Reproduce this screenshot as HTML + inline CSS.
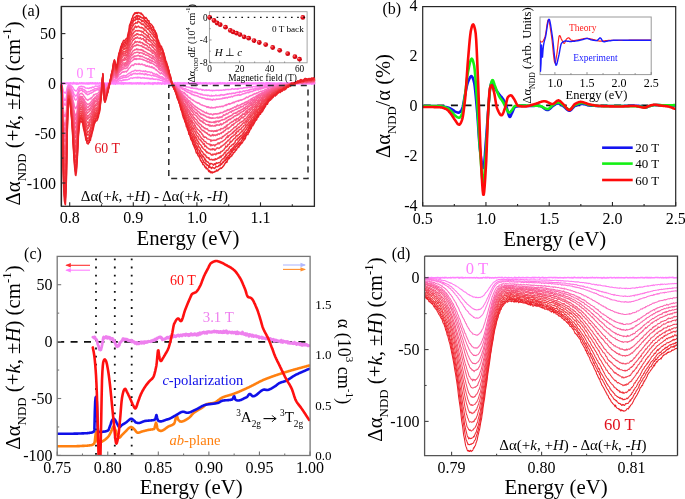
<!DOCTYPE html>
<html><head><meta charset="utf-8"><style>html,body{margin:0;padding:0;background:#fff;}svg{display:block;will-change:transform;}</style></head>
<body><svg width="685" height="499" viewBox="0 0 685 499"><defs><radialGradient id="sph" cx="0.35" cy="0.35" r="0.7"><stop offset="0" stop-color="#ff9a9a"/><stop offset="0.35" stop-color="#e8101a"/><stop offset="1" stop-color="#c00010"/></radialGradient></defs><g><rect width="685" height="499" fill="#fff"/>
<rect x="61.4" y="6.5" width="252.99999999999997" height="199.8" fill="none" stroke="#262626" stroke-width="1.3"/>
<clipPath id="ca"><rect x="59.9" y="6.5" width="255.99999999999997" height="199.8"/></clipPath>
<g clip-path="url(#ca)">
<polyline points="61.4,83.5 61.9,83.6 62.4,83.5 62.9,83.1 63.4,83.6 63.9,83.5 64.4,83.3 64.9,83.5 65.4,83.5 65.9,83.5 66.4,83.4 66.9,83.5 67.4,83.2 67.9,83.4 68.4,83.3 68.9,83.5 69.4,83.4 69.9,83.3 70.4,83.2 70.9,83.3 71.4,83.4 71.9,83.3 72.4,83.7 72.9,83.6 73.4,82.8 73.9,83.0 74.4,83.4 74.9,83.3 75.4,83.4 75.9,83.4 76.4,83.8 76.9,83.2 77.4,83.3 77.9,83.8 78.4,83.5 78.9,83.5 79.4,83.3 79.9,83.1 80.4,83.4 80.9,83.4 81.4,83.1 81.9,83.3 82.4,83.4 82.9,83.2 83.4,83.4 83.9,83.4 84.4,83.4 84.9,83.3 85.4,83.5 85.9,83.6 86.4,83.5 86.9,83.2 87.4,83.6 87.9,83.3 88.4,83.6 88.9,83.2 89.4,83.6 89.9,83.4 90.4,83.1 90.9,83.3 91.4,83.4 91.9,83.5 92.4,83.2 92.9,83.2 93.4,83.4 93.9,83.3 94.4,83.4 94.9,83.6 95.4,83.1 95.9,83.5 96.4,83.7 96.9,83.3 97.4,83.2 97.9,83.6 98.4,83.5 98.9,83.6 99.4,83.3 99.9,83.1 100.4,83.4 100.9,83.3 101.4,83.6 101.9,83.4 102.4,83.1 102.9,83.1 103.4,83.6 103.9,83.5 104.4,83.3 104.9,83.4 105.4,83.5 105.9,83.5 106.4,83.6 106.9,83.5 107.4,83.4 107.9,83.3 108.4,83.6 108.9,82.9 109.4,83.4 109.9,83.4 110.4,83.1 110.9,83.5 111.4,83.3 111.9,83.6 112.4,83.4 112.9,83.5 113.4,83.7 113.9,83.5 114.4,83.2 114.9,83.1 115.4,83.8 115.9,83.4 116.4,83.3 116.9,83.4 117.4,83.4 117.9,83.6 118.4,83.4 118.9,83.4 119.4,83.2 119.9,83.5 120.4,83.2 120.9,83.5 121.4,83.7 121.9,83.1 122.4,82.9 122.9,83.5 123.4,83.9 123.9,83.2 124.4,83.1 124.9,83.5 125.4,83.2 125.9,83.3 126.4,83.3 126.9,83.5 127.4,83.3 127.9,83.5 128.4,83.4 128.9,83.2 129.4,83.3 129.9,83.2 130.4,83.4 130.9,83.2 131.4,83.2 131.9,83.7 132.4,83.4 132.9,83.4 133.4,83.5 133.9,83.3 134.4,83.4 134.9,83.5 135.4,83.5 135.9,83.2 136.4,83.6 136.9,83.3 137.4,83.2 137.9,83.2 138.4,83.3 138.9,83.7 139.4,83.2 139.9,83.4 140.4,83.0 140.9,83.4 141.4,83.6 141.9,83.4 142.4,83.3 142.9,83.4 143.4,83.5 143.9,83.5 144.4,83.8 144.9,83.4 145.4,83.3 145.9,83.4 146.4,83.4 146.9,83.4 147.4,83.4 147.9,83.4 148.4,83.0 148.9,83.6 149.4,83.3 149.9,83.2 150.4,83.5 150.9,83.7 151.4,83.5 151.9,83.4 152.4,83.2 152.9,84.0 153.4,83.6 153.9,83.2 154.4,83.2 154.9,83.4 155.4,83.1 155.9,83.4 156.4,83.3 156.9,83.7 157.4,83.6 157.9,82.8 158.4,83.4 158.9,83.1 159.4,83.6 159.9,83.4 160.4,83.5 160.9,83.2 161.4,83.8 161.9,83.8 162.4,83.2 162.9,83.5 163.4,83.3 163.9,83.4 164.4,83.1 164.9,83.8 165.4,83.2 165.9,83.3 166.4,83.5 166.9,83.3 167.4,83.3 167.9,83.3 168.4,83.4 168.9,83.2 169.4,83.3 169.9,83.4 170.4,83.3 170.9,83.4 171.4,83.3 171.9,83.6 172.4,83.3 172.9,83.4 173.4,83.3 173.9,83.3 174.4,83.1 174.9,83.5 175.4,83.2 175.9,83.2 176.4,83.5 176.9,83.5 177.4,83.3 177.9,83.0 178.4,83.5 178.9,83.5 179.4,83.1 179.9,83.6 180.4,83.3 180.9,83.2 181.4,83.4 181.9,83.4 182.4,83.4 182.9,83.1 183.4,83.8 183.9,83.3 184.4,83.1 184.9,83.5 185.4,83.3 185.9,83.5 186.4,83.3 186.9,83.4 187.4,83.5 187.9,83.2 188.4,83.5 188.9,83.3 189.4,83.2 189.9,83.4 190.4,83.5 190.9,83.4 191.4,83.2 191.9,83.5 192.4,83.0 192.9,83.2 193.4,83.4 193.9,83.1 194.4,83.4 194.9,83.4 195.4,83.6 195.9,83.2 196.4,83.3 196.9,83.5 197.4,82.9 197.9,84.1 198.4,83.3 198.9,83.2 199.4,83.6 199.9,83.4 200.4,83.0 200.9,83.5 201.4,83.6 201.9,83.3 202.4,83.3 202.9,83.5 203.4,83.2 203.9,83.5 204.4,83.4 204.9,83.3 205.4,83.1 205.9,83.4 206.4,83.2 206.9,83.6 207.4,83.4 207.9,83.6 208.4,83.4 208.9,83.5 209.4,83.2 209.9,83.5 210.4,83.8 210.9,83.3 211.4,83.3 211.9,83.4 212.4,83.3 212.9,83.3 213.4,83.4 213.9,83.3 214.4,83.7 214.9,83.4 215.4,83.5 215.9,83.6 216.4,83.3 216.9,83.7 217.4,83.3 217.9,83.2 218.4,83.3 218.9,83.4 219.4,83.1 219.9,83.4 220.4,83.0 220.9,83.7 221.4,83.4 221.9,83.3 222.4,83.2 222.9,83.3 223.4,83.4 223.9,83.2 224.4,83.2 224.9,83.4 225.4,83.3 225.9,83.6 226.4,83.6 226.9,83.4 227.4,83.5 227.9,83.1 228.4,83.5 228.9,83.4 229.4,83.5 229.9,83.7 230.4,82.9 230.9,83.5 231.4,83.2 231.9,83.5 232.4,83.1 232.9,83.3 233.4,83.4 233.9,83.5 234.4,83.4 234.9,83.2 235.4,83.3 235.9,83.6 236.4,83.4 236.9,83.0 237.4,83.6 237.9,83.5 238.4,83.6 238.9,83.3 239.4,83.6 239.9,83.2 240.4,83.5 240.9,83.3 241.4,83.5 241.9,83.6 242.4,83.2 242.9,83.4 243.4,83.4 243.9,83.6 244.4,83.5 244.9,83.1 245.4,83.5 245.9,83.6 246.4,83.8 246.9,83.0 247.4,83.3 247.9,83.7 248.4,83.1 248.9,83.1 249.4,83.5 249.9,83.6 250.4,83.3 250.9,83.5 251.4,83.4 251.9,83.7 252.4,83.4 252.9,83.6 253.4,83.2 253.9,83.4 254.4,83.4 254.9,83.6 255.4,83.5 255.9,83.2 256.4,83.5 256.9,83.6 257.4,83.4 257.9,83.3 258.4,83.4 258.9,83.0 259.4,83.4 259.9,83.4 260.4,83.2 260.9,83.6 261.4,83.1 261.9,83.3 262.4,83.3 262.9,83.8 263.4,83.1 263.9,83.5 264.4,83.6 264.9,83.5 265.4,83.6 265.9,83.2 266.4,82.9 266.9,83.6 267.4,83.1 267.9,83.3 268.4,83.2 268.9,83.6 269.4,83.6 269.9,83.2 270.4,83.6 270.9,83.4 271.4,83.4 271.9,83.4 272.4,83.4 272.9,83.5 273.4,83.5 273.9,83.3 274.4,83.6 274.9,83.3 275.4,83.5 275.9,83.5 276.4,83.7 276.9,83.3 277.4,83.8 277.9,83.4 278.4,83.4 278.9,83.3 279.4,83.5 279.9,83.4 280.4,83.2 280.9,83.2 281.4,83.3 281.9,83.3 282.4,83.6 282.9,83.7 283.4,83.6 283.9,83.5 284.4,83.3 284.9,83.4 285.4,83.6 285.9,83.8 286.4,83.6 286.9,83.3 287.4,83.4 287.9,83.3 288.4,83.2 288.9,83.4 289.4,83.4 289.9,83.8 290.4,83.4 290.9,83.7 291.4,83.8 291.9,83.4 292.4,83.7 292.9,83.6 293.4,83.3 293.9,83.5 294.4,83.4 294.9,83.4 295.4,83.4 295.9,83.4 296.4,83.5 296.9,83.2 297.4,83.4 297.9,83.1 298.4,83.5 298.9,83.5 299.4,83.4 299.9,83.5 300.4,83.5 300.9,83.3 301.4,83.3 301.9,83.5 302.4,83.6 302.9,83.5 303.4,83.9 303.9,83.4 304.4,83.6 304.9,83.7 305.4,83.4 305.9,83.2 306.4,83.2 306.9,83.4 307.4,83.6 307.9,83.5 308.4,83.4 308.9,83.3 309.4,83.5 309.9,83.0 310.4,83.4 310.9,83.4 311.4,83.1 311.9,83.9 312.4,83.1 312.9,83.2 313.4,83.1 313.9,83.6 314.4,83.2" fill="none" stroke="#ff80ff" stroke-width="2.2" stroke-linejoin="round" stroke-linecap="round"/>
<polyline points="61.4,83.8 61.9,84.9 62.4,87.0 62.9,89.0 63.4,91.0 63.9,92.6 64.4,92.5 64.9,92.9 65.4,93.1 65.9,92.7 66.4,91.3 66.9,88.9 67.4,86.7 67.9,85.7 68.4,84.9 68.9,84.3 69.4,85.2 69.9,85.6 70.4,85.0 70.9,85.6 71.4,86.4 71.9,86.3 72.4,86.8 72.9,87.7 73.4,88.6 73.9,89.3 74.4,90.1 74.9,90.5 75.4,90.4 75.9,90.9 76.4,90.9 76.9,90.3 77.4,89.6 77.9,88.5 78.4,87.9 78.9,86.9 79.4,86.9 79.9,86.4 80.4,86.6 80.9,86.5 81.4,86.2 81.9,86.5 82.4,86.8 82.9,86.4 83.4,86.8 83.9,86.9 84.4,86.9 84.9,87.7 85.4,88.0 85.9,88.1 86.4,88.1 86.9,88.1 87.4,88.3 87.9,88.1 88.4,88.4 88.9,88.4 89.4,88.3 89.9,87.8 90.4,87.9 90.9,87.7 91.4,88.0 91.9,87.5 92.4,86.9 92.9,87.2 93.4,87.4 93.9,87.0 94.4,86.9 94.9,86.6 95.4,86.0 95.9,86.0 96.4,86.1 96.9,86.3 97.4,86.3 97.9,86.3 98.4,86.0 98.9,86.2 99.4,85.7 99.9,85.4 100.4,85.3 100.9,84.5 101.4,83.7 101.9,83.6 102.4,83.1 102.9,81.9 103.4,83.4 103.9,84.1 104.4,84.5 104.9,84.6 105.4,84.7 105.9,84.6 106.4,84.8 106.9,84.5 107.4,83.8 107.9,83.8 108.4,84.0 108.9,84.1 109.4,83.6 109.9,83.4 110.4,83.5 110.9,82.9 111.4,82.6 111.9,82.1 112.4,82.2 112.9,82.6 113.4,81.5 113.9,81.7 114.4,81.2 114.9,81.6 115.4,82.0 115.9,82.0 116.4,82.3 116.9,82.1 117.4,81.9 117.9,81.9 118.4,81.4 118.9,81.0 119.4,80.7 119.9,80.5 120.4,80.7 120.9,80.4 121.4,81.0 121.9,80.7 122.4,80.1 122.9,80.0 123.4,80.4 123.9,79.5 124.4,79.9 124.9,80.2 125.4,79.7 125.9,79.8 126.4,79.8 126.9,79.9 127.4,79.7 127.9,79.6 128.4,79.4 128.9,79.1 129.4,79.2 129.9,78.5 130.4,78.2 130.9,78.0 131.4,78.0 131.9,78.1 132.4,78.4 132.9,78.1 133.4,77.8 133.9,77.6 134.4,77.7 134.9,77.7 135.4,77.7 135.9,77.4 136.4,77.6 136.9,78.0 137.4,77.2 137.9,77.7 138.4,77.2 138.9,77.8 139.4,77.6 139.9,77.3 140.4,77.8 140.9,78.3 141.4,77.9 141.9,78.2 142.4,77.9 142.9,77.4 143.4,78.1 143.9,77.9 144.4,77.7 144.9,78.3 145.4,78.2 145.9,78.1 146.4,78.4 146.9,78.1 147.4,78.5 147.9,78.2 148.4,78.6 148.9,78.2 149.4,78.9 149.9,78.6 150.4,79.0 150.9,78.5 151.4,78.6 151.9,79.0 152.4,78.2 152.9,78.6 153.4,79.2 153.9,79.1 154.4,79.3 154.9,79.1 155.4,79.4 155.9,79.1 156.4,79.1 156.9,79.1 157.4,79.6 157.9,79.7 158.4,79.8 158.9,79.3 159.4,79.8 159.9,80.2 160.4,80.4 160.9,80.3 161.4,80.2 161.9,80.0 162.4,81.1 162.9,80.4 163.4,81.2 163.9,81.4 164.4,81.2 164.9,81.1 165.4,81.5 165.9,81.3 166.4,81.8 166.9,81.9 167.4,82.1 167.9,82.4 168.4,82.7 168.9,82.3 169.4,82.8 169.9,82.5 170.4,82.6 170.9,82.9 171.4,83.0 171.9,83.6 172.4,83.7 172.9,83.9 173.4,83.7 173.9,83.9 174.4,83.7 174.9,83.7 175.4,84.2 175.9,84.3 176.4,84.1 176.9,84.6 177.4,84.2 177.9,84.7 178.4,84.7 178.9,84.8 179.4,84.8 179.9,85.4 180.4,85.5 180.9,85.7 181.4,85.6 181.9,85.4 182.4,85.8 182.9,85.7 183.4,86.2 183.9,86.5 184.4,86.4 184.9,86.3 185.4,86.5 185.9,86.8 186.4,86.5 186.9,87.0 187.4,87.1 187.9,87.0 188.4,87.2 188.9,87.4 189.4,87.3 189.9,87.4 190.4,87.9 190.9,87.9 191.4,88.3 191.9,87.8 192.4,87.7 192.9,88.4 193.4,88.5 193.9,88.2 194.4,88.2 194.9,88.6 195.4,88.3 195.9,88.7 196.4,88.3 196.9,88.9 197.4,88.5 197.9,89.1 198.4,89.6 198.9,89.2 199.4,89.5 199.9,89.3 200.4,89.3 200.9,89.2 201.4,89.9 201.9,89.7 202.4,90.2 202.9,89.5 203.4,89.8 203.9,90.0 204.4,90.3 204.9,90.5 205.4,89.9 205.9,89.9 206.4,89.8 206.9,90.5 207.4,90.2 207.9,90.1 208.4,90.3 208.9,89.8 209.4,90.0 209.9,90.6 210.4,90.5 210.9,90.5 211.4,90.2 211.9,90.6 212.4,90.9 212.9,90.2 213.4,90.5 213.9,90.4 214.4,90.5 214.9,90.4 215.4,90.4 215.9,90.2 216.4,90.4 216.9,90.2 217.4,90.3 217.9,90.3 218.4,90.5 218.9,90.1 219.4,90.2 219.9,90.5 220.4,90.2 220.9,90.1 221.4,90.4 221.9,90.2 222.4,90.1 222.9,90.1 223.4,89.7 223.9,90.0 224.4,90.2 224.9,90.0 225.4,89.4 225.9,89.8 226.4,89.5 226.9,89.6 227.4,89.6 227.9,89.2 228.4,89.8 228.9,89.4 229.4,89.6 229.9,89.5 230.4,89.6 230.9,89.5 231.4,88.8 231.9,89.1 232.4,88.6 232.9,88.9 233.4,89.2 233.9,89.1 234.4,89.2 234.9,88.7 235.4,88.9 235.9,88.8 236.4,89.0 236.9,89.0 237.4,88.5 237.9,89.4 238.4,88.5 238.9,88.4 239.4,88.5 239.9,88.5 240.4,88.4 240.9,88.1 241.4,88.5 241.9,88.2 242.4,88.5 242.9,88.4 243.4,87.7 243.9,87.7 244.4,87.6 244.9,87.9 245.4,87.8 245.9,87.8 246.4,87.4 246.9,87.7 247.4,87.8 247.9,87.1 248.4,87.3 248.9,87.3 249.4,87.2 249.9,87.1 250.4,87.5 250.9,87.3 251.4,87.1 251.9,86.7 252.4,87.3 252.9,86.8 253.4,86.5 253.9,86.5 254.4,86.4 254.9,87.0 255.4,86.4 255.9,86.4 256.4,85.8 256.9,86.4 257.4,85.9 257.9,85.8 258.4,86.2 258.9,85.8 259.4,86.1 259.9,86.1 260.4,85.4 260.9,85.7 261.4,85.3 261.9,85.6 262.4,85.8 262.9,85.2 263.4,85.9 263.9,85.3 264.4,85.1 264.9,85.3 265.4,85.4 265.9,84.8 266.4,85.1 266.9,84.7 267.4,85.3 267.9,85.0 268.4,84.8 268.9,85.1 269.4,84.5 269.9,84.6 270.4,85.1 270.9,84.6 271.4,84.9 271.9,84.6 272.4,84.4 272.9,84.4 273.4,84.5 273.9,84.3 274.4,84.2 274.9,84.2 275.4,84.0 275.9,84.3 276.4,84.4 276.9,84.4 277.4,83.8 277.9,84.4 278.4,84.1 278.9,83.8 279.4,84.1 279.9,84.3 280.4,84.2 280.9,84.2 281.4,84.2 281.9,84.2 282.4,83.9 282.9,83.4 283.4,83.7 283.9,84.0 284.4,83.7 284.9,84.0 285.4,84.0 285.9,83.8 286.4,84.2 286.9,83.5 287.4,83.9 287.9,83.6 288.4,83.5 288.9,83.8 289.4,83.5 289.9,83.8 290.4,83.3 290.9,83.5 291.4,83.3 291.9,83.4 292.4,83.4 292.9,83.2 293.4,83.6 293.9,83.1 294.4,83.1 294.9,83.6 295.4,83.6 295.9,83.5 296.4,83.4 296.9,83.8 297.4,83.0 297.9,83.1 298.4,83.0 298.9,83.4 299.4,83.3 299.9,83.5 300.4,83.4 300.9,83.1 301.4,83.0 301.9,82.9 302.4,83.7 302.9,83.4 303.4,83.3 303.9,83.0 304.4,83.1 304.9,83.0 305.4,83.0 305.9,82.5 306.4,83.1 306.9,83.0 307.4,83.1 307.9,83.1 308.4,83.3 308.9,83.1 309.4,83.2 309.9,82.4 310.4,82.8 310.9,83.4 311.4,82.7 311.9,83.0 312.4,83.2 312.9,82.8 313.4,83.2 313.9,82.7 314.4,82.5" fill="none" stroke="#ff7cef" stroke-width="1.45" stroke-linejoin="round" stroke-linecap="round"/>
<polyline points="61.4,83.4 61.9,85.3 62.4,89.6 62.9,93.5 63.4,96.9 63.9,98.5 64.4,100.4 64.9,100.2 65.4,100.2 65.9,99.3 66.4,97.0 66.9,92.5 67.4,89.6 67.9,87.2 68.4,85.9 68.9,85.9 69.4,85.7 69.9,86.0 70.4,87.1 70.9,87.1 71.4,88.2 71.9,89.2 72.4,90.4 72.9,91.0 73.4,92.6 73.9,93.8 74.4,94.7 74.9,95.0 75.4,96.1 75.9,95.5 76.4,95.8 76.9,95.0 77.4,93.9 77.9,91.9 78.4,91.0 78.9,89.6 79.4,88.8 79.9,88.4 80.4,88.3 80.9,88.6 81.4,88.9 81.9,88.2 82.4,88.7 82.9,89.4 83.4,89.5 83.9,89.9 84.4,89.8 84.9,90.8 85.4,90.5 85.9,91.3 86.4,91.8 86.9,92.2 87.4,91.9 87.9,92.0 88.4,91.6 88.9,91.5 89.4,91.8 89.9,91.3 90.4,91.1 90.9,90.6 91.4,90.8 91.9,90.6 92.4,90.0 92.9,89.8 93.4,90.0 93.9,89.4 94.4,89.0 94.9,88.6 95.4,88.6 95.9,88.6 96.4,89.0 96.9,88.3 97.4,88.8 97.9,88.0 98.4,88.0 98.9,88.1 99.4,87.5 99.9,86.9 100.4,86.4 100.9,85.9 101.4,84.6 101.9,84.1 102.4,82.8 102.9,82.0 103.4,83.7 103.9,84.7 104.4,85.8 104.9,86.1 105.4,86.1 105.9,85.6 106.4,85.7 106.9,84.9 107.4,85.2 107.9,84.3 108.4,84.2 108.9,84.0 109.4,84.1 109.9,83.4 110.4,82.7 110.9,82.8 111.4,82.1 111.9,81.6 112.4,81.6 112.9,81.1 113.4,80.9 113.9,80.2 114.4,80.3 114.9,80.4 115.4,80.7 115.9,81.0 116.4,80.9 116.9,81.1 117.4,80.6 117.9,80.2 118.4,79.5 118.9,79.3 119.4,78.8 119.9,78.8 120.4,78.7 120.9,78.3 121.4,78.3 121.9,78.0 122.4,78.1 122.9,77.6 123.4,77.1 123.9,77.6 124.4,77.4 124.9,77.2 125.4,77.5 125.9,77.4 126.4,77.4 126.9,77.0 127.4,77.0 127.9,76.7 128.4,76.7 128.9,75.8 129.4,75.6 129.9,75.4 130.4,74.5 130.9,74.4 131.4,75.2 131.9,74.0 132.4,74.4 132.9,73.9 133.4,73.8 133.9,73.3 134.4,73.5 134.9,73.9 135.4,73.3 135.9,73.8 136.4,73.7 136.9,74.1 137.4,73.5 137.9,73.9 138.4,73.8 138.9,73.5 139.4,73.2 139.9,74.1 140.4,73.3 140.9,73.6 141.4,74.0 141.9,74.1 142.4,73.6 142.9,73.9 143.4,73.9 143.9,74.4 144.4,74.8 144.9,73.7 145.4,74.5 145.9,73.6 146.4,74.4 146.9,74.2 147.4,75.1 147.9,74.7 148.4,74.6 148.9,74.7 149.4,74.8 149.9,75.1 150.4,75.1 150.9,75.4 151.4,75.7 151.9,75.6 152.4,75.2 152.9,75.2 153.4,75.5 153.9,76.1 154.4,75.8 154.9,75.9 155.4,76.2 155.9,75.9 156.4,76.2 156.9,76.8 157.4,76.9 157.9,77.1 158.4,77.6 158.9,77.6 159.4,77.7 159.9,77.9 160.4,78.3 160.9,78.2 161.4,78.0 161.9,78.3 162.4,78.7 162.9,79.2 163.4,78.7 163.9,79.3 164.4,79.4 164.9,79.9 165.4,80.1 165.9,80.6 166.4,80.6 166.9,80.6 167.4,80.8 167.9,81.3 168.4,81.5 168.9,82.3 169.4,82.4 169.9,81.9 170.4,82.5 170.9,82.4 171.4,82.6 171.9,83.5 172.4,83.7 172.9,83.5 173.4,84.3 173.9,83.8 174.4,83.9 174.9,84.6 175.4,84.7 175.9,84.8 176.4,85.0 176.9,85.3 177.4,85.4 177.9,85.6 178.4,85.4 178.9,85.8 179.4,86.5 179.9,86.4 180.4,86.9 180.9,87.3 181.4,87.1 181.9,87.5 182.4,88.2 182.9,88.1 183.4,88.6 183.9,88.7 184.4,88.7 184.9,88.7 185.4,88.7 185.9,88.9 186.4,89.5 186.9,89.7 187.4,89.7 187.9,90.2 188.4,90.0 188.9,90.6 189.4,90.6 189.9,90.7 190.4,90.9 190.9,91.1 191.4,91.9 191.9,91.0 192.4,91.7 192.9,92.1 193.4,92.1 193.9,92.0 194.4,92.7 194.9,92.2 195.4,92.3 195.9,92.9 196.4,92.5 196.9,92.4 197.4,93.4 197.9,93.5 198.4,93.7 198.9,93.5 199.4,93.8 199.9,93.6 200.4,94.5 200.9,94.3 201.4,94.4 201.9,93.9 202.4,94.7 202.9,95.0 203.4,95.0 203.9,95.0 204.4,94.9 204.9,94.9 205.4,95.2 205.9,95.2 206.4,95.2 206.9,95.2 207.4,95.8 207.9,95.1 208.4,95.5 208.9,95.4 209.4,95.8 209.9,96.0 210.4,96.0 210.9,95.9 211.4,95.3 211.9,96.3 212.4,95.9 212.9,95.7 213.4,95.7 213.9,95.6 214.4,95.8 214.9,95.7 215.4,95.5 215.9,94.9 216.4,95.6 216.9,95.7 217.4,95.6 217.9,95.4 218.4,95.5 218.9,95.6 219.4,95.2 219.9,95.7 220.4,94.8 220.9,94.9 221.4,94.9 221.9,94.5 222.4,94.8 222.9,95.3 223.4,95.2 223.9,94.8 224.4,95.1 224.9,94.7 225.4,94.4 225.9,94.5 226.4,94.3 226.9,94.4 227.4,93.8 227.9,94.3 228.4,93.9 228.9,94.1 229.4,93.4 229.9,93.6 230.4,93.7 230.9,93.8 231.4,93.2 231.9,93.8 232.4,93.4 232.9,93.1 233.4,93.4 233.9,93.1 234.4,93.2 234.9,93.5 235.4,93.0 235.9,92.5 236.4,92.5 236.9,92.7 237.4,92.5 237.9,92.1 238.4,92.1 238.9,92.3 239.4,92.7 239.9,91.3 240.4,92.1 240.9,91.8 241.4,92.0 241.9,91.9 242.4,91.6 242.9,91.2 243.4,91.0 243.9,90.8 244.4,91.5 244.9,91.0 245.4,90.8 245.9,90.8 246.4,90.4 246.9,90.7 247.4,90.8 247.9,90.7 248.4,89.9 248.9,90.5 249.4,89.8 249.9,89.4 250.4,89.5 250.9,89.4 251.4,89.5 251.9,89.2 252.4,88.9 252.9,89.1 253.4,89.6 253.9,88.8 254.4,89.0 254.9,88.7 255.4,89.3 255.9,88.0 256.4,88.7 256.9,88.0 257.4,88.0 257.9,88.1 258.4,88.8 258.9,87.7 259.4,87.3 259.9,88.0 260.4,87.4 260.9,87.4 261.4,87.4 261.9,87.3 262.4,87.2 262.9,87.2 263.4,87.1 263.9,87.1 264.4,86.7 264.9,86.5 265.4,86.3 265.9,86.6 266.4,86.4 266.9,86.4 267.4,86.3 267.9,86.5 268.4,86.0 268.9,86.1 269.4,85.5 269.9,85.4 270.4,85.6 270.9,85.3 271.4,85.7 271.9,85.1 272.4,85.4 272.9,84.7 273.4,85.0 273.9,85.1 274.4,85.1 274.9,84.6 275.4,85.1 275.9,85.2 276.4,85.1 276.9,84.7 277.4,84.7 277.9,84.5 278.4,84.9 278.9,85.0 279.4,84.5 279.9,84.1 280.4,84.6 280.9,84.7 281.4,83.7 281.9,84.4 282.4,84.9 282.9,84.5 283.4,84.4 283.9,84.3 284.4,84.5 284.9,83.9 285.4,83.9 285.9,84.2 286.4,83.8 286.9,84.0 287.4,83.4 287.9,84.1 288.4,84.1 288.9,83.8 289.4,83.8 289.9,84.1 290.4,83.4 290.9,83.4 291.4,83.3 291.9,83.4 292.4,83.3 292.9,83.5 293.4,83.3 293.9,83.0 294.4,83.0 294.9,83.6 295.4,83.3 295.9,83.2 296.4,83.2 296.9,83.2 297.4,83.4 297.9,83.3 298.4,83.0 298.9,82.9 299.4,82.8 299.9,82.7 300.4,83.4 300.9,82.8 301.4,82.5 301.9,82.8 302.4,82.8 302.9,83.0 303.4,82.7 303.9,83.1 304.4,83.0 304.9,83.2 305.4,83.4 305.9,83.6 306.4,83.2 306.9,82.6 307.4,82.7 307.9,82.9 308.4,83.4 308.9,83.0 309.4,83.1 309.9,82.7 310.4,82.9 310.9,83.0 311.4,82.6 311.9,82.9 312.4,83.0 312.9,82.7 313.4,83.0 313.9,83.1 314.4,82.7" fill="none" stroke="#ff79e3" stroke-width="1.45" stroke-linejoin="round" stroke-linecap="round"/>
<polyline points="61.4,83.9 61.9,86.3 62.4,91.4 62.9,96.8 63.4,100.9 63.9,103.4 64.4,104.6 64.9,105.0 65.4,105.2 65.9,104.2 66.4,101.0 66.9,95.3 67.4,91.9 67.9,88.3 68.4,86.3 68.9,86.5 69.4,86.5 69.9,87.5 70.4,87.4 70.9,88.4 71.4,89.9 71.9,90.5 72.4,92.5 72.9,93.6 73.4,95.7 73.9,97.0 74.4,98.2 74.9,99.4 75.4,100.1 75.9,99.9 76.4,99.8 76.9,98.7 77.4,97.4 77.9,95.3 78.4,92.7 78.9,92.2 79.4,91.2 79.9,90.2 80.4,90.4 80.9,90.6 81.4,90.1 81.9,90.0 82.4,90.5 82.9,91.7 83.4,91.4 83.9,91.5 84.4,92.2 84.9,92.5 85.4,93.1 85.9,93.7 86.4,93.2 86.9,94.3 87.4,94.8 87.9,94.4 88.4,94.2 88.9,94.5 89.4,93.6 89.9,93.4 90.4,93.1 90.9,93.2 91.4,93.1 91.9,92.6 92.4,92.5 92.9,92.2 93.4,91.7 93.9,90.9 94.4,90.8 94.9,91.0 95.4,90.2 95.9,90.3 96.4,90.1 96.9,90.0 97.4,89.6 97.9,89.3 98.4,90.2 98.9,89.5 99.4,88.7 99.9,88.2 100.4,87.5 100.9,86.4 101.4,85.7 101.9,84.2 102.4,82.5 102.9,81.7 103.4,83.4 103.9,84.6 104.4,86.7 104.9,87.0 105.4,86.8 105.9,86.0 106.4,86.0 106.9,85.7 107.4,84.8 107.9,84.3 108.4,84.6 108.9,83.8 109.4,83.9 109.9,83.7 110.4,82.5 110.9,82.0 111.4,81.7 111.9,81.5 112.4,80.5 112.9,80.7 113.4,80.1 113.9,79.6 114.4,79.1 114.9,79.5 115.4,80.0 115.9,79.9 116.4,81.0 116.9,80.1 117.4,79.7 117.9,78.9 118.4,78.6 118.9,78.4 119.4,77.5 119.9,76.9 120.4,76.9 120.9,76.4 121.4,76.2 121.9,76.1 122.4,75.9 122.9,76.2 123.4,75.4 123.9,75.7 124.4,75.5 124.9,75.9 125.4,76.2 125.9,75.5 126.4,75.8 126.9,75.0 127.4,74.5 127.9,74.2 128.4,73.7 128.9,73.4 129.4,73.1 129.9,73.1 130.4,72.6 130.9,72.3 131.4,71.8 131.9,71.5 132.4,71.4 132.9,71.3 133.4,71.1 133.9,71.0 134.4,70.7 134.9,70.2 135.4,70.3 135.9,70.4 136.4,71.0 136.9,70.4 137.4,70.7 137.9,70.9 138.4,70.6 138.9,70.5 139.4,70.5 139.9,70.4 140.4,70.8 140.9,71.1 141.4,71.0 141.9,71.1 142.4,71.1 142.9,71.5 143.4,70.9 143.9,71.2 144.4,71.5 144.9,71.7 145.4,70.8 145.9,71.4 146.4,71.6 146.9,71.5 147.4,72.1 147.9,72.0 148.4,72.0 148.9,71.7 149.4,71.9 149.9,72.1 150.4,72.7 150.9,72.3 151.4,72.2 151.9,72.5 152.4,72.9 152.9,73.6 153.4,74.0 153.9,73.3 154.4,73.8 154.9,74.1 155.4,74.3 155.9,74.1 156.4,74.0 156.9,74.5 157.4,74.4 157.9,75.4 158.4,75.9 158.9,75.4 159.4,76.2 159.9,76.4 160.4,76.8 160.9,77.0 161.4,76.9 161.9,76.6 162.4,76.9 162.9,77.6 163.4,77.4 163.9,77.9 164.4,78.7 164.9,78.6 165.4,78.6 165.9,79.2 166.4,79.7 166.9,79.8 167.4,80.5 167.9,80.9 168.4,80.7 168.9,81.0 169.4,81.5 169.9,81.5 170.4,82.3 170.9,82.5 171.4,83.2 171.9,83.2 172.4,83.4 172.9,84.4 173.4,83.8 173.9,84.1 174.4,84.3 174.9,84.7 175.4,84.7 175.9,85.2 176.4,85.3 176.9,85.7 177.4,86.2 177.9,86.6 178.4,86.8 178.9,86.7 179.4,87.3 179.9,87.5 180.4,87.8 180.9,87.6 181.4,88.6 181.9,88.6 182.4,89.4 182.9,89.4 183.4,89.2 183.9,89.4 184.4,90.4 184.9,90.1 185.4,90.8 185.9,90.8 186.4,91.8 186.9,91.5 187.4,92.1 187.9,92.4 188.4,92.1 188.9,92.4 189.4,93.2 189.9,93.0 190.4,93.0 190.9,93.8 191.4,94.4 191.9,93.9 192.4,94.5 192.9,94.3 193.4,95.0 193.9,94.8 194.4,95.4 194.9,95.4 195.4,95.4 195.9,95.7 196.4,95.7 196.9,95.8 197.4,96.0 197.9,96.4 198.4,96.3 198.9,96.9 199.4,97.1 199.9,97.3 200.4,97.2 200.9,97.5 201.4,97.6 201.9,98.1 202.4,97.7 202.9,98.0 203.4,98.1 203.9,98.3 204.4,98.2 204.9,98.4 205.4,98.9 205.9,98.6 206.4,99.1 206.9,99.5 207.4,99.4 207.9,98.6 208.4,99.4 208.9,99.4 209.4,99.5 209.9,99.0 210.4,99.7 210.9,99.2 211.4,99.9 211.9,99.8 212.4,100.2 212.9,99.4 213.4,99.1 213.9,99.8 214.4,99.7 214.9,99.4 215.4,99.8 215.9,99.6 216.4,99.0 216.9,99.2 217.4,99.1 217.9,99.2 218.4,99.2 218.9,98.9 219.4,99.0 219.9,99.2 220.4,98.9 220.9,98.8 221.4,98.7 221.9,98.7 222.4,98.1 222.9,98.6 223.4,98.1 223.9,98.3 224.4,97.8 224.9,98.3 225.4,98.0 225.9,97.5 226.4,97.8 226.9,97.4 227.4,98.0 227.9,97.5 228.4,97.1 228.9,97.2 229.4,97.0 229.9,97.3 230.4,96.9 230.9,96.9 231.4,96.3 231.9,96.7 232.4,96.9 232.9,96.4 233.4,96.1 233.9,96.1 234.4,95.6 234.9,95.8 235.4,95.4 235.9,95.6 236.4,95.3 236.9,95.1 237.4,95.4 237.9,94.7 238.4,95.0 238.9,94.5 239.4,95.3 239.9,95.2 240.4,94.8 240.9,95.0 241.4,94.5 241.9,94.4 242.4,94.0 242.9,93.8 243.4,93.9 243.9,93.6 244.4,93.5 244.9,93.7 245.4,93.3 245.9,92.8 246.4,93.0 246.9,92.7 247.4,92.6 247.9,92.3 248.4,92.7 248.9,92.8 249.4,91.8 249.9,92.1 250.4,91.9 250.9,91.3 251.4,91.5 251.9,91.7 252.4,91.4 252.9,91.4 253.4,90.5 253.9,90.5 254.4,90.6 254.9,90.5 255.4,90.3 255.9,90.0 256.4,89.9 256.9,89.7 257.4,89.8 257.9,88.8 258.4,89.9 258.9,89.2 259.4,88.8 259.9,89.2 260.4,88.5 260.9,88.9 261.4,88.6 261.9,88.7 262.4,88.6 262.9,88.6 263.4,88.0 263.9,87.9 264.4,87.9 264.9,87.3 265.4,87.8 265.9,87.5 266.4,86.9 266.9,87.5 267.4,87.4 267.9,86.6 268.4,86.9 268.9,87.0 269.4,86.8 269.9,86.2 270.4,86.0 270.9,86.2 271.4,86.0 271.9,86.1 272.4,86.0 272.9,86.1 273.4,85.7 273.9,85.7 274.4,86.5 274.9,85.6 275.4,85.7 275.9,85.5 276.4,85.5 276.9,85.1 277.4,85.4 277.9,85.2 278.4,85.4 278.9,85.6 279.4,85.1 279.9,85.2 280.4,84.6 280.9,84.9 281.4,85.2 281.9,84.7 282.4,84.5 282.9,84.7 283.4,84.5 283.9,84.4 284.4,84.3 284.9,84.9 285.4,84.1 285.9,84.2 286.4,84.1 286.9,84.5 287.4,84.0 287.9,84.4 288.4,84.0 288.9,83.9 289.4,83.5 289.9,84.1 290.4,83.9 290.9,83.8 291.4,83.6 291.9,83.5 292.4,83.2 292.9,83.8 293.4,83.5 293.9,83.3 294.4,83.2 294.9,83.3 295.4,83.2 295.9,83.7 296.4,83.4 296.9,83.0 297.4,82.8 297.9,83.0 298.4,82.8 298.9,83.1 299.4,83.1 299.9,83.2 300.4,83.1 300.9,82.9 301.4,83.1 301.9,82.6 302.4,82.8 302.9,83.1 303.4,82.9 303.9,82.4 304.4,82.5 304.9,82.3 305.4,83.2 305.9,82.3 306.4,82.7 306.9,83.2 307.4,83.0 307.9,83.0 308.4,82.5 308.9,82.8 309.4,83.5 309.9,82.6 310.4,82.7 310.9,82.5 311.4,82.6 311.9,82.7 312.4,82.9 312.9,82.3 313.4,82.1 313.9,82.5 314.4,82.5" fill="none" stroke="#ff77db" stroke-width="1.45" stroke-linejoin="round" stroke-linecap="round"/>
<polyline points="61.4,84.6 61.9,88.2 62.4,95.5 62.9,103.7 63.4,110.2 63.9,113.7 64.4,115.5 64.9,116.8 65.4,116.5 65.9,114.0 66.4,110.7 66.9,101.2 67.4,95.4 67.9,90.3 68.4,87.9 68.9,87.7 69.4,87.9 69.9,89.1 70.4,89.6 70.9,90.9 71.4,92.9 71.9,94.8 72.4,96.9 72.9,99.7 73.4,101.9 73.9,103.6 74.4,105.9 74.9,107.4 75.4,108.6 75.9,108.5 76.4,107.4 76.9,106.3 77.4,104.2 77.9,100.4 78.4,98.1 78.9,96.1 79.4,94.6 79.9,94.0 80.4,93.6 80.9,93.4 81.4,93.8 81.9,93.3 82.4,94.0 82.9,94.6 83.4,94.9 83.9,96.1 84.4,96.8 84.9,97.3 85.4,98.2 85.9,99.0 86.4,99.6 86.9,99.5 87.4,100.1 87.9,100.3 88.4,99.8 88.9,99.4 89.4,99.1 89.9,98.9 90.4,98.3 90.9,98.9 91.4,97.6 91.9,97.5 92.4,96.9 92.9,96.4 93.4,95.5 93.9,94.6 94.4,95.1 94.9,94.3 95.4,94.1 95.9,93.9 96.4,94.1 96.9,93.7 97.4,93.6 97.9,93.2 98.4,92.6 98.9,92.2 99.4,91.4 99.9,90.1 100.4,89.2 100.9,87.7 101.4,87.4 101.9,85.3 102.4,82.5 102.9,80.7 103.4,84.2 103.9,85.7 104.4,88.0 104.9,88.4 105.4,88.1 105.9,87.8 106.4,87.3 106.9,87.3 107.4,86.5 107.9,86.0 108.4,85.1 108.9,84.3 109.4,83.5 109.9,82.6 110.4,82.0 110.9,81.5 111.4,81.1 111.9,79.7 112.4,79.1 112.9,78.9 113.4,77.7 113.9,77.6 114.4,77.0 114.9,77.0 115.4,77.5 115.9,78.6 116.4,78.7 116.9,78.3 117.4,77.6 117.9,76.9 118.4,76.0 118.9,74.8 119.4,74.8 119.9,74.4 120.4,74.1 120.9,73.6 121.4,73.0 121.9,72.2 122.4,72.0 122.9,72.3 123.4,71.6 123.9,72.0 124.4,72.0 124.9,71.3 125.4,71.6 125.9,71.4 126.4,71.9 126.9,71.3 127.4,70.4 127.9,70.2 128.4,69.1 128.9,68.6 129.4,68.1 129.9,67.4 130.4,66.9 130.9,66.2 131.4,65.5 131.9,65.6 132.4,65.1 132.9,64.9 133.4,65.4 133.9,64.9 134.4,64.3 134.9,63.8 135.4,63.8 135.9,64.2 136.4,64.4 136.9,64.0 137.4,64.1 137.9,64.1 138.4,64.4 138.9,63.5 139.4,64.2 139.9,64.3 140.4,64.6 140.9,64.5 141.4,64.1 141.9,64.3 142.4,64.1 142.9,64.8 143.4,64.9 143.9,65.1 144.4,64.8 144.9,64.9 145.4,65.9 145.9,65.6 146.4,66.3 146.9,66.0 147.4,65.6 147.9,66.4 148.4,66.7 148.9,66.4 149.4,66.1 149.9,67.1 150.4,67.0 150.9,67.3 151.4,66.6 151.9,67.7 152.4,66.9 152.9,67.7 153.4,68.5 153.9,67.8 154.4,68.0 154.9,68.7 155.4,69.6 155.9,69.9 156.4,69.5 156.9,70.5 157.4,70.9 157.9,71.3 158.4,71.8 158.9,72.0 159.4,72.8 159.9,73.1 160.4,73.8 160.9,73.4 161.4,72.5 161.9,73.1 162.4,73.9 162.9,74.2 163.4,74.1 163.9,75.1 164.4,75.5 164.9,76.1 165.4,76.6 165.9,77.4 166.4,78.1 166.9,78.3 167.4,78.2 167.9,78.8 168.4,79.3 168.9,80.0 169.4,80.4 169.9,80.9 170.4,81.3 170.9,82.4 171.4,83.0 171.9,83.6 172.4,83.7 172.9,84.2 173.4,84.1 173.9,84.4 174.4,84.9 174.9,85.6 175.4,85.7 175.9,85.8 176.4,86.6 176.9,87.1 177.4,87.5 177.9,87.7 178.4,88.3 178.9,88.6 179.4,89.1 179.9,89.6 180.4,90.3 180.9,91.0 181.4,91.4 181.9,91.6 182.4,91.7 182.9,92.1 183.4,92.6 183.9,93.4 184.4,92.6 184.9,94.0 185.4,93.7 185.9,94.7 186.4,95.5 186.9,95.3 187.4,95.2 187.9,96.7 188.4,97.2 188.9,97.3 189.4,97.9 189.9,97.6 190.4,98.6 190.9,99.1 191.4,99.1 191.9,99.3 192.4,100.0 192.9,100.3 193.4,100.0 193.9,101.0 194.4,101.1 194.9,101.3 195.4,101.9 195.9,102.1 196.4,102.4 196.9,102.3 197.4,103.0 197.9,102.7 198.4,103.2 198.9,103.0 199.4,103.3 199.9,104.2 200.4,104.3 200.9,104.6 201.4,105.0 201.9,105.1 202.4,105.0 202.9,105.5 203.4,105.6 203.9,105.7 204.4,106.0 204.9,106.1 205.4,106.2 205.9,106.4 206.4,106.7 206.9,107.4 207.4,106.7 207.9,107.2 208.4,106.7 208.9,107.8 209.4,107.3 209.9,107.5 210.4,108.0 210.9,107.9 211.4,107.2 211.9,107.9 212.4,107.6 212.9,107.9 213.4,107.7 213.9,107.9 214.4,107.7 214.9,107.5 215.4,107.9 215.9,107.0 216.4,107.2 216.9,107.0 217.4,107.2 217.9,107.0 218.4,107.1 218.9,106.9 219.4,106.8 219.9,106.4 220.4,106.8 220.9,106.8 221.4,106.4 221.9,106.2 222.4,106.1 222.9,106.7 223.4,106.1 223.9,105.9 224.4,105.6 224.9,105.3 225.4,105.0 225.9,105.6 226.4,104.4 226.9,104.9 227.4,104.6 227.9,104.3 228.4,103.8 228.9,103.7 229.4,104.2 229.9,103.5 230.4,103.9 230.9,103.6 231.4,103.4 231.9,103.3 232.4,102.5 232.9,102.6 233.4,102.8 233.9,102.0 234.4,102.7 234.9,101.9 235.4,101.8 235.9,101.4 236.4,101.6 236.9,101.1 237.4,101.1 237.9,100.7 238.4,101.2 238.9,100.2 239.4,100.7 239.9,100.4 240.4,100.3 240.9,99.7 241.4,100.2 241.9,100.0 242.4,99.6 242.9,99.4 243.4,99.1 243.9,99.1 244.4,98.5 244.9,98.7 245.4,98.4 245.9,97.7 246.4,97.1 246.9,97.6 247.4,97.3 247.9,97.5 248.4,96.9 248.9,96.5 249.4,96.0 249.9,96.2 250.4,95.8 250.9,95.4 251.4,95.5 251.9,95.6 252.4,95.1 252.9,94.5 253.4,94.7 253.9,94.0 254.4,93.6 254.9,94.1 255.4,93.5 255.9,93.8 256.4,93.4 256.9,92.8 257.4,92.9 257.9,93.1 258.4,92.4 258.9,91.9 259.4,91.9 259.9,91.6 260.4,91.3 260.9,91.1 261.4,91.4 261.9,91.5 262.4,90.8 262.9,91.0 263.4,90.8 263.9,90.8 264.4,90.1 264.9,89.8 265.4,89.8 265.9,89.5 266.4,89.4 266.9,89.5 267.4,88.7 267.9,88.7 268.4,88.2 268.9,88.3 269.4,87.9 269.9,87.7 270.4,87.8 270.9,87.6 271.4,87.7 271.9,87.7 272.4,86.8 272.9,87.5 273.4,86.4 273.9,87.0 274.4,87.0 274.9,86.5 275.4,86.5 275.9,86.3 276.4,86.7 276.9,85.3 277.4,85.9 277.9,85.5 278.4,86.1 278.9,86.3 279.4,86.2 279.9,85.9 280.4,85.7 280.9,85.3 281.4,85.8 281.9,85.6 282.4,85.0 282.9,84.8 283.4,84.9 283.9,85.4 284.4,85.4 284.9,85.4 285.4,84.6 285.9,84.6 286.4,85.0 286.9,84.6 287.4,84.7 287.9,83.9 288.4,84.2 288.9,84.2 289.4,84.0 289.9,83.9 290.4,83.4 290.9,84.4 291.4,83.8 291.9,83.3 292.4,84.0 292.9,83.6 293.4,83.7 293.9,83.3 294.4,83.1 294.9,83.0 295.4,83.3 295.9,83.4 296.4,83.2 296.9,83.2 297.4,83.4 297.9,83.0 298.4,83.2 298.9,83.2 299.4,82.9 299.9,82.7 300.4,82.6 300.9,82.3 301.4,82.2 301.9,83.0 302.4,82.6 302.9,82.4 303.4,83.0 303.9,82.8 304.4,82.5 304.9,82.7 305.4,82.3 305.9,82.5 306.4,82.9 306.9,82.7 307.4,82.2 307.9,82.5 308.4,82.6 308.9,82.2 309.4,82.1 309.9,82.8 310.4,82.1 310.9,81.8 311.4,82.2 311.9,82.8 312.4,82.3 312.9,82.4 313.4,81.4 313.9,81.9 314.4,82.4" fill="none" stroke="#fd6fc3" stroke-width="1.45" stroke-linejoin="round" stroke-linecap="round"/>
<polyline points="61.4,84.2 61.9,89.7 62.4,99.2 62.9,109.1 63.4,117.6 63.9,121.7 64.4,124.2 64.9,125.6 65.4,125.7 65.9,122.5 66.4,118.0 66.9,106.7 67.4,98.8 67.9,92.5 68.4,89.2 68.9,89.4 69.4,89.7 69.9,90.7 70.4,91.1 70.9,92.9 71.4,95.3 71.9,97.1 72.4,99.9 72.9,103.4 73.4,107.2 73.9,109.9 74.4,112.2 74.9,114.1 75.4,115.7 75.9,116.1 76.4,114.3 76.9,112.4 77.4,109.7 77.9,104.8 78.4,101.9 78.9,99.8 79.4,98.0 79.9,96.5 80.4,96.7 80.9,96.2 81.4,96.6 81.9,97.4 82.4,96.7 82.9,97.8 83.4,98.6 83.9,99.5 84.4,100.2 84.9,101.5 85.4,101.9 85.9,102.6 86.4,103.8 86.9,103.7 87.4,104.6 87.9,104.5 88.4,104.1 88.9,103.9 89.4,103.6 89.9,103.3 90.4,102.6 90.9,102.2 91.4,101.3 91.9,101.1 92.4,99.9 92.9,99.7 93.4,98.8 93.9,98.9 94.4,98.1 94.9,97.2 95.4,97.3 95.9,96.8 96.4,96.1 96.9,95.4 97.4,96.2 97.9,95.6 98.4,94.4 98.9,94.7 99.4,94.2 99.9,92.5 100.4,91.2 100.9,88.7 101.4,87.4 101.9,85.3 102.4,82.1 102.9,80.4 103.4,83.8 103.9,87.2 104.4,89.5 104.9,90.6 105.4,89.6 105.9,89.2 106.4,88.3 106.9,87.6 107.4,87.2 107.9,86.4 108.4,85.9 108.9,85.0 109.4,83.6 109.9,83.1 110.4,82.1 110.9,80.9 111.4,79.9 111.9,79.5 112.4,78.4 112.9,77.1 113.4,76.6 113.9,75.9 114.4,75.4 114.9,75.2 115.4,76.3 115.9,77.8 116.4,77.4 116.9,77.1 117.4,77.0 117.9,75.2 118.4,73.8 118.9,72.5 119.4,72.6 119.9,71.4 120.4,71.2 120.9,70.3 121.4,69.5 121.9,70.1 122.4,69.2 122.9,69.2 123.4,69.0 123.9,68.3 124.4,68.5 124.9,68.3 125.4,68.6 125.9,68.3 126.4,67.9 126.9,68.2 127.4,67.3 127.9,66.6 128.4,65.3 128.9,64.8 129.4,63.3 129.9,63.2 130.4,62.0 130.9,61.9 131.4,61.3 131.9,61.0 132.4,60.6 132.9,60.1 133.4,59.8 133.9,59.0 134.4,58.6 134.9,59.5 135.4,59.2 135.9,58.4 136.4,59.5 136.9,58.6 137.4,59.0 137.9,58.9 138.4,58.9 138.9,59.1 139.4,58.5 139.9,59.0 140.4,59.0 140.9,59.2 141.4,59.2 141.9,59.2 142.4,59.3 142.9,59.9 143.4,59.5 143.9,60.1 144.4,60.3 144.9,60.3 145.4,60.7 145.9,61.0 146.4,60.8 146.9,61.3 147.4,62.0 147.9,61.2 148.4,61.7 148.9,61.7 149.4,62.8 149.9,61.9 150.4,62.6 150.9,63.2 151.4,62.8 151.9,63.3 152.4,63.3 152.9,63.4 153.4,64.0 153.9,64.5 154.4,64.5 154.9,65.0 155.4,65.5 155.9,66.0 156.4,65.6 156.9,66.8 157.4,67.0 157.9,67.3 158.4,68.3 158.9,69.4 159.4,69.7 159.9,69.6 160.4,70.7 160.9,70.5 161.4,70.5 161.9,70.7 162.4,71.4 162.9,71.6 163.4,72.6 163.9,73.0 164.4,73.7 164.9,74.1 165.4,74.4 165.9,75.7 166.4,75.8 166.9,76.6 167.4,77.3 167.9,77.6 168.4,78.8 168.9,78.6 169.4,80.2 169.9,80.2 170.4,81.4 170.9,82.2 171.4,82.3 171.9,83.0 172.4,84.1 172.9,84.3 173.4,84.7 173.9,84.5 174.4,85.0 174.9,86.1 175.4,86.9 175.9,86.7 176.4,87.2 176.9,88.1 177.4,88.7 177.9,89.3 178.4,89.5 178.9,89.5 179.4,91.2 179.9,91.1 180.4,92.2 180.9,91.7 181.4,93.1 181.9,93.3 182.4,93.7 182.9,94.9 183.4,95.6 183.9,95.5 184.4,96.4 184.9,96.4 185.4,97.1 185.9,97.7 186.4,98.2 186.9,99.0 187.4,98.9 187.9,100.1 188.4,100.6 188.9,100.7 189.4,100.9 189.9,101.0 190.4,102.2 190.9,102.4 191.4,103.1 191.9,103.2 192.4,104.0 192.9,104.4 193.4,104.8 193.9,105.3 194.4,105.7 194.9,106.4 195.4,106.2 195.9,107.1 196.4,107.3 196.9,107.4 197.4,107.6 197.9,108.8 198.4,108.7 198.9,108.8 199.4,109.4 199.9,109.6 200.4,109.8 200.9,109.8 201.4,110.6 201.9,110.8 202.4,111.0 202.9,111.7 203.4,111.2 203.9,111.6 204.4,112.2 204.9,112.6 205.4,112.8 205.9,113.0 206.4,112.2 206.9,113.3 207.4,113.4 207.9,113.7 208.4,113.4 208.9,113.9 209.4,114.2 209.9,114.5 210.4,114.2 210.9,113.7 211.4,114.2 211.9,114.5 212.4,114.4 212.9,114.9 213.4,114.1 213.9,113.8 214.4,113.9 214.9,114.3 215.4,113.7 215.9,113.6 216.4,113.6 216.9,114.2 217.4,113.8 217.9,113.5 218.4,113.8 218.9,113.6 219.4,113.0 219.9,113.5 220.4,113.2 220.9,112.3 221.4,112.5 221.9,112.8 222.4,112.7 222.9,112.2 223.4,111.8 223.9,112.0 224.4,111.1 224.9,111.6 225.4,111.2 225.9,111.0 226.4,110.5 226.9,110.8 227.4,109.6 227.9,109.8 228.4,110.1 228.9,109.5 229.4,110.0 229.9,109.4 230.4,108.8 230.9,109.2 231.4,108.6 231.9,108.6 232.4,108.0 232.9,107.8 233.4,108.0 233.9,107.5 234.4,107.0 234.9,106.8 235.4,107.1 235.9,107.2 236.4,106.1 236.9,106.4 237.4,105.0 237.9,105.3 238.4,105.8 238.9,105.9 239.4,105.2 239.9,105.1 240.4,104.8 240.9,104.9 241.4,104.0 241.9,104.3 242.4,103.7 242.9,103.5 243.4,103.4 243.9,103.1 244.4,102.7 244.9,102.6 245.4,102.1 245.9,102.6 246.4,102.0 246.9,101.4 247.4,101.7 247.9,101.3 248.4,100.7 248.9,100.1 249.4,100.1 249.9,99.9 250.4,99.9 250.9,99.0 251.4,98.6 251.9,99.3 252.4,98.7 252.9,98.0 253.4,97.3 253.9,97.5 254.4,97.4 254.9,97.0 255.4,96.8 255.9,96.2 256.4,96.3 256.9,95.5 257.4,95.3 257.9,95.0 258.4,94.7 258.9,95.3 259.4,93.9 259.9,94.3 260.4,93.6 260.9,93.3 261.4,93.5 261.9,92.7 262.4,92.9 262.9,93.5 263.4,92.4 263.9,92.4 264.4,91.7 264.9,91.8 265.4,90.9 265.9,91.2 266.4,90.8 266.9,91.3 267.4,90.3 267.9,90.0 268.4,89.7 268.9,89.2 269.4,89.7 269.9,89.7 270.4,88.9 270.9,89.1 271.4,88.6 271.9,88.6 272.4,88.5 272.9,87.7 273.4,87.8 273.9,88.2 274.4,87.1 274.9,87.6 275.4,87.4 275.9,87.0 276.4,87.2 276.9,87.2 277.4,87.1 277.9,85.9 278.4,87.3 278.9,86.4 279.4,86.8 279.9,86.3 280.4,86.1 280.9,86.1 281.4,87.1 281.9,86.4 282.4,85.7 282.9,85.8 283.4,86.0 283.9,85.7 284.4,85.4 284.9,85.2 285.4,84.8 285.9,85.3 286.4,85.3 286.9,85.6 287.4,84.5 287.9,84.8 288.4,84.5 288.9,84.8 289.4,84.3 289.9,84.0 290.4,83.5 290.9,84.2 291.4,83.9 291.9,84.2 292.4,83.5 292.9,84.5 293.4,83.3 293.9,83.6 294.4,83.5 294.9,83.6 295.4,83.1 295.9,82.8 296.4,82.7 296.9,83.2 297.4,82.9 297.9,82.9 298.4,82.5 298.9,82.7 299.4,82.7 299.9,82.8 300.4,82.0 300.9,82.2 301.4,83.0 301.9,82.3 302.4,82.3 302.9,82.2 303.4,81.8 303.9,81.9 304.4,82.3 304.9,81.9 305.4,82.8 305.9,81.6 306.4,81.4 306.9,81.9 307.4,81.6 307.9,82.4 308.4,81.8 308.9,82.1 309.4,81.4 309.9,82.1 310.4,82.0 310.9,82.2 311.4,81.9 311.9,81.9 312.4,81.8 312.9,82.0 313.4,81.5 313.9,81.8 314.4,81.4" fill="none" stroke="#fc68b0" stroke-width="1.45" stroke-linejoin="round" stroke-linecap="round"/>
<polyline points="61.4,84.7 61.9,89.8 62.4,100.7 62.9,111.8 63.4,121.7 63.9,126.0 64.4,128.8 64.9,130.9 65.4,130.4 65.9,127.7 66.4,121.6 66.9,110.2 67.4,100.5 67.9,93.1 68.4,89.9 68.9,89.7 69.4,90.6 69.9,90.8 70.4,92.4 70.9,94.8 71.4,95.9 71.9,99.3 72.4,102.4 72.9,105.9 73.4,109.6 73.9,112.0 74.4,115.8 74.9,117.6 75.4,119.2 75.9,119.9 76.4,117.2 76.9,115.7 77.4,112.8 77.9,108.4 78.4,104.3 78.9,102.3 79.4,99.6 79.9,98.6 80.4,98.2 80.9,97.4 81.4,97.9 81.9,99.2 82.4,98.7 82.9,99.5 83.4,100.0 83.9,101.3 84.4,101.9 84.9,103.3 85.4,104.7 85.9,105.1 86.4,105.8 86.9,107.1 87.4,107.2 87.9,107.3 88.4,107.2 88.9,106.3 89.4,105.9 89.9,104.9 90.4,105.4 90.9,104.5 91.4,104.0 91.9,102.9 92.4,102.8 92.9,101.9 93.4,100.9 93.9,99.5 94.4,99.1 94.9,98.9 95.4,98.3 95.9,98.5 96.4,98.4 96.9,97.5 97.4,97.3 97.9,96.7 98.4,96.8 98.9,96.2 99.4,96.1 99.9,93.8 100.4,91.5 100.9,90.1 101.4,87.9 101.9,85.6 102.4,82.1 102.9,79.7 103.4,84.0 103.9,86.7 104.4,90.8 104.9,90.9 105.4,90.4 105.9,89.5 106.4,89.3 106.9,88.0 107.4,87.9 107.9,86.4 108.4,85.7 108.9,84.9 109.4,84.6 109.9,83.0 110.4,81.9 110.9,80.8 111.4,79.7 111.9,78.7 112.4,78.5 112.9,77.3 113.4,75.5 113.9,75.0 114.4,74.0 114.9,74.9 115.4,75.8 115.9,76.7 116.4,76.7 116.9,76.7 117.4,75.6 117.9,74.0 118.4,73.1 118.9,71.5 119.4,71.0 119.9,70.1 120.4,69.7 120.9,69.6 121.4,68.4 121.9,68.3 122.4,67.4 122.9,67.0 123.4,67.2 123.9,66.9 124.4,67.1 124.9,66.9 125.4,66.1 125.9,65.4 126.4,66.1 126.9,65.3 127.4,64.7 127.9,63.8 128.4,63.2 128.9,62.3 129.4,61.4 129.9,61.2 130.4,59.3 130.9,59.2 131.4,58.2 131.9,57.8 132.4,57.7 132.9,57.4 133.4,56.4 133.9,56.9 134.4,55.9 134.9,56.4 135.4,56.0 135.9,56.2 136.4,56.0 136.9,55.7 137.4,55.9 137.9,55.3 138.4,55.3 138.9,55.7 139.4,56.4 139.9,55.7 140.4,55.9 140.9,56.8 141.4,56.3 141.9,56.4 142.4,56.2 142.9,56.7 143.4,57.1 143.9,57.1 144.4,57.6 144.9,57.7 145.4,58.1 145.9,58.3 146.4,58.1 146.9,58.7 147.4,59.3 147.9,59.0 148.4,58.7 148.9,59.4 149.4,59.5 149.9,60.7 150.4,60.3 150.9,59.9 151.4,60.5 151.9,61.4 152.4,60.7 152.9,61.2 153.4,61.7 153.9,61.9 154.4,62.1 154.9,62.7 155.4,62.5 155.9,63.2 156.4,63.7 156.9,64.4 157.4,65.1 157.9,66.0 158.4,66.6 158.9,67.2 159.4,68.0 159.9,68.6 160.4,68.8 160.9,68.3 161.4,69.1 161.9,69.5 162.4,69.6 162.9,70.4 163.4,70.8 163.9,71.7 164.4,71.8 164.9,73.2 165.4,73.6 165.9,74.2 166.4,75.1 166.9,76.2 167.4,76.8 167.9,77.3 168.4,78.2 168.9,78.4 169.4,78.8 169.9,79.3 170.4,80.7 170.9,81.5 171.4,82.5 171.9,83.3 172.4,84.3 172.9,84.1 173.4,84.6 173.9,86.0 174.4,86.0 174.9,86.2 175.4,86.1 175.9,87.1 176.4,87.8 176.9,88.5 177.4,89.2 177.9,89.7 178.4,90.8 178.9,90.6 179.4,91.5 179.9,92.0 180.4,93.1 180.9,93.6 181.4,94.4 181.9,94.8 182.4,96.7 182.9,96.2 183.4,96.3 183.9,97.2 184.4,97.6 184.9,98.6 185.4,99.3 185.9,99.7 186.4,100.1 186.9,100.5 187.4,101.8 187.9,102.2 188.4,101.4 188.9,103.0 189.4,103.2 189.9,103.9 190.4,105.1 190.9,104.6 191.4,105.2 191.9,106.9 192.4,106.3 192.9,106.9 193.4,107.8 193.9,107.7 194.4,108.4 194.9,108.9 195.4,109.8 195.9,109.2 196.4,109.9 196.9,110.5 197.4,111.3 197.9,111.2 198.4,111.9 198.9,112.0 199.4,112.4 199.9,113.3 200.4,113.2 200.9,114.6 201.4,114.0 201.9,114.6 202.4,114.8 202.9,114.3 203.4,114.6 203.9,115.6 204.4,115.3 204.9,115.8 205.4,116.0 205.9,116.0 206.4,117.0 206.9,117.0 207.4,117.0 207.9,117.3 208.4,117.0 208.9,117.8 209.4,117.3 209.9,118.3 210.4,117.7 210.9,117.8 211.4,118.4 211.9,118.3 212.4,117.7 212.9,118.3 213.4,118.0 213.9,118.0 214.4,118.1 214.9,118.1 215.4,118.1 215.9,117.9 216.4,117.7 216.9,117.5 217.4,117.9 217.9,117.1 218.4,117.9 218.9,117.9 219.4,117.8 219.9,116.8 220.4,117.5 220.9,117.0 221.4,116.8 221.9,117.4 222.4,116.2 222.9,116.1 223.4,115.2 223.9,114.6 224.4,115.3 224.9,115.1 225.4,114.9 225.9,114.5 226.4,113.4 226.9,114.0 227.4,114.0 227.9,113.9 228.4,112.8 228.9,112.6 229.4,112.5 229.9,112.2 230.4,111.6 230.9,111.7 231.4,112.3 231.9,111.1 232.4,110.6 232.9,110.9 233.4,110.6 233.9,110.7 234.4,110.0 234.9,109.9 235.4,109.4 235.9,109.2 236.4,109.4 236.9,109.0 237.4,108.8 237.9,108.7 238.4,108.0 238.9,108.1 239.4,107.9 239.9,108.0 240.4,106.7 240.9,107.0 241.4,107.0 241.9,106.4 242.4,106.4 242.9,106.4 243.4,106.0 243.9,105.0 244.4,104.9 244.9,104.0 245.4,104.9 245.9,104.4 246.4,104.5 246.9,103.7 247.4,103.0 247.9,103.4 248.4,102.2 248.9,102.3 249.4,101.9 249.9,102.0 250.4,101.7 250.9,100.9 251.4,100.4 251.9,100.3 252.4,99.8 252.9,100.0 253.4,99.5 253.9,99.5 254.4,99.6 254.9,98.1 255.4,97.9 255.9,97.9 256.4,97.6 256.9,97.1 257.4,96.3 257.9,97.5 258.4,96.4 258.9,95.6 259.4,94.9 259.9,96.0 260.4,95.3 260.9,95.0 261.4,94.3 261.9,94.4 262.4,94.0 262.9,93.0 263.4,94.5 263.9,93.4 264.4,92.9 264.9,92.3 265.4,92.2 265.9,92.9 266.4,91.9 266.9,91.0 267.4,91.5 267.9,91.1 268.4,90.8 268.9,90.3 269.4,90.1 269.9,90.0 270.4,89.6 270.9,89.0 271.4,89.0 271.9,89.1 272.4,88.4 272.9,88.7 273.4,88.5 273.9,88.7 274.4,88.3 274.9,88.0 275.4,87.9 275.9,88.0 276.4,88.0 276.9,87.1 277.4,86.8 277.9,87.0 278.4,86.3 278.9,86.7 279.4,87.1 279.9,87.1 280.4,87.1 280.9,86.5 281.4,86.4 281.9,86.0 282.4,85.9 282.9,86.1 283.4,86.2 283.9,85.9 284.4,84.9 284.9,85.7 285.4,85.4 285.9,85.1 286.4,85.2 286.9,85.3 287.4,84.9 287.9,84.5 288.4,85.8 288.9,84.3 289.4,84.5 289.9,84.7 290.4,83.9 290.9,84.2 291.4,83.6 291.9,83.7 292.4,83.4 292.9,84.2 293.4,83.0 293.9,83.6 294.4,83.3 294.9,82.5 295.4,83.7 295.9,82.8 296.4,82.8 296.9,82.9 297.4,82.5 297.9,82.5 298.4,82.6 298.9,82.3 299.4,82.6 299.9,82.9 300.4,82.1 300.9,81.8 301.4,82.3 301.9,82.4 302.4,82.4 302.9,81.8 303.4,81.3 303.9,82.4 304.4,82.3 304.9,82.5 305.4,81.6 305.9,82.1 306.4,82.2 306.9,81.2 307.4,82.2 307.9,82.3 308.4,82.0 308.9,81.9 309.4,82.0 309.9,81.6 310.4,81.1 310.9,81.3 311.4,81.5 311.9,81.2 312.4,81.9 312.9,81.3 313.4,81.4 313.9,80.8 314.4,81.5" fill="none" stroke="#fb64a4" stroke-width="1.45" stroke-linejoin="round" stroke-linecap="round"/>
<polyline points="61.4,84.3 61.9,91.2 62.4,102.4 62.9,115.7 63.4,125.7 63.9,131.7 64.4,135.6 64.9,136.9 65.4,136.2 65.9,133.8 66.4,126.3 66.9,112.9 67.4,102.2 67.9,94.5 68.4,90.7 68.9,90.3 69.4,90.7 69.9,91.6 70.4,93.4 70.9,95.7 71.4,98.1 71.9,100.9 72.4,103.8 72.9,108.5 73.4,112.6 73.9,116.2 74.4,119.3 74.9,122.0 75.4,123.8 75.9,123.8 76.4,122.0 76.9,119.7 77.4,116.1 77.9,110.5 78.4,106.5 78.9,103.2 79.4,100.7 79.9,99.7 80.4,99.4 80.9,100.0 81.4,99.9 81.9,100.5 82.4,101.2 82.9,101.5 83.4,102.7 83.9,103.4 84.4,105.0 84.9,105.9 85.4,107.1 85.9,107.7 86.4,108.5 86.9,109.3 87.4,110.0 87.9,110.4 88.4,109.2 88.9,109.2 89.4,108.7 89.9,109.2 90.4,107.7 90.9,107.0 91.4,106.8 91.9,105.4 92.4,105.1 92.9,103.4 93.4,103.7 93.9,102.0 94.4,101.2 94.9,100.4 95.4,100.4 95.9,100.2 96.4,99.6 96.9,99.9 97.4,99.0 97.9,98.7 98.4,98.2 98.9,97.9 99.4,96.4 99.9,95.1 100.4,93.0 100.9,91.0 101.4,87.9 101.9,86.2 102.4,81.4 102.9,79.1 103.4,83.7 103.9,87.2 104.4,91.0 104.9,91.9 105.4,91.8 105.9,90.4 106.4,89.7 106.9,88.7 107.4,88.2 107.9,86.8 108.4,86.2 108.9,84.9 109.4,83.6 109.9,82.4 110.4,81.4 110.9,80.9 111.4,80.6 111.9,78.3 112.4,77.0 112.9,76.2 113.4,75.0 113.9,73.7 114.4,74.0 114.9,73.8 115.4,75.0 115.9,75.8 116.4,76.2 116.9,75.9 117.4,73.8 117.9,72.6 118.4,71.5 118.9,70.0 119.4,70.3 119.9,68.6 120.4,67.9 120.9,67.4 121.4,67.1 121.9,65.9 122.4,65.2 122.9,64.8 123.4,65.0 123.9,64.5 124.4,65.4 124.9,64.9 125.4,63.2 125.9,63.8 126.4,64.1 126.9,64.4 127.4,62.2 127.9,61.8 128.4,61.4 128.9,59.6 129.4,58.7 129.9,57.5 130.4,57.1 130.9,55.8 131.4,55.6 131.9,54.5 132.4,54.9 132.9,54.3 133.4,53.6 133.9,53.2 134.4,52.9 134.9,52.6 135.4,52.7 135.9,52.7 136.4,52.4 136.9,52.2 137.4,52.2 137.9,52.2 138.4,52.6 138.9,52.5 139.4,53.3 139.9,52.6 140.4,52.8 140.9,52.6 141.4,53.0 141.9,53.0 142.4,53.0 142.9,53.5 143.4,54.2 143.9,53.6 144.4,53.9 144.9,54.3 145.4,54.7 145.9,55.3 146.4,54.9 146.9,55.3 147.4,55.3 147.9,55.5 148.4,55.9 148.9,56.0 149.4,56.8 149.9,57.3 150.4,57.0 150.9,57.2 151.4,58.3 151.9,58.0 152.4,58.9 152.9,57.6 153.4,59.0 153.9,59.0 154.4,59.5 154.9,60.4 155.4,60.9 155.9,60.9 156.4,61.8 156.9,61.8 157.4,63.1 157.9,63.8 158.4,64.1 158.9,65.8 159.4,65.8 159.9,66.6 160.4,66.4 160.9,67.0 161.4,67.4 161.9,67.5 162.4,67.9 162.9,68.8 163.4,69.4 163.9,70.0 164.4,70.9 164.9,71.7 165.4,72.5 165.9,73.7 166.4,74.8 166.9,74.7 167.4,75.6 167.9,76.1 168.4,76.7 168.9,78.4 169.4,78.5 169.9,79.7 170.4,79.9 170.9,81.1 171.4,82.5 171.9,83.4 172.4,84.0 172.9,84.7 173.4,85.1 173.9,85.9 174.4,86.7 174.9,86.8 175.4,87.2 175.9,87.5 176.4,88.3 176.9,89.1 177.4,90.4 177.9,90.0 178.4,90.9 178.9,91.5 179.4,92.9 179.9,93.1 180.4,93.4 180.9,94.0 181.4,95.6 181.9,95.6 182.4,97.2 182.9,97.9 183.4,97.8 183.9,98.8 184.4,99.6 184.9,99.7 185.4,100.4 185.9,101.3 186.4,102.2 186.9,102.9 187.4,102.8 187.9,104.2 188.4,104.7 188.9,105.3 189.4,105.8 189.9,106.9 190.4,107.7 190.9,107.5 191.4,108.2 191.9,108.2 192.4,109.2 192.9,110.1 193.4,110.3 193.9,111.0 194.4,111.4 194.9,112.0 195.4,112.7 195.9,113.2 196.4,112.7 196.9,113.8 197.4,113.3 197.9,114.8 198.4,115.1 198.9,115.5 199.4,116.7 199.9,116.6 200.4,117.3 200.9,117.5 201.4,118.3 201.9,117.9 202.4,118.3 202.9,118.7 203.4,120.0 203.9,119.2 204.4,119.7 204.9,120.4 205.4,120.5 205.9,120.2 206.4,121.3 206.9,121.0 207.4,121.6 207.9,121.5 208.4,121.8 208.9,121.4 209.4,122.4 209.9,121.7 210.4,122.1 210.9,122.6 211.4,122.2 211.9,122.3 212.4,122.3 212.9,122.4 213.4,122.5 213.9,121.7 214.4,122.0 214.9,122.8 215.4,121.3 215.9,121.7 216.4,122.1 216.9,121.0 217.4,121.3 217.9,121.2 218.4,121.9 218.9,120.9 219.4,121.4 219.9,120.8 220.4,120.9 220.9,120.3 221.4,120.0 221.9,120.2 222.4,119.6 222.9,119.8 223.4,119.6 223.9,119.5 224.4,119.6 224.9,119.3 225.4,118.1 225.9,117.9 226.4,118.5 226.9,117.6 227.4,117.2 227.9,117.5 228.4,116.6 228.9,116.9 229.4,116.2 229.9,116.5 230.4,115.7 230.9,115.8 231.4,115.6 231.9,115.5 232.4,114.3 232.9,114.2 233.4,113.6 233.9,113.2 234.4,113.3 234.9,113.3 235.4,113.4 235.9,112.5 236.4,113.1 236.9,112.2 237.4,112.2 237.9,111.5 238.4,110.9 238.9,111.7 239.4,110.7 239.9,111.0 240.4,110.2 240.9,110.3 241.4,109.7 241.9,109.4 242.4,109.2 242.9,109.2 243.4,108.2 243.9,108.0 244.4,108.3 244.9,107.4 245.4,107.4 245.9,106.5 246.4,106.5 246.9,106.6 247.4,105.9 247.9,105.5 248.4,104.9 248.9,104.7 249.4,103.6 249.9,103.3 250.4,103.7 250.9,102.5 251.4,103.3 251.9,102.7 252.4,101.6 252.9,100.9 253.4,100.4 253.9,101.1 254.4,100.5 254.9,100.7 255.4,100.0 255.9,100.1 256.4,99.5 256.9,98.5 257.4,98.5 257.9,97.9 258.4,97.8 258.9,97.4 259.4,97.2 259.9,97.5 260.4,96.5 260.9,95.9 261.4,95.8 261.9,95.6 262.4,95.2 262.9,95.1 263.4,94.7 263.9,94.9 264.4,94.5 264.9,93.5 265.4,93.8 265.9,93.7 266.4,92.8 266.9,92.2 267.4,92.3 267.9,91.8 268.4,91.7 268.9,90.9 269.4,91.7 269.9,90.7 270.4,90.7 270.9,90.1 271.4,90.1 271.9,89.0 272.4,89.2 272.9,88.5 273.4,89.6 273.9,88.6 274.4,88.3 274.9,89.1 275.4,88.4 275.9,88.3 276.4,88.6 276.9,88.2 277.4,88.0 277.9,87.9 278.4,86.8 278.9,87.9 279.4,87.7 279.9,87.8 280.4,86.2 280.9,86.5 281.4,86.5 281.9,87.2 282.4,86.7 282.9,87.0 283.4,86.4 283.9,85.8 284.4,85.4 284.9,85.6 285.4,86.2 285.9,85.2 286.4,84.7 286.9,85.3 287.4,85.6 287.9,85.8 288.4,85.3 288.9,85.0 289.4,83.9 289.9,84.3 290.4,84.1 290.9,84.2 291.4,83.7 291.9,84.2 292.4,84.2 292.9,83.7 293.4,83.4 293.9,83.5 294.4,83.4 294.9,83.5 295.4,82.8 295.9,83.5 296.4,82.9 296.9,82.7 297.4,83.0 297.9,82.4 298.4,82.9 298.9,83.3 299.4,82.6 299.9,82.4 300.4,82.1 300.9,82.8 301.4,82.6 301.9,81.6 302.4,82.4 302.9,81.8 303.4,81.5 303.9,81.9 304.4,81.6 304.9,82.3 305.4,81.3 305.9,81.3 306.4,81.4 306.9,81.6 307.4,81.8 307.9,81.2 308.4,81.3 308.9,81.0 309.4,81.4 309.9,81.1 310.4,82.2 310.9,82.1 311.4,81.0 311.9,81.4 312.4,81.4 312.9,81.1 313.4,81.1 313.9,81.4 314.4,81.1" fill="none" stroke="#f96097" stroke-width="1.45" stroke-linejoin="round" stroke-linecap="round"/>
<polyline points="61.4,84.5 61.9,91.4 62.4,105.4 62.9,118.6 63.4,130.1 63.9,136.6 64.4,140.3 64.9,141.7 65.4,141.6 65.9,137.9 66.4,130.8 66.9,115.5 67.4,104.6 67.9,95.8 68.4,92.4 68.9,91.4 69.4,91.3 69.9,93.7 70.4,94.4 70.9,96.2 71.4,100.1 71.9,102.8 72.4,106.8 72.9,110.8 73.4,116.1 73.9,119.6 74.4,123.1 74.9,126.0 75.4,127.2 75.9,128.0 76.4,126.3 76.9,123.3 77.4,118.8 77.9,114.0 78.4,108.8 78.9,106.3 79.4,102.8 79.9,102.0 80.4,101.3 80.9,102.3 81.4,101.3 81.9,102.3 82.4,102.2 82.9,102.9 83.4,104.9 83.9,105.9 84.4,107.2 84.9,107.5 85.4,109.0 85.9,110.7 86.4,111.0 86.9,112.6 87.4,113.2 87.9,112.5 88.4,112.3 88.9,111.9 89.4,111.2 89.9,110.8 90.4,110.1 90.9,109.7 91.4,108.6 91.9,107.8 92.4,106.9 92.9,105.8 93.4,104.9 93.9,104.1 94.4,103.9 94.9,101.9 95.4,101.6 95.9,101.8 96.4,101.5 96.9,101.1 97.4,101.4 97.9,99.4 98.4,99.5 98.9,98.3 99.4,97.8 99.9,96.5 100.4,93.3 100.9,91.9 101.4,88.7 101.9,85.6 102.4,80.6 102.9,78.7 103.4,83.5 103.9,88.6 104.4,91.5 104.9,92.7 105.4,92.4 105.9,91.0 106.4,90.4 106.9,89.0 107.4,88.5 107.9,87.2 108.4,87.1 108.9,85.0 109.4,83.9 109.9,82.9 110.4,81.3 110.9,80.2 111.4,79.1 111.9,78.2 112.4,76.4 112.9,75.3 113.4,73.9 113.9,73.2 114.4,72.6 114.9,72.7 115.4,73.9 115.9,75.7 116.4,75.1 116.9,75.4 117.4,73.7 117.9,71.3 118.4,70.4 118.9,68.7 119.4,68.3 119.9,66.6 120.4,66.8 120.9,65.4 121.4,65.5 121.9,64.0 122.4,63.7 122.9,62.8 123.4,63.0 123.9,62.9 124.4,62.9 124.9,63.5 125.4,63.1 125.9,62.6 126.4,61.9 126.9,61.5 127.4,60.8 127.9,59.6 128.4,59.0 128.9,57.5 129.4,56.5 129.9,55.1 130.4,54.4 130.9,54.2 131.4,53.1 131.9,52.7 132.4,51.4 132.9,51.1 133.4,50.5 133.9,50.5 134.4,50.1 134.9,49.5 135.4,49.8 135.9,49.6 136.4,48.8 136.9,49.4 137.4,49.8 137.9,49.0 138.4,49.8 138.9,49.7 139.4,49.6 139.9,49.8 140.4,49.5 140.9,50.2 141.4,49.5 141.9,49.8 142.4,50.6 142.9,50.1 143.4,51.5 143.9,51.1 144.4,51.6 144.9,51.9 145.4,51.7 145.9,52.1 146.4,52.5 146.9,52.6 147.4,53.5 147.9,53.6 148.4,53.5 148.9,54.2 149.4,54.1 149.9,54.6 150.4,54.7 150.9,54.9 151.4,55.0 151.9,55.4 152.4,56.0 152.9,56.5 153.4,55.9 153.9,56.9 154.4,57.7 154.9,57.8 155.4,57.9 155.9,58.4 156.4,60.0 156.9,59.6 157.4,60.9 157.9,62.3 158.4,62.1 158.9,64.0 159.4,63.7 159.9,65.1 160.4,66.1 160.9,64.9 161.4,65.6 161.9,66.2 162.4,66.3 162.9,67.4 163.4,67.7 163.9,68.6 164.4,69.4 164.9,70.6 165.4,71.8 165.9,72.8 166.4,73.3 166.9,73.7 167.4,74.8 167.9,75.6 168.4,76.5 168.9,77.7 169.4,78.3 169.9,79.3 170.4,80.2 170.9,81.1 171.4,82.1 171.9,83.5 172.4,84.0 172.9,84.6 173.4,84.8 173.9,85.5 174.4,86.1 174.9,87.2 175.4,87.0 175.9,88.6 176.4,89.1 176.9,89.5 177.4,90.2 177.9,91.5 178.4,92.1 178.9,92.0 179.4,93.3 179.9,94.0 180.4,95.1 180.9,95.6 181.4,96.8 181.9,97.2 182.4,98.1 182.9,99.4 183.4,99.6 183.9,100.2 184.4,101.2 184.9,101.4 185.4,102.0 185.9,103.3 186.4,103.8 186.9,104.2 187.4,105.8 187.9,106.4 188.4,106.9 188.9,107.3 189.4,108.1 189.9,108.6 190.4,109.8 190.9,109.5 191.4,110.8 191.9,111.3 192.4,111.4 192.9,112.7 193.4,112.9 193.9,114.3 194.4,114.6 194.9,114.7 195.4,115.2 195.9,115.6 196.4,116.1 196.9,117.0 197.4,116.9 197.9,118.3 198.4,118.6 198.9,118.8 199.4,119.6 199.9,120.6 200.4,120.3 200.9,121.3 201.4,120.9 201.9,121.2 202.4,122.2 202.9,121.5 203.4,122.9 203.9,122.9 204.4,123.0 204.9,123.5 205.4,123.8 205.9,124.5 206.4,124.6 206.9,124.6 207.4,124.7 207.9,124.6 208.4,125.3 208.9,124.5 209.4,126.0 209.9,125.8 210.4,125.3 210.9,126.2 211.4,125.7 211.9,125.9 212.4,125.4 212.9,125.8 213.4,126.1 213.9,126.0 214.4,126.1 214.9,125.6 215.4,126.0 215.9,125.1 216.4,125.4 216.9,124.5 217.4,125.2 217.9,125.0 218.4,125.0 218.9,125.2 219.4,125.3 219.9,124.2 220.4,124.4 220.9,123.6 221.4,124.9 221.9,124.4 222.4,123.9 222.9,123.9 223.4,123.5 223.9,122.6 224.4,122.8 224.9,122.7 225.4,122.2 225.9,121.6 226.4,121.1 226.9,121.9 227.4,120.8 227.9,120.6 228.4,119.6 228.9,120.1 229.4,119.6 229.9,118.9 230.4,119.4 230.9,118.6 231.4,118.6 231.9,118.2 232.4,117.4 232.9,117.5 233.4,117.6 233.9,116.4 234.4,116.1 234.9,115.8 235.4,116.1 235.9,115.4 236.4,115.4 236.9,115.4 237.4,114.2 237.9,114.9 238.4,114.1 238.9,113.7 239.4,114.1 239.9,113.4 240.4,112.4 240.9,112.6 241.4,112.1 241.9,112.1 242.4,111.6 242.9,111.3 243.4,111.4 243.9,110.1 244.4,110.5 244.9,109.9 245.4,109.8 245.9,108.4 246.4,108.5 246.9,108.3 247.4,108.6 247.9,107.1 248.4,106.8 248.9,106.7 249.4,106.5 249.9,105.7 250.4,105.6 250.9,104.5 251.4,105.4 251.9,104.2 252.4,103.9 252.9,104.5 253.4,102.9 253.9,102.2 254.4,101.9 254.9,102.5 255.4,101.4 255.9,100.8 256.4,100.7 256.9,100.4 257.4,100.4 257.9,100.0 258.4,99.5 258.9,99.2 259.4,98.3 259.9,97.8 260.4,98.1 260.9,97.8 261.4,97.4 261.9,97.1 262.4,96.9 262.9,95.9 263.4,95.8 263.9,95.3 264.4,94.5 264.9,95.1 265.4,94.4 265.9,94.3 266.4,94.0 266.9,93.0 267.4,93.6 267.9,92.8 268.4,92.7 268.9,92.7 269.4,91.5 269.9,91.2 270.4,91.3 270.9,91.4 271.4,91.1 271.9,89.7 272.4,90.8 272.9,89.9 273.4,90.0 273.9,89.1 274.4,89.1 274.9,89.4 275.4,88.4 275.9,89.2 276.4,88.5 276.9,88.6 277.4,88.4 277.9,87.9 278.4,88.5 278.9,88.7 279.4,87.9 279.9,86.8 280.4,87.4 280.9,87.1 281.4,87.4 281.9,86.9 282.4,87.6 282.9,86.9 283.4,86.7 283.9,86.2 284.4,85.8 284.9,86.0 285.4,85.9 285.9,85.9 286.4,85.6 286.9,85.3 287.4,85.2 287.9,84.9 288.4,84.5 288.9,84.4 289.4,84.8 289.9,84.8 290.4,84.3 290.9,84.1 291.4,84.3 291.9,83.9 292.4,85.0 292.9,83.7 293.4,83.3 293.9,82.7 294.4,83.4 294.9,83.5 295.4,83.0 295.9,83.4 296.4,82.6 296.9,82.7 297.4,82.6 297.9,82.3 298.4,81.9 298.9,82.1 299.4,81.6 299.9,82.5 300.4,82.1 300.9,82.1 301.4,81.8 301.9,82.4 302.4,81.6 302.9,82.5 303.4,82.2 303.9,81.5 304.4,81.6 304.9,81.9 305.4,82.1 305.9,81.3 306.4,81.4 306.9,82.4 307.4,81.8 307.9,81.8 308.4,82.1 308.9,81.5 309.4,81.1 309.9,80.6 310.4,81.6 310.9,80.8 311.4,81.4 311.9,80.4 312.4,80.9 312.9,81.0 313.4,80.5 313.9,80.8 314.4,80.6" fill="none" stroke="#f85c8c" stroke-width="1.45" stroke-linejoin="round" stroke-linecap="round"/>
<polyline points="61.4,84.9 61.9,91.9 62.4,107.5 62.9,123.6 63.4,136.1 63.9,143.7 64.4,147.0 64.9,148.6 65.4,148.9 65.9,145.1 66.4,136.6 66.9,119.9 67.4,107.0 67.9,97.1 68.4,91.9 68.9,91.9 69.4,93.6 69.9,94.4 70.4,96.0 70.9,98.4 71.4,101.9 71.9,104.8 72.4,109.4 72.9,114.6 73.4,120.1 73.9,124.6 74.4,127.3 74.9,130.2 75.4,132.7 75.9,133.7 76.4,130.8 76.9,127.6 77.4,123.3 77.9,117.0 78.4,112.3 78.9,108.2 79.4,105.4 79.9,104.3 80.4,103.8 80.9,103.9 81.4,103.5 81.9,103.5 82.4,104.8 82.9,106.4 83.4,106.8 83.9,108.2 84.4,108.3 84.9,111.8 85.4,112.5 85.9,113.1 86.4,114.7 86.9,115.3 87.4,116.3 87.9,117.0 88.4,115.5 88.9,115.4 89.4,114.6 89.9,113.8 90.4,113.6 90.9,113.3 91.4,112.0 91.9,110.7 92.4,110.1 92.9,108.8 93.4,107.8 93.9,106.1 94.4,105.5 94.9,105.5 95.4,104.4 95.9,104.4 96.4,103.6 96.9,103.3 97.4,102.4 97.9,103.3 98.4,102.0 98.9,101.1 99.4,100.1 99.9,97.4 100.4,94.7 100.9,92.4 101.4,89.1 101.9,85.9 102.4,81.3 102.9,77.6 103.4,83.5 103.9,88.9 104.4,93.1 104.9,93.7 105.4,92.9 105.9,92.4 106.4,90.0 106.9,90.2 107.4,88.4 107.9,87.5 108.4,86.6 108.9,86.0 109.4,83.7 109.9,82.1 110.4,81.6 110.9,79.8 111.4,78.5 111.9,77.4 112.4,76.2 112.9,74.4 113.4,72.0 113.9,71.6 114.4,71.0 114.9,70.8 115.4,72.2 115.9,74.3 116.4,74.6 116.9,73.4 117.4,72.5 117.9,70.5 118.4,68.3 118.9,67.4 119.4,66.0 119.9,65.1 120.4,64.6 120.9,63.1 121.4,62.2 121.9,62.1 122.4,60.9 122.9,60.8 123.4,60.5 123.9,60.3 124.4,60.4 124.9,59.9 125.4,59.6 125.9,59.6 126.4,60.0 126.9,59.4 127.4,58.2 127.9,57.6 128.4,56.1 128.9,54.0 129.4,53.6 129.9,52.9 130.4,50.9 130.9,49.3 131.4,49.8 131.9,48.8 132.4,47.8 132.9,46.5 133.4,46.7 133.9,46.2 134.4,45.8 134.9,45.5 135.4,45.9 135.9,45.3 136.4,45.5 136.9,44.5 137.4,44.8 137.9,45.2 138.4,44.9 138.9,45.4 139.4,45.4 139.9,45.6 140.4,45.6 140.9,46.1 141.4,45.5 141.9,46.0 142.4,46.9 142.9,46.4 143.4,47.4 143.9,47.2 144.4,47.3 144.9,47.7 145.4,48.6 145.9,48.2 146.4,48.1 146.9,49.1 147.4,49.5 147.9,49.8 148.4,49.2 148.9,50.3 149.4,50.5 149.9,50.7 150.4,51.0 150.9,51.7 151.4,51.9 151.9,52.2 152.4,53.4 152.9,53.0 153.4,52.9 153.9,53.5 154.4,54.0 154.9,54.1 155.4,55.7 155.9,56.5 156.4,56.2 156.9,57.7 157.4,58.0 157.9,59.1 158.4,59.7 158.9,61.3 159.4,62.5 159.9,63.0 160.4,63.1 160.9,63.0 161.4,64.0 161.9,64.6 162.4,64.2 162.9,65.3 163.4,66.1 163.9,66.8 164.4,67.6 164.9,68.8 165.4,70.2 165.9,71.2 166.4,72.1 166.9,73.5 167.4,73.6 167.9,74.3 168.4,75.3 168.9,76.9 169.4,77.5 169.9,78.1 170.4,80.1 170.9,81.4 171.4,82.2 171.9,83.5 172.4,83.5 172.9,84.2 173.4,85.5 173.9,86.1 174.4,86.6 174.9,87.2 175.4,87.9 175.9,89.5 176.4,89.4 176.9,90.5 177.4,91.8 177.9,91.8 178.4,93.1 178.9,93.8 179.4,95.0 179.9,94.6 180.4,96.4 180.9,97.0 181.4,98.7 181.9,99.1 182.4,99.7 182.9,101.2 183.4,101.9 183.9,102.9 184.4,103.7 184.9,104.4 185.4,104.7 185.9,105.8 186.4,106.6 186.9,107.5 187.4,108.2 187.9,108.9 188.4,109.5 188.9,110.4 189.4,110.8 189.9,111.5 190.4,112.9 190.9,113.2 191.4,114.0 191.9,114.4 192.4,114.6 192.9,115.8 193.4,117.3 193.9,117.2 194.4,117.6 194.9,118.8 195.4,118.9 195.9,119.5 196.4,119.7 196.9,120.2 197.4,121.7 197.9,122.1 198.4,122.6 198.9,123.4 199.4,123.4 199.9,124.1 200.4,124.3 200.9,124.7 201.4,125.2 201.9,126.4 202.4,126.7 202.9,126.5 203.4,127.1 203.9,127.7 204.4,127.7 204.9,128.6 205.4,128.3 205.9,128.8 206.4,129.1 206.9,128.7 207.4,129.0 207.9,129.7 208.4,130.7 208.9,130.7 209.4,130.9 209.9,130.6 210.4,130.8 210.9,131.2 211.4,131.3 211.9,130.6 212.4,131.0 212.9,130.9 213.4,131.7 213.9,130.9 214.4,130.8 214.9,131.3 215.4,130.7 215.9,131.2 216.4,130.3 216.9,131.3 217.4,130.4 217.9,130.3 218.4,130.0 218.9,129.9 219.4,129.8 219.9,129.5 220.4,130.0 220.9,128.4 221.4,128.6 221.9,128.7 222.4,128.5 222.9,128.8 223.4,128.2 223.9,127.6 224.4,126.9 224.9,127.7 225.4,126.9 225.9,127.2 226.4,125.3 226.9,126.2 227.4,125.1 227.9,124.5 228.4,124.6 228.9,124.2 229.4,123.7 229.9,122.9 230.4,123.0 230.9,122.3 231.4,122.5 231.9,121.6 232.4,121.9 232.9,121.3 233.4,121.5 233.9,120.5 234.4,119.9 234.9,119.5 235.4,119.9 235.9,121.0 236.4,118.5 236.9,118.5 237.4,119.0 237.9,118.4 238.4,118.3 238.9,117.6 239.4,117.3 239.9,116.8 240.4,116.0 240.9,116.2 241.4,115.4 241.9,115.7 242.4,114.0 242.9,113.9 243.4,114.3 243.9,114.1 244.4,114.4 244.9,112.9 245.4,113.0 245.9,111.6 246.4,112.8 246.9,110.4 247.4,111.6 247.9,110.3 248.4,109.3 248.9,109.3 249.4,109.4 249.9,108.5 250.4,107.8 250.9,107.8 251.4,107.2 251.9,107.1 252.4,106.6 252.9,105.7 253.4,105.1 253.9,105.0 254.4,104.4 254.9,104.1 255.4,103.2 255.9,103.2 256.4,102.4 256.9,102.6 257.4,102.1 257.9,101.5 258.4,100.6 258.9,101.3 259.4,100.1 259.9,99.9 260.4,99.6 260.9,99.5 261.4,98.7 261.9,98.3 262.4,97.6 262.9,98.2 263.4,97.2 263.9,96.8 264.4,95.8 264.9,95.9 265.4,96.1 265.9,95.8 266.4,94.5 266.9,94.5 267.4,94.4 267.9,93.2 268.4,93.2 268.9,93.3 269.4,93.1 269.9,91.8 270.4,91.6 270.9,92.3 271.4,91.4 271.9,91.4 272.4,90.6 272.9,91.2 273.4,90.7 273.9,90.9 274.4,89.7 274.9,89.7 275.4,89.2 275.9,89.0 276.4,88.7 276.9,89.1 277.4,88.5 277.9,88.6 278.4,88.2 278.9,88.4 279.4,88.4 279.9,88.2 280.4,88.1 280.9,87.5 281.4,87.7 281.9,87.1 282.4,86.7 282.9,86.4 283.4,86.7 283.9,86.7 284.4,87.1 284.9,86.1 285.4,86.7 285.9,85.3 286.4,85.7 286.9,86.5 287.4,85.3 287.9,84.9 288.4,84.6 288.9,85.8 289.4,85.2 289.9,84.3 290.4,84.2 290.9,83.2 291.4,84.0 291.9,84.6 292.4,83.0 292.9,84.1 293.4,83.7 293.9,84.0 294.4,83.0 294.9,83.2 295.4,83.5 295.9,83.0 296.4,83.0 296.9,82.5 297.4,82.5 297.9,82.2 298.4,82.4 298.9,82.3 299.4,82.1 299.9,81.2 300.4,81.4 300.9,81.9 301.4,82.3 301.9,81.4 302.4,81.5 302.9,81.6 303.4,82.0 303.9,82.2 304.4,81.6 304.9,81.4 305.4,81.1 305.9,81.5 306.4,81.2 306.9,81.3 307.4,80.8 307.9,81.6 308.4,80.9 308.9,80.4 309.4,81.0 309.9,80.5 310.4,81.2 310.9,81.4 311.4,81.1 311.9,80.8 312.4,80.4 312.9,80.5 313.4,81.5 313.9,81.1 314.4,80.2" fill="none" stroke="#f7567f" stroke-width="1.45" stroke-linejoin="round" stroke-linecap="round"/>
<polyline points="61.4,84.5 61.9,93.3 62.4,109.6 62.9,126.4 63.4,140.2 63.9,147.6 64.4,151.9 64.9,154.7 65.4,154.5 65.9,149.9 66.4,140.9 66.9,122.6 67.4,109.4 67.9,98.0 68.4,92.8 68.9,93.1 69.4,93.4 69.9,96.1 70.4,96.2 70.9,99.2 71.4,103.5 71.9,107.6 72.4,111.4 72.9,115.9 73.4,122.7 73.9,126.6 74.4,131.0 74.9,135.1 75.4,137.5 75.9,137.5 76.4,135.4 76.9,132.2 77.4,127.0 77.9,120.3 78.4,115.0 78.9,110.9 79.4,108.0 79.9,105.8 80.4,105.3 80.9,105.6 81.4,105.9 81.9,106.7 82.4,106.7 82.9,107.4 83.4,108.8 83.9,110.0 84.4,111.9 84.9,113.2 85.4,114.5 85.9,116.6 86.4,118.0 86.9,117.6 87.4,119.2 87.9,119.0 88.4,118.1 88.9,117.7 89.4,117.3 89.9,117.6 90.4,116.1 90.9,115.8 91.4,114.0 91.9,113.7 92.4,112.5 92.9,110.6 93.4,109.3 93.9,108.5 94.4,106.7 94.9,106.7 95.4,105.6 95.9,105.8 96.4,105.5 96.9,105.2 97.4,104.5 97.9,103.7 98.4,102.8 98.9,101.8 99.4,100.7 99.9,98.9 100.4,95.8 100.9,93.3 101.4,90.0 101.9,85.9 102.4,81.1 102.9,77.7 103.4,83.2 103.9,89.0 104.4,93.8 104.9,94.5 105.4,94.1 105.9,93.6 106.4,91.0 106.9,91.2 107.4,89.5 107.9,88.0 108.4,85.9 108.9,85.4 109.4,84.4 109.9,82.1 110.4,80.4 110.9,79.0 111.4,78.1 111.9,76.6 112.4,75.8 112.9,73.3 113.4,72.3 113.9,70.2 114.4,69.8 114.9,70.6 115.4,71.5 115.9,73.5 116.4,73.2 116.9,72.5 117.4,71.1 117.9,68.9 118.4,67.3 118.9,66.8 119.4,65.0 119.9,64.0 120.4,63.5 120.9,61.9 121.4,60.9 121.9,59.9 122.4,59.9 122.9,59.4 123.4,59.5 123.9,59.3 124.4,57.6 124.9,58.4 125.4,58.8 125.9,57.9 126.4,57.5 126.9,56.5 127.4,56.5 127.9,54.4 128.4,53.5 128.9,51.8 129.4,50.7 129.9,48.9 130.4,47.8 130.9,47.5 131.4,46.3 131.9,46.0 132.4,44.6 132.9,44.8 133.4,43.8 133.9,43.6 134.4,43.1 134.9,41.8 135.4,41.3 135.9,42.6 136.4,41.9 136.9,41.8 137.4,41.6 137.9,41.8 138.4,42.2 138.9,42.5 139.4,42.1 139.9,41.4 140.4,42.7 140.9,42.8 141.4,42.6 141.9,42.5 142.4,42.6 142.9,43.9 143.4,43.4 143.9,44.5 144.4,44.2 144.9,45.0 145.4,44.6 145.9,44.8 146.4,45.5 146.9,45.2 147.4,45.7 147.9,46.8 148.4,47.6 148.9,47.4 149.4,47.0 149.9,47.6 150.4,48.5 150.9,48.7 151.4,50.2 151.9,50.4 152.4,49.9 152.9,51.3 153.4,50.5 153.9,50.9 154.4,52.4 154.9,51.9 155.4,52.6 155.9,54.1 156.4,54.0 156.9,55.7 157.4,56.5 157.9,57.2 158.4,58.7 158.9,59.9 159.4,60.5 159.9,60.4 160.4,61.5 160.9,60.5 161.4,61.7 161.9,62.3 162.4,63.3 162.9,64.3 163.4,64.1 163.9,65.4 164.4,66.7 164.9,67.7 165.4,69.2 165.9,70.3 166.4,71.4 166.9,71.9 167.4,74.4 167.9,73.6 168.4,75.0 168.9,76.8 169.4,77.6 169.9,78.6 170.4,80.0 170.9,80.6 171.4,82.1 171.9,83.7 172.4,84.8 172.9,84.4 173.4,85.4 173.9,86.3 174.4,87.3 174.9,87.2 175.4,88.9 175.9,89.1 176.4,90.6 176.9,91.3 177.4,92.7 177.9,92.5 178.4,94.1 178.9,94.7 179.4,95.4 179.9,97.1 180.4,97.2 180.9,98.9 181.4,99.1 181.9,100.0 182.4,101.7 182.9,103.2 183.4,103.4 183.9,103.7 184.4,105.1 184.9,105.7 185.4,106.5 185.9,107.7 186.4,108.7 186.9,109.7 187.4,109.8 187.9,111.7 188.4,111.8 188.9,112.1 189.4,113.2 189.9,114.4 190.4,114.7 190.9,115.9 191.4,116.2 191.9,117.7 192.4,118.1 192.9,118.6 193.4,119.8 193.9,119.7 194.4,120.8 194.9,121.7 195.4,122.3 195.9,122.9 196.4,123.8 196.9,123.9 197.4,124.7 197.9,125.0 198.4,125.9 198.9,126.0 199.4,126.6 199.9,127.6 200.4,127.7 200.9,128.9 201.4,129.5 201.9,129.9 202.4,130.4 202.9,130.8 203.4,130.4 203.9,130.9 204.4,131.9 204.9,131.7 205.4,132.2 205.9,132.8 206.4,133.2 206.9,132.7 207.4,133.7 207.9,134.3 208.4,134.4 208.9,135.1 209.4,134.5 209.9,135.4 210.4,136.0 210.9,135.5 211.4,135.7 211.9,135.7 212.4,134.4 212.9,135.0 213.4,135.7 213.9,134.7 214.4,135.3 214.9,135.3 215.4,135.5 215.9,134.8 216.4,135.0 216.9,134.5 217.4,135.0 217.9,134.0 218.4,133.8 218.9,134.1 219.4,134.4 219.9,133.7 220.4,133.4 220.9,132.9 221.4,133.4 221.9,132.4 222.4,132.3 222.9,131.9 223.4,132.2 223.9,131.0 224.4,130.6 224.9,130.7 225.4,130.2 225.9,129.2 226.4,129.1 226.9,128.8 227.4,128.7 227.9,128.0 228.4,128.8 228.9,127.8 229.4,127.8 229.9,127.1 230.4,126.7 230.9,126.5 231.4,125.7 231.9,124.7 232.4,125.3 232.9,124.4 233.4,124.9 233.9,123.6 234.4,123.7 234.9,123.2 235.4,122.6 235.9,122.3 236.4,122.1 236.9,121.8 237.4,121.5 237.9,121.1 238.4,120.7 238.9,119.4 239.4,120.6 239.9,119.9 240.4,118.8 240.9,118.6 241.4,117.7 241.9,117.0 242.4,117.6 242.9,118.1 243.4,117.1 243.9,116.7 244.4,116.2 244.9,116.0 245.4,115.3 245.9,114.5 246.4,114.1 246.9,114.1 247.4,113.2 247.9,112.0 248.4,112.5 248.9,111.9 249.4,111.9 249.9,110.8 250.4,110.3 250.9,109.8 251.4,109.0 251.9,108.9 252.4,108.1 252.9,107.4 253.4,107.3 253.9,106.9 254.4,106.5 254.9,106.1 255.4,106.3 255.9,104.8 256.4,105.0 256.9,104.0 257.4,103.7 257.9,103.5 258.4,102.4 258.9,102.3 259.4,102.2 259.9,100.9 260.4,100.7 260.9,100.5 261.4,100.3 261.9,100.2 262.4,99.0 262.9,99.6 263.4,98.9 263.9,98.5 264.4,96.9 264.9,97.5 265.4,96.5 265.9,96.7 266.4,95.9 266.9,95.3 267.4,94.7 267.9,94.6 268.4,94.5 268.9,93.2 269.4,93.2 269.9,93.1 270.4,92.8 270.9,92.4 271.4,92.4 271.9,92.0 272.4,90.9 272.9,91.9 273.4,90.6 273.9,91.4 274.4,91.0 274.9,89.7 275.4,90.3 275.9,90.6 276.4,90.4 276.9,89.6 277.4,89.0 277.9,89.6 278.4,88.3 278.9,88.1 279.4,88.9 279.9,87.9 280.4,88.4 280.9,87.6 281.4,87.6 281.9,88.1 282.4,87.4 282.9,87.6 283.4,87.0 283.9,86.7 284.4,86.5 284.9,86.2 285.4,86.5 285.9,86.4 286.4,86.7 286.9,85.9 287.4,85.5 287.9,85.6 288.4,85.8 288.9,84.5 289.4,85.6 289.9,84.4 290.4,84.2 290.9,85.4 291.4,84.7 291.9,83.8 292.4,84.2 292.9,84.3 293.4,83.8 293.9,83.9 294.4,83.4 294.9,83.3 295.4,82.5 295.9,82.4 296.4,82.8 296.9,82.0 297.4,82.8 297.9,82.4 298.4,82.8 298.9,82.6 299.4,81.9 299.9,80.9 300.4,81.3 300.9,81.8 301.4,82.6 301.9,81.7 302.4,81.9 302.9,81.5 303.4,80.4 303.9,81.7 304.4,81.3 304.9,80.7 305.4,81.5 305.9,81.2 306.4,82.4 306.9,80.2 307.4,80.7 307.9,81.0 308.4,80.8 308.9,81.2 309.4,81.2 309.9,81.0 310.4,80.8 310.9,80.4 311.4,80.8 311.9,81.0 312.4,80.6 312.9,79.7 313.4,81.2 313.9,80.2 314.4,80.8" fill="none" stroke="#f65275" stroke-width="1.45" stroke-linejoin="round" stroke-linecap="round"/>
<polyline points="61.4,84.9 61.9,94.6 62.4,112.1 62.9,131.3 63.4,146.2 63.9,154.1 64.4,157.8 64.9,161.5 65.4,161.0 65.9,157.1 66.4,146.8 66.9,126.1 67.4,111.5 67.9,99.4 68.4,94.9 68.9,94.1 69.4,94.8 69.9,96.6 70.4,98.4 70.9,101.0 71.4,104.2 71.9,110.1 72.4,114.1 72.9,120.1 73.4,126.6 73.9,131.5 74.4,135.5 74.9,140.0 75.4,142.2 75.9,143.0 76.4,140.6 76.9,137.6 77.4,131.4 77.9,124.1 78.4,117.3 78.9,113.9 79.4,110.1 79.9,108.0 80.4,108.1 80.9,107.5 81.4,107.9 81.9,107.6 82.4,108.0 82.9,109.8 83.4,111.6 83.9,112.6 84.4,114.3 84.9,116.8 85.4,118.0 85.9,119.4 86.4,120.6 86.9,121.3 87.4,122.7 87.9,123.0 88.4,122.5 88.9,122.1 89.4,119.9 89.9,120.4 90.4,119.2 90.9,118.9 91.4,117.0 91.9,116.6 92.4,115.8 92.9,113.9 93.4,112.2 93.9,110.7 94.4,110.0 94.9,108.9 95.4,108.0 95.9,108.3 96.4,108.3 96.9,107.2 97.4,107.0 97.9,106.3 98.4,105.0 98.9,104.0 99.4,102.4 99.9,100.7 100.4,97.5 100.9,93.9 101.4,90.9 101.9,87.3 102.4,80.3 102.9,77.9 103.4,84.1 103.9,89.9 104.4,95.4 104.9,96.0 105.4,95.1 105.9,93.8 106.4,92.6 106.9,91.5 107.4,90.3 107.9,89.0 108.4,87.0 108.9,86.4 109.4,84.1 109.9,82.5 110.4,81.4 110.9,79.6 111.4,76.8 111.9,76.0 112.4,74.7 112.9,72.8 113.4,70.1 113.9,69.1 114.4,68.3 114.9,69.2 115.4,70.9 115.9,72.5 116.4,72.8 116.9,71.5 117.4,70.6 117.9,67.1 118.4,66.2 118.9,64.8 119.4,63.4 119.9,62.1 120.4,60.9 120.9,60.0 121.4,58.5 121.9,58.2 122.4,57.1 122.9,56.6 123.4,55.1 123.9,55.4 124.4,55.7 124.9,55.4 125.4,55.9 125.9,54.6 126.4,55.4 126.9,54.7 127.4,53.4 127.9,51.8 128.4,50.0 128.9,48.3 129.4,46.9 129.9,45.7 130.4,44.8 130.9,43.9 131.4,43.2 131.9,42.3 132.4,40.8 132.9,40.1 133.4,40.2 133.9,38.8 134.4,39.2 134.9,38.5 135.4,37.7 135.9,38.3 136.4,38.1 136.9,37.6 137.4,36.9 137.9,38.0 138.4,38.2 138.9,38.4 139.4,38.4 139.9,38.0 140.4,37.7 140.9,38.6 141.4,39.3 141.9,39.0 142.4,38.7 142.9,38.8 143.4,38.6 143.9,40.2 144.4,40.7 144.9,39.9 145.4,40.9 145.9,42.2 146.4,41.0 146.9,42.9 147.4,43.1 147.9,43.4 148.4,43.6 148.9,44.0 149.4,44.4 149.9,45.3 150.4,44.5 150.9,44.6 151.4,45.0 151.9,46.4 152.4,47.2 152.9,46.9 153.4,47.8 153.9,48.3 154.4,49.2 154.9,49.6 155.4,50.0 155.9,50.2 156.4,51.1 156.9,52.7 157.4,53.6 157.9,55.4 158.4,55.7 158.9,57.5 159.4,57.8 159.9,58.7 160.4,58.2 160.9,59.6 161.4,59.3 161.9,60.7 162.4,61.3 162.9,61.5 163.4,63.4 163.9,64.6 164.4,65.9 164.9,66.9 165.4,67.5 165.9,69.4 166.4,69.4 166.9,70.9 167.4,72.3 167.9,72.5 168.4,74.9 168.9,75.8 169.4,76.6 169.9,76.9 170.4,78.8 170.9,80.8 171.4,82.2 171.9,82.8 172.4,83.6 172.9,85.1 173.4,85.3 173.9,85.9 174.4,88.0 174.9,88.2 175.4,89.2 175.9,89.9 176.4,91.4 176.9,92.4 177.4,92.9 177.9,93.7 178.4,94.7 178.9,96.3 179.4,97.0 179.9,97.5 180.4,99.6 180.9,100.1 181.4,101.3 181.9,102.8 182.4,103.4 182.9,104.5 183.4,105.1 183.9,106.4 184.4,107.5 184.9,108.3 185.4,109.0 185.9,110.0 186.4,110.9 186.9,112.1 187.4,112.7 187.9,114.1 188.4,114.5 188.9,116.1 189.4,116.6 189.9,117.1 190.4,118.4 190.9,118.6 191.4,121.2 191.9,120.4 192.4,121.4 192.9,122.9 193.4,122.8 193.9,123.4 194.4,124.1 194.9,125.8 195.4,125.6 195.9,127.5 196.4,127.7 196.9,128.1 197.4,129.3 197.9,129.5 198.4,130.0 198.9,130.3 199.4,130.8 199.9,132.1 200.4,131.7 200.9,132.5 201.4,133.0 201.9,134.2 202.4,134.1 202.9,135.2 203.4,136.8 203.9,136.2 204.4,137.4 204.9,137.1 205.4,136.9 205.9,137.4 206.4,137.7 206.9,138.5 207.4,138.9 207.9,139.0 208.4,139.1 208.9,139.2 209.4,139.6 209.9,139.6 210.4,139.8 210.9,141.4 211.4,140.8 211.9,140.0 212.4,140.5 212.9,140.6 213.4,140.4 213.9,140.0 214.4,140.4 214.9,140.2 215.4,140.2 215.9,140.4 216.4,139.5 216.9,139.7 217.4,139.2 217.9,138.9 218.4,138.8 218.9,139.0 219.4,138.5 219.9,138.1 220.4,138.0 220.9,138.2 221.4,138.5 221.9,138.1 222.4,136.5 222.9,136.7 223.4,136.7 223.9,135.9 224.4,135.6 224.9,134.9 225.4,134.9 225.9,134.4 226.4,133.6 226.9,133.8 227.4,133.6 227.9,133.0 228.4,131.9 228.9,132.1 229.4,132.0 229.9,131.7 230.4,131.4 230.9,130.8 231.4,129.9 231.9,129.8 232.4,129.5 232.9,128.9 233.4,128.5 233.9,127.5 234.4,127.7 234.9,127.0 235.4,126.7 235.9,127.1 236.4,126.1 236.9,125.7 237.4,124.9 237.9,124.2 238.4,123.9 238.9,123.9 239.4,123.5 239.9,122.5 240.4,122.6 240.9,122.5 241.4,121.7 241.9,121.5 242.4,121.3 242.9,121.3 243.4,120.5 243.9,120.6 244.4,118.9 244.9,119.5 245.4,118.4 245.9,118.4 246.4,118.2 246.9,117.3 247.4,116.5 247.9,116.4 248.4,115.0 248.9,115.1 249.4,114.2 249.9,113.7 250.4,112.7 250.9,112.6 251.4,112.0 251.9,111.3 252.4,110.9 252.9,109.6 253.4,110.1 253.9,109.0 254.4,108.7 254.9,107.8 255.4,107.4 255.9,106.8 256.4,107.1 256.9,105.7 257.4,105.3 257.9,105.1 258.4,104.2 258.9,103.8 259.4,103.9 259.9,103.4 260.4,103.2 260.9,102.6 261.4,101.6 261.9,101.1 262.4,101.5 262.9,99.7 263.4,100.2 263.9,100.0 264.4,99.7 264.9,99.3 265.4,98.7 265.9,98.5 266.4,96.4 266.9,96.6 267.4,96.4 267.9,94.8 268.4,95.0 268.9,95.4 269.4,94.2 269.9,94.6 270.4,94.1 270.9,94.0 271.4,93.5 271.9,93.1 272.4,92.8 272.9,91.9 273.4,92.7 273.9,91.6 274.4,91.1 274.9,91.4 275.4,90.3 275.9,91.6 276.4,91.5 276.9,90.7 277.4,89.6 277.9,89.9 278.4,89.6 278.9,89.1 279.4,89.0 279.9,89.1 280.4,88.5 280.9,88.5 281.4,88.3 281.9,87.5 282.4,87.8 282.9,87.5 283.4,88.2 283.9,87.4 284.4,87.3 284.9,87.0 285.4,86.7 285.9,86.5 286.4,86.2 286.9,85.2 287.4,85.9 287.9,85.4 288.4,85.3 288.9,84.9 289.4,84.7 289.9,84.9 290.4,84.5 290.9,84.5 291.4,84.4 291.9,84.1 292.4,84.0 292.9,83.5 293.4,83.5 293.9,83.7 294.4,83.2 294.9,83.4 295.4,83.0 295.9,83.3 296.4,82.3 296.9,82.7 297.4,82.8 297.9,82.0 298.4,82.3 298.9,82.3 299.4,82.0 299.9,82.3 300.4,82.0 300.9,81.6 301.4,82.0 301.9,81.7 302.4,82.7 302.9,80.7 303.4,81.4 303.9,81.2 304.4,81.2 304.9,80.3 305.4,81.1 305.9,80.8 306.4,81.2 306.9,80.4 307.4,81.6 307.9,80.7 308.4,80.5 308.9,80.8 309.4,80.0 309.9,80.1 310.4,80.8 310.9,80.3 311.4,80.4 311.9,79.4 312.4,79.7 312.9,79.5 313.4,80.9 313.9,80.1 314.4,80.6" fill="none" stroke="#f54d69" stroke-width="1.45" stroke-linejoin="round" stroke-linecap="round"/>
<polyline points="61.4,85.1 61.9,95.4 62.4,114.3 62.9,134.2 63.4,150.5 63.9,160.2 64.4,164.2 64.9,167.6 65.4,167.2 65.9,162.2 66.4,151.6 66.9,129.5 67.4,114.1 67.9,101.6 68.4,95.6 68.9,95.3 69.4,95.5 69.9,97.4 70.4,99.0 70.9,102.3 71.4,107.0 71.9,111.7 72.4,116.6 72.9,123.3 73.4,130.6 73.9,135.7 74.4,140.7 74.9,144.4 75.4,147.5 75.9,148.4 76.4,144.8 76.9,141.2 77.4,136.0 77.9,127.5 78.4,120.9 78.9,117.0 79.4,112.7 79.9,109.8 80.4,108.9 80.9,109.4 81.4,109.5 81.9,109.9 82.4,111.2 82.9,112.4 83.4,113.1 83.9,115.3 84.4,116.8 84.9,119.4 85.4,121.2 85.9,123.0 86.4,123.8 86.9,125.1 87.4,125.8 87.9,125.6 88.4,125.6 88.9,123.8 89.4,124.2 89.9,122.4 90.4,122.0 90.9,121.3 91.4,120.1 91.9,118.3 92.4,117.6 92.9,115.1 93.4,114.3 93.9,112.8 94.4,112.5 94.9,110.9 95.4,110.1 95.9,109.7 96.4,109.1 96.9,109.0 97.4,108.4 97.9,108.3 98.4,106.1 98.9,105.9 99.4,103.7 99.9,101.8 100.4,98.9 100.9,95.7 101.4,92.0 101.9,86.9 102.4,80.7 102.9,77.7 103.4,83.3 103.9,90.3 104.4,96.0 104.9,96.8 105.4,96.1 105.9,94.5 106.4,92.8 106.9,92.2 107.4,90.2 107.9,89.0 108.4,87.7 108.9,86.1 109.4,84.6 109.9,82.9 110.4,81.0 110.9,79.5 111.4,76.5 111.9,75.5 112.4,73.8 112.9,71.6 113.4,69.8 113.9,68.5 114.4,67.3 114.9,68.6 115.4,70.4 115.9,71.2 116.4,72.4 116.9,71.3 117.4,69.2 117.9,66.7 118.4,64.8 118.9,63.1 119.4,61.4 119.9,60.7 120.4,59.1 120.9,58.3 121.4,56.2 121.9,55.4 122.4,53.6 122.9,54.2 123.4,53.5 123.9,54.0 124.4,54.0 124.9,53.4 125.4,53.6 125.9,52.6 126.4,52.1 126.9,52.6 127.4,51.4 127.9,49.8 128.4,47.7 128.9,46.5 129.4,44.6 129.9,43.8 130.4,40.1 130.9,39.8 131.4,39.8 131.9,38.8 132.4,37.8 132.9,36.8 133.4,35.9 133.9,36.3 134.4,35.6 134.9,35.0 135.4,34.8 135.9,35.2 136.4,33.9 136.9,33.7 137.4,34.2 137.9,33.8 138.4,34.7 138.9,34.7 139.4,34.8 139.9,34.6 140.4,34.6 140.9,35.2 141.4,34.3 141.9,34.7 142.4,35.2 142.9,35.3 143.4,36.2 143.9,36.1 144.4,37.3 144.9,37.3 145.4,37.0 145.9,37.1 146.4,39.4 146.9,39.1 147.4,39.5 147.9,39.5 148.4,39.7 148.9,41.1 149.4,40.4 149.9,41.2 150.4,41.8 150.9,41.9 151.4,42.5 151.9,43.0 152.4,43.5 152.9,44.9 153.4,44.8 153.9,45.7 154.4,45.5 154.9,46.2 155.4,46.8 155.9,47.1 156.4,48.7 156.9,49.1 157.4,50.5 157.9,52.4 158.4,53.9 158.9,54.6 159.4,55.9 159.9,57.0 160.4,57.6 160.9,57.7 161.4,57.6 161.9,58.8 162.4,58.9 162.9,59.9 163.4,61.5 163.9,62.5 164.4,63.9 164.9,64.6 165.4,66.2 165.9,67.7 166.4,69.0 166.9,70.2 167.4,70.4 167.9,73.4 168.4,73.9 168.9,74.4 169.4,76.6 169.9,77.3 170.4,78.5 170.9,80.9 171.4,81.2 171.9,82.7 172.4,83.8 172.9,84.9 173.4,87.5 173.9,86.6 174.4,87.2 174.9,88.6 175.4,89.8 175.9,91.1 176.4,91.1 176.9,93.5 177.4,93.8 177.9,94.4 178.4,95.5 178.9,97.1 179.4,98.0 179.9,99.0 180.4,100.3 180.9,102.5 181.4,103.2 181.9,103.4 182.4,104.4 182.9,106.3 183.4,106.4 183.9,107.1 184.4,108.6 184.9,109.5 185.4,110.4 185.9,112.0 186.4,112.8 186.9,114.1 187.4,115.4 187.9,116.0 188.4,116.6 188.9,117.8 189.4,119.6 189.9,119.6 190.4,120.5 190.9,122.1 191.4,122.4 191.9,123.2 192.4,124.6 192.9,125.3 193.4,125.9 193.9,126.8 194.4,128.3 194.9,128.8 195.4,129.1 195.9,130.0 196.4,131.7 196.9,131.7 197.4,132.7 197.9,133.4 198.4,133.7 198.9,134.7 199.4,134.8 199.9,135.8 200.4,137.0 200.9,137.1 201.4,138.4 201.9,138.4 202.4,139.1 202.9,139.5 203.4,139.6 203.9,140.9 204.4,141.5 204.9,141.5 205.4,141.7 205.9,142.0 206.4,142.7 206.9,143.3 207.4,143.6 207.9,143.6 208.4,143.8 208.9,144.2 209.4,144.3 209.9,144.1 210.4,145.7 210.9,144.6 211.4,144.6 211.9,145.7 212.4,145.3 212.9,145.3 213.4,144.8 213.9,145.0 214.4,145.2 214.9,146.0 215.4,144.9 215.9,144.5 216.4,144.6 216.9,144.2 217.4,143.6 217.9,143.0 218.4,143.8 218.9,142.7 219.4,143.8 219.9,142.8 220.4,142.6 220.9,142.0 221.4,141.8 221.9,141.6 222.4,141.7 222.9,141.0 223.4,140.7 223.9,140.1 224.4,140.1 224.9,139.6 225.4,139.2 225.9,138.1 226.4,137.7 226.9,137.0 227.4,137.5 227.9,135.6 228.4,137.0 228.9,135.8 229.4,135.2 229.9,135.2 230.4,134.5 230.9,134.1 231.4,134.0 231.9,133.6 232.4,132.7 232.9,133.2 233.4,131.4 233.9,132.0 234.4,131.2 234.9,130.2 235.4,130.6 235.9,130.4 236.4,128.7 236.9,129.2 237.4,128.5 237.9,128.2 238.4,126.9 238.9,127.6 239.4,127.4 239.9,126.6 240.4,125.7 240.9,125.5 241.4,125.3 241.9,124.7 242.4,123.7 242.9,123.3 243.4,122.7 243.9,122.9 244.4,123.2 244.9,122.4 245.4,121.2 245.9,120.6 246.4,120.6 246.9,119.8 247.4,119.5 247.9,118.5 248.4,117.5 248.9,117.4 249.4,117.3 249.9,116.1 250.4,116.3 250.9,114.4 251.4,114.0 251.9,113.7 252.4,112.9 252.9,112.8 253.4,111.9 253.9,111.5 254.4,111.3 254.9,109.5 255.4,109.4 255.9,109.9 256.4,108.3 256.9,107.4 257.4,107.0 257.9,106.4 258.4,106.3 258.9,106.0 259.4,105.6 259.9,105.3 260.4,104.4 260.9,104.3 261.4,104.0 261.9,102.3 262.4,102.0 262.9,102.2 263.4,101.0 263.9,101.5 264.4,100.2 264.9,99.6 265.4,99.4 265.9,99.9 266.4,97.8 266.9,97.8 267.4,96.9 267.9,97.0 268.4,96.2 268.9,95.8 269.4,95.6 269.9,94.9 270.4,94.7 270.9,94.5 271.4,93.9 271.9,93.5 272.4,92.9 272.9,93.2 273.4,92.7 273.9,92.3 274.4,91.8 274.9,91.6 275.4,91.1 275.9,92.0 276.4,91.3 276.9,91.6 277.4,89.7 277.9,89.5 278.4,90.1 278.9,89.6 279.4,89.3 279.9,89.0 280.4,88.9 280.9,87.7 281.4,89.7 281.9,88.3 282.4,88.1 282.9,88.4 283.4,87.7 283.9,87.7 284.4,87.7 284.9,87.5 285.4,87.2 285.9,87.2 286.4,87.0 286.9,86.3 287.4,86.3 287.9,85.6 288.4,86.0 288.9,84.8 289.4,84.6 289.9,84.6 290.4,85.0 290.9,84.3 291.4,84.2 291.9,84.8 292.4,84.7 292.9,84.8 293.4,84.1 293.9,83.7 294.4,83.5 294.9,82.6 295.4,83.0 295.9,82.7 296.4,83.1 296.9,82.7 297.4,82.0 297.9,82.1 298.4,82.4 298.9,82.1 299.4,81.6 299.9,82.2 300.4,80.8 300.9,81.9 301.4,81.1 301.9,80.7 302.4,81.2 302.9,81.7 303.4,80.4 303.9,81.0 304.4,81.0 304.9,80.7 305.4,80.7 305.9,80.7 306.4,80.8 306.9,81.3 307.4,79.4 307.9,80.7 308.4,80.9 308.9,79.6 309.4,80.7 309.9,80.8 310.4,80.1 310.9,80.3 311.4,79.9 311.9,79.6 312.4,79.8 312.9,79.7 313.4,80.4 313.9,79.6 314.4,80.2" fill="none" stroke="#f4485e" stroke-width="1.45" stroke-linejoin="round" stroke-linecap="round"/>
<polyline points="61.4,85.8 61.9,96.4 62.4,116.9 62.9,138.4 63.4,155.2 63.9,165.3 64.4,171.9 64.9,174.3 65.4,173.4 65.9,167.9 66.4,157.6 66.9,133.2 67.4,117.0 67.9,103.1 68.4,96.0 68.9,95.8 69.4,96.2 69.9,98.5 70.4,100.8 70.9,104.5 71.4,108.5 71.9,113.7 72.4,118.7 72.9,126.7 73.4,132.9 73.9,139.5 74.4,144.4 74.9,148.5 75.4,151.7 75.9,152.2 76.4,150.0 76.9,145.6 77.4,139.4 77.9,130.8 78.4,123.2 78.9,117.8 79.4,114.0 79.9,111.6 80.4,111.5 80.9,111.4 81.4,111.9 81.9,111.6 82.4,113.6 82.9,113.9 83.4,115.6 83.9,117.9 84.4,119.8 84.9,121.6 85.4,124.4 85.9,125.2 86.4,126.5 86.9,127.2 87.4,129.2 87.9,128.5 88.4,128.0 88.9,126.7 89.4,126.3 89.9,125.6 90.4,125.1 90.9,124.3 91.4,123.2 91.9,121.1 92.4,120.1 92.9,119.1 93.4,117.0 93.9,115.5 94.4,114.5 94.9,113.4 95.4,112.5 95.9,113.1 96.4,110.7 96.9,111.0 97.4,110.5 97.9,109.4 98.4,108.4 98.9,107.1 99.4,106.4 99.9,102.5 100.4,99.0 100.9,95.4 101.4,91.9 101.9,87.2 102.4,80.3 102.9,77.1 103.4,83.6 103.9,91.1 104.4,97.9 104.9,98.1 105.4,96.2 105.9,95.7 106.4,93.9 106.9,92.6 107.4,91.3 107.9,89.9 108.4,88.0 108.9,86.6 109.4,84.5 109.9,82.8 110.4,80.7 110.9,78.1 111.4,75.9 111.9,75.7 112.4,72.5 112.9,70.3 113.4,69.3 113.9,67.7 114.4,66.2 114.9,67.2 115.4,68.2 115.9,70.3 116.4,70.5 116.9,71.0 117.4,68.1 117.9,65.9 118.4,62.4 118.9,61.7 119.4,59.2 119.9,58.3 120.4,57.6 120.9,56.6 121.4,55.5 121.9,53.8 122.4,52.3 122.9,52.5 123.4,51.7 123.9,52.0 124.4,51.6 124.9,52.0 125.4,51.3 125.9,50.7 126.4,50.6 126.9,49.6 127.4,48.3 127.9,46.7 128.4,45.1 128.9,43.0 129.4,41.5 129.9,39.0 130.4,38.0 130.9,37.4 131.4,35.8 131.9,34.7 132.4,35.1 132.9,33.2 133.4,33.5 133.9,32.0 134.4,31.8 134.9,31.7 135.4,30.8 135.9,30.5 136.4,30.8 136.9,30.6 137.4,31.0 137.9,30.4 138.4,30.4 138.9,30.9 139.4,30.6 139.9,30.7 140.4,31.4 140.9,31.3 141.4,31.1 141.9,32.3 142.4,32.0 142.9,31.4 143.4,32.4 143.9,33.6 144.4,33.6 144.9,33.7 145.4,34.5 145.9,34.5 146.4,35.1 146.9,35.9 147.4,35.6 147.9,37.4 148.4,35.7 148.9,36.7 149.4,38.3 149.9,38.5 150.4,39.7 150.9,39.6 151.4,40.4 151.9,40.7 152.4,40.8 152.9,40.5 153.4,41.8 153.9,42.7 154.4,43.2 154.9,43.3 155.4,44.9 155.9,45.0 156.4,45.7 156.9,47.4 157.4,48.7 157.9,49.6 158.4,51.1 158.9,52.9 159.4,54.7 159.9,53.3 160.4,53.9 160.9,55.1 161.4,55.7 161.9,56.8 162.4,56.5 162.9,58.4 163.4,59.7 163.9,61.2 164.4,61.9 164.9,63.3 165.4,65.0 165.9,66.2 166.4,67.5 166.9,68.8 167.4,70.6 167.9,71.5 168.4,72.8 168.9,74.5 169.4,75.4 169.9,77.1 170.4,77.7 170.9,80.0 171.4,81.7 171.9,82.9 172.4,84.1 172.9,84.9 173.4,86.8 173.9,87.0 174.4,87.6 174.9,88.6 175.4,89.5 175.9,91.1 176.4,92.2 176.9,92.9 177.4,94.1 177.9,95.7 178.4,96.2 178.9,98.6 179.4,99.2 179.9,100.1 180.4,101.6 180.9,101.9 181.4,104.2 181.9,104.8 182.4,106.8 182.9,107.9 183.4,108.3 183.9,110.5 184.4,110.8 184.9,111.9 185.4,113.7 185.9,114.7 186.4,115.1 186.9,116.6 187.4,117.3 187.9,118.2 188.4,119.4 188.9,121.0 189.4,121.0 189.9,122.9 190.4,123.4 190.9,124.6 191.4,126.3 191.9,126.8 192.4,127.4 192.9,129.3 193.4,128.6 193.9,130.3 194.4,131.6 194.9,131.4 195.4,133.1 195.9,133.6 196.4,135.3 196.9,135.7 197.4,136.4 197.9,136.2 198.4,137.5 198.9,139.1 199.4,139.4 199.9,139.4 200.4,140.3 200.9,140.2 201.4,141.8 201.9,141.9 202.4,142.3 202.9,143.1 203.4,144.4 203.9,143.9 204.4,143.8 204.9,146.6 205.4,145.8 205.9,146.2 206.4,146.2 206.9,147.7 207.4,147.8 207.9,148.2 208.4,148.4 208.9,149.0 209.4,149.0 209.9,149.0 210.4,149.8 210.9,149.6 211.4,149.3 211.9,149.8 212.4,148.7 212.9,149.7 213.4,149.2 213.9,148.8 214.4,149.6 214.9,150.2 215.4,149.7 215.9,149.2 216.4,148.4 216.9,147.9 217.4,148.2 217.9,147.9 218.4,148.1 218.9,148.6 219.4,148.0 219.9,147.6 220.4,147.3 220.9,146.2 221.4,146.9 221.9,146.3 222.4,145.5 222.9,145.4 223.4,144.9 223.9,144.8 224.4,143.9 224.9,144.1 225.4,143.1 225.9,142.4 226.4,142.8 226.9,141.6 227.4,141.2 227.9,140.2 228.4,140.8 228.9,139.8 229.4,139.6 229.9,138.8 230.4,138.6 230.9,137.4 231.4,137.3 231.9,136.4 232.4,136.4 232.9,136.4 233.4,135.4 233.9,135.1 234.4,134.8 234.9,135.0 235.4,134.1 235.9,132.5 236.4,133.4 236.9,131.5 237.4,131.2 237.9,131.5 238.4,131.7 238.9,130.2 239.4,129.5 239.9,129.5 240.4,129.3 240.9,129.4 241.4,128.3 241.9,127.6 242.4,127.1 242.9,126.9 243.4,126.5 243.9,125.3 244.4,125.1 244.9,125.0 245.4,125.1 245.9,123.7 246.4,121.8 246.9,121.9 247.4,121.7 247.9,120.7 248.4,120.8 248.9,119.5 249.4,119.2 249.9,118.6 250.4,117.5 250.9,116.8 251.4,116.3 251.9,115.3 252.4,115.2 252.9,114.2 253.4,113.9 253.9,112.8 254.4,113.4 254.9,112.3 255.4,112.1 255.9,110.5 256.4,110.1 256.9,109.9 257.4,109.3 257.9,108.8 258.4,108.5 258.9,107.8 259.4,107.6 259.9,106.3 260.4,106.5 260.9,103.8 261.4,105.1 261.9,104.3 262.4,103.7 262.9,103.4 263.4,102.8 263.9,102.5 264.4,101.2 264.9,100.9 265.4,100.7 265.9,99.7 266.4,99.2 266.9,99.1 267.4,98.4 267.9,97.5 268.4,96.9 268.9,97.0 269.4,96.7 269.9,96.2 270.4,95.7 270.9,95.0 271.4,94.3 271.9,94.3 272.4,93.9 272.9,93.4 273.4,93.5 273.9,94.4 274.4,92.5 274.9,92.2 275.4,92.4 275.9,91.5 276.4,91.3 276.9,91.1 277.4,91.0 277.9,91.1 278.4,90.7 278.9,89.5 279.4,89.8 279.9,89.3 280.4,89.6 280.9,89.0 281.4,89.5 281.9,89.7 282.4,88.4 282.9,88.4 283.4,88.5 283.9,87.6 284.4,87.0 284.9,87.6 285.4,87.3 285.9,86.1 286.4,86.7 286.9,86.2 287.4,85.9 287.9,86.0 288.4,85.1 288.9,84.9 289.4,85.8 289.9,85.3 290.4,84.8 290.9,84.7 291.4,84.5 291.9,84.2 292.4,85.1 292.9,83.5 293.4,83.9 293.9,82.9 294.4,83.5 294.9,83.8 295.4,82.8 295.9,82.3 296.4,81.8 296.9,82.9 297.4,81.9 297.9,82.2 298.4,82.3 298.9,81.4 299.4,81.8 299.9,82.2 300.4,81.1 300.9,81.3 301.4,81.3 301.9,80.5 302.4,80.9 302.9,81.4 303.4,81.9 303.9,80.4 304.4,80.8 304.9,80.9 305.4,80.5 305.9,80.3 306.4,80.4 306.9,80.2 307.4,80.0 307.9,80.2 308.4,80.2 308.9,79.2 309.4,80.2 309.9,80.0 310.4,80.1 310.9,79.1 311.4,80.8 311.9,79.9 312.4,79.1 312.9,80.2 313.4,80.0 313.9,79.4 314.4,80.2" fill="none" stroke="#f34353" stroke-width="1.45" stroke-linejoin="round" stroke-linecap="round"/>
<polyline points="61.4,85.8 61.9,96.3 62.4,119.1 62.9,142.6 63.4,162.0 63.9,172.0 64.4,178.6 64.9,180.9 65.4,180.5 65.9,175.6 66.4,162.1 66.9,136.8 67.4,118.0 67.9,103.7 68.4,97.4 68.9,95.7 69.4,97.0 69.9,100.5 70.4,102.0 70.9,105.1 71.4,110.4 71.9,116.8 72.4,121.3 72.9,130.0 73.4,137.7 73.9,144.2 74.4,149.1 74.9,154.4 75.4,156.8 75.9,157.7 76.4,155.4 76.9,150.0 77.4,143.7 77.9,134.7 78.4,125.3 78.9,119.9 79.4,117.2 79.9,114.1 80.4,113.5 80.9,113.2 81.4,113.9 81.9,114.8 82.4,115.1 82.9,116.3 83.4,118.1 83.9,119.8 84.4,121.3 84.9,124.5 85.4,126.7 85.9,129.9 86.4,129.7 86.9,130.7 87.4,133.0 87.9,131.8 88.4,131.5 88.9,131.5 89.4,130.6 89.9,129.6 90.4,128.5 90.9,126.6 91.4,125.5 91.9,124.2 92.4,123.2 92.9,121.0 93.4,119.8 93.9,117.7 94.4,116.5 94.9,114.3 95.4,114.8 95.9,113.6 96.4,114.0 96.9,112.9 97.4,112.6 97.9,111.7 98.4,110.1 98.9,108.8 99.4,108.1 99.9,105.6 100.4,100.4 100.9,96.2 101.4,93.3 101.9,87.0 102.4,79.8 102.9,75.1 103.4,84.6 103.9,91.9 104.4,97.7 104.9,98.2 105.4,96.6 105.9,96.3 106.4,95.0 106.9,93.4 107.4,91.1 107.9,90.4 108.4,88.4 108.9,85.6 109.4,83.5 109.9,81.8 110.4,80.8 110.9,77.8 111.4,77.0 111.9,74.8 112.4,71.3 112.9,69.8 113.4,69.4 113.9,66.0 114.4,65.3 114.9,65.5 115.4,67.2 115.9,69.2 116.4,70.3 116.9,69.2 117.4,67.1 117.9,64.6 118.4,61.1 118.9,59.3 119.4,58.6 119.9,56.8 120.4,54.3 120.9,53.4 121.4,53.7 121.9,51.3 122.4,50.4 122.9,50.1 123.4,49.7 123.9,48.5 124.4,48.6 124.9,49.5 125.4,48.0 125.9,48.2 126.4,48.5 126.9,47.0 127.4,45.8 127.9,43.7 128.4,41.9 128.9,40.8 129.4,38.5 129.9,36.4 130.4,34.5 130.9,34.4 131.4,33.4 131.9,31.6 132.4,30.1 132.9,29.0 133.4,29.9 133.9,29.4 134.4,27.2 134.9,27.3 135.4,26.0 135.9,26.4 136.4,27.6 136.9,27.0 137.4,26.9 137.9,26.4 138.4,26.1 138.9,26.5 139.4,27.4 139.9,27.2 140.4,27.6 140.9,27.8 141.4,27.3 141.9,28.0 142.4,27.7 142.9,28.0 143.4,29.1 143.9,28.6 144.4,30.5 144.9,30.3 145.4,30.0 145.9,30.8 146.4,31.0 146.9,32.4 147.4,32.7 147.9,32.9 148.4,34.2 148.9,33.9 149.4,34.2 149.9,34.4 150.4,34.8 150.9,36.1 151.4,36.9 151.9,37.0 152.4,37.7 152.9,38.2 153.4,39.6 153.9,39.4 154.4,40.6 154.9,40.6 155.4,41.0 155.9,41.5 156.4,42.7 156.9,44.8 157.4,45.5 157.9,48.1 158.4,48.9 158.9,49.5 159.4,51.6 159.9,52.0 160.4,53.7 160.9,53.6 161.4,53.2 161.9,54.4 162.4,54.5 162.9,55.6 163.4,57.6 163.9,59.3 164.4,60.3 164.9,62.7 165.4,62.7 165.9,65.4 166.4,66.6 166.9,67.1 167.4,69.5 167.9,70.5 168.4,72.6 168.9,72.7 169.4,75.3 169.9,76.3 170.4,78.7 170.9,80.9 171.4,81.3 171.9,83.0 172.4,84.3 172.9,85.4 173.4,86.9 173.9,87.1 174.4,87.9 174.9,89.3 175.4,90.4 175.9,92.3 176.4,92.5 176.9,93.7 177.4,95.6 177.9,96.8 178.4,97.3 178.9,98.8 179.4,99.6 179.9,102.0 180.4,102.5 180.9,103.9 181.4,105.3 181.9,106.3 182.4,108.1 182.9,109.8 183.4,110.7 183.9,112.8 184.4,113.1 184.9,113.4 185.4,115.4 185.9,116.3 186.4,118.3 186.9,118.9 187.4,120.4 187.9,120.7 188.4,122.2 188.9,123.7 189.4,124.6 189.9,125.9 190.4,127.7 190.9,127.3 191.4,128.3 191.9,130.6 192.4,131.0 192.9,131.6 193.4,133.1 193.9,134.3 194.4,134.4 194.9,136.2 195.4,136.6 195.9,138.3 196.4,137.4 196.9,140.3 197.4,140.1 197.9,141.6 198.4,141.5 198.9,142.9 199.4,143.9 199.9,144.2 200.4,144.6 200.9,145.2 201.4,145.9 201.9,147.3 202.4,147.1 202.9,148.5 203.4,148.8 203.9,149.3 204.4,149.6 204.9,150.2 205.4,149.9 205.9,151.6 206.4,151.4 206.9,152.7 207.4,152.1 207.9,152.5 208.4,153.2 208.9,153.4 209.4,153.3 209.9,153.2 210.4,154.0 210.9,154.3 211.4,155.0 211.9,155.1 212.4,154.2 212.9,155.1 213.4,154.2 213.9,154.2 214.4,154.3 214.9,153.9 215.4,154.6 215.9,154.8 216.4,153.3 216.9,153.8 217.4,153.4 217.9,153.5 218.4,152.7 218.9,153.4 219.4,152.9 219.9,152.6 220.4,153.1 220.9,151.5 221.4,151.5 221.9,151.5 222.4,151.2 222.9,150.3 223.4,150.1 223.9,150.0 224.4,148.7 224.9,148.1 225.4,147.8 225.9,146.0 226.4,147.0 226.9,146.4 227.4,146.6 227.9,144.5 228.4,144.8 228.9,144.4 229.4,144.1 229.9,142.6 230.4,141.2 230.9,142.2 231.4,141.8 231.9,141.3 232.4,140.4 232.9,139.8 233.4,139.6 233.9,138.7 234.4,138.2 234.9,138.3 235.4,137.9 235.9,136.6 236.4,135.7 236.9,135.6 237.4,136.0 237.9,135.0 238.4,135.0 238.9,134.5 239.4,134.3 239.9,133.1 240.4,132.8 240.9,132.7 241.4,131.5 241.9,130.8 242.4,131.3 242.9,130.9 243.4,129.2 243.9,129.3 244.4,128.7 244.9,128.0 245.4,127.1 245.9,126.2 246.4,125.3 246.9,125.7 247.4,124.5 247.9,124.1 248.4,122.2 248.9,122.9 249.4,122.2 249.9,121.2 250.4,121.4 250.9,119.8 251.4,119.1 251.9,117.9 252.4,117.3 252.9,117.2 253.4,116.4 253.9,116.2 254.4,114.6 254.9,114.5 255.4,113.2 255.9,112.9 256.4,112.1 256.9,110.7 257.4,111.6 257.9,110.1 258.4,109.6 258.9,109.5 259.4,108.3 259.9,107.8 260.4,106.5 260.9,107.2 261.4,106.9 261.9,105.8 262.4,106.0 262.9,105.6 263.4,104.7 263.9,103.6 264.4,103.5 264.9,102.9 265.4,102.0 265.9,101.8 266.4,100.9 266.9,99.5 267.4,99.3 267.9,98.9 268.4,97.7 268.9,97.1 269.4,97.3 269.9,97.1 270.4,95.9 270.9,96.2 271.4,95.1 271.9,94.6 272.4,95.3 272.9,94.5 273.4,93.2 273.9,93.0 274.4,93.5 274.9,92.7 275.4,92.4 275.9,91.8 276.4,92.0 276.9,93.0 277.4,90.8 277.9,92.1 278.4,90.6 278.9,90.1 279.4,90.9 279.9,90.1 280.4,89.8 280.9,90.2 281.4,90.4 281.9,89.4 282.4,88.4 282.9,88.2 283.4,88.4 283.9,88.7 284.4,88.2 284.9,87.9 285.4,88.0 285.9,86.1 286.4,87.4 286.9,86.7 287.4,86.4 287.9,86.4 288.4,85.8 288.9,85.1 289.4,84.4 289.9,85.3 290.4,84.3 290.9,84.7 291.4,83.6 291.9,84.2 292.4,84.3 292.9,83.6 293.4,83.8 293.9,83.0 294.4,82.9 294.9,83.1 295.4,82.8 295.9,82.8 296.4,82.5 296.9,82.8 297.4,83.0 297.9,82.3 298.4,82.3 298.9,81.9 299.4,81.1 299.9,81.9 300.4,81.8 300.9,80.7 301.4,81.1 301.9,80.3 302.4,81.1 302.9,81.6 303.4,80.8 303.9,80.3 304.4,81.1 304.9,80.8 305.4,80.5 305.9,80.8 306.4,80.2 306.9,80.8 307.4,79.1 307.9,80.4 308.4,79.6 308.9,80.1 309.4,79.5 309.9,79.0 310.4,80.0 310.9,79.1 311.4,78.5 311.9,79.5 312.4,80.2 312.9,80.3 313.4,80.2 313.9,78.4 314.4,79.3" fill="none" stroke="#f23d47" stroke-width="1.45" stroke-linejoin="round" stroke-linecap="round"/>
<polyline points="61.4,85.1 61.9,97.8 62.4,121.0 62.9,146.9 63.4,166.8 63.9,179.1 64.4,185.2 64.9,187.8 65.4,187.0 65.9,181.7 66.4,167.7 66.9,140.7 67.4,122.1 67.9,104.4 68.4,97.8 68.9,96.7 69.4,98.9 69.9,101.1 70.4,103.1 70.9,107.2 71.4,111.9 71.9,117.8 72.4,124.6 72.9,132.9 73.4,141.2 73.9,147.8 74.4,153.6 74.9,159.1 75.4,161.9 75.9,162.4 76.4,160.0 76.9,155.9 77.4,147.9 77.9,137.3 78.4,129.9 78.9,123.8 79.4,118.3 79.9,116.2 80.4,115.6 80.9,116.0 81.4,115.5 81.9,117.1 82.4,117.1 82.9,119.1 83.4,120.4 83.9,123.8 84.4,125.4 84.9,127.2 85.4,130.2 85.9,132.2 86.4,133.8 86.9,135.1 87.4,134.5 87.9,135.0 88.4,135.1 88.9,134.4 89.4,132.7 89.9,132.9 90.4,131.6 90.9,129.2 91.4,128.1 91.9,127.9 92.4,124.7 92.9,124.8 93.4,122.7 93.9,119.4 94.4,118.8 94.9,118.2 95.4,116.2 95.9,115.3 96.4,116.4 96.9,114.9 97.4,113.3 97.9,113.8 98.4,112.8 98.9,111.1 99.4,109.2 99.9,105.9 100.4,101.1 100.9,98.3 101.4,93.7 101.9,87.2 102.4,79.0 102.9,75.0 103.4,83.8 103.9,92.1 104.4,99.6 104.9,99.9 105.4,99.5 105.9,97.2 106.4,95.8 106.9,93.8 107.4,92.7 107.9,90.0 108.4,87.5 108.9,87.0 109.4,83.7 109.9,81.6 110.4,80.7 110.9,77.5 111.4,75.5 111.9,73.5 112.4,71.5 112.9,69.4 113.4,66.4 113.9,64.1 114.4,64.0 114.9,63.8 115.4,65.8 115.9,68.8 116.4,69.5 116.9,68.0 117.4,64.5 117.9,63.8 118.4,60.0 118.9,57.3 119.4,56.6 119.9,55.4 120.4,53.7 120.9,51.9 121.4,50.5 121.9,48.2 122.4,46.7 122.9,48.1 123.4,47.1 123.9,46.7 124.4,45.6 124.9,47.0 125.4,45.6 125.9,46.0 126.4,44.4 126.9,43.3 127.4,43.2 127.9,41.6 128.4,38.6 128.9,38.3 129.4,34.6 129.9,33.6 130.4,31.8 130.9,29.2 131.4,29.1 131.9,27.3 132.4,26.8 132.9,25.6 133.4,25.3 133.9,23.7 134.4,23.8 134.9,23.6 135.4,23.5 135.9,22.3 136.4,23.0 136.9,22.9 137.4,23.0 137.9,21.2 138.4,21.5 138.9,21.6 139.4,22.5 139.9,22.3 140.4,22.9 140.9,23.3 141.4,24.2 141.9,24.4 142.4,23.9 142.9,24.4 143.4,24.0 143.9,25.0 144.4,25.7 144.9,26.1 145.4,27.8 145.9,26.0 146.4,27.5 146.9,28.2 147.4,29.2 147.9,29.4 148.4,28.8 148.9,29.7 149.4,31.0 149.9,31.4 150.4,32.4 150.9,32.7 151.4,32.9 151.9,33.4 152.4,34.6 152.9,34.5 153.4,35.3 153.9,36.7 154.4,36.6 154.9,37.8 155.4,37.1 155.9,38.9 156.4,40.3 156.9,42.0 157.4,43.2 157.9,45.0 158.4,46.2 158.9,48.0 159.4,49.6 159.9,49.5 160.4,49.8 160.9,51.5 161.4,52.5 161.9,53.0 162.4,52.8 162.9,54.2 163.4,55.5 163.9,57.6 164.4,59.3 164.9,60.2 165.4,62.5 165.9,63.9 166.4,66.0 166.9,66.6 167.4,68.4 167.9,68.8 168.4,71.0 168.9,73.1 169.4,73.6 169.9,75.4 170.4,77.5 170.9,79.1 171.4,80.8 171.9,82.8 172.4,84.7 172.9,86.3 173.4,87.1 173.9,87.7 174.4,89.3 174.9,88.9 175.4,91.5 175.9,92.2 176.4,93.4 176.9,94.4 177.4,96.1 177.9,97.6 178.4,98.4 178.9,99.6 179.4,101.7 179.9,103.6 180.4,104.8 180.9,106.2 181.4,106.7 181.9,108.2 182.4,109.6 182.9,112.1 183.4,112.3 183.9,114.4 184.4,115.5 184.9,116.0 185.4,117.9 185.9,119.7 186.4,120.6 186.9,121.7 187.4,123.4 187.9,123.3 188.4,125.0 188.9,126.5 189.4,128.1 189.9,129.5 190.4,129.7 190.9,131.1 191.4,132.8 191.9,133.8 192.4,134.0 192.9,134.9 193.4,136.2 193.9,137.6 194.4,137.2 194.9,140.2 195.4,140.3 195.9,141.9 196.4,143.1 196.9,143.1 197.4,143.4 197.9,144.2 198.4,146.8 198.9,146.5 199.4,147.6 199.9,147.7 200.4,148.9 200.9,150.1 201.4,150.9 201.9,151.4 202.4,151.6 202.9,152.6 203.4,153.3 203.9,154.6 204.4,154.3 204.9,154.5 205.4,155.8 205.9,155.6 206.4,157.2 206.9,157.6 207.4,157.2 207.9,157.6 208.4,158.5 208.9,157.7 209.4,159.4 209.9,159.8 210.4,159.5 210.9,159.6 211.4,159.4 211.9,159.3 212.4,160.0 212.9,159.9 213.4,159.4 213.9,160.1 214.4,159.3 214.9,159.9 215.4,158.7 215.9,159.2 216.4,159.2 216.9,159.1 217.4,158.3 217.9,158.2 218.4,158.0 218.9,158.3 219.4,157.0 219.9,157.1 220.4,156.1 220.9,157.5 221.4,156.4 221.9,155.7 222.4,155.4 222.9,155.4 223.4,154.3 223.9,154.1 224.4,152.7 224.9,152.2 225.4,152.9 225.9,151.7 226.4,150.3 226.9,150.6 227.4,150.4 227.9,150.3 228.4,148.6 228.9,148.6 229.4,147.5 229.9,146.6 230.4,146.4 230.9,146.3 231.4,145.5 231.9,145.1 232.4,144.5 232.9,144.3 233.4,144.8 233.9,143.4 234.4,143.1 234.9,143.0 235.4,140.7 235.9,140.3 236.4,139.9 236.9,139.2 237.4,139.9 237.9,138.2 238.4,137.9 238.9,138.3 239.4,136.8 239.9,136.9 240.4,136.6 240.9,135.4 241.4,135.8 241.9,135.0 242.4,134.3 242.9,133.4 243.4,132.4 243.9,133.3 244.4,131.4 244.9,130.9 245.4,130.3 245.9,129.6 246.4,129.2 246.9,127.8 247.4,127.4 247.9,127.2 248.4,125.4 248.9,125.2 249.4,123.8 249.9,123.6 250.4,123.1 250.9,121.8 251.4,122.5 251.9,120.1 252.4,120.7 252.9,119.2 253.4,118.7 253.9,117.4 254.4,117.5 254.9,116.7 255.4,114.9 255.9,115.0 256.4,114.3 256.9,114.2 257.4,112.5 257.9,112.9 258.4,112.1 258.9,112.1 259.4,110.0 259.9,110.6 260.4,108.1 260.9,108.2 261.4,108.1 261.9,107.1 262.4,107.4 262.9,106.2 263.4,105.9 263.9,105.2 264.4,104.9 264.9,103.5 265.4,103.7 265.9,102.4 266.4,102.1 266.9,101.5 267.4,100.9 267.9,99.6 268.4,99.1 268.9,98.5 269.4,98.4 269.9,97.9 270.4,96.2 270.9,95.8 271.4,96.9 271.9,95.5 272.4,95.9 272.9,94.8 273.4,95.1 273.9,94.6 274.4,93.6 274.9,94.4 275.4,94.1 275.9,93.4 276.4,91.9 276.9,92.1 277.4,92.4 277.9,92.3 278.4,91.1 278.9,89.9 279.4,90.4 279.9,91.0 280.4,90.0 280.9,90.9 281.4,89.7 281.9,90.5 282.4,88.8 282.9,89.1 283.4,89.2 283.9,88.1 284.4,90.1 284.9,88.7 285.4,87.6 285.9,87.8 286.4,87.1 286.9,86.8 287.4,87.3 287.9,86.5 288.4,87.0 288.9,85.8 289.4,86.0 289.9,85.6 290.4,85.7 290.9,84.7 291.4,84.8 291.9,84.6 292.4,83.4 292.9,84.3 293.4,83.8 293.9,83.0 294.4,83.5 294.9,83.4 295.4,82.5 295.9,82.8 296.4,83.1 296.9,82.4 297.4,82.1 297.9,81.8 298.4,81.3 298.9,82.2 299.4,81.4 299.9,80.9 300.4,79.7 300.9,81.1 301.4,80.7 301.9,80.8 302.4,80.8 302.9,80.6 303.4,80.8 303.9,81.0 304.4,80.2 304.9,80.5 305.4,79.9 305.9,80.5 306.4,79.9 306.9,79.9 307.4,80.1 307.9,79.9 308.4,79.5 308.9,79.8 309.4,80.0 309.9,79.5 310.4,79.2 310.9,80.1 311.4,79.4 311.9,78.9 312.4,78.8 312.9,79.1 313.4,79.7 313.9,79.7 314.4,79.4" fill="none" stroke="#f0353e" stroke-width="1.45" stroke-linejoin="round" stroke-linecap="round"/>
<polyline points="61.4,85.1 61.9,98.4 62.4,125.0 62.9,150.8 63.4,171.7 63.9,184.5 64.4,190.5 64.9,194.1 65.4,194.2 65.9,186.8 66.4,173.6 66.9,143.9 67.4,124.2 67.9,106.1 68.4,99.6 68.9,99.2 69.4,99.4 69.9,102.3 70.4,103.7 70.9,109.4 71.4,113.4 71.9,120.0 72.4,126.8 72.9,136.7 73.4,144.1 73.9,152.3 74.4,158.6 74.9,163.6 75.4,167.0 75.9,167.8 76.4,164.0 76.9,159.3 77.4,152.0 77.9,141.2 78.4,132.3 78.9,125.7 79.4,120.8 79.9,118.1 80.4,117.5 80.9,117.2 81.4,118.3 81.9,118.9 82.4,119.4 82.9,121.0 83.4,123.0 83.9,126.2 84.4,127.3 84.9,131.1 85.4,132.5 85.9,134.0 86.4,136.7 86.9,137.8 87.4,138.4 87.9,138.6 88.4,138.1 88.9,137.7 89.4,135.7 89.9,134.7 90.4,134.8 90.9,133.2 91.4,131.3 91.9,130.7 92.4,127.9 92.9,127.3 93.4,123.7 93.9,122.3 94.4,120.8 94.9,120.5 95.4,119.2 95.9,118.5 96.4,117.9 96.9,117.4 97.4,116.6 97.9,114.8 98.4,113.7 98.9,112.7 99.4,110.0 99.9,106.9 100.4,103.3 100.9,99.0 101.4,93.9 101.9,87.9 102.4,78.9 102.9,75.2 103.4,85.0 103.9,92.5 104.4,100.1 104.9,100.8 105.4,99.8 105.9,98.4 106.4,95.3 106.9,94.3 107.4,93.0 107.9,90.9 108.4,87.9 108.9,87.6 109.4,85.7 109.9,81.8 110.4,80.2 110.9,77.6 111.4,75.1 111.9,72.2 112.4,71.0 112.9,68.2 113.4,65.1 113.9,64.1 114.4,62.1 114.9,63.4 115.4,65.2 115.9,67.4 116.4,69.4 116.9,67.8 117.4,64.9 117.9,61.1 118.4,58.5 118.9,56.9 119.4,54.5 119.9,52.7 120.4,51.6 120.9,50.0 121.4,47.7 121.9,47.6 122.4,46.1 122.9,46.4 123.4,44.8 123.9,44.4 124.4,43.9 124.9,44.3 125.4,43.6 125.9,43.5 126.4,43.5 126.9,42.9 127.4,40.9 127.9,38.7 128.4,36.6 128.9,33.8 129.4,32.8 129.9,30.3 130.4,27.5 130.9,26.2 131.4,25.3 131.9,25.3 132.4,22.6 132.9,22.3 133.4,21.5 133.9,20.1 134.4,19.9 134.9,20.4 135.4,20.0 135.9,18.4 136.4,19.2 136.9,18.9 137.4,19.4 137.9,18.2 138.4,19.0 138.9,19.4 139.4,18.6 139.9,19.4 140.4,19.6 140.9,20.1 141.4,19.9 141.9,21.8 142.4,21.1 142.9,20.5 143.4,21.1 143.9,21.4 144.4,22.5 144.9,23.0 145.4,23.9 145.9,24.2 146.4,24.2 146.9,24.8 147.4,25.9 147.9,26.5 148.4,25.9 148.9,26.9 149.4,28.2 149.9,28.0 150.4,28.9 150.9,29.0 151.4,30.7 151.9,30.6 152.4,31.1 152.9,32.3 153.4,32.6 153.9,33.6 154.4,34.8 154.9,35.0 155.4,35.9 155.9,37.5 156.4,37.8 156.9,39.2 157.4,41.5 157.9,42.2 158.4,45.2 158.9,46.0 159.4,46.9 159.9,47.8 160.4,48.3 160.9,49.6 161.4,49.4 161.9,49.4 162.4,51.1 162.9,53.1 163.4,54.0 163.9,55.4 164.4,56.9 164.9,59.8 165.4,60.7 165.9,62.9 166.4,63.1 166.9,65.6 167.4,66.9 167.9,68.8 168.4,70.6 168.9,71.9 169.4,74.0 169.9,76.1 170.4,77.2 170.9,78.5 171.4,81.7 171.9,82.7 172.4,84.5 172.9,86.3 173.4,86.9 173.9,87.8 174.4,88.8 174.9,89.4 175.4,91.1 175.9,92.0 176.4,94.3 176.9,95.2 177.4,96.9 177.9,98.8 178.4,100.1 178.9,101.3 179.4,103.0 179.9,104.4 180.4,105.5 180.9,107.3 181.4,109.2 181.9,109.8 182.4,111.5 182.9,112.0 183.4,113.8 183.9,115.7 184.4,116.8 184.9,118.5 185.4,119.6 185.9,121.0 186.4,122.4 186.9,123.5 187.4,125.5 187.9,126.1 188.4,127.8 188.9,129.7 189.4,130.4 189.9,131.2 190.4,132.5 190.9,134.2 191.4,135.4 191.9,135.8 192.4,137.0 192.9,139.5 193.4,139.1 193.9,141.4 194.4,141.8 194.9,142.4 195.4,143.7 195.9,144.7 196.4,145.7 196.9,147.0 197.4,146.9 197.9,149.3 198.4,149.9 198.9,150.1 199.4,150.6 199.9,153.1 200.4,152.2 200.9,154.0 201.4,154.9 201.9,154.8 202.4,156.8 202.9,156.1 203.4,156.6 203.9,157.5 204.4,158.4 204.9,160.1 205.4,159.2 205.9,161.4 206.4,160.9 206.9,161.8 207.4,162.0 207.9,161.8 208.4,162.5 208.9,163.2 209.4,163.6 209.9,164.7 210.4,163.4 210.9,163.4 211.4,163.6 211.9,163.6 212.4,164.2 212.9,164.5 213.4,165.2 213.9,164.2 214.4,163.7 214.9,163.9 215.4,164.8 215.9,163.2 216.4,162.8 216.9,163.3 217.4,163.2 217.9,163.0 218.4,162.7 218.9,162.6 219.4,162.8 219.9,162.6 220.4,161.9 220.9,161.2 221.4,160.2 221.9,159.9 222.4,159.0 222.9,158.9 223.4,158.8 223.9,158.6 224.4,156.9 224.9,157.7 225.4,156.3 225.9,154.8 226.4,155.3 226.9,154.1 227.4,153.5 227.9,153.4 228.4,152.3 228.9,152.4 229.4,151.9 229.9,151.8 230.4,150.2 230.9,149.4 231.4,150.9 231.9,148.6 232.4,149.1 232.9,147.7 233.4,147.0 233.9,147.8 234.4,146.5 234.9,145.2 235.4,144.8 235.9,144.7 236.4,143.7 236.9,143.5 237.4,142.5 237.9,142.0 238.4,141.7 238.9,140.9 239.4,139.7 239.9,140.0 240.4,138.8 240.9,138.6 241.4,138.0 241.9,137.1 242.4,138.1 242.9,135.7 243.4,136.5 243.9,134.5 244.4,134.3 244.9,134.3 245.4,133.1 245.9,132.5 246.4,132.6 246.9,131.2 247.4,130.7 247.9,129.4 248.4,128.5 248.9,127.7 249.4,127.7 249.9,124.4 250.4,125.5 250.9,124.8 251.4,122.9 251.9,123.1 252.4,122.1 252.9,120.9 253.4,120.8 253.9,119.3 254.4,119.9 254.9,117.7 255.4,117.0 255.9,116.7 256.4,116.2 256.9,115.9 257.4,115.1 257.9,114.3 258.4,112.2 258.9,112.7 259.4,112.2 259.9,112.1 260.4,110.5 260.9,110.6 261.4,109.5 261.9,108.7 262.4,108.4 262.9,107.7 263.4,107.2 263.9,106.4 264.4,106.3 264.9,105.5 265.4,103.8 265.9,104.5 266.4,103.7 266.9,102.7 267.4,101.7 267.9,102.0 268.4,100.1 268.9,99.9 269.4,98.7 269.9,98.8 270.4,98.8 270.9,97.5 271.4,97.7 271.9,96.3 272.4,96.7 272.9,96.9 273.4,95.4 273.9,95.1 274.4,95.4 274.9,95.0 275.4,94.1 275.9,93.9 276.4,93.4 276.9,93.5 277.4,93.0 277.9,92.5 278.4,91.7 278.9,91.0 279.4,90.4 279.9,91.4 280.4,92.5 280.9,90.9 281.4,90.8 281.9,90.0 282.4,90.0 282.9,88.9 283.4,89.3 283.9,88.3 284.4,89.0 284.9,87.7 285.4,88.6 285.9,87.8 286.4,87.8 286.9,87.4 287.4,86.1 287.9,85.9 288.4,86.9 288.9,86.2 289.4,86.2 289.9,86.6 290.4,85.6 290.9,85.8 291.4,84.6 291.9,84.1 292.4,84.3 292.9,84.0 293.4,83.9 293.9,83.9 294.4,83.7 294.9,83.7 295.4,82.6 295.9,82.2 296.4,82.6 296.9,82.6 297.4,82.2 297.9,82.0 298.4,82.7 298.9,81.8 299.4,80.9 299.9,81.0 300.4,82.0 300.9,81.5 301.4,80.2 301.9,80.3 302.4,80.9 302.9,80.4 303.4,80.7 303.9,79.8 304.4,80.2 304.9,80.3 305.4,80.4 305.9,80.0 306.4,79.9 306.9,79.8 307.4,80.0 307.9,80.0 308.4,79.2 308.9,79.1 309.4,79.5 309.9,78.8 310.4,79.2 310.9,80.5 311.4,79.4 311.9,78.9 312.4,78.8 312.9,78.6 313.4,78.3 313.9,78.7 314.4,79.1" fill="none" stroke="#ee2d36" stroke-width="1.45" stroke-linejoin="round" stroke-linecap="round"/>
<polyline points="61.4,86.4 61.9,99.7 62.4,125.0 62.9,153.5 63.4,175.1 63.9,188.7 64.4,195.4 64.9,198.7 65.4,198.3 65.9,191.8 66.4,177.1 66.9,147.1 67.4,125.6 67.9,107.2 68.4,100.3 68.9,99.6 69.4,100.3 69.9,102.0 70.4,106.3 70.9,110.5 71.4,115.9 71.9,121.0 72.4,130.0 72.9,138.7 73.4,147.1 73.9,153.9 74.4,162.1 74.9,166.7 75.4,171.0 75.9,171.8 76.4,168.5 76.9,162.3 77.4,155.1 77.9,143.9 78.4,133.9 78.9,128.2 79.4,122.6 79.9,119.5 80.4,118.7 80.9,118.1 81.4,119.2 81.9,119.5 82.4,121.4 82.9,121.9 83.4,126.1 83.9,127.5 84.4,129.7 84.9,131.7 85.4,134.7 85.9,138.0 86.4,138.7 86.9,139.3 87.4,141.6 87.9,142.1 88.4,140.4 88.9,139.8 89.4,139.5 89.9,136.3 90.4,137.2 90.9,134.8 91.4,133.8 91.9,132.7 92.4,130.7 92.9,128.4 93.4,126.6 93.9,123.6 94.4,122.5 94.9,120.9 95.4,120.7 95.9,119.5 96.4,118.6 96.9,117.9 97.4,118.1 97.9,115.6 98.4,114.6 98.9,112.9 99.4,111.4 99.9,107.8 100.4,103.2 100.9,98.8 101.4,95.4 101.9,88.5 102.4,78.7 102.9,73.6 103.4,83.7 103.9,93.9 104.4,100.3 104.9,102.1 105.4,100.8 105.9,98.7 106.4,96.5 106.9,94.9 107.4,93.0 107.9,90.7 108.4,89.0 108.9,87.3 109.4,84.8 109.9,81.2 110.4,79.9 110.9,77.3 111.4,74.3 111.9,72.8 112.4,70.3 112.9,68.3 113.4,63.6 113.9,63.0 114.4,60.9 114.9,61.9 115.4,64.6 115.9,67.7 116.4,67.8 116.9,65.8 117.4,64.1 117.9,60.8 118.4,58.2 118.9,53.9 119.4,53.5 119.9,50.1 120.4,50.1 120.9,48.3 121.4,46.3 121.9,45.7 122.4,44.5 122.9,44.2 123.4,43.9 123.9,42.8 124.4,42.3 124.9,41.8 125.4,42.6 125.9,41.6 126.4,41.0 126.9,40.6 127.4,38.5 127.9,36.7 128.4,34.6 128.9,32.7 129.4,29.2 129.9,26.9 130.4,25.3 130.9,23.9 131.4,22.6 131.9,22.2 132.4,20.4 132.9,20.5 133.4,19.1 133.9,17.8 134.4,17.1 134.9,17.1 135.4,17.8 135.9,16.5 136.4,15.6 136.9,16.0 137.4,17.8 137.9,15.4 138.4,15.9 138.9,16.2 139.4,16.0 139.9,17.3 140.4,16.4 140.9,17.0 141.4,17.6 141.9,17.9 142.4,17.8 142.9,18.4 143.4,18.7 143.9,17.3 144.4,20.1 144.9,20.4 145.4,20.7 145.9,21.9 146.4,20.9 146.9,23.1 147.4,22.6 147.9,23.0 148.4,23.5 148.9,24.8 149.4,24.9 149.9,26.2 150.4,25.6 150.9,27.7 151.4,27.6 151.9,29.4 152.4,29.3 152.9,29.5 153.4,30.3 153.9,30.1 154.4,31.8 154.9,32.1 155.4,33.3 155.9,35.8 156.4,35.2 156.9,37.6 157.4,39.4 157.9,40.8 158.4,42.7 158.9,44.0 159.4,46.6 159.9,46.8 160.4,47.7 160.9,46.6 161.4,48.1 161.9,48.3 162.4,50.6 162.9,51.1 163.4,52.4 163.9,54.6 164.4,56.4 164.9,58.1 165.4,60.8 165.9,62.2 166.4,63.4 166.9,65.3 167.4,66.4 167.9,67.5 168.4,69.9 168.9,70.3 169.4,73.8 169.9,74.9 170.4,75.9 170.9,79.0 171.4,82.6 171.9,82.7 172.4,84.5 172.9,86.1 173.4,86.3 173.9,88.9 174.4,89.0 174.9,90.6 175.4,92.2 175.9,93.0 176.4,94.9 176.9,95.1 177.4,96.7 177.9,99.0 178.4,100.0 178.9,101.6 179.4,103.4 179.9,105.3 180.4,107.2 180.9,109.1 181.4,110.4 181.9,111.7 182.4,112.2 182.9,113.7 183.4,115.0 183.9,116.9 184.4,118.7 184.9,121.1 185.4,121.0 185.9,123.2 186.4,124.0 186.9,125.6 187.4,126.1 187.9,129.8 188.4,130.0 188.9,131.2 189.4,132.5 189.9,133.0 190.4,135.5 190.9,136.5 191.4,137.9 191.9,139.5 192.4,140.2 192.9,140.7 193.4,142.0 193.9,142.5 194.4,145.7 194.9,144.7 195.4,147.3 195.9,147.2 196.4,148.9 196.9,149.8 197.4,150.2 197.9,152.3 198.4,153.1 198.9,153.7 199.4,155.0 199.9,156.4 200.4,155.6 200.9,156.8 201.4,157.2 201.9,158.3 202.4,159.3 202.9,160.1 203.4,161.0 203.9,162.5 204.4,162.8 204.9,162.6 205.4,163.7 205.9,163.6 206.4,164.9 206.9,164.6 207.4,165.2 207.9,165.0 208.4,165.9 208.9,167.7 209.4,165.6 209.9,167.3 210.4,167.2 210.9,167.5 211.4,168.6 211.9,167.5 212.4,167.1 212.9,167.8 213.4,167.8 213.9,168.1 214.4,168.4 214.9,167.9 215.4,167.8 215.9,166.7 216.4,166.4 216.9,166.8 217.4,166.7 217.9,166.6 218.4,166.2 218.9,165.3 219.4,165.0 219.9,165.8 220.4,165.3 220.9,163.5 221.4,164.4 221.9,163.9 222.4,162.7 222.9,161.9 223.4,162.5 223.9,161.7 224.4,160.1 224.9,160.2 225.4,160.3 225.9,158.8 226.4,159.3 226.9,157.0 227.4,157.9 227.9,156.5 228.4,155.5 228.9,155.3 229.4,155.3 229.9,153.6 230.4,154.3 230.9,153.5 231.4,151.2 231.9,152.0 232.4,152.0 232.9,150.3 233.4,148.6 233.9,149.9 234.4,149.4 234.9,149.1 235.4,147.1 235.9,146.5 236.4,146.1 236.9,146.6 237.4,144.8 237.9,144.8 238.4,143.2 238.9,144.4 239.4,143.0 239.9,142.5 240.4,143.8 240.9,141.9 241.4,141.0 241.9,140.1 242.4,139.4 242.9,138.0 243.4,138.7 243.9,137.4 244.4,136.7 244.9,135.2 245.4,136.1 245.9,134.7 246.4,133.9 246.9,132.7 247.4,132.5 247.9,131.8 248.4,130.8 248.9,129.0 249.4,127.8 249.9,127.9 250.4,127.5 250.9,125.0 251.4,125.1 251.9,124.5 252.4,124.0 252.9,123.8 253.4,122.1 253.9,122.0 254.4,120.6 254.9,120.5 255.4,118.8 255.9,118.4 256.4,118.2 256.9,117.0 257.4,115.0 257.9,115.4 258.4,115.2 258.9,114.3 259.4,113.0 259.9,112.6 260.4,112.6 260.9,112.1 261.4,111.2 261.9,109.8 262.4,109.0 262.9,110.1 263.4,107.6 263.9,108.2 264.4,106.8 264.9,106.4 265.4,105.5 265.9,104.4 266.4,104.2 266.9,102.6 267.4,102.2 267.9,101.8 268.4,99.6 268.9,101.2 269.4,99.8 269.9,99.2 270.4,98.2 270.9,98.2 271.4,97.0 271.9,96.8 272.4,96.5 272.9,96.5 273.4,96.0 273.9,95.3 274.4,95.0 274.9,95.2 275.4,94.1 275.9,95.0 276.4,94.1 276.9,93.0 277.4,92.3 277.9,92.8 278.4,93.0 278.9,92.1 279.4,91.8 279.9,90.6 280.4,91.6 280.9,90.2 281.4,91.4 281.9,90.3 282.4,90.9 282.9,90.1 283.4,88.3 283.9,89.1 284.4,89.2 284.9,89.3 285.4,88.1 285.9,88.2 286.4,86.7 286.9,87.4 287.4,86.9 287.9,87.0 288.4,86.3 288.9,85.9 289.4,85.7 289.9,85.9 290.4,86.0 290.9,85.5 291.4,85.3 291.9,83.9 292.4,83.4 292.9,83.3 293.4,83.0 293.9,83.7 294.4,83.1 294.9,82.7 295.4,83.9 295.9,82.3 296.4,82.8 296.9,82.1 297.4,81.3 297.9,80.8 298.4,81.2 298.9,81.7 299.4,81.6 299.9,81.8 300.4,81.3 300.9,81.9 301.4,80.3 301.9,80.2 302.4,80.9 302.9,80.3 303.4,80.9 303.9,81.1 304.4,80.3 304.9,79.8 305.4,78.5 305.9,79.7 306.4,79.9 306.9,78.9 307.4,79.8 307.9,79.6 308.4,79.5 308.9,79.9 309.4,80.1 309.9,78.6 310.4,79.0 310.9,79.2 311.4,79.9 311.9,79.0 312.4,79.2 312.9,78.8 313.4,78.8 313.9,78.8 314.4,79.2" fill="none" stroke="#ed272f" stroke-width="1.45" stroke-linejoin="round" stroke-linecap="round"/>
<polyline points="61.4,86.3 61.9,100.6 62.4,128.3 62.9,156.6 63.4,180.0 63.9,194.3 64.4,200.9 64.9,203.6 65.4,204.8 65.9,196.5 66.4,180.4 66.9,149.8 67.4,128.6 67.9,109.4 68.4,100.7 68.9,99.0 69.4,100.7 69.9,103.1 70.4,105.9 70.9,110.4 71.4,117.0 71.9,123.8 72.4,130.7 72.9,141.0 73.4,149.2 73.9,158.3 74.4,164.8 74.9,170.6 75.4,175.0 75.9,175.5 76.4,172.1 76.9,166.4 77.4,157.2 77.9,147.1 78.4,136.7 78.9,130.7 79.4,125.4 79.9,122.3 80.4,121.2 80.9,120.6 81.4,122.1 81.9,121.9 82.4,122.6 82.9,124.7 83.4,128.1 83.9,130.2 84.4,132.1 84.9,134.8 85.4,136.9 85.9,140.2 86.4,139.3 86.9,143.0 87.4,143.7 87.9,143.6 88.4,143.9 88.9,142.3 89.4,142.3 89.9,139.5 90.4,140.3 90.9,137.3 91.4,136.5 91.9,134.0 92.4,132.1 92.9,130.3 93.4,128.4 93.9,125.6 94.4,123.8 94.9,122.9 95.4,121.5 95.9,120.8 96.4,121.0 96.9,120.6 97.4,119.7 97.9,118.1 98.4,117.0 98.9,113.9 99.4,113.0 99.9,109.8 100.4,105.2 100.9,100.5 101.4,95.1 101.9,88.8 102.4,80.2 102.9,73.8 103.4,84.2 103.9,93.4 104.4,101.0 104.9,102.3 105.4,101.6 105.9,99.0 106.4,98.4 106.9,95.5 107.4,93.6 107.9,92.4 108.4,90.2 108.9,87.8 109.4,85.2 109.9,81.0 110.4,79.1 110.9,76.7 111.4,73.8 111.9,72.7 112.4,69.9 112.9,66.1 113.4,63.1 113.9,60.8 114.4,59.7 114.9,60.9 115.4,63.7 115.9,65.8 116.4,67.8 116.9,65.3 117.4,63.0 117.9,58.8 118.4,56.1 118.9,53.3 119.4,52.1 119.9,50.6 120.4,48.2 120.9,46.5 121.4,45.7 121.9,43.4 122.4,43.2 122.9,41.9 123.4,40.8 123.9,40.3 124.4,40.6 124.9,40.8 125.4,39.8 125.9,38.9 126.4,38.8 126.9,38.8 127.4,36.9 127.9,34.5 128.4,32.2 128.9,30.8 129.4,25.7 129.9,24.1 130.4,23.5 130.9,21.8 131.4,20.4 131.9,18.4 132.4,18.1 132.9,16.0 133.4,15.2 133.9,14.1 134.4,14.3 134.9,12.8 135.4,13.6 135.9,12.7 136.4,13.2 136.9,12.5 137.4,13.6 137.9,12.5 138.4,12.7 138.9,12.6 139.4,12.8 139.9,13.3 140.4,13.7 140.9,12.9 141.4,13.7 141.9,14.5 142.4,14.3 142.9,15.1 143.4,16.1 143.9,16.6 144.4,17.4 144.9,17.6 145.4,18.6 145.9,17.4 146.4,18.6 146.9,18.9 147.4,19.7 147.9,21.0 148.4,21.1 148.9,20.7 149.4,23.5 149.9,23.5 150.4,23.7 150.9,24.1 151.4,24.5 151.9,25.1 152.4,25.7 152.9,27.5 153.4,27.0 153.9,29.0 154.4,30.1 154.9,30.3 155.4,31.9 155.9,32.7 156.4,33.5 156.9,35.1 157.4,37.9 157.9,39.9 158.4,40.1 158.9,42.5 159.4,42.9 159.9,44.5 160.4,46.1 160.9,46.0 161.4,46.1 161.9,47.7 162.4,48.8 162.9,50.1 163.4,51.9 163.9,53.3 164.4,55.2 164.9,57.2 165.4,59.2 165.9,62.0 166.4,61.8 166.9,63.6 167.4,65.3 167.9,66.5 168.4,68.7 168.9,70.4 169.4,73.3 169.9,75.2 170.4,75.8 170.9,78.6 171.4,80.2 171.9,82.6 172.4,84.7 172.9,85.7 173.4,86.9 173.9,89.0 174.4,89.7 174.9,90.2 175.4,91.6 175.9,92.6 176.4,94.9 176.9,97.3 177.4,98.7 177.9,99.5 178.4,100.5 178.9,102.4 179.4,103.5 179.9,104.5 180.4,106.1 180.9,109.2 181.4,110.3 181.9,111.5 182.4,114.4 182.9,116.0 183.4,117.9 183.9,118.6 184.4,119.7 184.9,122.0 185.4,122.5 185.9,124.4 186.4,126.8 186.9,127.0 187.4,129.1 187.9,130.3 188.4,131.2 188.9,134.3 189.4,134.0 189.9,135.7 190.4,137.3 190.9,139.3 191.4,140.1 191.9,140.7 192.4,141.9 192.9,144.0 193.4,144.8 193.9,145.9 194.4,147.2 194.9,148.5 195.4,149.4 195.9,151.4 196.4,152.9 196.9,152.3 197.4,153.7 197.9,155.4 198.4,156.1 198.9,156.6 199.4,157.3 199.9,158.4 200.4,160.0 200.9,161.0 201.4,160.9 201.9,162.4 202.4,162.4 202.9,164.5 203.4,164.4 203.9,165.0 204.4,165.4 204.9,166.9 205.4,167.7 205.9,166.9 206.4,168.8 206.9,168.2 207.4,168.9 207.9,169.2 208.4,170.7 208.9,171.6 209.4,170.5 209.9,171.9 210.4,171.4 210.9,172.8 211.4,172.1 211.9,171.7 212.4,172.9 212.9,172.1 213.4,172.1 213.9,172.4 214.4,171.5 214.9,171.7 215.4,171.6 215.9,171.4 216.4,169.9 216.9,170.7 217.4,170.9 217.9,170.6 218.4,169.6 218.9,169.7 219.4,169.0 219.9,168.7 220.4,168.0 220.9,168.5 221.4,168.4 221.9,167.6 222.4,167.4 222.9,166.5 223.4,166.1 223.9,165.3 224.4,164.7 224.9,163.4 225.4,163.2 225.9,162.1 226.4,161.3 226.9,162.4 227.4,160.3 227.9,159.5 228.4,157.4 228.9,158.8 229.4,158.3 229.9,156.5 230.4,156.9 230.9,156.7 231.4,155.2 231.9,155.7 232.4,154.5 232.9,154.2 233.4,152.8 233.9,152.7 234.4,152.3 234.9,151.8 235.4,150.4 235.9,149.8 236.4,150.1 236.9,148.5 237.4,148.0 237.9,147.6 238.4,146.5 238.9,147.1 239.4,145.0 239.9,144.9 240.4,145.0 240.9,144.0 241.4,142.8 241.9,143.2 242.4,142.4 242.9,141.6 243.4,140.3 243.9,140.3 244.4,138.3 244.9,139.1 245.4,138.2 245.9,136.0 246.4,135.3 246.9,134.8 247.4,134.4 247.9,134.5 248.4,132.6 248.9,132.5 249.4,131.3 249.9,130.1 250.4,128.7 250.9,129.0 251.4,127.9 251.9,126.0 252.4,125.5 252.9,125.7 253.4,123.7 253.9,123.9 254.4,122.7 254.9,121.9 255.4,120.7 255.9,120.2 256.4,120.1 256.9,119.0 257.4,116.3 257.9,116.7 258.4,117.1 258.9,115.0 259.4,114.8 259.9,113.9 260.4,114.3 260.9,112.4 261.4,112.6 261.9,111.8 262.4,111.8 262.9,110.5 263.4,109.5 263.9,108.9 264.4,107.9 264.9,107.1 265.4,106.9 265.9,104.5 266.4,104.2 266.9,104.3 267.4,104.2 267.9,102.7 268.4,101.7 268.9,101.1 269.4,99.9 269.9,100.3 270.4,100.2 270.9,99.5 271.4,98.8 271.9,98.7 272.4,97.5 272.9,97.5 273.4,96.8 273.9,95.8 274.4,95.7 274.9,95.4 275.4,95.9 275.9,94.9 276.4,94.4 276.9,94.7 277.4,92.7 277.9,92.3 278.4,92.8 278.9,92.8 279.4,92.4 279.9,92.2 280.4,91.8 280.9,89.9 281.4,90.9 281.9,90.1 282.4,90.8 282.9,90.5 283.4,89.1 283.9,89.2 284.4,88.5 284.9,89.8 285.4,88.7 285.9,89.0 286.4,88.5 286.9,87.5 287.4,87.3 287.9,86.2 288.4,86.5 288.9,86.1 289.4,85.4 289.9,84.7 290.4,85.6 290.9,84.5 291.4,82.9 291.9,84.3 292.4,84.8 292.9,84.5 293.4,83.9 293.9,83.1 294.4,83.1 294.9,83.1 295.4,82.1 295.9,81.9 296.4,81.8 296.9,81.9 297.4,81.7 297.9,81.2 298.4,81.7 298.9,81.4 299.4,81.6 299.9,80.2 300.4,81.6 300.9,79.4 301.4,80.6 301.9,80.8 302.4,80.9 302.9,80.6 303.4,81.2 303.9,79.8 304.4,79.0 304.9,78.4 305.4,79.4 305.9,79.4 306.4,78.7 306.9,79.9 307.4,79.9 307.9,79.3 308.4,79.2 308.9,78.4 309.4,79.3 309.9,79.6 310.4,78.7 310.9,78.6 311.4,78.1 311.9,79.0 312.4,78.1 312.9,78.7 313.4,77.8 313.9,78.1 314.4,78.5" fill="none" stroke="#eb2028" stroke-width="1.45" stroke-linejoin="round" stroke-linecap="round"/>
</g>
<line x1="61.4" y1="6.5" x2="61.4" y2="206.3" stroke="#262626" stroke-width="1.3"/>
<line x1="69.7" y1="206.3" x2="69.7" y2="202.3" stroke="#262626" stroke-width="1.1"/>
<text x="69.7" y="223.3" font-family='"Liberation Serif", serif' font-size="16" text-anchor="middle" fill="#000">0.8</text>
<line x1="133.3" y1="206.3" x2="133.3" y2="202.3" stroke="#262626" stroke-width="1.1"/>
<text x="133.3" y="223.3" font-family='"Liberation Serif", serif' font-size="16" text-anchor="middle" fill="#000">0.9</text>
<line x1="196.9" y1="206.3" x2="196.9" y2="202.3" stroke="#262626" stroke-width="1.1"/>
<text x="196.9" y="223.3" font-family='"Liberation Serif", serif' font-size="16" text-anchor="middle" fill="#000">1.0</text>
<line x1="260.5" y1="206.3" x2="260.5" y2="202.3" stroke="#262626" stroke-width="1.1"/>
<text x="260.5" y="223.3" font-family='"Liberation Serif", serif' font-size="16" text-anchor="middle" fill="#000">1.1</text>
<line x1="101.5" y1="206.3" x2="101.5" y2="204.3" stroke="#262626" stroke-width="1.1"/>
<line x1="165.1" y1="206.3" x2="165.1" y2="204.3" stroke="#262626" stroke-width="1.1"/>
<line x1="228.7" y1="206.3" x2="228.7" y2="204.3" stroke="#262626" stroke-width="1.1"/>
<line x1="292.3" y1="206.3" x2="292.3" y2="204.3" stroke="#262626" stroke-width="1.1"/>
<line x1="61.4" y1="33.6" x2="65.4" y2="33.6" stroke="#262626" stroke-width="1.1"/>
<text x="56" y="39.1" font-family='"Liberation Serif", serif' font-size="16" text-anchor="end" fill="#000">50</text>
<line x1="61.4" y1="83.4" x2="65.4" y2="83.4" stroke="#262626" stroke-width="1.1"/>
<text x="56" y="88.9" font-family='"Liberation Serif", serif' font-size="16" text-anchor="end" fill="#000">0</text>
<line x1="61.4" y1="133.2" x2="65.4" y2="133.2" stroke="#262626" stroke-width="1.1"/>
<text x="56" y="138.7" font-family='"Liberation Serif", serif' font-size="16" text-anchor="end" fill="#000">-50</text>
<line x1="61.4" y1="183" x2="65.4" y2="183" stroke="#262626" stroke-width="1.1"/>
<text x="56" y="188.5" font-family='"Liberation Serif", serif' font-size="16" text-anchor="end" fill="#000">-100</text>
<line x1="61.4" y1="58.5" x2="63.4" y2="58.5" stroke="#262626" stroke-width="1.1"/>
<line x1="61.4" y1="108.3" x2="63.4" y2="108.3" stroke="#262626" stroke-width="1.1"/>
<line x1="61.4" y1="158.1" x2="63.4" y2="158.1" stroke="#262626" stroke-width="1.1"/>
<rect x="168.8" y="85.6" width="139.2" height="93" fill="none" stroke="#2a2a2a" stroke-width="1.5" stroke-dasharray="6 5"/>
<text x="31" y="15.8" font-family='"Liberation Serif", serif' font-size="16.2" text-anchor="middle" fill="#000">(a)</text>
<text x="20" y="113.4" font-family='"Liberation Serif", serif' font-size="20.8" text-anchor="middle" fill="#000" transform="rotate(-90 20 113.4)"><tspan dy="0" font-size="20.8">Δα</tspan><tspan dy="6.24" font-size="12.9">NDD</tspan><tspan dy="-6.24" font-size="20.8"> (+</tspan><tspan dy="0" font-size="20.8" font-style="italic">k</tspan><tspan dy="0" font-size="20.8">, ±</tspan><tspan dy="0" font-size="20.8" font-style="italic">H</tspan><tspan dy="0" font-size="20.8">) (cm</tspan><tspan dy="-8.74" font-size="12.9">-1</tspan><tspan dy="8.74" font-size="20.8">)</tspan></text>
<text x="188" y="244.5" font-family='"Liberation Serif", serif' font-size="20.8" text-anchor="middle" fill="#000">Energy (eV)</text>
<text x="85.8" y="78" font-family='"Liberation Serif", serif' font-size="13.8" text-anchor="middle" fill="#ff80ff">0 T</text>
<text x="107.2" y="153" font-family='"Liberation Serif", serif' font-size="13.8" text-anchor="middle" fill="#e0101c">60 T</text>
<text x="154.4" y="201.2" font-family='"Liberation Serif", serif' font-size="15" text-anchor="middle" fill="#000"><tspan dy="0" font-size="15">Δα(+</tspan><tspan dy="0" font-size="15" font-style="italic">k</tspan><tspan dy="0" font-size="15">, +</tspan><tspan dy="0" font-size="15" font-style="italic">H</tspan><tspan dy="0" font-size="15">) - Δα(+</tspan><tspan dy="0" font-size="15" font-style="italic">k</tspan><tspan dy="0" font-size="15">, -</tspan><tspan dy="0" font-size="15" font-style="italic">H</tspan><tspan dy="0" font-size="15">)</tspan></text>
<rect x="209.4" y="11.7" width="97.70000000000002" height="51.099999999999994" fill="#fff" stroke="#9a9a9a" stroke-width="0.9"/>
<line x1="209.7" y1="62.8" x2="209.7" y2="60.6" stroke="#777" stroke-width="0.8"/>
<text x="209.7" y="71.8" font-family='"Liberation Serif", serif' font-size="9.3" text-anchor="middle" fill="#000">0</text>
<line x1="239.67" y1="62.8" x2="239.67" y2="60.6" stroke="#777" stroke-width="0.8"/>
<text x="239.67" y="71.8" font-family='"Liberation Serif", serif' font-size="9.3" text-anchor="middle" fill="#000">20</text>
<line x1="269.64" y1="62.8" x2="269.64" y2="60.6" stroke="#777" stroke-width="0.8"/>
<text x="269.64" y="71.8" font-family='"Liberation Serif", serif' font-size="9.3" text-anchor="middle" fill="#000">40</text>
<line x1="299.61" y1="62.8" x2="299.61" y2="60.6" stroke="#777" stroke-width="0.8"/>
<text x="299.61" y="71.8" font-family='"Liberation Serif", serif' font-size="9.3" text-anchor="middle" fill="#000">60</text>
<line x1="224.69" y1="62.8" x2="224.69" y2="61.5" stroke="#777" stroke-width="0.8"/>
<line x1="254.65" y1="62.8" x2="254.65" y2="61.5" stroke="#777" stroke-width="0.8"/>
<line x1="284.62" y1="62.8" x2="284.62" y2="61.5" stroke="#777" stroke-width="0.8"/>
<line x1="209.4" y1="17.45" x2="211.6" y2="17.45" stroke="#777" stroke-width="0.8"/>
<text x="207.6" y="20.75" font-family='"Liberation Serif", serif' font-size="9.3" text-anchor="end" fill="#000">0</text>
<line x1="209.4" y1="39.97" x2="211.6" y2="39.97" stroke="#777" stroke-width="0.8"/>
<text x="207.6" y="43.27" font-family='"Liberation Serif", serif' font-size="9.3" text-anchor="end" fill="#000">-4</text>
<line x1="209.4" y1="62.49" x2="211.6" y2="62.49" stroke="#777" stroke-width="0.8"/>
<text x="207.6" y="65.79" font-family='"Liberation Serif", serif' font-size="9.3" text-anchor="end" fill="#000">-8</text>
<line x1="209.4" y1="28.71" x2="210.7" y2="28.71" stroke="#777" stroke-width="0.8"/>
<line x1="209.4" y1="51.23" x2="210.7" y2="51.23" stroke="#777" stroke-width="0.8"/>
<circle cx="209.7" cy="17.5" r="2.4" fill="url(#sph)"/>
<circle cx="214" cy="20.5" r="2.4" fill="url(#sph)"/>
<circle cx="217" cy="23" r="2.4" fill="url(#sph)"/>
<circle cx="220.2" cy="24.7" r="2.4" fill="url(#sph)"/>
<circle cx="225.5" cy="27.2" r="2.4" fill="url(#sph)"/>
<circle cx="230.3" cy="30.4" r="2.4" fill="url(#sph)"/>
<circle cx="233.1" cy="31.9" r="2.4" fill="url(#sph)"/>
<circle cx="236.5" cy="33.2" r="2.4" fill="url(#sph)"/>
<circle cx="239.9" cy="34.6" r="2.4" fill="url(#sph)"/>
<circle cx="244.1" cy="36.8" r="2.4" fill="url(#sph)"/>
<circle cx="248.7" cy="38.2" r="2.4" fill="url(#sph)"/>
<circle cx="254" cy="40.6" r="2.4" fill="url(#sph)"/>
<circle cx="259.3" cy="42.5" r="2.4" fill="url(#sph)"/>
<circle cx="265.7" cy="44.6" r="2.4" fill="url(#sph)"/>
<circle cx="272.7" cy="47.5" r="2.4" fill="url(#sph)"/>
<circle cx="279.7" cy="50.3" r="2.4" fill="url(#sph)"/>
<circle cx="287.7" cy="53.7" r="2.4" fill="url(#sph)"/>
<circle cx="294.9" cy="56.7" r="2.4" fill="url(#sph)"/>
<circle cx="299.5" cy="59.2" r="2.4" fill="url(#sph)"/>
<circle cx="302.8" cy="17.4" r="2.4" fill="url(#sph)"/>
<line x1="210.4" y1="17.45" x2="305" y2="17.45" stroke="#111" stroke-width="1.2" stroke-dasharray="1.6 4.6"/>
<text x="262.5" y="80.8" font-family='"Liberation Serif", serif' font-size="9.3" text-anchor="middle" fill="#000">Magnetic field (T)</text>
<text x="194.6" y="44.8" font-family='"Liberation Serif", serif' font-size="10" text-anchor="middle" fill="#000" transform="rotate(-90 194.6 44.8)"><tspan dy="0" font-size="10">∫Δα</tspan><tspan dy="3" font-size="6.2">NDD</tspan><tspan dy="-3" font-size="10">d</tspan><tspan dy="0" font-size="10" font-style="italic">E</tspan><tspan dy="0" font-size="10"> (10</tspan><tspan dy="-4.2" font-size="6.2">4</tspan><tspan dy="4.2" font-size="10"> cm</tspan><tspan dy="-4.2" font-size="6.2">-1</tspan><tspan dy="4.2" font-size="10">)</tspan></text>
<text x="214.8" y="55.8" font-family='"Liberation Serif", serif' font-size="11" text-anchor="start" fill="#000"><tspan dy="0" font-size="11" font-style="italic">H</tspan><tspan dy="0" font-size="11"> ⊥ </tspan><tspan dy="0" font-size="11" font-style="italic">c</tspan></text>
<text x="303.8" y="31.5" font-family='"Liberation Serif", serif' font-size="9.2" text-anchor="end" fill="#000">0 T back</text>
<line x1="423.7" y1="105.4" x2="673.7" y2="105.4" stroke="#111" stroke-width="1.8" stroke-dasharray="7 6.6"/>
<clipPath id="cb"><rect x="422.7" y="6.6" width="253.00000000000006" height="199.4"/></clipPath>
<g clip-path="url(#cb)">
<polyline points="422.7,106.0 423.2,106.0 423.7,106.0 424.2,106.0 424.7,106.0 425.2,106.0 425.7,106.0 426.2,106.0 426.7,106.0 427.2,106.0 427.7,106.0 428.2,106.1 428.7,106.1 429.2,106.1 429.7,106.1 430.2,106.1 430.7,106.1 431.2,106.1 431.7,106.1 432.2,106.1 432.7,106.1 433.2,106.1 433.7,106.1 434.2,106.1 434.7,106.1 435.2,106.1 435.7,106.1 436.2,106.1 436.7,106.1 437.2,106.1 437.7,106.2 438.2,106.2 438.7,106.2 439.2,106.2 439.7,106.2 440.2,106.2 440.7,106.2 441.2,106.3 441.7,106.3 442.2,106.4 442.7,106.4 443.2,106.5 443.7,106.6 444.2,106.7 444.7,106.8 445.2,106.9 445.7,107.0 446.2,107.1 446.7,107.2 447.2,107.3 447.7,107.4 448.2,107.6 448.7,107.7 449.2,107.9 449.7,108.1 450.2,108.4 450.7,108.7 451.2,108.9 451.7,109.2 452.2,109.5 452.7,109.8 453.2,110.1 453.7,110.5 454.2,110.9 454.7,111.3 455.2,111.6 455.7,111.9 456.2,112.1 456.7,112.2 457.2,112.4 457.7,112.6 458.2,112.7 458.7,112.7 459.2,112.5 459.7,112.2 460.2,111.8 460.7,111.2 461.2,110.4 461.7,109.6 462.2,108.5 462.7,106.8 463.2,104.5 463.7,101.9 464.2,99.1 464.7,96.4 465.2,94.1 465.7,91.7 466.2,89.2 466.7,86.8 467.2,84.6 467.7,82.8 468.2,81.5 468.7,80.3 469.2,79.1 469.7,78.0 470.2,77.1 470.7,76.5 471.2,76.1 471.7,76.2 472.2,76.8 472.7,77.8 473.2,79.2 473.7,80.9 474.2,82.9 474.7,86.0 475.2,90.3 475.7,95.4 476.2,101.0 476.7,106.6 477.2,112.3 477.7,119.1 478.2,126.7 478.7,134.4 479.2,141.5 479.7,147.4 480.2,151.5 480.7,155.3 481.2,159.0 481.7,162.4 482.2,165.2 482.7,167.1 483.2,167.9 483.7,167.1 484.2,163.6 484.7,157.8 485.2,150.9 485.7,143.9 486.2,137.5 486.7,130.9 487.2,123.9 487.7,116.7 488.2,109.8 488.7,103.5 489.2,97.8 489.7,92.2 490.2,87.7 490.7,85.2 491.2,83.4 491.7,82.2 492.2,82.0 492.7,82.5 493.2,83.5 493.7,84.8 494.2,86.2 494.7,87.4 495.2,88.3 495.7,89.2 496.2,90.0 496.7,90.7 497.2,91.5 497.7,92.2 498.2,92.9 498.7,93.6 499.2,94.3 499.7,94.9 500.2,95.5 500.7,96.1 501.2,96.6 501.7,97.2 502.2,97.9 502.7,98.6 503.2,99.3 503.7,100.2 504.2,101.1 504.7,102.1 505.2,103.1 505.7,104.3 506.2,105.5 506.7,107.2 507.2,109.2 507.7,111.3 508.2,113.4 508.7,115.1 509.2,116.4 509.7,117.0 510.2,116.8 510.7,116.0 511.2,114.8 511.7,113.6 512.2,112.6 512.7,111.5 513.2,110.2 513.7,109.0 514.2,107.9 514.7,107.2 515.2,106.9 515.7,106.8 516.2,106.6 516.7,106.5 517.2,106.4 517.7,106.3 518.2,106.2 518.7,106.1 519.2,106.1 519.7,106.0 520.2,106.0 520.7,106.0 521.2,106.0 521.7,105.9 522.2,105.9 522.7,105.9 523.2,105.9 523.7,105.9 524.2,105.9 524.7,105.9 525.2,105.9 525.7,105.9 526.2,106.0 526.7,106.0 527.2,106.0 527.7,106.0 528.2,106.0 528.7,106.0 529.2,106.0 529.7,106.0 530.2,106.0 530.7,106.0 531.2,106.0 531.7,106.0 532.2,106.0 532.7,105.9 533.2,105.9 533.7,105.9 534.2,105.9 534.7,105.8 535.2,105.8 535.7,105.8 536.2,105.8 536.7,105.8 537.2,105.8 537.7,105.8 538.2,105.8 538.7,105.9 539.2,105.9 539.7,106.0 540.2,106.0 540.7,106.2 541.2,106.4 541.7,106.7 542.2,107.0 542.7,107.3 543.2,107.7 543.7,108.1 544.2,108.5 544.7,108.8 545.2,109.2 545.7,109.5 546.2,109.7 546.7,109.9 547.2,110.0 547.7,110.0 548.2,109.9 548.7,109.6 549.2,109.3 549.7,108.9 550.2,108.5 550.7,108.0 551.2,107.5 551.7,107.0 552.2,106.6 552.7,106.2 553.2,105.9 553.7,105.5 554.2,105.2 554.7,104.9 555.2,104.5 555.7,104.2 556.2,103.9 556.7,103.7 557.2,103.5 557.7,103.4 558.2,103.4 558.7,103.5 559.2,103.6 559.7,103.9 560.2,104.1 560.7,104.4 561.2,104.8 561.7,105.1 562.2,105.5 562.7,105.8 563.2,106.1 563.7,106.5 564.2,106.9 564.7,107.4 565.2,107.8 565.7,108.3 566.2,108.8 566.7,109.3 567.2,109.7 567.7,110.1 568.2,110.4 568.7,110.6 569.2,110.7 569.7,110.7 570.2,110.5 570.7,110.2 571.2,109.8 571.7,109.2 572.2,108.7 572.7,108.1 573.2,107.5 573.7,107.0 574.2,106.5 574.7,106.2 575.2,105.9 575.7,105.7 576.2,105.5 576.7,105.3 577.2,105.1 577.7,104.9 578.2,104.7 578.7,104.6 579.2,104.4 579.7,104.3 580.2,104.2 580.7,104.1 581.2,104.1 581.7,104.0 582.2,104.0 582.7,104.0 583.2,104.1 583.7,104.1 584.2,104.2 584.7,104.3 585.2,104.4 585.7,104.6 586.2,104.7 586.7,104.8 587.2,105.0 587.7,105.1 588.2,105.2 588.7,105.3 589.2,105.4 589.7,105.5 590.2,105.5 590.7,105.6 591.2,105.6 591.7,105.6 592.2,105.7 592.7,105.7 593.2,105.7 593.7,105.8 594.2,105.8 594.7,105.8 595.2,105.8 595.7,105.9 596.2,105.9 596.7,105.9 597.2,105.9 597.7,105.9 598.2,106.0 598.7,106.0 599.2,106.0 599.7,106.0 600.2,106.0 600.7,106.0 601.2,106.0 601.7,106.0 602.2,106.0 602.7,106.0 603.2,106.0 603.7,106.0 604.2,106.0 604.7,106.0 605.2,106.0 605.7,106.0 606.2,106.0 606.7,106.0 607.2,106.0 607.7,106.0 608.2,106.0 608.7,106.0 609.2,106.0 609.7,106.0 610.2,106.0 610.7,106.0 611.2,106.0 611.7,106.0 612.2,106.0 612.7,106.0 613.2,106.0 613.7,106.0 614.2,106.0 614.7,106.0 615.2,106.0 615.7,106.0 616.2,106.0 616.7,106.0 617.2,106.0 617.7,106.0 618.2,106.0 618.7,106.0 619.2,106.0 619.7,106.0 620.2,106.0 620.7,106.0 621.2,106.0 621.7,106.0 622.2,106.0 622.7,106.0 623.2,106.0 623.7,106.0 624.2,105.9 624.7,105.9 625.2,105.9 625.7,105.9 626.2,105.9 626.7,105.9 627.2,105.9 627.7,105.9 628.2,105.9 628.7,105.8 629.2,105.8 629.7,105.8 630.2,105.8 630.7,105.8 631.2,105.8 631.7,105.8 632.2,105.8 632.7,105.8 633.2,105.8 633.7,105.8 634.2,105.8 634.7,105.8 635.2,105.8 635.7,105.8 636.2,105.8 636.7,105.8 637.2,105.8 637.7,105.9 638.2,105.9 638.7,105.9 639.2,105.9 639.7,106.0 640.2,106.0 640.7,106.1 641.2,106.3 641.7,106.5 642.2,106.7 642.7,106.9 643.2,107.1 643.7,107.3 644.2,107.4 644.7,107.5 645.2,107.5 645.7,107.4 646.2,107.3 646.7,107.2 647.2,107.0 647.7,106.8 648.2,106.6 648.7,106.4 649.2,106.2 649.7,106.1 650.2,106.0 650.7,105.8 651.2,105.7 651.7,105.6 652.2,105.4 652.7,105.3 653.2,105.2 653.7,105.1 654.2,105.1 654.7,105.0 655.2,105.0 655.7,105.0 656.2,105.0 656.7,105.0 657.2,105.0 657.7,105.0 658.2,105.1 658.7,105.1 659.2,105.1 659.7,105.2 660.2,105.2 660.7,105.2 661.2,105.3 661.7,105.3 662.2,105.4 662.7,105.4 663.2,105.4 663.7,105.5 664.2,105.5 664.7,105.5 665.2,105.5 665.7,105.5 666.2,105.5 666.7,105.5 667.2,105.5 667.7,105.5 668.2,105.5 668.7,105.5 669.2,105.5 669.7,105.5 670.2,105.5 670.7,105.5 671.2,105.5 671.7,105.5 672.2,105.5 672.7,105.5 673.2,105.5 673.7,105.5 674.2,105.5 674.7,105.5 675.2,105.5" fill="none" stroke="#1414f0" stroke-width="2.6" stroke-linejoin="round" stroke-linecap="round"/>
<polyline points="422.7,106.0 423.2,106.0 423.7,106.0 424.2,106.0 424.7,106.0 425.2,106.0 425.7,106.0 426.2,106.0 426.7,106.0 427.2,106.0 427.7,106.0 428.2,106.1 428.7,106.1 429.2,106.1 429.7,106.1 430.2,106.1 430.7,106.1 431.2,106.1 431.7,106.1 432.2,106.1 432.7,106.1 433.2,106.1 433.7,106.1 434.2,106.1 434.7,106.1 435.2,106.1 435.7,106.1 436.2,106.1 436.7,106.1 437.2,106.1 437.7,106.2 438.2,106.2 438.7,106.2 439.2,106.2 439.7,106.2 440.2,106.2 440.7,106.2 441.2,106.3 441.7,106.4 442.2,106.5 442.7,106.6 443.2,106.7 443.7,106.8 444.2,107.0 444.7,107.2 445.2,107.3 445.7,107.5 446.2,107.7 446.7,107.9 447.2,108.1 447.7,108.3 448.2,108.6 448.7,109.0 449.2,109.4 449.7,109.8 450.2,110.3 450.7,110.8 451.2,111.2 451.7,111.7 452.2,112.2 452.7,112.8 453.2,113.4 453.7,114.1 454.2,114.7 454.7,115.3 455.2,115.6 455.7,116.0 456.2,116.4 456.7,116.8 457.2,117.1 457.7,117.4 458.2,117.6 458.7,117.7 459.2,117.7 459.7,117.6 460.2,117.2 460.7,116.6 461.2,115.7 461.7,114.7 462.2,113.4 462.7,111.3 463.2,108.3 463.7,104.7 464.2,100.9 464.7,97.2 465.2,93.6 465.7,89.6 466.2,85.3 466.7,81.0 467.2,77.1 467.7,73.6 468.2,71.0 468.7,68.5 469.2,66.1 469.7,63.8 470.2,61.8 470.7,60.2 471.2,59.2 471.7,58.7 472.2,59.0 472.7,60.1 473.2,61.7 473.7,63.7 474.2,66.0 474.7,69.9 475.2,75.3 475.7,81.7 476.2,88.6 476.7,95.8 477.2,102.9 477.7,110.9 478.2,119.8 478.7,128.9 479.2,137.8 479.7,145.8 480.2,152.7 480.7,159.8 481.2,166.9 481.7,173.6 482.2,179.1 482.7,182.8 483.2,184.0 483.7,182.0 484.2,177.2 484.7,170.3 485.2,162.4 485.7,154.4 486.2,147.1 486.7,138.8 487.2,129.8 487.7,120.5 488.2,111.7 488.7,103.9 489.2,97.6 489.7,92.1 490.2,87.7 490.7,85.1 491.2,83.0 491.7,81.4 492.2,80.3 492.7,80.1 493.2,80.8 493.7,82.1 494.2,83.7 494.7,85.2 495.2,86.5 495.7,87.8 496.2,89.1 496.7,90.5 497.2,91.8 497.7,93.1 498.2,94.3 498.7,95.4 499.2,96.4 499.7,97.2 500.2,98.0 500.7,98.7 501.2,99.4 501.7,100.0 502.2,100.7 502.7,101.5 503.2,102.4 503.7,103.3 504.2,104.4 504.7,105.4 505.2,106.5 505.7,107.5 506.2,108.4 506.7,109.3 507.2,110.3 507.7,111.2 508.2,112.0 508.7,112.5 509.2,112.6 509.7,112.4 510.2,112.1 510.7,111.5 511.2,110.9 511.7,110.3 512.2,109.8 512.7,109.0 513.2,108.2 513.7,107.3 514.2,106.6 514.7,106.1 515.2,106.0 515.7,105.9 516.2,105.8 516.7,105.7 517.2,105.7 517.7,105.6 518.2,105.6 518.7,105.6 519.2,105.5 519.7,105.5 520.2,105.5 520.7,105.5 521.2,105.5 521.7,105.5 522.2,105.5 522.7,105.5 523.2,105.5 523.7,105.5 524.2,105.5 524.7,105.5 525.2,105.5 525.7,105.5 526.2,105.5 526.7,105.5 527.2,105.5 527.7,105.5 528.2,105.5 528.7,105.5 529.2,105.5 529.7,105.5 530.2,105.5 530.7,105.5 531.2,105.5 531.7,105.5 532.2,105.5 532.7,105.6 533.2,105.6 533.7,105.6 534.2,105.6 534.7,105.6 535.2,105.7 535.7,105.7 536.2,105.7 536.7,105.8 537.2,105.8 537.7,105.8 538.2,105.9 538.7,105.9 539.2,105.9 539.7,106.0 540.2,106.0 540.7,106.1 541.2,106.3 541.7,106.5 542.2,106.7 542.7,107.0 543.2,107.3 543.7,107.6 544.2,107.9 544.7,108.2 545.2,108.4 545.7,108.7 546.2,108.8 546.7,109.0 547.2,109.0 547.7,109.0 548.2,108.9 548.7,108.6 549.2,108.3 549.7,107.9 550.2,107.4 550.7,107.0 551.2,106.5 551.7,106.0 552.2,105.6 552.7,105.2 553.2,104.9 553.7,104.6 554.2,104.2 554.7,103.9 555.2,103.6 555.7,103.3 556.2,103.0 556.7,102.8 557.2,102.6 557.7,102.5 558.2,102.5 558.7,102.6 559.2,102.7 559.7,102.9 560.2,103.2 560.7,103.5 561.2,103.8 561.7,104.2 562.2,104.5 562.7,104.8 563.2,105.1 563.7,105.5 564.2,105.9 564.7,106.3 565.2,106.8 565.7,107.2 566.2,107.7 566.7,108.1 567.2,108.5 567.7,108.9 568.2,109.2 568.7,109.4 569.2,109.5 569.7,109.5 570.2,109.3 570.7,109.0 571.2,108.6 571.7,108.1 572.2,107.6 572.7,107.0 573.2,106.5 573.7,105.9 574.2,105.5 574.7,105.2 575.2,104.9 575.7,104.7 576.2,104.5 576.7,104.3 577.2,104.1 577.7,103.9 578.2,103.7 578.7,103.6 579.2,103.4 579.7,103.3 580.2,103.2 580.7,103.1 581.2,103.0 581.7,103.0 582.2,103.0 582.7,103.0 583.2,103.1 583.7,103.2 584.2,103.3 584.7,103.4 585.2,103.6 585.7,103.7 586.2,103.9 586.7,104.1 587.2,104.3 587.7,104.4 588.2,104.6 588.7,104.7 589.2,104.9 589.7,105.0 590.2,105.0 590.7,105.1 591.2,105.2 591.7,105.2 592.2,105.3 592.7,105.4 593.2,105.4 593.7,105.5 594.2,105.6 594.7,105.6 595.2,105.7 595.7,105.7 596.2,105.8 596.7,105.8 597.2,105.9 597.7,105.9 598.2,105.9 598.7,106.0 599.2,106.0 599.7,106.0 600.2,106.0 600.7,106.0 601.2,106.0 601.7,106.0 602.2,106.0 602.7,106.0 603.2,106.1 603.7,106.1 604.2,106.1 604.7,106.1 605.2,106.1 605.7,106.1 606.2,106.1 606.7,106.1 607.2,106.1 607.7,106.1 608.2,106.1 608.7,106.1 609.2,106.1 609.7,106.0 610.2,106.0 610.7,106.0 611.2,106.0 611.7,106.0 612.2,106.0 612.7,106.0 613.2,106.0 613.7,106.0 614.2,106.0 614.7,106.0 615.2,106.0 615.7,106.0 616.2,106.0 616.7,106.0 617.2,106.0 617.7,106.0 618.2,106.0 618.7,106.0 619.2,106.0 619.7,106.0 620.2,106.0 620.7,106.0 621.2,106.0 621.7,106.0 622.2,106.0 622.7,106.0 623.2,106.0 623.7,106.0 624.2,106.0 624.7,106.0 625.2,106.1 625.7,106.1 626.2,106.1 626.7,106.1 627.2,106.1 627.7,106.1 628.2,106.1 628.7,106.1 629.2,106.1 629.7,106.1 630.2,106.2 630.7,106.2 631.2,106.2 631.7,106.2 632.2,106.2 632.7,106.2 633.2,106.2 633.7,106.3 634.2,106.3 634.7,106.3 635.2,106.3 635.7,106.3 636.2,106.3 636.7,106.4 637.2,106.4 637.7,106.4 638.2,106.4 638.7,106.4 639.2,106.5 639.7,106.5 640.2,106.5 640.7,106.6 641.2,106.7 641.7,106.8 642.2,107.0 642.7,107.1 643.2,107.2 643.7,107.4 644.2,107.5 644.7,107.5 645.2,107.5 645.7,107.4 646.2,107.3 646.7,107.2 647.2,107.0 647.7,106.8 648.2,106.6 648.7,106.4 649.2,106.2 649.7,106.1 650.2,106.0 650.7,105.8 651.2,105.7 651.7,105.6 652.2,105.4 652.7,105.3 653.2,105.2 653.7,105.1 654.2,105.1 654.7,105.0 655.2,105.0 655.7,105.0 656.2,105.0 656.7,105.0 657.2,105.0 657.7,105.0 658.2,105.0 658.7,105.0 659.2,105.1 659.7,105.1 660.2,105.1 660.7,105.1 661.2,105.2 661.7,105.2 662.2,105.2 662.7,105.2 663.2,105.3 663.7,105.3 664.2,105.3 664.7,105.3 665.2,105.3 665.7,105.3 666.2,105.3 666.7,105.3 667.2,105.3 667.7,105.3 668.2,105.3 668.7,105.3 669.2,105.3 669.7,105.2 670.2,105.2 670.7,105.2 671.2,105.2 671.7,105.2 672.2,105.2 672.7,105.2 673.2,105.2 673.7,105.1 674.2,105.1 674.7,105.1 675.2,105.1" fill="none" stroke="#14f014" stroke-width="2.6" stroke-linejoin="round" stroke-linecap="round"/>
<polyline points="422.7,107.0 423.2,107.0 423.7,107.0 424.2,107.0 424.7,107.0 425.2,107.0 425.7,107.0 426.2,107.0 426.7,107.0 427.2,107.0 427.7,107.0 428.2,107.0 428.7,107.0 429.2,107.0 429.7,107.0 430.2,107.0 430.7,107.0 431.2,107.0 431.7,107.0 432.2,107.0 432.7,107.0 433.2,107.0 433.7,107.1 434.2,107.1 434.7,107.1 435.2,107.1 435.7,107.1 436.2,107.1 436.7,107.1 437.2,107.2 437.7,107.2 438.2,107.2 438.7,107.2 439.2,107.3 439.7,107.3 440.2,107.3 440.7,107.4 441.2,107.4 441.7,107.5 442.2,107.6 442.7,107.8 443.2,107.9 443.7,108.1 444.2,108.3 444.7,108.5 445.2,108.7 445.7,108.9 446.2,109.1 446.7,109.4 447.2,109.8 447.7,110.2 448.2,110.7 448.7,111.2 449.2,111.8 449.7,112.4 450.2,113.0 450.7,113.6 451.2,114.2 451.7,114.9 452.2,115.7 452.7,116.5 453.2,117.3 453.7,118.1 454.2,118.9 454.7,119.6 455.2,120.3 455.7,121.0 456.2,121.8 456.7,122.5 457.2,123.2 457.7,123.9 458.2,124.3 458.7,124.6 459.2,124.7 459.7,124.5 460.2,123.9 460.7,123.1 461.2,122.0 461.7,120.8 462.2,119.4 462.7,117.3 463.2,114.4 463.7,110.9 464.2,106.9 464.7,102.6 465.2,98.1 465.7,92.3 466.2,85.4 466.7,78.0 467.2,70.5 467.7,63.7 468.2,57.7 468.7,51.7 469.2,45.7 469.7,40.1 470.2,35.3 470.7,31.6 471.2,29.2 471.7,27.2 472.2,25.6 472.7,24.6 473.2,24.4 473.7,25.0 474.2,26.3 474.7,28.1 475.2,30.4 475.7,33.5 476.2,39.9 476.7,49.5 477.2,60.9 477.7,73.0 478.2,84.8 478.7,98.8 479.2,114.3 479.7,129.6 480.2,143.3 480.7,154.1 481.2,164.6 481.7,174.8 482.2,183.8 482.7,190.7 483.2,194.7 483.7,194.8 484.2,191.5 484.7,185.6 485.2,178.1 485.7,169.9 486.2,161.3 486.7,149.0 487.2,134.6 487.7,121.2 488.2,111.5 488.7,102.7 489.2,95.0 489.7,89.6 490.2,87.4 490.7,86.2 491.2,85.4 491.7,85.2 492.2,85.8 492.7,87.1 493.2,88.9 493.7,90.8 494.2,92.8 494.7,95.5 495.2,98.6 495.7,101.8 496.2,104.7 496.7,107.1 497.2,108.5 497.7,109.7 498.2,110.9 498.7,112.0 499.2,113.0 499.7,113.8 500.2,114.5 500.7,115.0 501.2,115.3 501.7,115.3 502.2,114.9 502.7,114.1 503.2,113.0 503.7,111.7 504.2,110.3 504.7,108.8 505.2,107.4 505.7,105.5 506.2,103.2 506.7,101.0 507.2,98.9 507.7,97.5 508.2,96.8 508.7,96.3 509.2,95.9 509.7,95.6 510.2,95.4 510.7,95.3 511.2,95.4 511.7,95.7 512.2,96.3 512.7,97.0 513.2,97.8 513.7,98.6 514.2,99.3 514.7,100.1 515.2,101.1 515.7,102.2 516.2,103.2 516.7,104.1 517.2,105.0 517.7,105.6 518.2,105.9 518.7,106.0 519.2,106.1 519.7,106.2 520.2,106.2 520.7,106.3 521.2,106.4 521.7,106.4 522.2,106.4 522.7,106.5 523.2,106.5 523.7,106.5 524.2,106.5 524.7,106.5 525.2,106.5 525.7,106.5 526.2,106.4 526.7,106.3 527.2,106.2 527.7,106.1 528.2,106.0 528.7,105.9 529.2,105.8 529.7,105.6 530.2,105.5 530.7,105.3 531.2,105.2 531.7,105.0 532.2,104.8 532.7,104.7 533.2,104.5 533.7,104.4 534.2,104.2 534.7,104.1 535.2,103.9 535.7,103.8 536.2,103.6 536.7,103.5 537.2,103.3 537.7,103.1 538.2,102.9 538.7,102.7 539.2,102.5 539.7,102.3 540.2,102.1 540.7,101.9 541.2,101.8 541.7,101.6 542.2,101.5 542.7,101.4 543.2,101.3 543.7,101.2 544.2,101.2 544.7,101.2 545.2,101.3 545.7,101.4 546.2,101.5 546.7,101.7 547.2,101.9 547.7,102.2 548.2,102.4 548.7,102.7 549.2,103.0 549.7,103.2 550.2,103.5 550.7,103.7 551.2,103.8 551.7,103.9 552.2,104.0 552.7,104.0 553.2,103.9 553.7,103.7 554.2,103.3 554.7,102.9 555.2,102.5 555.7,102.0 556.2,101.6 556.7,101.2 557.2,100.8 557.7,100.6 558.2,100.4 558.7,100.4 559.2,100.6 559.7,100.9 560.2,101.2 560.7,101.7 561.2,102.2 561.7,102.7 562.2,103.2 562.7,103.7 563.2,104.2 563.7,104.7 564.2,105.2 564.7,105.8 565.2,106.4 565.7,107.1 566.2,107.7 566.7,108.2 567.2,108.8 567.7,109.2 568.2,109.6 568.7,109.8 569.2,110.0 569.7,110.0 570.2,109.8 570.7,109.4 571.2,108.8 571.7,108.2 572.2,107.4 572.7,106.7 573.2,106.0 573.7,105.3 574.2,104.7 574.7,104.2 575.2,103.9 575.7,103.6 576.2,103.3 576.7,103.1 577.2,102.8 577.7,102.6 578.2,102.4 578.7,102.2 579.2,102.1 579.7,102.0 580.2,101.9 580.7,101.9 581.2,101.9 581.7,102.0 582.2,102.1 582.7,102.2 583.2,102.3 583.7,102.4 584.2,102.6 584.7,102.8 585.2,102.9 585.7,103.1 586.2,103.3 586.7,103.5 587.2,103.7 587.7,103.9 588.2,104.0 588.7,104.2 589.2,104.3 589.7,104.4 590.2,104.5 590.7,104.6 591.2,104.7 591.7,104.8 592.2,104.9 592.7,105.0 593.2,105.1 593.7,105.2 594.2,105.3 594.7,105.4 595.2,105.5 595.7,105.6 596.2,105.6 596.7,105.7 597.2,105.8 597.7,105.8 598.2,105.9 598.7,105.9 599.2,106.0 599.7,106.0 600.2,106.0 600.7,106.0 601.2,106.1 601.7,106.1 602.2,106.1 602.7,106.1 603.2,106.1 603.7,106.2 604.2,106.2 604.7,106.2 605.2,106.2 605.7,106.2 606.2,106.2 606.7,106.3 607.2,106.3 607.7,106.3 608.2,106.3 608.7,106.3 609.2,106.3 609.7,106.4 610.2,106.4 610.7,106.4 611.2,106.4 611.7,106.4 612.2,106.4 612.7,106.4 613.2,106.4 613.7,106.4 614.2,106.5 614.7,106.5 615.2,106.5 615.7,106.5 616.2,106.5 616.7,106.5 617.2,106.5 617.7,106.5 618.2,106.5 618.7,106.5 619.2,106.5 619.7,106.5 620.2,106.5 620.7,106.5 621.2,106.5 621.7,106.5 622.2,106.5 622.7,106.4 623.2,106.4 623.7,106.4 624.2,106.4 624.7,106.3 625.2,106.3 625.7,106.3 626.2,106.3 626.7,106.2 627.2,106.2 627.7,106.2 628.2,106.1 628.7,106.1 629.2,106.1 629.7,106.1 630.2,106.0 630.7,106.0 631.2,106.0 631.7,106.0 632.2,106.0 632.7,106.0 633.2,106.0 633.7,106.0 634.2,106.0 634.7,106.0 635.2,106.0 635.7,106.0 636.2,106.1 636.7,106.2 637.2,106.3 637.7,106.4 638.2,106.5 638.7,106.6 639.2,106.7 639.7,106.8 640.2,107.0 640.7,107.1 641.2,107.2 641.7,107.3 642.2,107.4 642.7,107.5 643.2,107.5 643.7,107.6 644.2,107.6 644.7,107.6 645.2,107.6 645.7,107.4 646.2,107.3 646.7,107.0 647.2,106.8 647.7,106.5 648.2,106.3 648.7,106.1 649.2,105.9 649.7,105.8 650.2,105.6 650.7,105.5 651.2,105.3 651.7,105.2 652.2,105.0 652.7,104.9 653.2,104.8 653.7,104.7 654.2,104.7 654.7,104.7 655.2,104.7 655.7,104.8 656.2,104.8 656.7,104.9 657.2,105.0 657.7,105.1 658.2,105.2 658.7,105.3 659.2,105.4 659.7,105.5 660.2,105.5 660.7,105.6 661.2,105.6 661.7,105.7 662.2,105.8 662.7,105.8 663.2,105.9 663.7,105.9 664.2,106.0 664.7,106.0 665.2,106.1 665.7,106.1 666.2,106.2 666.7,106.3 667.2,106.4 667.7,106.4 668.2,106.5 668.7,106.6 669.2,106.8 669.7,106.9 670.2,107.1 670.7,107.2 671.2,107.4 671.7,107.6 672.2,107.8 672.7,108.0 673.2,108.2 673.7,108.4 674.2,108.5 674.7,108.7 675.2,108.9" fill="none" stroke="#ff0a0a" stroke-width="2.6" stroke-linejoin="round" stroke-linecap="round"/>
</g>
<rect x="422.7" y="6.6" width="253.00000000000006" height="199.4" fill="none" stroke="#262626" stroke-width="1.2"/>
<line x1="422.7" y1="206" x2="422.7" y2="202" stroke="#262626" stroke-width="1.1"/>
<text x="422.7" y="223.5" font-family='"Liberation Serif", serif' font-size="16" text-anchor="middle" fill="#000">0.5</text>
<line x1="485.95" y1="206" x2="485.95" y2="202" stroke="#262626" stroke-width="1.1"/>
<text x="485.95" y="223.5" font-family='"Liberation Serif", serif' font-size="16" text-anchor="middle" fill="#000">1.0</text>
<line x1="549.2" y1="206" x2="549.2" y2="202" stroke="#262626" stroke-width="1.1"/>
<text x="549.2" y="223.5" font-family='"Liberation Serif", serif' font-size="16" text-anchor="middle" fill="#000">1.5</text>
<line x1="612.45" y1="206" x2="612.45" y2="202" stroke="#262626" stroke-width="1.1"/>
<text x="612.45" y="223.5" font-family='"Liberation Serif", serif' font-size="16" text-anchor="middle" fill="#000">2.0</text>
<line x1="675.7" y1="206" x2="675.7" y2="202" stroke="#262626" stroke-width="1.1"/>
<text x="675.7" y="223.5" font-family='"Liberation Serif", serif' font-size="16" text-anchor="middle" fill="#000">2.5</text>
<line x1="454.32" y1="206" x2="454.32" y2="204" stroke="#262626" stroke-width="1.1"/>
<line x1="517.58" y1="206" x2="517.58" y2="204" stroke="#262626" stroke-width="1.1"/>
<line x1="580.83" y1="206" x2="580.83" y2="204" stroke="#262626" stroke-width="1.1"/>
<line x1="644.08" y1="206" x2="644.08" y2="204" stroke="#262626" stroke-width="1.1"/>
<text x="417.5" y="11.4" font-family='"Liberation Serif", serif' font-size="16" text-anchor="end" fill="#000">4</text>
<text x="417.5" y="61.2" font-family='"Liberation Serif", serif' font-size="16" text-anchor="end" fill="#000">2</text>
<text x="417.5" y="111" font-family='"Liberation Serif", serif' font-size="16" text-anchor="end" fill="#000">0</text>
<text x="417.5" y="160.8" font-family='"Liberation Serif", serif' font-size="16" text-anchor="end" fill="#000">-2</text>
<text x="417.5" y="210.6" font-family='"Liberation Serif", serif' font-size="16" text-anchor="end" fill="#000">-4</text>
<text x="391.8" y="13.9" font-family='"Liberation Serif", serif' font-size="16" text-anchor="middle" fill="#000">(b)</text>
<text x="390" y="106" font-family='"Liberation Serif", serif' font-size="20.5" text-anchor="middle" fill="#000" transform="rotate(-90 390 106)"><tspan dy="0" font-size="20.5">Δα</tspan><tspan dy="6.15" font-size="12.71">NDD</tspan><tspan dy="-6.15" font-size="20.5">/α (%)</tspan></text>
<text x="554.8" y="246.2" font-family='"Liberation Serif", serif' font-size="20.8" text-anchor="middle" fill="#000">Energy (eV)</text>
<line x1="602.1" y1="147.7" x2="632.7" y2="147.7" stroke="#1414f0" stroke-width="2.6"/>
<text x="635.3" y="152.3" font-family='"Liberation Serif", serif' font-size="13" text-anchor="start" fill="#000">20 T</text>
<line x1="602.1" y1="163.6" x2="632.7" y2="163.6" stroke="#14f014" stroke-width="2.6"/>
<text x="635.3" y="168.2" font-family='"Liberation Serif", serif' font-size="13" text-anchor="start" fill="#000">40 T</text>
<line x1="602.1" y1="180" x2="632.7" y2="180" stroke="#ff0a0a" stroke-width="2.6"/>
<text x="635.3" y="184.6" font-family='"Liberation Serif", serif' font-size="13" text-anchor="start" fill="#000">60 T</text>
<rect x="540" y="17" width="111.20000000000005" height="57.599999999999994" fill="#fff" stroke="#999" stroke-width="1"/>
<line x1="554.9" y1="74.6" x2="554.9" y2="72.1" stroke="#777" stroke-width="0.8"/>
<text x="554.9" y="86.5" font-family='"Liberation Serif", serif' font-size="12" text-anchor="middle" fill="#000">1.0</text>
<line x1="587" y1="74.6" x2="587" y2="72.1" stroke="#777" stroke-width="0.8"/>
<text x="587" y="86.5" font-family='"Liberation Serif", serif' font-size="12" text-anchor="middle" fill="#000">1.5</text>
<line x1="619.1" y1="74.6" x2="619.1" y2="72.1" stroke="#777" stroke-width="0.8"/>
<text x="619.1" y="86.5" font-family='"Liberation Serif", serif' font-size="12" text-anchor="middle" fill="#000">2.0</text>
<line x1="651.2" y1="74.6" x2="651.2" y2="72.1" stroke="#777" stroke-width="0.8"/>
<text x="651.2" y="86.5" font-family='"Liberation Serif", serif' font-size="12" text-anchor="middle" fill="#000">2.5</text>
<line x1="570.95" y1="74.6" x2="570.95" y2="73.1" stroke="#777" stroke-width="0.8"/>
<line x1="603.05" y1="74.6" x2="603.05" y2="73.1" stroke="#777" stroke-width="0.8"/>
<line x1="635.15" y1="74.6" x2="635.15" y2="73.1" stroke="#777" stroke-width="0.8"/>
<clipPath id="cbi"><rect x="540" y="17" width="111.20000000000005" height="57.599999999999994"/></clipPath>
<g clip-path="url(#cbi)">
<polyline points="540.0,41.0 540.5,41.3 541.0,41.7 541.5,42.0 542.0,42.0 542.5,41.7 543.0,41.1 543.5,40.3 544.0,39.4 544.5,38.2 545.0,37.0 545.5,35.0 546.0,32.0 546.5,28.5 547.0,24.9 547.5,22.0 548.0,20.1 548.5,19.9 549.0,21.0 549.5,23.2 550.0,26.0 550.5,29.3 551.0,32.7 551.5,36.0 552.0,39.8 552.5,44.5 553.0,49.7 553.5,54.7 554.0,59.0 554.5,62.0 555.0,63.0 555.5,62.0 556.0,59.4 556.5,56.2 557.0,53.0 557.5,49.2 558.0,44.5 558.5,40.0 559.0,36.6 559.5,35.5 560.0,35.8 560.5,36.8 561.0,38.2 561.5,39.4 562.0,40.3 562.5,41.2 563.0,42.1 563.5,42.8 564.0,43.3 564.5,43.2 565.0,42.3 565.5,41.1 566.0,39.8 566.5,39.0 567.0,38.6 567.5,38.2 568.0,37.9 568.5,37.8 569.0,37.9 569.5,38.4 570.0,39.0 570.5,39.6 571.0,40.0 571.5,40.2 572.0,40.3 572.5,40.4 573.0,40.5 573.5,40.5 574.0,40.5 574.5,40.5 575.0,40.4 575.5,40.4 576.0,40.3 576.5,40.2 577.0,40.1 577.5,40.0 578.0,39.9 578.5,39.8 579.0,39.7 579.5,39.6 580.0,39.5 580.5,39.4 581.0,39.3 581.5,39.2 582.0,39.1 582.5,39.0 583.0,38.8 583.5,38.7 584.0,38.6 584.5,38.5 585.0,38.4 585.5,38.4 586.0,38.3 586.5,38.3 587.0,38.3 587.5,38.3 588.0,38.4 588.5,38.5 589.0,38.5 589.5,38.6 590.0,38.8 590.5,38.9 591.0,39.0 591.5,39.1 592.0,39.2 592.5,39.3 593.0,39.5 593.5,39.6 594.0,39.7 594.5,39.8 595.0,40.0 595.5,40.1 596.0,40.3 596.5,40.4 597.0,40.6 597.5,40.7 598.0,40.8 598.5,40.9 599.0,41.0 599.5,41.1 600.0,41.1 600.5,41.1 601.0,41.1 601.5,41.1 602.0,41.1 602.5,41.0 603.0,41.0 603.5,40.9 604.0,40.9 604.5,40.8 605.0,40.8 605.5,40.7 606.0,40.6 606.5,40.6 607.0,40.5 607.5,40.5 608.0,40.4 608.5,40.4 609.0,40.3 609.5,40.3 610.0,40.3 610.5,40.3 611.0,40.3 611.5,40.3 612.0,40.3 612.5,40.3 613.0,40.3 613.5,40.3 614.0,40.3 614.5,40.3 615.0,40.3 615.5,40.3 616.0,40.3 616.5,40.3 617.0,40.3 617.5,40.3 618.0,40.3 618.5,40.3 619.0,40.3 619.5,40.3 620.0,40.3 620.5,40.3 621.0,40.3 621.5,40.3 622.0,40.3 622.5,40.3 623.0,40.3 623.5,40.3 624.0,40.3 624.5,40.3 625.0,40.3 625.5,40.3 626.0,40.3 626.5,40.3 627.0,40.3 627.5,40.3 628.0,40.3 628.5,40.3 629.0,40.2 629.5,40.2 630.0,40.2 630.5,40.2 631.0,40.2 631.5,40.2 632.0,40.2 632.5,40.1 633.0,40.1 633.5,40.1 634.0,40.1 634.5,40.1 635.0,40.1 635.5,40.1 636.0,40.1 636.5,40.0 637.0,40.0 637.5,40.0 638.0,40.0 638.5,40.0 639.0,40.0 639.5,40.0 640.0,40.0 640.5,40.0 641.0,40.0 641.5,40.0 642.0,40.0 642.5,40.0 643.0,40.0 643.5,40.0 644.0,40.0 644.5,40.0 645.0,40.0 645.5,40.0 646.0,40.0 646.5,40.0 647.0,40.0 647.5,40.0 648.0,40.0 648.5,40.0 649.0,40.0 649.5,40.0 650.0,40.0 650.5,40.0 651.0,40.0" fill="none" stroke="#ff2020" stroke-width="1.2" stroke-linejoin="round" stroke-linecap="round"/>
<polyline points="540.0,42.0 540.5,71.3 541.0,63.6 541.5,45.0 542.0,52.0 542.5,57.1 543.0,50.0 543.5,45.3 544.0,42.6 544.5,40.6 545.0,38.9 545.5,37.0 546.0,34.4 546.5,31.2 547.0,27.8 547.5,24.6 548.0,21.8 548.5,19.9 549.0,19.2 549.5,19.8 550.0,21.6 550.5,24.2 551.0,27.3 551.5,30.7 552.0,34.1 552.5,37.3 553.0,41.5 553.5,46.3 554.0,51.4 554.5,56.3 555.0,60.6 555.5,63.7 556.0,65.2 556.5,65.0 557.0,63.6 557.5,61.5 558.0,59.2 558.5,57.0 559.0,54.7 559.5,52.0 560.0,49.1 560.5,46.5 561.0,44.4 561.5,43.3 562.0,42.8 562.5,42.3 563.0,41.9 563.5,41.6 564.0,41.3 564.5,41.1 565.0,41.0 565.5,41.0 566.0,41.0 566.5,41.0 567.0,41.1 567.5,41.2 568.0,41.3 568.5,41.3 569.0,41.4 569.5,41.5 570.0,41.5 570.5,41.5 571.0,41.5 571.5,41.5 572.0,41.4 572.5,41.4 573.0,41.3 573.5,41.3 574.0,41.2 574.5,41.2 575.0,41.1 575.5,41.1 576.0,41.0 576.5,40.9 577.0,40.9 577.5,40.8 578.0,40.7 578.5,40.6 579.0,40.5 579.5,40.3 580.0,40.2 580.5,40.1 581.0,40.0 581.5,39.9 582.0,39.7 582.5,39.6 583.0,39.5 583.5,39.4 584.0,39.2 584.5,39.0 585.0,38.9 585.5,38.7 586.0,38.6 586.5,38.5 587.0,38.5 587.5,38.5 588.0,38.6 588.5,38.8 589.0,39.0 589.5,39.2 590.0,39.4 590.5,39.6 591.0,39.8 591.5,39.9 592.0,40.0 592.5,40.1 593.0,40.2 593.5,40.3 594.0,40.4 594.5,40.4 595.0,40.5 595.5,40.6 596.0,40.6 596.5,40.6 597.0,40.5 597.5,40.3 598.0,39.8 598.5,39.3 599.0,38.7 599.5,38.2 600.0,37.9 600.5,37.9 601.0,38.4 601.5,39.3 602.0,40.2 602.5,41.1 603.0,41.5 603.5,41.6 604.0,41.7 604.5,41.7 605.0,41.6 605.5,41.5 606.0,41.4 606.5,41.3 607.0,41.2 607.5,41.1 608.0,41.0 608.5,40.9 609.0,40.9 609.5,40.8 610.0,40.7 610.5,40.7 611.0,40.6 611.5,40.5 612.0,40.5 612.5,40.4 613.0,40.3 613.5,40.3 614.0,40.3 614.5,40.2 615.0,40.2 615.5,40.2 616.0,40.2 616.5,40.2 617.0,40.2 617.5,40.2 618.0,40.1 618.5,40.1 619.0,40.1 619.5,40.1 620.0,40.1 620.5,40.1 621.0,40.1 621.5,40.1 622.0,40.1 622.5,40.1 623.0,40.2 623.5,40.2 624.0,40.2 624.5,40.2 625.0,40.2 625.5,40.2 626.0,40.2 626.5,40.2 627.0,40.2 627.5,40.2 628.0,40.2 628.5,40.2 629.0,40.2 629.5,40.2 630.0,40.2 630.5,40.2 631.0,40.2 631.5,40.2 632.0,40.2 632.5,40.2 633.0,40.2 633.5,40.2 634.0,40.2 634.5,40.2 635.0,40.2 635.5,40.2 636.0,40.2 636.5,40.2 637.0,40.2 637.5,40.2 638.0,40.2 638.5,40.2 639.0,40.2 639.5,40.2 640.0,40.2 640.5,40.2 641.0,40.2 641.5,40.2 642.0,40.2 642.5,40.2 643.0,40.2 643.5,40.2 644.0,40.2 644.5,40.2 645.0,40.2 645.5,40.2 646.0,40.2 646.5,40.2 647.0,40.2 647.5,40.2 648.0,40.2 648.5,40.2 649.0,40.2 649.5,40.2 650.0,40.2 650.5,40.2 651.0,40.2" fill="none" stroke="#1a1aff" stroke-width="1.4" stroke-linejoin="round" stroke-linecap="round"/>
</g>
<text x="582.7" y="31" font-family='"Liberation Serif", serif' font-size="9.5" text-anchor="middle" fill="#ff2020">Theory</text>
<text x="595.4" y="60.5" font-family='"Liberation Serif", serif' font-size="9.5" text-anchor="middle" fill="#1a1aff">Experiment</text>
<text x="596.5" y="98.5" font-family='"Liberation Serif", serif' font-size="12.5" text-anchor="middle" fill="#000">Energy (eV)</text>
<text x="530.8" y="55.5" font-family='"Liberation Serif", serif' font-size="12.6" text-anchor="middle" fill="#000" transform="rotate(-90 530.8 55.5)"><tspan dy="0" font-size="12.6">Δα</tspan><tspan dy="3.78" font-size="7.81">NDD</tspan><tspan dy="-3.78" font-size="12.6"> (Arb. Units)</tspan></text>
<line x1="57.2" y1="341.9" x2="308.1" y2="341.9" stroke="#111" stroke-width="1.7" stroke-dasharray="7 6.4"/>
<line x1="96.0" y1="258.5" x2="96.0" y2="455.5" stroke="#111" stroke-width="1.8" stroke-dasharray="1.8 6.3"/>
<line x1="114.8" y1="258.5" x2="114.8" y2="455.5" stroke="#111" stroke-width="1.8" stroke-dasharray="1.8 6.3"/>
<line x1="131.7" y1="258.5" x2="131.7" y2="455.5" stroke="#111" stroke-width="1.8" stroke-dasharray="1.8 6.3"/>
<clipPath id="cc"><rect x="57.2" y="256.4" width="252.90000000000003" height="199.10000000000002"/></clipPath>
<g clip-path="url(#cc)">
<polyline points="57.2,446.3 57.6,446.3 58.0,446.3 58.4,446.3 58.8,446.3 59.2,446.3 59.6,446.3 60.0,446.3 60.4,446.3 60.8,446.3 61.2,446.3 61.6,446.3 62.0,446.3 62.4,446.3 62.8,446.3 63.2,446.3 63.6,446.3 64.0,446.3 64.4,446.3 64.8,446.3 65.2,446.3 65.6,446.3 66.0,446.3 66.4,446.3 66.8,446.3 67.2,446.3 67.6,446.3 68.0,446.3 68.4,446.3 68.8,446.3 69.2,446.3 69.6,446.3 70.0,446.3 70.4,446.3 70.8,446.3 71.2,446.3 71.6,446.3 72.0,446.3 72.4,446.3 72.8,446.3 73.2,446.3 73.6,446.2 74.0,446.2 74.4,446.2 74.8,446.2 75.2,446.2 75.6,446.2 76.0,446.2 76.4,446.2 76.8,446.2 77.2,446.1 77.6,446.1 78.0,446.1 78.4,446.1 78.8,446.1 79.2,446.1 79.6,446.1 80.0,446.0 80.4,446.0 80.8,446.0 81.2,446.0 81.6,446.0 82.0,445.9 82.4,445.9 82.8,445.9 83.2,445.9 83.6,445.9 84.0,445.9 84.4,445.8 84.8,445.8 85.2,445.8 85.6,445.8 86.0,445.7 86.4,445.7 86.8,445.7 87.2,445.7 87.6,445.6 88.0,445.6 88.4,445.5 88.8,445.5 89.2,445.4 89.6,445.4 90.0,445.3 90.4,445.3 90.8,445.2 91.2,445.2 91.6,445.1 92.0,445.0 92.4,444.9 92.8,444.7 93.2,444.4 93.6,444.1 94.0,443.7 94.4,443.1 94.8,441.4 95.2,437.6 95.6,434.5 96.0,432.1 96.4,433.1 96.8,436.0 97.2,439.5 97.6,442.0 98.0,442.6 98.4,443.0 98.8,443.0 99.2,443.0 99.6,442.9 100.0,442.8 100.4,442.6 100.8,442.4 101.2,442.1 101.6,441.9 102.0,441.6 102.4,441.4 102.8,441.1 103.2,440.9 103.6,440.6 104.0,440.4 104.4,440.1 104.8,439.8 105.2,439.6 105.6,439.2 106.0,438.9 106.4,438.6 106.8,438.2 107.2,437.8 107.6,437.4 108.0,437.0 108.4,436.5 108.8,436.0 109.2,435.3 109.6,434.6 110.0,433.9 110.4,433.1 110.8,432.4 111.2,431.6 111.6,430.6 112.0,429.5 112.4,428.3 112.8,427.4 113.2,426.7 113.6,426.4 114.0,426.6 114.4,427.3 114.8,428.3 115.2,429.3 115.6,430.2 116.0,431.3 116.4,432.6 116.8,433.8 117.2,434.9 117.6,435.7 118.0,436.4 118.4,437.0 118.8,437.5 119.2,437.7 119.6,437.6 120.0,437.4 120.4,437.0 120.8,436.5 121.2,435.9 121.6,435.4 122.0,435.0 122.4,434.6 122.8,434.2 123.2,433.8 123.6,433.4 124.0,433.0 124.4,432.6 124.8,432.2 125.2,431.8 125.6,431.4 126.0,431.0 126.4,430.6 126.8,430.1 127.2,429.7 127.6,429.3 128.0,428.8 128.4,428.5 128.8,428.1 129.2,427.9 129.6,427.6 130.0,427.4 130.4,427.2 130.8,427.0 131.2,427.0 131.6,427.1 132.0,427.3 132.4,427.6 132.8,427.9 133.2,428.3 133.6,428.6 134.0,429.0 134.4,429.4 134.8,429.9 135.2,430.4 135.6,430.9 136.0,431.5 136.4,431.9 136.8,432.3 137.2,432.6 137.6,432.7 138.0,432.7 138.4,432.7 138.8,432.7 139.2,432.5 139.6,432.4 140.0,432.3 140.4,432.1 140.8,431.9 141.2,431.8 141.6,431.6 142.0,431.5 142.4,431.4 142.8,431.3 143.2,431.2 143.6,431.1 144.0,431.0 144.4,430.9 144.8,430.8 145.2,430.7 145.6,430.6 146.0,430.5 146.4,430.4 146.8,430.3 147.2,430.2 147.6,430.1 148.0,430.0 148.4,429.9 148.8,429.9 149.2,429.8 149.6,429.7 150.0,429.7 150.4,429.6 150.8,429.6 151.2,429.5 151.6,429.5 152.0,429.4 152.4,429.4 152.8,429.3 153.2,429.2 153.6,429.1 154.0,429.0 154.4,428.6 154.8,427.2 155.2,425.4 155.6,423.8 156.0,422.7 156.4,423.5 156.8,425.0 157.2,427.5 157.6,429.0 158.0,429.5 158.4,429.9 158.8,430.2 159.2,430.5 159.6,430.7 160.0,430.8 160.4,430.9 160.8,430.9 161.2,430.9 161.6,430.8 162.0,430.7 162.4,430.6 162.8,430.4 163.2,430.2 163.6,429.9 164.0,429.7 164.4,429.4 164.8,429.1 165.2,428.8 165.6,428.5 166.0,428.2 166.4,427.9 166.8,427.6 167.2,427.3 167.6,427.0 168.0,426.8 168.4,426.5 168.8,426.3 169.2,426.1 169.6,426.0 170.0,425.9 170.4,425.7 170.8,425.6 171.2,425.4 171.6,425.3 172.0,425.1 172.4,424.9 172.8,424.7 173.2,424.4 173.6,424.1 174.0,423.8 174.4,423.1 174.8,421.8 175.2,420.3 175.6,418.7 176.0,417.3 176.4,416.3 176.8,416.0 177.2,416.6 177.6,417.7 178.0,418.9 178.4,419.9 178.8,420.3 179.2,420.7 179.6,421.1 180.0,421.4 180.4,421.5 180.8,421.6 181.2,421.6 181.6,421.6 182.0,421.5 182.4,421.4 182.8,421.3 183.2,421.2 183.6,421.0 184.0,420.9 184.4,420.7 184.8,420.5 185.2,420.2 185.6,420.0 186.0,419.8 186.4,419.5 186.8,419.3 187.2,419.0 187.6,418.8 188.0,418.5 188.4,418.3 188.8,418.0 189.2,417.7 189.6,417.3 190.0,416.9 190.4,416.5 190.8,416.1 191.2,415.6 191.6,415.1 192.0,414.7 192.4,414.2 192.8,413.8 193.2,413.4 193.6,413.0 194.0,412.7 194.4,412.4 194.8,412.1 195.2,411.9 195.6,411.6 196.0,411.3 196.4,411.1 196.8,410.8 197.2,410.6 197.6,410.4 198.0,410.1 198.4,409.9 198.8,409.7 199.2,409.4 199.6,409.2 200.0,409.0 200.4,408.7 200.8,408.5 201.2,408.3 201.6,408.0 202.0,407.8 202.4,407.5 202.8,407.2 203.2,406.9 203.6,406.6 204.0,406.2 204.4,405.9 204.8,405.5 205.2,405.2 205.6,404.8 206.0,404.5 206.4,404.3 206.8,404.1 207.2,404.0 207.6,403.9 208.0,403.8 208.4,403.7 208.8,403.6 209.2,403.6 209.6,403.5 210.0,403.5 210.4,403.4 210.8,403.4 211.2,403.3 211.6,403.3 212.0,403.2 212.4,403.2 212.8,403.1 213.2,403.0 213.6,402.9 214.0,402.8 214.4,402.7 214.8,402.5 215.2,402.3 215.6,402.1 216.0,401.8 216.4,401.6 216.8,401.3 217.2,401.0 217.6,400.7 218.0,400.4 218.4,400.1 218.8,399.8 219.2,399.5 219.6,399.2 220.0,398.9 220.4,398.6 220.8,398.3 221.2,398.1 221.6,397.8 222.0,397.6 222.4,397.4 222.8,397.3 223.2,397.1 223.6,397.0 224.0,396.8 224.4,396.7 224.8,396.5 225.2,396.4 225.6,396.3 226.0,396.2 226.4,396.0 226.8,395.9 227.2,395.8 227.6,395.7 228.0,395.6 228.4,395.5 228.8,395.4 229.2,395.2 229.6,395.1 230.0,395.0 230.4,394.9 230.8,394.8 231.2,394.7 231.6,394.5 232.0,394.4 232.4,394.3 232.8,394.1 233.2,394.0 233.6,393.9 234.0,393.7 234.4,393.6 234.8,393.4 235.2,393.2 235.6,393.1 236.0,392.9 236.4,392.8 236.8,392.6 237.2,392.5 237.6,392.3 238.0,392.1 238.4,392.0 238.8,391.8 239.2,391.6 239.6,391.4 240.0,391.3 240.4,391.1 240.8,390.9 241.2,390.8 241.6,390.6 242.0,390.4 242.4,390.2 242.8,390.0 243.2,389.9 243.6,389.7 244.0,389.5 244.4,389.3 244.8,389.1 245.2,389.0 245.6,388.8 246.0,388.6 246.4,388.4 246.8,388.2 247.2,388.0 247.6,387.9 248.0,387.7 248.4,387.5 248.8,387.3 249.2,387.1 249.6,386.9 250.0,386.7 250.4,386.5 250.8,386.3 251.2,386.1 251.6,385.9 252.0,385.7 252.4,385.5 252.8,385.3 253.2,385.1 253.6,384.9 254.0,384.7 254.4,384.5 254.8,384.3 255.2,384.0 255.6,383.8 256.0,383.6 256.4,383.4 256.8,383.2 257.2,383.0 257.6,382.8 258.0,382.6 258.4,382.3 258.8,382.1 259.2,381.9 259.6,381.7 260.0,381.5 260.4,381.3 260.8,381.1 261.2,381.0 261.6,380.8 262.0,380.6 262.4,380.4 262.8,380.2 263.2,380.0 263.6,379.9 264.0,379.7 264.4,379.5 264.8,379.4 265.2,379.2 265.6,379.1 266.0,378.9 266.4,378.7 266.8,378.6 267.2,378.4 267.6,378.3 268.0,378.1 268.4,378.0 268.8,377.8 269.2,377.7 269.6,377.5 270.0,377.4 270.4,377.2 270.8,377.1 271.2,376.9 271.6,376.8 272.0,376.6 272.4,376.5 272.8,376.3 273.2,376.2 273.6,376.1 274.0,375.9 274.4,375.8 274.8,375.6 275.2,375.5 275.6,375.4 276.0,375.2 276.4,375.1 276.8,375.0 277.2,374.8 277.6,374.7 278.0,374.6 278.4,374.4 278.8,374.3 279.2,374.2 279.6,374.0 280.0,373.9 280.4,373.8 280.8,373.6 281.2,373.5 281.6,373.4 282.0,373.3 282.4,373.1 282.8,373.0 283.2,372.9 283.6,372.8 284.0,372.6 284.4,372.5 284.8,372.4 285.2,372.2 285.6,372.1 286.0,372.0 286.4,371.9 286.8,371.8 287.2,371.6 287.6,371.5 288.0,371.4 288.4,371.3 288.8,371.1 289.2,371.0 289.6,370.9 290.0,370.8 290.4,370.7 290.8,370.6 291.2,370.4 291.6,370.3 292.0,370.2 292.4,370.1 292.8,370.0 293.2,369.9 293.6,369.8 294.0,369.6 294.4,369.5 294.8,369.4 295.2,369.3 295.6,369.2 296.0,369.1 296.4,369.0 296.8,368.9 297.2,368.8 297.6,368.7 298.0,368.5 298.4,368.4 298.8,368.3 299.2,368.2 299.6,368.1 300.0,368.0 300.4,367.9 300.8,367.8 301.2,367.7 301.6,367.6 302.0,367.5 302.4,367.3 302.8,367.2 303.2,367.1 303.6,367.0 304.0,366.9 304.4,366.8 304.8,366.7 305.2,366.6 305.6,366.5 306.0,366.4 306.4,366.3 306.8,366.1 307.2,366.0 307.6,365.9 308.0,365.8 308.4,365.7 308.8,365.6 309.2,365.5" fill="none" stroke="#ff8010" stroke-width="2.6" stroke-linejoin="round" stroke-linecap="round"/>
<polyline points="57.2,433.7 57.6,433.7 58.0,433.7 58.4,433.7 58.8,433.7 59.2,433.7 59.6,433.7 60.0,433.7 60.4,433.7 60.8,433.7 61.2,433.7 61.6,433.7 62.0,433.7 62.4,433.7 62.8,433.7 63.2,433.7 63.6,433.7 64.0,433.7 64.4,433.7 64.8,433.7 65.2,433.7 65.6,433.7 66.0,433.7 66.4,433.7 66.8,433.7 67.2,433.7 67.6,433.7 68.0,433.7 68.4,433.7 68.8,433.7 69.2,433.7 69.6,433.7 70.0,433.7 70.4,433.7 70.8,433.7 71.2,433.7 71.6,433.7 72.0,433.7 72.4,433.7 72.8,433.7 73.2,433.7 73.6,433.7 74.0,433.6 74.4,433.6 74.8,433.6 75.2,433.6 75.6,433.6 76.0,433.6 76.4,433.6 76.8,433.6 77.2,433.6 77.6,433.6 78.0,433.6 78.4,433.5 78.8,433.5 79.2,433.5 79.6,433.5 80.0,433.5 80.4,433.5 80.8,433.5 81.2,433.5 81.6,433.4 82.0,433.4 82.4,433.4 82.8,433.4 83.2,433.4 83.6,433.4 84.0,433.3 84.4,433.3 84.8,433.3 85.2,433.3 85.6,433.3 86.0,433.2 86.4,433.2 86.8,433.2 87.2,433.2 87.6,433.1 88.0,433.1 88.4,433.0 88.8,433.0 89.2,432.9 89.6,432.9 90.0,432.8 90.4,432.8 90.8,432.7 91.2,432.6 91.6,432.6 92.0,432.5 92.4,432.4 92.8,432.2 93.2,432.0 93.6,431.7 94.0,431.4 94.4,429.4 94.8,412.0 95.2,401.3 95.6,397.7 96.0,396.9 96.4,397.7 96.8,401.4 97.2,412.0 97.6,426.2 98.0,430.5 98.4,431.3 98.8,431.7 99.2,431.9 99.6,432.0 100.0,432.0 100.4,432.0 100.8,432.0 101.2,432.0 101.6,432.0 102.0,431.9 102.4,431.8 102.8,431.8 103.2,431.7 103.6,431.6 104.0,431.6 104.4,431.6 104.8,431.5 105.2,431.4 105.6,431.4 106.0,431.3 106.4,431.1 106.8,431.0 107.2,430.9 107.6,430.7 108.0,430.5 108.4,430.1 108.8,429.3 109.2,428.2 109.6,427.1 110.0,426.0 110.4,424.9 110.8,423.7 111.2,422.4 111.6,421.3 112.0,420.5 112.4,419.9 112.8,419.3 113.2,418.9 113.6,418.7 114.0,418.8 114.4,419.1 114.8,419.6 115.2,420.1 115.6,420.6 116.0,421.3 116.4,422.2 116.8,423.1 117.2,423.9 117.6,424.7 118.0,425.5 118.4,426.2 118.8,426.8 119.2,427.1 119.6,427.1 120.0,426.9 120.4,426.6 120.8,426.2 121.2,425.7 121.6,425.3 122.0,425.0 122.4,424.7 122.8,424.5 123.2,424.2 123.6,424.0 124.0,423.8 124.4,423.5 124.8,423.3 125.2,423.0 125.6,422.8 126.0,422.5 126.4,422.2 126.8,421.9 127.2,421.5 127.6,421.2 128.0,420.8 128.4,420.5 128.8,420.1 129.2,419.9 129.6,419.5 130.0,419.2 130.4,419.0 130.8,418.8 131.2,418.7 131.6,418.8 132.0,418.9 132.4,419.2 132.8,419.5 133.2,419.8 133.6,420.2 134.0,420.5 134.4,420.9 134.8,421.4 135.2,421.9 135.6,422.3 136.0,422.5 136.4,422.6 136.8,422.7 137.2,422.8 137.6,422.9 138.0,423.0 138.4,423.0 138.8,423.0 139.2,423.0 139.6,422.9 140.0,422.8 140.4,422.7 140.8,422.6 141.2,422.4 141.6,422.2 142.0,422.1 142.4,421.9 142.8,421.7 143.2,421.6 143.6,421.4 144.0,421.3 144.4,421.1 144.8,421.0 145.2,421.0 145.6,420.9 146.0,420.9 146.4,420.8 146.8,420.8 147.2,420.7 147.6,420.7 148.0,420.7 148.4,420.6 148.8,420.6 149.2,420.6 149.6,420.5 150.0,420.5 150.4,420.5 150.8,420.5 151.2,420.4 151.6,420.4 152.0,420.3 152.4,420.3 152.8,420.2 153.2,420.2 153.6,420.1 154.0,420.0 154.4,419.9 154.8,419.5 155.2,418.8 155.6,418.0 156.0,416.3 156.4,415.0 156.8,416.2 157.2,418.0 157.6,419.5 158.0,420.5 158.4,420.8 158.8,421.0 159.2,421.2 159.6,421.3 160.0,421.4 160.4,421.4 160.8,421.4 161.2,421.4 161.6,421.3 162.0,421.2 162.4,421.1 162.8,421.0 163.2,420.9 163.6,420.7 164.0,420.6 164.4,420.4 164.8,420.3 165.2,420.1 165.6,419.9 166.0,419.8 166.4,419.7 166.8,419.5 167.2,419.4 167.6,419.4 168.0,419.3 168.4,419.1 168.8,419.0 169.2,418.9 169.6,418.7 170.0,418.5 170.4,418.3 170.8,418.1 171.2,417.9 171.6,417.7 172.0,417.5 172.4,417.2 172.8,417.0 173.2,416.8 173.6,416.5 174.0,416.3 174.4,416.0 174.8,415.8 175.2,415.6 175.6,415.4 176.0,415.2 176.4,414.9 176.8,414.7 177.2,414.5 177.6,414.3 178.0,414.0 178.4,413.8 178.8,413.5 179.2,413.2 179.6,413.0 180.0,412.8 180.4,412.5 180.8,412.3 181.2,412.1 181.6,412.0 182.0,411.9 182.4,411.8 182.8,411.7 183.2,411.7 183.6,411.7 184.0,411.8 184.4,412.0 184.8,412.1 185.2,412.3 185.6,412.4 186.0,412.6 186.4,412.7 186.8,412.8 187.2,412.8 187.6,412.8 188.0,412.7 188.4,412.7 188.8,412.6 189.2,412.5 189.6,412.4 190.0,412.3 190.4,412.1 190.8,412.0 191.2,411.8 191.6,411.6 192.0,411.4 192.4,411.2 192.8,411.0 193.2,410.8 193.6,410.6 194.0,410.4 194.4,410.2 194.8,410.1 195.2,409.9 195.6,409.7 196.0,409.5 196.4,409.3 196.8,409.1 197.2,408.9 197.6,408.7 198.0,408.5 198.4,408.3 198.8,408.0 199.2,407.8 199.6,407.5 200.0,407.3 200.4,407.1 200.8,406.8 201.2,406.6 201.6,406.4 202.0,406.2 202.4,406.0 202.8,405.8 203.2,405.6 203.6,405.4 204.0,405.3 204.4,405.1 204.8,405.0 205.2,404.9 205.6,404.8 206.0,404.8 206.4,404.7 206.8,404.6 207.2,404.5 207.6,404.5 208.0,404.4 208.4,404.3 208.8,404.3 209.2,404.2 209.6,404.2 210.0,404.1 210.4,404.1 210.8,404.0 211.2,404.0 211.6,403.9 212.0,403.9 212.4,403.8 212.8,403.8 213.2,403.7 213.6,403.7 214.0,403.6 214.4,403.6 214.8,403.5 215.2,403.5 215.6,403.4 216.0,403.3 216.4,403.2 216.8,403.2 217.2,403.1 217.6,403.0 218.0,402.9 218.4,402.8 218.8,402.6 219.2,402.4 219.6,402.2 220.0,401.9 220.4,401.7 220.8,401.4 221.2,401.2 221.6,401.0 222.0,400.8 222.4,400.7 222.8,400.6 223.2,400.6 223.6,400.5 224.0,400.5 224.4,400.4 224.8,400.4 225.2,400.3 225.6,400.3 226.0,400.3 226.4,400.2 226.8,400.2 227.2,400.2 227.6,400.2 228.0,400.1 228.4,400.1 228.8,400.1 229.2,400.0 229.6,400.0 230.0,399.9 230.4,399.9 230.8,399.8 231.2,399.8 231.6,399.7 232.0,399.6 232.4,399.4 232.8,398.7 233.2,397.8 233.6,396.9 234.0,396.4 234.4,396.4 234.8,397.7 235.2,399.2 235.6,399.7 236.0,400.0 236.4,400.2 236.8,400.3 237.2,400.4 237.6,400.5 238.0,400.5 238.4,400.5 238.8,400.5 239.2,400.4 239.6,400.3 240.0,400.2 240.4,400.1 240.8,400.0 241.2,399.8 241.6,399.6 242.0,399.4 242.4,399.3 242.8,399.1 243.2,398.9 243.6,398.6 244.0,398.4 244.4,398.2 244.8,398.1 245.2,397.9 245.6,397.7 246.0,397.5 246.4,397.4 246.8,397.2 247.2,396.8 247.6,396.2 248.0,395.7 248.4,395.1 248.8,394.6 249.2,394.2 249.6,394.0 250.0,394.0 250.4,394.2 250.8,394.6 251.2,394.9 251.6,395.4 252.0,395.8 252.4,396.1 252.8,396.3 253.2,396.3 253.6,396.3 254.0,396.2 254.4,396.0 254.8,395.9 255.2,395.7 255.6,395.4 256.0,395.2 256.4,394.9 256.8,394.6 257.2,394.3 257.6,393.9 258.0,393.6 258.4,393.2 258.8,392.9 259.2,392.5 259.6,392.2 260.0,391.8 260.4,391.5 260.8,391.2 261.2,390.9 261.6,390.6 262.0,390.4 262.4,390.1 262.8,389.9 263.2,389.8 263.6,389.7 264.0,389.6 264.4,389.6 264.8,389.6 265.2,389.7 265.6,389.8 266.0,389.9 266.4,389.9 266.8,390.0 267.2,390.0 267.6,390.0 268.0,389.9 268.4,389.8 268.8,389.7 269.2,389.6 269.6,389.4 270.0,389.2 270.4,389.0 270.8,388.8 271.2,388.6 271.6,388.4 272.0,388.2 272.4,387.9 272.8,387.7 273.2,387.4 273.6,387.2 274.0,386.9 274.4,386.7 274.8,386.4 275.2,386.2 275.6,385.9 276.0,385.6 276.4,385.3 276.8,385.0 277.2,384.6 277.6,384.3 278.0,384.0 278.4,383.7 278.8,383.4 279.2,383.2 279.6,383.0 280.0,382.8 280.4,382.6 280.8,382.5 281.2,382.3 281.6,382.2 282.0,382.1 282.4,382.0 282.8,381.9 283.2,381.8 283.6,381.6 284.0,381.5 284.4,381.4 284.8,381.3 285.2,381.1 285.6,381.0 286.0,380.8 286.4,380.6 286.8,380.4 287.2,380.2 287.6,380.0 288.0,379.7 288.4,379.5 288.8,379.2 289.2,379.0 289.6,378.7 290.0,378.5 290.4,378.2 290.8,377.9 291.2,377.6 291.6,377.4 292.0,377.1 292.4,376.8 292.8,376.5 293.2,376.3 293.6,376.0 294.0,375.8 294.4,375.6 294.8,375.4 295.2,375.1 295.6,374.9 296.0,374.7 296.4,374.5 296.8,374.3 297.2,374.1 297.6,374.0 298.0,373.8 298.4,373.6 298.8,373.4 299.2,373.2 299.6,373.0 300.0,372.8 300.4,372.7 300.8,372.5 301.2,372.3 301.6,372.1 302.0,372.0 302.4,371.8 302.8,371.6 303.2,371.4 303.6,371.3 304.0,371.1 304.4,370.9 304.8,370.8 305.2,370.6 305.6,370.4 306.0,370.2 306.4,370.1 306.8,369.9 307.2,369.7 307.6,369.5 308.0,369.4 308.4,369.2 308.8,369.0 309.2,368.8" fill="none" stroke="#1010e8" stroke-width="2.6" stroke-linejoin="round" stroke-linecap="round"/>
<polyline points="92.9,337.2 93.3,337.5 93.7,337.3 94.1,337.0 94.5,338.2 94.9,337.0 95.3,338.0 95.7,338.9 96.1,339.1 96.5,340.1 96.9,340.2 97.3,342.0 97.7,343.9 98.1,345.0 98.5,345.9 98.9,347.4 99.3,349.4 99.7,349.8 100.1,349.8 100.5,350.0 100.9,349.8 101.3,348.2 101.7,346.8 102.1,344.7 102.5,342.3 102.9,340.2 103.3,337.7 103.7,337.0 104.1,337.4 104.5,338.2 104.9,337.6 105.3,337.4 105.7,337.4 106.1,336.5 106.5,337.5 106.9,336.9 107.3,338.3 107.7,337.1 108.1,337.1 108.5,337.3 108.9,338.1 109.3,337.2 109.7,338.0 110.1,337.5 110.5,339.4 110.9,338.7 111.3,338.3 111.7,338.4 112.1,339.0 112.5,338.4 112.9,339.7 113.3,340.8 113.7,339.8 114.1,340.5 114.5,341.2 114.9,343.0 115.3,343.5 115.7,344.7 116.1,345.7 116.5,345.7 116.9,345.6 117.3,346.7 117.7,345.5 118.1,345.8 118.5,346.1 118.9,344.9 119.3,345.2 119.7,342.7 120.1,342.3 120.5,342.3 120.9,341.8 121.3,341.6 121.7,340.8 122.1,340.4 122.5,340.0 122.9,338.7 123.3,338.9 123.7,338.7 124.1,340.0 124.5,339.0 124.9,339.5 125.3,339.0 125.7,339.3 126.1,339.6 126.5,339.1 126.9,339.3 127.3,340.0 127.7,340.1 128.1,340.6 128.5,339.9 128.9,340.7 129.3,340.9 129.7,340.4 130.1,340.3 130.5,340.5 130.9,341.2 131.3,340.1 131.7,342.0 132.1,340.4 132.5,341.2 132.9,341.6 133.3,342.0 133.7,341.8 134.1,341.6 134.5,342.2 134.9,343.4 135.3,342.6 135.7,343.3 136.1,342.4 136.5,343.3 136.9,343.9 137.3,343.2 137.7,342.7 138.1,343.8 138.5,343.9 138.9,343.8 139.3,343.0 139.7,343.1 140.1,343.0 140.5,342.9 140.9,341.9 141.3,343.3 141.7,342.9 142.1,342.1 142.5,343.1 142.9,341.9 143.3,342.9 143.7,343.0 144.1,343.2 144.5,341.7 144.9,342.2 145.3,342.5 145.7,341.7 146.1,342.5 146.5,341.7 146.9,342.4 147.3,341.9 147.7,342.2 148.1,341.9 148.5,341.2 148.9,341.5 149.3,341.6 149.7,341.4 150.1,341.7 150.5,341.3 150.9,341.5 151.3,340.6 151.7,341.5 152.1,341.0 152.5,340.5 152.9,340.6 153.3,340.0 153.7,340.0 154.1,340.7 154.5,340.7 154.9,339.9 155.3,338.9 155.7,339.2 156.1,339.8 156.5,339.3 156.9,339.1 157.3,337.9 157.7,338.1 158.1,338.1 158.5,337.9 158.9,337.2 159.3,337.2 159.7,337.4 160.1,336.8 160.5,336.9 160.9,337.9 161.3,338.0 161.7,337.7 162.1,339.3 162.5,339.8 162.9,339.5 163.3,339.1 163.7,339.3 164.1,339.4 164.5,338.9 164.9,339.2 165.3,338.5 165.7,338.7 166.1,338.0 166.5,338.2 166.9,338.1 167.3,337.1 167.7,338.0 168.1,338.0 168.5,338.0 168.9,337.8 169.3,337.4 169.7,336.7 170.1,337.8 170.5,336.9 170.9,336.1 171.3,336.4 171.7,336.7 172.1,336.8 172.5,336.6 172.9,337.2 173.3,335.6 173.7,336.2 174.1,335.5 174.5,335.6 174.9,336.5 175.3,336.0 175.7,336.8 176.1,336.4 176.5,336.2 176.9,336.0 177.3,335.2 177.7,335.2 178.1,335.3 178.5,335.0 178.9,335.3 179.3,336.2 179.7,335.4 180.1,335.0 180.5,334.9 180.9,335.2 181.3,335.8 181.7,335.1 182.1,334.8 182.5,335.7 182.9,334.8 183.3,334.5 183.7,334.6 184.1,334.6 184.5,334.4 184.9,334.9 185.3,335.6 185.7,334.7 186.1,333.9 186.5,335.0 186.9,335.1 187.3,334.4 187.7,334.3 188.1,335.1 188.5,335.7 188.9,334.4 189.3,335.6 189.7,335.4 190.1,334.8 190.5,334.4 190.9,333.6 191.3,334.7 191.7,334.0 192.1,335.1 192.5,334.3 192.9,335.0 193.3,334.1 193.7,334.7 194.1,334.1 194.5,334.8 194.9,333.7 195.3,333.9 195.7,333.8 196.1,334.1 196.5,335.3 196.9,334.2 197.3,333.9 197.7,333.6 198.1,335.1 198.5,334.9 198.9,333.8 199.3,333.1 199.7,332.7 200.1,334.0 200.5,334.2 200.9,332.9 201.3,333.3 201.7,333.4 202.1,333.4 202.5,332.5 202.9,332.7 203.3,332.5 203.7,332.0 204.1,332.9 204.5,332.3 204.9,333.2 205.3,332.6 205.7,332.1 206.1,332.2 206.5,332.0 206.9,333.4 207.3,331.9 207.7,331.6 208.1,331.8 208.5,331.6 208.9,331.4 209.3,332.2 209.7,332.0 210.1,331.9 210.5,332.3 210.9,332.3 211.3,331.6 211.7,332.3 212.1,331.9 212.5,331.7 212.9,332.0 213.3,331.8 213.7,331.1 214.1,331.6 214.5,330.9 214.9,332.0 215.3,331.2 215.7,331.8 216.1,331.8 216.5,331.3 216.9,332.3 217.3,331.5 217.7,331.9 218.1,331.4 218.5,332.3 218.9,332.6 219.3,332.1 219.7,332.1 220.1,331.5 220.5,332.0 220.9,331.7 221.3,332.6 221.7,331.6 222.1,332.2 222.5,332.1 222.9,332.7 223.3,332.3 223.7,331.0 224.1,332.7 224.5,331.5 224.9,332.4 225.3,331.2 225.7,332.0 226.1,332.3 226.5,330.8 226.9,331.3 227.3,333.2 227.7,332.0 228.1,333.0 228.5,332.2 228.9,331.9 229.3,332.0 229.7,332.0 230.1,332.2 230.5,332.6 230.9,332.3 231.3,333.0 231.7,332.4 232.1,332.0 232.5,332.7 232.9,332.3 233.3,333.0 233.7,332.7 234.1,332.3 234.5,332.8 234.9,332.3 235.3,332.7 235.7,332.2 236.1,333.9 236.5,332.7 236.9,332.3 237.3,331.8 237.7,333.7 238.1,333.8 238.5,333.2 238.9,332.7 239.3,333.2 239.7,332.9 240.1,332.8 240.5,333.5 240.9,333.6 241.3,332.9 241.7,333.9 242.1,333.2 242.5,332.0 242.9,332.9 243.3,334.0 243.7,333.8 244.1,334.3 244.5,334.1 244.9,334.6 245.3,333.5 245.7,334.5 246.1,335.2 246.5,334.0 246.9,333.7 247.3,334.4 247.7,334.7 248.1,334.9 248.5,334.9 248.9,336.3 249.3,334.4 249.7,334.5 250.1,335.4 250.5,334.8 250.9,335.0 251.3,335.3 251.7,336.2 252.1,335.2 252.5,334.9 252.9,335.8 253.3,336.0 253.7,336.6 254.1,335.9 254.5,336.0 254.9,335.9 255.3,336.2 255.7,335.8 256.1,336.3 256.5,335.8 256.9,336.9 257.3,336.6 257.7,336.9 258.1,336.5 258.5,336.9 258.9,336.7 259.3,338.0 259.7,337.4 260.1,337.1 260.5,337.6 260.9,337.7 261.3,337.5 261.7,336.9 262.1,338.5 262.5,337.7 262.9,337.6 263.3,337.7 263.7,338.4 264.1,337.9 264.5,338.4 264.9,338.3 265.3,338.5 265.7,338.9 266.1,338.2 266.5,337.7 266.9,338.4 267.3,338.8 267.7,339.0 268.1,339.1 268.5,338.4 268.9,338.8 269.3,339.0 269.7,338.4 270.1,338.4 270.5,340.0 270.9,338.8 271.3,339.5 271.7,339.3 272.1,339.6 272.5,339.7 272.9,339.5 273.3,339.2 273.7,339.9 274.1,341.4 274.5,340.5 274.9,339.9 275.3,340.7 275.7,341.0 276.1,340.0 276.5,340.5 276.9,340.9 277.3,340.6 277.7,340.6 278.1,341.2 278.5,340.9 278.9,340.8 279.3,340.9 279.7,341.3 280.1,341.6 280.5,341.0 280.9,342.0 281.3,340.1 281.7,341.5 282.1,341.9 282.5,342.5 282.9,342.4 283.3,340.9 283.7,341.7 284.1,341.9 284.5,341.3 284.9,341.4 285.3,341.7 285.7,341.8 286.1,342.4 286.5,342.3 286.9,341.5 287.3,342.0 287.7,341.6 288.1,343.2 288.5,342.3 288.9,342.5 289.3,342.7 289.7,342.5 290.1,343.4 290.5,343.1 290.9,343.3 291.3,342.9 291.7,343.3 292.1,342.7 292.5,343.5 292.9,343.3 293.3,343.7 293.7,343.0 294.1,343.4 294.5,342.2 294.9,342.8 295.3,343.6 295.7,343.1 296.1,343.6 296.5,344.6 296.9,343.3 297.3,344.3 297.7,343.4 298.1,343.9 298.5,344.2 298.9,343.8 299.3,343.7 299.7,344.5 300.1,344.8 300.5,343.5 300.9,343.9 301.3,344.5 301.7,345.0 302.1,345.4 302.5,344.3 302.9,345.0 303.3,345.1 303.7,344.2 304.1,344.6 304.5,344.4 304.9,345.0 305.3,344.6 305.7,345.0 306.1,344.4 306.5,344.3 306.9,345.0 307.3,344.9 307.7,345.8 308.1,345.3 308.5,345.8 308.9,345.6 309.3,345.6" fill="none" stroke="#ee80ee" stroke-width="2.8" stroke-linejoin="round" stroke-linecap="round"/>
<polyline points="92.8,347.4 93.2,349.4 93.6,351.4 94.0,353.7 94.4,356.5 94.8,360.1 95.2,364.4 95.6,369.3 96.0,375.0 96.4,382.6 96.8,392.0 97.2,405.0 97.6,420.0 98.0,434.0 98.4,449.4 98.8,468.0 99.2,472.2 99.6,472.6 100.0,470.0 100.4,458.6 100.8,439.3 101.2,420.5 101.6,398.9 102.0,380.5 102.4,371.5 102.8,365.8 103.2,362.4 103.6,361.1 104.0,360.1 104.4,359.5 104.8,359.4 105.2,359.7 105.6,360.3 106.0,361.0 106.4,362.0 106.8,363.6 107.2,365.6 107.6,367.7 108.0,370.0 108.4,372.5 108.8,375.3 109.2,378.3 109.6,381.6 110.0,385.0 110.4,388.6 110.8,392.6 111.2,396.7 111.6,400.9 112.0,405.0 112.4,409.1 112.8,413.2 113.2,417.2 113.6,421.2 114.0,425.0 114.4,429.0 114.8,433.3 115.2,437.4 115.6,440.8 116.0,443.0 116.4,443.6 116.8,443.0 117.2,441.7 117.6,439.9 118.0,438.0 118.4,435.6 118.8,432.3 119.2,428.3 119.6,424.1 120.0,420.0 120.4,415.6 120.8,410.5 121.2,405.5 121.6,401.2 122.0,398.0 122.4,395.8 122.8,393.8 123.2,392.2 123.6,390.9 124.0,390.0 124.4,389.4 124.8,388.9 125.2,388.8 125.6,389.1 126.0,389.8 126.4,390.7 126.8,391.6 127.2,392.4 127.6,393.2 128.0,393.9 128.4,394.8 128.8,395.6 129.2,396.4 129.6,397.3 130.0,398.2 130.4,399.1 130.8,400.0 131.2,400.9 131.6,401.9 132.0,402.9 132.4,403.8 132.8,404.6 133.2,405.4 133.6,406.1 134.0,406.9 134.4,407.6 134.8,408.1 135.2,408.4 135.6,408.4 136.0,407.8 136.4,406.9 136.8,405.8 137.2,404.5 137.6,403.2 138.0,402.0 138.4,400.9 138.8,399.8 139.2,398.7 139.6,397.5 140.0,396.4 140.4,395.4 140.8,394.4 141.2,393.6 141.6,392.8 142.0,392.0 142.4,391.2 142.8,390.5 143.2,389.8 143.6,389.1 144.0,388.4 144.4,387.8 144.8,387.2 145.2,386.6 145.6,386.0 146.0,385.4 146.4,384.9 146.8,384.4 147.2,383.9 147.6,383.4 148.0,382.9 148.4,382.4 148.8,381.9 149.2,381.5 149.6,381.0 150.0,380.6 150.4,380.2 150.8,379.9 151.2,379.5 151.6,379.2 152.0,378.9 152.4,378.4 152.8,377.9 153.2,377.3 153.6,376.5 154.0,375.5 154.4,374.2 154.8,372.7 155.2,371.1 155.6,369.3 156.0,367.4 156.4,365.4 156.8,362.3 157.2,357.8 157.6,353.5 158.0,350.5 158.4,350.3 158.8,352.9 159.2,356.3 159.6,358.3 160.0,359.6 160.4,360.6 160.8,361.0 161.2,360.9 161.6,360.5 162.0,359.8 162.4,359.0 162.8,358.3 163.2,357.7 163.6,357.1 164.0,356.4 164.4,355.8 164.8,355.1 165.2,354.4 165.6,353.7 166.0,353.0 166.4,352.3 166.8,351.6 167.2,350.9 167.6,350.1 168.0,349.2 168.4,348.3 168.8,347.2 169.2,345.9 169.6,344.5 170.0,343.0 170.4,341.4 170.8,339.7 171.2,338.0 171.6,336.2 172.0,334.4 172.4,332.5 172.8,330.2 173.2,327.9 173.6,325.8 174.0,324.2 174.4,323.4 174.8,322.5 175.2,321.8 175.6,321.0 176.0,320.4 176.4,319.8 176.8,319.3 177.2,318.9 177.6,318.7 178.0,318.5 178.4,318.6 178.8,318.9 179.2,319.4 179.6,319.9 180.0,320.5 180.4,320.9 180.8,321.1 181.2,321.0 181.6,320.6 182.0,319.8 182.4,318.8 182.8,317.6 183.2,316.3 183.6,314.9 184.0,313.5 184.4,312.2 184.8,310.9 185.2,309.8 185.6,308.8 186.0,307.8 186.4,306.8 186.8,305.8 187.2,304.8 187.6,303.8 188.0,302.8 188.4,301.9 188.8,300.9 189.2,300.0 189.6,299.1 190.0,298.2 190.4,297.3 190.8,296.4 191.2,295.4 191.6,294.6 192.0,294.1 192.4,293.8 192.8,293.5 193.2,293.3 193.6,293.2 194.0,293.0 194.4,292.9 194.8,292.7 195.2,292.5 195.6,292.3 196.0,292.1 196.4,291.8 196.8,291.3 197.2,290.9 197.6,290.3 198.0,289.7 198.4,289.1 198.8,288.4 199.2,287.7 199.6,286.9 200.0,286.2 200.4,285.4 200.8,284.5 201.2,283.5 201.6,282.5 202.0,281.4 202.4,280.3 202.8,279.2 203.2,278.2 203.6,277.2 204.0,276.2 204.4,275.4 204.8,274.5 205.2,273.7 205.6,273.0 206.0,272.2 206.4,271.5 206.8,270.7 207.2,270.0 207.6,269.2 208.0,268.4 208.4,267.6 208.8,266.7 209.2,265.9 209.6,265.1 210.0,264.4 210.4,263.8 210.8,263.3 211.2,263.0 211.6,262.7 212.0,262.5 212.4,262.3 212.8,262.0 213.2,261.8 213.6,261.7 214.0,261.5 214.4,261.3 214.8,261.2 215.2,261.1 215.6,261.1 216.0,261.0 216.4,261.0 216.8,261.0 217.2,261.1 217.6,261.2 218.0,261.3 218.4,261.4 218.8,261.6 219.2,261.7 219.6,261.9 220.0,262.0 220.4,262.1 220.8,262.3 221.2,262.5 221.6,262.6 222.0,262.8 222.4,263.0 222.8,263.2 223.2,263.4 223.6,263.7 224.0,263.9 224.4,264.1 224.8,264.3 225.2,264.6 225.6,264.8 226.0,265.0 226.4,265.2 226.8,265.4 227.2,265.7 227.6,265.9 228.0,266.1 228.4,266.3 228.8,266.5 229.2,266.7 229.6,267.0 230.0,267.2 230.4,267.4 230.8,267.7 231.2,267.9 231.6,268.2 232.0,268.5 232.4,268.8 232.8,269.0 233.2,269.3 233.6,269.7 234.0,270.0 234.4,270.4 234.8,270.7 235.2,271.2 235.6,271.6 236.0,272.1 236.4,272.6 236.8,273.1 237.2,273.7 237.6,274.2 238.0,274.8 238.4,275.4 238.8,276.1 239.2,276.7 239.6,277.3 240.0,278.0 240.4,278.7 240.8,279.4 241.2,280.2 241.6,281.0 242.0,281.9 242.4,282.8 242.8,283.7 243.2,284.7 243.6,285.6 244.0,286.6 244.4,287.5 244.8,288.5 245.2,289.5 245.6,290.7 246.0,292.0 246.4,293.4 246.8,294.6 247.2,295.7 247.6,296.5 248.0,297.0 248.4,297.2 248.8,297.3 249.2,297.4 249.6,297.5 250.0,297.6 250.4,297.7 250.8,297.9 251.2,298.1 251.6,298.5 252.0,298.9 252.4,299.4 252.8,300.0 253.2,300.7 253.6,301.4 254.0,302.2 254.4,303.1 254.8,303.9 255.2,304.8 255.6,305.8 256.0,306.7 256.4,307.6 256.8,308.5 257.2,309.5 257.6,310.5 258.0,311.6 258.4,312.9 258.8,314.1 259.2,315.4 259.6,316.7 260.0,318.0 260.4,319.3 260.8,320.7 261.2,322.2 261.6,323.6 262.0,325.0 262.4,326.3 262.8,327.5 263.2,328.5 263.6,329.4 264.0,330.3 264.4,331.1 264.8,331.9 265.2,332.6 265.6,333.4 266.0,334.1 266.4,334.8 266.8,335.6 267.2,336.3 267.6,337.1 268.0,338.0 268.4,338.9 268.8,339.8 269.2,340.8 269.6,341.8 270.0,342.8 270.4,343.8 270.8,344.9 271.2,345.9 271.6,347.0 272.0,348.0 272.4,349.1 272.8,350.1 273.2,351.3 273.6,352.4 274.0,353.5 274.4,354.5 274.8,355.5 275.2,356.5 275.6,357.4 276.0,358.2 276.4,359.1 276.8,359.9 277.2,360.8 277.6,361.6 278.0,362.4 278.4,363.2 278.8,364.0 279.2,364.8 279.6,365.6 280.0,366.4 280.4,367.3 280.8,368.1 281.2,368.9 281.6,369.8 282.0,370.6 282.4,371.4 282.8,372.2 283.2,373.1 283.6,373.9 284.0,374.7 284.4,375.5 284.8,376.3 285.2,377.1 285.6,377.8 286.0,378.6 286.4,379.3 286.8,380.0 287.2,380.7 287.6,381.4 288.0,382.1 288.4,382.7 288.8,383.4 289.2,384.0 289.6,384.7 290.0,385.4 290.4,386.1 290.8,386.9 291.2,387.7 291.6,388.5 292.0,389.4 292.4,390.5 292.8,391.7 293.2,392.9 293.6,394.1 294.0,395.4 294.4,396.6 294.8,397.8 295.2,398.9 295.6,399.9 296.0,400.7 296.4,401.4 296.8,402.1 297.2,402.7 297.6,403.3 298.0,403.8 298.4,404.4 298.8,404.9 299.2,405.4 299.6,405.9 300.0,406.4 300.4,406.9 300.8,407.4 301.2,408.0 301.6,408.5 302.0,409.1 302.4,409.7 302.8,410.3 303.2,410.9 303.6,411.5 304.0,412.1 304.4,412.7 304.8,413.3 305.2,413.9 305.6,414.5 306.0,415.2 306.4,415.8 306.8,416.4 307.2,417.0 307.6,417.6 308.0,418.2 308.4,418.8 308.8,419.4 309.2,420.0" fill="none" stroke="#ff1010" stroke-width="2.6" stroke-linejoin="round" stroke-linecap="round"/>
</g>
<rect x="57.2" y="256.4" width="252.90000000000003" height="199.10000000000002" fill="none" stroke="#777777" stroke-width="1.3"/>
<line x1="57.2" y1="455.5" x2="57.2" y2="451.5" stroke="#777777" stroke-width="1.1"/>
<text x="57.2" y="472.5" font-family='"Liberation Serif", serif' font-size="16" text-anchor="middle" fill="#000">0.75</text>
<line x1="107.76" y1="455.5" x2="107.76" y2="451.5" stroke="#777777" stroke-width="1.1"/>
<text x="107.76" y="472.5" font-family='"Liberation Serif", serif' font-size="16" text-anchor="middle" fill="#000">0.80</text>
<line x1="158.32" y1="455.5" x2="158.32" y2="451.5" stroke="#777777" stroke-width="1.1"/>
<text x="158.32" y="472.5" font-family='"Liberation Serif", serif' font-size="16" text-anchor="middle" fill="#000">0.85</text>
<line x1="208.88" y1="455.5" x2="208.88" y2="451.5" stroke="#777777" stroke-width="1.1"/>
<text x="208.88" y="472.5" font-family='"Liberation Serif", serif' font-size="16" text-anchor="middle" fill="#000">0.90</text>
<line x1="259.44" y1="455.5" x2="259.44" y2="451.5" stroke="#777777" stroke-width="1.1"/>
<text x="259.44" y="472.5" font-family='"Liberation Serif", serif' font-size="16" text-anchor="middle" fill="#000">0.95</text>
<line x1="310" y1="455.5" x2="310" y2="451.5" stroke="#777777" stroke-width="1.1"/>
<text x="310" y="472.5" font-family='"Liberation Serif", serif' font-size="16" text-anchor="middle" fill="#000">1.00</text>
<line x1="82.48" y1="455.5" x2="82.48" y2="453.5" stroke="#777777" stroke-width="1.1"/>
<line x1="133.04" y1="455.5" x2="133.04" y2="453.5" stroke="#777777" stroke-width="1.1"/>
<line x1="183.6" y1="455.5" x2="183.6" y2="453.5" stroke="#777777" stroke-width="1.1"/>
<line x1="234.16" y1="455.5" x2="234.16" y2="453.5" stroke="#777777" stroke-width="1.1"/>
<line x1="284.72" y1="455.5" x2="284.72" y2="453.5" stroke="#777777" stroke-width="1.1"/>
<line x1="57.2" y1="284.7" x2="61.2" y2="284.7" stroke="#777777" stroke-width="1.1"/>
<text x="52.5" y="290.2" font-family='"Liberation Serif", serif' font-size="16" text-anchor="end" fill="#000">50</text>
<line x1="57.2" y1="341.6" x2="61.2" y2="341.6" stroke="#777777" stroke-width="1.1"/>
<text x="52.5" y="347.1" font-family='"Liberation Serif", serif' font-size="16" text-anchor="end" fill="#000">0</text>
<line x1="57.2" y1="398.5" x2="61.2" y2="398.5" stroke="#777777" stroke-width="1.1"/>
<text x="52.5" y="404" font-family='"Liberation Serif", serif' font-size="16" text-anchor="end" fill="#000">-50</text>
<line x1="57.2" y1="455.4" x2="61.2" y2="455.4" stroke="#777777" stroke-width="1.1"/>
<text x="52.5" y="460.9" font-family='"Liberation Serif", serif' font-size="16" text-anchor="end" fill="#000">-100</text>
<line x1="57.2" y1="313.15" x2="59.2" y2="313.15" stroke="#777777" stroke-width="1.1"/>
<line x1="57.2" y1="370.05" x2="59.2" y2="370.05" stroke="#777777" stroke-width="1.1"/>
<line x1="57.2" y1="426.95" x2="59.2" y2="426.95" stroke="#777777" stroke-width="1.1"/>
<text x="315.2" y="460.3" font-family='"Liberation Serif", serif' font-size="13" text-anchor="start" fill="#000">0.0</text>
<text x="315.2" y="409.8" font-family='"Liberation Serif", serif' font-size="13" text-anchor="start" fill="#000">0.5</text>
<text x="315.2" y="359.3" font-family='"Liberation Serif", serif' font-size="13" text-anchor="start" fill="#000">1.0</text>
<text x="315.2" y="308.8" font-family='"Liberation Serif", serif' font-size="13" text-anchor="start" fill="#000">1.5</text>
<text x="33" y="258.6" font-family='"Liberation Serif", serif' font-size="16" text-anchor="middle" fill="#000">(c)</text>
<text x="20" y="357.5" font-family='"Liberation Serif", serif' font-size="20.8" text-anchor="middle" fill="#000" transform="rotate(-90 20 357.5)"><tspan dy="0" font-size="20.8">Δα</tspan><tspan dy="6.24" font-size="12.9">NDD</tspan><tspan dy="-6.24" font-size="20.8"> (+</tspan><tspan dy="0" font-size="20.8" font-style="italic">k</tspan><tspan dy="0" font-size="20.8">, ±</tspan><tspan dy="0" font-size="20.8" font-style="italic">H</tspan><tspan dy="0" font-size="20.8">) (cm</tspan><tspan dy="-8.74" font-size="12.9">-1</tspan><tspan dy="8.74" font-size="20.8">)</tspan></text>
<text x="191.2" y="494.4" font-family='"Liberation Serif", serif' font-size="20.8" text-anchor="middle" fill="#000">Energy (eV)</text>
<text x="338.2" y="361.5" font-family='"Liberation Serif", serif' font-size="18" text-anchor="middle" fill="#000" transform="rotate(90 338.2 361.5)"><tspan dy="0" font-size="18">α (10</tspan><tspan dy="-7.56" font-size="11.16">3</tspan><tspan dy="7.56" font-size="18"> cm</tspan><tspan dy="-7.56" font-size="11.16">-1</tspan><tspan dy="7.56" font-size="18">)</tspan></text>
<text x="183" y="284.5" font-family='"Liberation Serif", serif' font-size="14" text-anchor="middle" fill="#ff1010">60 T</text>
<text x="218.3" y="322" font-family='"Liberation Serif", serif' font-size="14.9" text-anchor="middle" fill="#ee80ee">3.1 T</text>
<text x="202.9" y="385.3" font-family='"Liberation Serif", serif' font-size="14.6" text-anchor="middle" fill="#1010e8"><tspan dy="0" font-size="14.6" font-style="italic">c</tspan><tspan dy="0" font-size="14.6">-polarization</tspan></text>
<text x="195" y="444.9" font-family='"Liberation Serif", serif' font-size="14.6" text-anchor="middle" fill="#ff8010"><tspan dy="0" font-size="14.6" font-style="italic">ab</tspan><tspan dy="0" font-size="14.6">-plane</tspan></text>
<text x="236.2" y="422.4" font-family='"Liberation Serif", serif' font-size="15" text-anchor="start" fill="#000"><tspan dy="-6.3" font-size="9.3">3</tspan><tspan dy="6.3" font-size="15">A</tspan><tspan dy="4.5" font-size="9.3">2g</tspan></text>
<text x="280" y="422.4" font-family='"Liberation Serif", serif' font-size="15" text-anchor="start" fill="#000"><tspan dy="-6.3" font-size="9.3">3</tspan><tspan dy="6.3" font-size="15">T</tspan><tspan dy="4.5" font-size="9.3">2g</tspan></text>
<line x1="263.5" y1="418.6" x2="275.6" y2="418.6" stroke="#000" stroke-width="1.1"/>
<path d="M272.2,415.4 Q273.8,417.8 276.2,418.6 Q273.8,419.4 272.2,421.8" fill="none" stroke="#000" stroke-width="1"/>
<line x1="66.3" y1="265.3" x2="90" y2="265.3" stroke="#ff3030" stroke-width="1.1"/>
<polygon points="65.3,265.3 70.8,263.1 70.8,267.5" fill="#ff3030"/>
<line x1="66.3" y1="270.2" x2="90" y2="270.2" stroke="#ff80ff" stroke-width="1.1"/>
<polygon points="65.3,270.2 70.8,268.0 70.8,272.4" fill="#ff80ff"/>
<line x1="283" y1="265" x2="305" y2="265" stroke="#b0b8ff" stroke-width="1.1"/>
<polygon points="306,265 300.5,262.8 300.5,267.2" fill="#b0b8ff"/>
<line x1="283" y1="269.4" x2="305" y2="269.4" stroke="#ff9030" stroke-width="1.1"/>
<polygon points="306,269.4 300.5,267.2 300.5,271.59999999999997" fill="#ff9030"/>
<clipPath id="cd"><rect x="424.6" y="256.1" width="252.89999999999998" height="199.59999999999997"/></clipPath>
<g clip-path="url(#cd)">
<polyline points="424.6,277.3 425.1,277.6 425.6,277.6 426.1,277.7 426.6,277.7 427.1,277.8 427.6,277.7 428.1,277.3 428.6,278.0 429.1,277.7 429.6,277.8 430.1,277.6 430.6,277.9 431.1,277.8 431.6,277.5 432.1,277.6 432.6,277.8 433.1,277.8 433.6,277.9 434.1,277.7 434.6,277.8 435.1,277.7 435.6,277.7 436.1,277.6 436.6,277.9 437.1,277.5 437.6,277.7 438.1,277.5 438.6,277.8 439.1,277.7 439.6,278.2 440.1,277.6 440.6,278.1 441.1,277.6 441.6,277.8 442.1,277.8 442.6,277.5 443.1,277.7 443.6,277.9 444.1,277.5 444.6,277.9 445.1,277.4 445.6,277.8 446.1,277.6 446.6,277.6 447.1,277.8 447.6,277.9 448.1,277.8 448.6,277.6 449.1,277.8 449.6,277.7 450.1,277.9 450.6,277.4 451.1,277.7 451.6,277.9 452.1,277.6 452.6,277.6 453.1,277.5 453.6,277.7 454.1,277.6 454.6,277.8 455.1,277.5 455.6,277.8 456.1,277.6 456.6,277.4 457.1,277.5 457.6,277.4 458.1,277.3 458.6,277.6 459.1,278.1 459.6,277.6 460.1,277.7 460.6,277.6 461.1,277.5 461.6,277.8 462.1,277.4 462.6,277.9 463.1,277.5 463.6,278.0 464.1,277.9 464.6,277.7 465.1,277.7 465.6,277.6 466.1,277.7 466.6,277.8 467.1,277.8 467.6,277.7 468.1,277.6 468.6,277.8 469.1,277.6 469.6,277.9 470.1,277.6 470.6,277.8 471.1,277.6 471.6,277.8 472.1,277.7 472.6,277.8 473.1,277.9 473.6,277.7 474.1,277.6 474.6,277.7 475.1,277.9 475.6,278.1 476.1,277.6 476.6,277.4 477.1,277.6 477.6,277.9 478.1,277.8 478.6,278.0 479.1,277.9 479.6,278.0 480.1,277.9 480.6,277.8 481.1,278.1 481.6,277.8 482.1,277.8 482.6,277.9 483.1,277.5 483.6,277.6 484.1,277.6 484.6,277.8 485.1,277.8 485.6,277.4 486.1,277.9 486.6,277.8 487.1,277.3 487.6,277.8 488.1,277.5 488.6,277.5 489.1,277.5 489.6,278.1 490.1,277.6 490.6,277.8 491.1,277.8 491.6,278.1 492.1,277.8 492.6,277.6 493.1,277.9 493.6,278.0 494.1,277.7 494.6,277.9 495.1,277.5 495.6,277.5 496.1,277.9 496.6,277.7 497.1,277.8 497.6,277.6 498.1,277.5 498.6,277.6 499.1,277.6 499.6,277.6 500.1,277.6 500.6,277.6 501.1,277.8 501.6,277.5 502.1,277.3 502.6,277.7 503.1,277.9 503.6,277.9 504.1,277.8 504.6,277.6 505.1,277.5 505.6,277.4 506.1,277.7 506.6,277.7 507.1,277.9 507.6,278.0 508.1,277.5 508.6,277.6 509.1,277.6 509.6,277.8 510.1,277.8 510.6,277.7 511.1,277.8 511.6,277.6 512.1,278.0 512.6,277.9 513.1,277.9 513.6,277.9 514.1,277.7 514.6,277.3 515.1,278.1 515.6,277.5 516.1,277.6 516.6,278.0 517.1,277.7 517.6,277.7 518.1,277.9 518.6,277.4 519.1,277.8 519.6,277.4 520.1,277.6 520.6,278.0 521.1,277.8 521.6,277.8 522.1,277.5 522.6,277.7 523.1,277.6 523.6,277.6 524.1,277.9 524.6,277.7 525.1,277.8 525.6,277.6 526.1,277.9 526.6,277.4 527.1,277.5 527.6,277.7 528.1,277.4 528.6,277.7 529.1,277.8 529.6,277.7 530.1,277.8 530.6,277.7 531.1,278.1 531.6,277.8 532.1,277.4 532.6,277.8 533.1,277.4 533.6,277.9 534.1,278.0 534.6,277.4 535.1,277.7 535.6,277.6 536.1,277.6 536.6,277.6 537.1,277.8 537.6,277.7 538.1,277.6 538.6,277.3 539.1,277.7 539.6,277.6 540.1,278.1 540.6,277.7 541.1,277.8 541.6,277.6 542.1,277.3 542.6,277.7 543.1,277.4 543.6,277.9 544.1,277.8 544.6,278.0 545.1,277.6 545.6,277.7 546.1,278.0 546.6,277.8 547.1,277.7 547.6,277.7 548.1,277.6 548.6,277.5 549.1,277.7 549.6,277.6 550.1,277.5 550.6,277.6 551.1,277.6 551.6,277.4 552.1,277.7 552.6,277.8 553.1,277.5 553.6,277.7 554.1,277.6 554.6,277.6 555.1,277.7 555.6,277.4 556.1,277.8 556.6,277.6 557.1,277.6 557.6,277.7 558.1,278.0 558.6,277.7 559.1,277.8 559.6,277.6 560.1,277.5 560.6,277.7 561.1,277.8 561.6,277.8 562.1,277.7 562.6,277.9 563.1,277.7 563.6,278.0 564.1,277.6 564.6,277.7 565.1,277.6 565.6,277.7 566.1,277.8 566.6,277.8 567.1,277.6 567.6,277.5 568.1,277.6 568.6,277.6 569.1,277.7 569.6,277.7 570.1,277.6 570.6,277.8 571.1,277.6 571.6,277.4 572.1,277.9 572.6,277.9 573.1,277.6 573.6,277.9 574.1,277.2 574.6,277.6 575.1,277.4 575.6,277.7 576.1,277.7 576.6,277.7 577.1,277.7 577.6,277.6 578.1,277.7 578.6,277.5 579.1,277.7 579.6,277.7 580.1,277.5 580.6,278.0 581.1,277.5 581.6,277.6 582.1,277.5 582.6,277.3 583.1,277.6 583.6,277.9 584.1,277.9 584.6,277.6 585.1,277.9 585.6,277.8 586.1,277.6 586.6,277.4 587.1,277.9 587.6,278.0 588.1,277.8 588.6,277.6 589.1,277.8 589.6,277.7 590.1,277.6 590.6,277.7 591.1,277.6 591.6,277.8 592.1,277.5 592.6,277.3 593.1,277.8 593.6,277.7 594.1,277.9 594.6,277.6 595.1,277.7 595.6,277.9 596.1,277.6 596.6,277.5 597.1,277.6 597.6,277.9 598.1,277.6 598.6,277.7 599.1,277.7 599.6,277.8 600.1,277.7 600.6,277.8 601.1,277.5 601.6,278.0 602.1,278.4 602.6,277.7 603.1,277.7 603.6,277.4 604.1,277.9 604.6,277.5 605.1,277.9 605.6,278.0 606.1,277.9 606.6,278.0 607.1,277.5 607.6,277.4 608.1,278.0 608.6,277.7 609.1,277.8 609.6,277.6 610.1,277.5 610.6,277.5 611.1,277.4 611.6,277.8 612.1,277.9 612.6,277.8 613.1,277.8 613.6,277.6 614.1,277.4 614.6,277.5 615.1,277.9 615.6,277.9 616.1,277.6 616.6,277.7 617.1,277.9 617.6,277.7 618.1,277.5 618.6,277.6 619.1,277.8 619.6,277.6 620.1,277.8 620.6,277.6 621.1,277.8 621.6,277.6 622.1,277.7 622.6,277.8 623.1,277.8 623.6,277.8 624.1,278.1 624.6,277.8 625.1,277.7 625.6,277.7 626.1,277.4 626.6,277.6 627.1,277.6 627.6,277.9 628.1,277.7 628.6,277.9 629.1,277.8 629.6,277.6 630.1,277.7 630.6,277.6 631.1,277.8 631.6,277.8 632.1,277.7 632.6,277.6 633.1,277.5 633.6,277.8 634.1,277.5 634.6,277.9 635.1,277.9 635.6,277.7 636.1,277.8 636.6,277.9 637.1,277.8 637.6,277.7 638.1,277.6 638.6,277.7 639.1,277.7 639.6,277.7 640.1,277.8 640.6,277.4 641.1,277.5 641.6,277.5 642.1,277.7 642.6,277.6 643.1,277.6 643.6,277.9 644.1,278.1 644.6,277.7 645.1,277.6 645.6,277.5 646.1,277.7 646.6,277.4 647.1,277.8 647.6,277.5 648.1,278.0 648.6,277.6 649.1,277.7 649.6,277.5 650.1,277.9 650.6,277.5 651.1,277.7 651.6,277.6 652.1,277.7 652.6,277.7 653.1,277.7 653.6,277.8 654.1,277.7 654.6,277.7 655.1,277.6 655.6,277.5 656.1,277.5 656.6,277.6 657.1,277.4 657.6,277.7 658.1,277.6 658.6,277.6 659.1,277.8 659.6,277.8 660.1,277.6 660.6,277.6 661.1,277.6 661.6,277.9 662.1,277.7 662.6,277.5 663.1,277.6 663.6,277.9 664.1,277.8 664.6,277.7 665.1,277.7 665.6,277.5 666.1,277.6 666.6,278.0 667.1,277.6 667.6,277.7 668.1,277.8 668.6,277.5 669.1,277.8 669.6,277.3 670.1,277.6 670.6,277.5 671.1,277.5 671.6,277.5 672.1,277.6 672.6,277.2 673.1,277.8 673.6,277.5 674.1,278.0 674.6,277.7 675.1,277.7 675.6,277.9 676.1,277.6 676.6,277.8 677.1,277.5" fill="none" stroke="#ff80ff" stroke-width="1.5" stroke-linejoin="round" stroke-linecap="round"/>
<polyline points="424.6,278.5 425.1,278.2 425.6,278.5 426.1,278.6 426.6,278.5 427.1,278.3 427.6,278.6 428.1,278.3 428.6,278.6 429.1,278.5 429.6,278.7 430.1,278.8 430.6,278.6 431.1,278.5 431.6,278.5 432.1,278.6 432.6,278.7 433.1,278.7 433.6,278.8 434.1,278.7 434.6,278.7 435.1,278.6 435.6,278.9 436.1,279.4 436.6,278.9 437.1,279.2 437.6,279.1 438.1,279.0 438.6,279.4 439.1,279.5 439.6,279.7 440.1,280.0 440.6,279.5 441.1,280.5 441.6,280.1 442.1,280.2 442.6,280.3 443.1,280.4 443.6,280.7 444.1,280.4 444.6,280.4 445.1,280.6 445.6,281.0 446.1,281.2 446.6,281.2 447.1,281.8 447.6,281.8 448.1,282.0 448.6,282.2 449.1,282.4 449.6,282.9 450.1,282.5 450.6,283.2 451.1,283.4 451.6,283.1 452.1,283.6 452.6,284.0 453.1,284.5 453.6,284.5 454.1,284.8 454.6,285.0 455.1,285.3 455.6,285.9 456.1,285.9 456.6,286.1 457.1,286.6 457.6,286.9 458.1,287.0 458.6,287.5 459.1,288.0 459.6,288.4 460.1,288.7 460.6,289.2 461.1,289.2 461.6,289.8 462.1,290.1 462.6,290.0 463.1,291.0 463.6,291.3 464.1,291.6 464.6,292.0 465.1,292.0 465.6,292.3 466.1,292.6 466.6,293.1 467.1,293.8 467.6,294.1 468.1,294.2 468.6,294.4 469.1,295.0 469.6,294.8 470.1,295.6 470.6,295.5 471.1,296.0 471.6,296.1 472.1,296.1 472.6,296.7 473.1,297.2 473.6,296.9 474.1,297.0 474.6,297.0 475.1,297.3 475.6,297.6 476.1,297.1 476.6,297.6 477.1,297.3 477.6,297.7 478.1,297.8 478.6,297.5 479.1,297.3 479.6,297.4 480.1,297.6 480.6,297.2 481.1,297.0 481.6,296.8 482.1,296.8 482.6,296.3 483.1,295.9 483.6,295.2 484.1,295.3 484.6,294.6 485.1,293.6 485.6,292.8 486.1,292.5 486.6,291.8 487.1,291.3 487.6,290.4 488.1,290.0 488.6,289.1 489.1,288.2 489.6,287.4 490.1,287.0 490.6,286.0 491.1,285.3 491.6,284.8 492.1,284.2 492.6,283.8 493.1,282.7 493.6,282.4 494.1,281.9 494.6,282.0 495.1,281.4 495.6,281.0 496.1,280.9 496.6,280.0 497.1,280.2 497.6,280.0 498.1,279.6 498.6,279.8 499.1,279.5 499.6,279.5 500.1,279.7 500.6,279.8 501.1,279.5 501.6,279.6 502.1,279.3 502.6,279.6 503.1,279.5 503.6,279.3 504.1,279.2 504.6,279.6 505.1,279.3 505.6,279.4 506.1,279.6 506.6,279.4 507.1,279.8 507.6,279.4 508.1,278.9 508.6,279.7 509.1,279.4 509.6,279.2 510.1,279.5 510.6,279.5 511.1,279.4 511.6,279.9 512.1,279.2 512.6,279.4 513.1,279.3 513.6,279.3 514.1,279.6 514.6,279.7 515.1,279.7 515.6,279.6 516.1,279.2 516.6,279.6 517.1,279.6 517.6,279.3 518.1,279.6 518.6,279.9 519.1,279.9 519.6,279.6 520.1,279.6 520.6,279.6 521.1,279.6 521.6,279.8 522.1,279.4 522.6,279.7 523.1,279.7 523.6,279.5 524.1,279.9 524.6,279.8 525.1,280.0 525.6,279.8 526.1,279.6 526.6,279.6 527.1,280.0 527.6,279.7 528.1,280.0 528.6,279.9 529.1,279.8 529.6,279.8 530.1,280.0 530.6,279.8 531.1,279.7 531.6,280.1 532.1,279.9 532.6,280.0 533.1,279.8 533.6,279.9 534.1,279.8 534.6,279.7 535.1,279.8 535.6,279.7 536.1,280.0 536.6,280.0 537.1,280.2 537.6,280.1 538.1,279.8 538.6,280.0 539.1,280.1 539.6,279.5 540.1,279.9 540.6,280.0 541.1,280.0 541.6,280.3 542.1,280.0 542.6,280.3 543.1,279.9 543.6,280.1 544.1,280.1 544.6,280.4 545.1,280.0 545.6,279.9 546.1,280.5 546.6,279.8 547.1,280.2 547.6,280.1 548.1,280.2 548.6,280.3 549.1,279.8 549.6,280.4 550.1,280.2 550.6,280.5 551.1,280.3 551.6,280.6 552.1,280.4 552.6,280.2 553.1,280.5 553.6,280.5 554.1,280.4 554.6,280.2 555.1,280.2 555.6,280.3 556.1,280.3 556.6,280.4 557.1,280.3 557.6,280.4 558.1,280.4 558.6,280.9 559.1,280.4 559.6,280.6 560.1,280.4 560.6,280.9 561.1,280.7 561.6,280.9 562.1,280.5 562.6,280.7 563.1,280.6 563.6,281.1 564.1,281.3 564.6,280.9 565.1,281.1 565.6,280.9 566.1,281.3 566.6,281.0 567.1,281.1 567.6,280.9 568.1,281.1 568.6,281.1 569.1,281.4 569.6,281.3 570.1,281.2 570.6,281.4 571.1,281.4 571.6,281.2 572.1,281.4 572.6,281.6 573.1,281.5 573.6,281.5 574.1,281.9 574.6,281.7 575.1,281.7 575.6,282.1 576.1,281.7 576.6,281.9 577.1,281.7 577.6,282.1 578.1,281.8 578.6,281.8 579.1,282.2 579.6,282.2 580.1,282.6 580.6,282.4 581.1,282.3 581.6,282.4 582.1,282.4 582.6,282.7 583.1,282.5 583.6,282.6 584.1,282.7 584.6,283.0 585.1,282.8 585.6,283.0 586.1,282.7 586.6,283.2 587.1,283.4 587.6,283.1 588.1,283.1 588.6,283.7 589.1,283.6 589.6,283.3 590.1,283.6 590.6,283.8 591.1,284.1 591.6,284.1 592.1,284.2 592.6,284.4 593.1,284.1 593.6,284.3 594.1,284.2 594.6,284.6 595.1,285.0 595.6,284.6 596.1,284.6 596.6,284.4 597.1,285.1 597.6,285.1 598.1,285.3 598.6,284.8 599.1,285.3 599.6,285.0 600.1,284.9 600.6,285.4 601.1,285.4 601.6,285.5 602.1,285.7 602.6,285.8 603.1,286.2 603.6,285.8 604.1,285.8 604.6,285.9 605.1,286.2 605.6,285.9 606.1,286.5 606.6,286.2 607.1,286.4 607.6,286.4 608.1,286.7 608.6,286.6 609.1,286.8 609.6,287.0 610.1,287.2 610.6,287.3 611.1,287.0 611.6,287.3 612.1,287.0 612.6,287.4 613.1,287.4 613.6,287.4 614.1,287.7 614.6,287.8 615.1,287.4 615.6,287.8 616.1,287.7 616.6,287.9 617.1,287.8 617.6,288.0 618.1,288.3 618.6,288.2 619.1,287.8 619.6,288.4 620.1,287.8 620.6,288.0 621.1,288.1 621.6,288.2 622.1,288.4 622.6,288.3 623.1,288.3 623.6,288.3 624.1,288.3 624.6,288.5 625.1,288.2 625.6,288.7 626.1,288.1 626.6,288.3 627.1,288.7 627.6,288.5 628.1,288.2 628.6,288.5 629.1,288.5 629.6,288.4 630.1,288.3 630.6,288.6 631.1,288.1 631.6,288.3 632.1,288.2 632.6,287.8 633.1,288.1 633.6,287.9 634.1,288.1 634.6,288.1 635.1,288.2 635.6,287.7 636.1,288.0 636.6,287.3 637.1,287.4 637.6,287.9 638.1,287.4 638.6,287.5 639.1,287.2 639.6,286.9 640.1,287.4 640.6,287.0 641.1,287.3 641.6,287.0 642.1,287.1 642.6,287.3 643.1,286.8 643.6,286.8 644.1,286.3 644.6,286.7 645.1,286.2 645.6,286.2 646.1,286.2 646.6,286.2 647.1,285.9 647.6,286.2 648.1,285.7 648.6,286.3 649.1,285.9 649.6,285.8 650.1,285.7 650.6,285.6 651.1,285.6 651.6,285.3 652.1,285.5 652.6,285.6 653.1,284.8 653.6,284.9 654.1,285.6 654.6,285.2 655.1,284.9 655.6,284.8 656.1,284.8 656.6,284.7 657.1,285.0 657.6,284.7 658.1,284.5 658.6,284.4 659.1,284.6 659.6,284.7 660.1,284.9 660.6,284.1 661.1,284.5 661.6,284.1 662.1,284.6 662.6,284.0 663.1,284.3 663.6,284.4 664.1,284.1 664.6,284.0 665.1,284.2 665.6,284.4 666.1,284.2 666.6,284.1 667.1,284.4 667.6,284.0 668.1,284.0 668.6,283.7 669.1,283.9 669.6,284.0 670.1,283.7 670.6,283.8 671.1,283.9 671.6,283.7 672.1,283.3 672.6,283.7 673.1,283.9 673.6,283.6 674.1,283.7 674.6,283.3 675.1,283.8 675.6,283.5 676.1,283.6 676.6,283.4 677.1,283.8" fill="none" stroke="#ff7cef" stroke-width="1.05" stroke-linejoin="round" stroke-linecap="round"/>
<polyline points="424.6,279.0 425.1,279.5 425.6,279.0 426.1,279.2 426.6,279.2 427.1,278.8 427.6,279.1 428.1,279.1 428.6,279.6 429.1,279.4 429.6,279.2 430.1,279.5 430.6,279.1 431.1,279.6 431.6,279.6 432.1,279.9 432.6,279.7 433.1,279.4 433.6,280.0 434.1,280.4 434.6,279.8 435.1,280.1 435.6,280.0 436.1,280.3 436.6,280.0 437.1,280.7 437.6,281.0 438.1,280.5 438.6,280.9 439.1,280.8 439.6,281.1 440.1,281.4 440.6,281.5 441.1,281.8 441.6,281.8 442.1,281.9 442.6,282.6 443.1,282.5 443.6,282.5 444.1,282.5 444.6,283.0 445.1,283.4 445.6,283.5 446.1,283.6 446.6,283.9 447.1,284.2 447.6,284.3 448.1,284.5 448.6,284.7 449.1,285.3 449.6,286.0 450.1,286.1 450.6,286.2 451.1,286.7 451.6,286.8 452.1,287.7 452.6,288.3 453.1,288.3 453.6,288.8 454.1,289.4 454.6,290.0 455.1,290.5 455.6,290.9 456.1,291.5 456.6,291.8 457.1,292.5 457.6,293.3 458.1,293.4 458.6,294.0 459.1,294.8 459.6,295.1 460.1,295.7 460.6,296.0 461.1,296.8 461.6,297.5 462.1,298.1 462.6,298.8 463.1,299.4 463.6,299.9 464.1,300.4 464.6,301.1 465.1,301.6 465.6,302.4 466.1,302.6 466.6,303.2 467.1,304.0 467.6,304.4 468.1,304.5 468.6,305.1 469.1,305.6 469.6,306.1 470.1,306.3 470.6,306.6 471.1,307.5 471.6,307.7 472.1,308.0 472.6,308.2 473.1,308.8 473.6,308.7 474.1,309.5 474.6,309.2 475.1,309.8 475.6,309.6 476.1,309.7 476.6,309.9 477.1,309.7 477.6,309.8 478.1,309.9 478.6,309.3 479.1,309.6 479.6,309.3 480.1,309.4 480.6,308.8 481.1,308.8 481.6,308.1 482.1,307.5 482.6,307.0 483.1,306.8 483.6,305.5 484.1,304.8 484.6,304.3 485.1,302.9 485.6,302.4 486.1,301.1 486.6,300.0 487.1,298.7 487.6,297.8 488.1,297.0 488.6,295.5 489.1,294.5 489.6,293.5 490.1,292.4 490.6,291.0 491.1,290.3 491.6,289.5 492.1,288.3 492.6,287.2 493.1,286.6 493.6,285.5 494.1,285.2 494.6,284.2 495.1,283.8 495.6,283.6 496.1,282.7 496.6,282.5 497.1,282.4 497.6,281.7 498.1,281.6 498.6,281.5 499.1,281.0 499.6,281.3 500.1,281.3 500.6,281.1 501.1,280.7 501.6,281.1 502.1,280.9 502.6,280.7 503.1,280.9 503.6,280.7 504.1,280.8 504.6,280.9 505.1,280.8 505.6,281.0 506.1,280.7 506.6,280.7 507.1,280.6 507.6,280.8 508.1,280.9 508.6,280.3 509.1,280.5 509.6,280.9 510.1,280.8 510.6,280.5 511.1,280.8 511.6,281.2 512.1,280.9 512.6,280.6 513.1,280.9 513.6,280.5 514.1,280.9 514.6,280.9 515.1,281.1 515.6,280.9 516.1,280.8 516.6,281.0 517.1,281.4 517.6,280.9 518.1,281.2 518.6,280.9 519.1,280.9 519.6,281.1 520.1,281.0 520.6,281.3 521.1,281.3 521.6,281.3 522.1,281.2 522.6,281.4 523.1,281.2 523.6,281.3 524.1,280.9 524.6,281.2 525.1,281.3 525.6,281.4 526.1,281.3 526.6,281.4 527.1,281.2 527.6,281.1 528.1,281.4 528.6,281.3 529.1,281.4 529.6,281.0 530.1,281.1 530.6,281.7 531.1,281.6 531.6,281.5 532.1,281.8 532.6,281.5 533.1,281.7 533.6,281.4 534.1,282.0 534.6,281.1 535.1,281.5 535.6,281.1 536.1,281.6 536.6,281.8 537.1,281.7 537.6,281.7 538.1,281.7 538.6,281.6 539.1,281.6 539.6,281.8 540.1,281.8 540.6,282.1 541.1,281.8 541.6,281.9 542.1,281.9 542.6,281.7 543.1,281.7 543.6,282.1 544.1,281.7 544.6,282.0 545.1,282.1 545.6,281.8 546.1,282.4 546.6,282.1 547.1,282.0 547.6,282.0 548.1,282.4 548.6,281.8 549.1,282.2 549.6,282.1 550.1,282.5 550.6,282.2 551.1,282.1 551.6,282.5 552.1,282.2 552.6,282.6 553.1,282.5 553.6,282.4 554.1,282.6 554.6,282.4 555.1,282.6 555.6,282.4 556.1,282.6 556.6,282.3 557.1,282.9 557.6,282.2 558.1,282.4 558.6,282.8 559.1,282.8 559.6,283.0 560.1,282.5 560.6,282.8 561.1,283.0 561.6,282.9 562.1,283.0 562.6,283.2 563.1,283.1 563.6,283.0 564.1,282.9 564.6,283.2 565.1,283.1 565.6,283.0 566.1,283.6 566.6,283.7 567.1,283.5 567.6,283.9 568.1,284.0 568.6,283.9 569.1,283.4 569.6,283.8 570.1,284.3 570.6,283.9 571.1,284.3 571.6,284.3 572.1,284.1 572.6,284.2 573.1,284.5 573.6,284.2 574.1,284.6 574.6,284.7 575.1,284.6 575.6,284.7 576.1,284.6 576.6,284.6 577.1,284.9 577.6,285.7 578.1,285.3 578.6,285.4 579.1,285.4 579.6,285.7 580.1,286.0 580.6,285.7 581.1,285.8 581.6,286.1 582.1,286.2 582.6,286.4 583.1,285.9 583.6,286.3 584.1,287.0 584.6,286.6 585.1,287.0 585.6,287.2 586.1,287.2 586.6,287.4 587.1,287.2 587.6,287.0 588.1,287.6 588.6,287.9 589.1,287.9 589.6,288.1 590.1,288.0 590.6,288.2 591.1,288.4 591.6,288.7 592.1,289.3 592.6,288.9 593.1,288.9 593.6,289.2 594.1,289.4 594.6,289.5 595.1,289.6 595.6,289.6 596.1,289.8 596.6,290.2 597.1,290.4 597.6,290.1 598.1,290.7 598.6,290.4 599.1,291.3 599.6,291.0 600.1,291.3 600.6,291.2 601.1,291.4 601.6,291.9 602.1,291.3 602.6,291.8 603.1,292.3 603.6,292.0 604.1,292.3 604.6,292.2 605.1,292.9 605.6,292.3 606.1,292.3 606.6,293.0 607.1,293.2 607.6,293.1 608.1,293.0 608.6,293.6 609.1,293.7 609.6,293.8 610.1,293.8 610.6,293.9 611.1,294.4 611.6,294.5 612.1,294.4 612.6,294.5 613.1,294.8 613.6,295.1 614.1,294.4 614.6,295.2 615.1,295.0 615.6,294.9 616.1,295.2 616.6,295.4 617.1,295.3 617.6,295.5 618.1,295.6 618.6,295.5 619.1,295.7 619.6,295.8 620.1,295.9 620.6,296.0 621.1,296.1 621.6,296.0 622.1,296.1 622.6,296.3 623.1,296.2 623.6,296.5 624.1,296.1 624.6,296.1 625.1,295.9 625.6,296.4 626.1,296.2 626.6,296.2 627.1,296.6 627.6,296.5 628.1,296.2 628.6,296.2 629.1,296.3 629.6,296.5 630.1,296.1 630.6,296.1 631.1,295.7 631.6,296.1 632.1,295.9 632.6,295.6 633.1,295.4 633.6,295.8 634.1,295.2 634.6,296.0 635.1,294.9 635.6,295.1 636.1,294.8 636.6,294.9 637.1,295.2 637.6,294.6 638.1,294.3 638.6,294.6 639.1,294.6 639.6,294.3 640.1,293.8 640.6,294.1 641.1,293.7 641.6,293.7 642.1,294.0 642.6,293.3 643.1,293.6 643.6,293.3 644.1,292.8 644.6,293.4 645.1,292.6 645.6,292.7 646.1,292.5 646.6,292.6 647.1,292.2 647.6,291.9 648.1,292.3 648.6,291.8 649.1,291.9 649.6,291.8 650.1,291.8 650.6,291.4 651.1,291.3 651.6,291.2 652.1,291.1 652.6,291.1 653.1,290.8 653.6,290.6 654.1,290.5 654.6,290.6 655.1,290.5 655.6,290.3 656.1,290.2 656.6,290.2 657.1,290.1 657.6,289.9 658.1,289.8 658.6,290.1 659.1,289.5 659.6,289.6 660.1,289.6 660.6,289.4 661.1,289.6 661.6,289.1 662.1,289.5 662.6,289.4 663.1,289.1 663.6,289.2 664.1,288.9 664.6,289.1 665.1,289.1 665.6,288.7 666.1,288.8 666.6,288.7 667.1,288.9 667.6,288.4 668.1,288.7 668.6,288.5 669.1,288.5 669.6,288.3 670.1,288.5 670.6,288.6 671.1,288.1 671.6,288.4 672.1,288.6 672.6,287.7 673.1,288.3 673.6,288.1 674.1,287.9 674.6,287.7 675.1,287.8 675.6,287.9 676.1,288.0 676.6,287.5 677.1,288.0" fill="none" stroke="#ff79e3" stroke-width="1.05" stroke-linejoin="round" stroke-linecap="round"/>
<polyline points="424.6,279.4 425.1,279.9 425.6,279.6 426.1,279.4 426.6,279.7 427.1,279.6 427.6,280.0 428.1,279.8 428.6,279.8 429.1,280.0 429.6,280.4 430.1,280.0 430.6,280.1 431.1,279.9 431.6,280.5 432.1,280.1 432.6,280.3 433.1,280.4 433.6,280.7 434.1,280.9 434.6,280.5 435.1,280.7 435.6,281.2 436.1,281.3 436.6,281.4 437.1,281.7 437.6,282.0 438.1,281.6 438.6,281.6 439.1,281.8 439.6,282.1 440.1,282.5 440.6,282.3 441.1,282.7 441.6,283.0 442.1,283.3 442.6,283.8 443.1,284.1 443.6,283.4 444.1,284.0 444.6,284.7 445.1,285.1 445.6,285.1 446.1,285.5 446.6,285.8 447.1,286.0 447.6,286.7 448.1,286.6 448.6,287.0 449.1,288.0 449.6,288.2 450.1,288.3 450.6,288.6 451.1,289.9 451.6,290.2 452.1,290.3 452.6,290.9 453.1,291.6 453.6,292.4 454.1,292.9 454.6,293.0 455.1,294.3 455.6,294.8 456.1,295.2 456.6,295.5 457.1,296.5 457.6,297.4 458.1,297.7 458.6,298.8 459.1,299.4 459.6,299.9 460.1,300.9 460.6,301.8 461.1,302.3 461.6,302.8 462.1,303.6 462.6,304.3 463.1,305.1 463.6,306.2 464.1,306.4 464.6,307.8 465.1,307.8 465.6,309.4 466.1,309.8 466.6,310.1 467.1,310.6 467.6,311.5 468.1,311.5 468.6,312.4 469.1,313.6 469.6,313.8 470.1,314.4 470.6,314.3 471.1,315.2 471.6,315.4 472.1,316.0 472.6,316.3 473.1,316.6 473.6,317.5 474.1,317.2 474.6,317.6 475.1,318.0 475.6,318.2 476.1,318.1 476.6,317.7 477.1,318.3 477.6,318.1 478.1,318.2 478.6,318.0 479.1,317.8 479.6,317.5 480.1,317.2 480.6,316.5 481.1,316.1 481.6,315.8 482.1,315.2 482.6,314.5 483.1,313.7 483.6,312.7 484.1,311.5 484.6,310.4 485.1,309.5 485.6,308.2 486.1,306.8 486.6,305.6 487.1,304.4 487.6,302.7 488.1,301.7 488.6,300.6 489.1,298.8 489.6,297.7 490.1,296.2 490.6,294.6 491.1,294.0 491.6,292.3 492.1,291.2 492.6,290.2 493.1,289.2 493.6,288.3 494.1,287.5 494.6,286.6 495.1,285.8 495.6,285.5 496.1,284.7 496.6,283.9 497.1,283.7 497.6,283.5 498.1,283.1 498.6,282.7 499.1,282.5 499.6,282.1 500.1,282.2 500.6,282.2 501.1,282.4 501.6,281.7 502.1,281.8 502.6,281.8 503.1,281.2 503.6,282.0 504.1,281.9 504.6,281.8 505.1,281.7 505.6,281.6 506.1,281.8 506.6,281.7 507.1,281.8 507.6,281.5 508.1,281.3 508.6,281.4 509.1,282.0 509.6,282.2 510.1,282.0 510.6,281.8 511.1,281.5 511.6,281.9 512.1,281.7 512.6,282.0 513.1,281.9 513.6,281.6 514.1,282.1 514.6,282.1 515.1,282.2 515.6,282.0 516.1,281.9 516.6,282.3 517.1,282.1 517.6,282.2 518.1,282.1 518.6,281.9 519.1,282.0 519.6,281.8 520.1,282.0 520.6,282.1 521.1,282.1 521.6,282.7 522.1,282.0 522.6,282.2 523.1,282.4 523.6,282.8 524.1,282.3 524.6,282.5 525.1,282.3 525.6,282.2 526.1,282.2 526.6,282.6 527.1,282.4 527.6,282.5 528.1,282.5 528.6,282.8 529.1,282.9 529.6,282.5 530.1,282.4 530.6,282.5 531.1,282.3 531.6,282.5 532.1,282.8 532.6,282.8 533.1,282.5 533.6,282.7 534.1,282.6 534.6,282.7 535.1,283.0 535.6,282.8 536.1,282.6 536.6,282.7 537.1,282.7 537.6,282.9 538.1,282.8 538.6,282.6 539.1,282.8 539.6,283.1 540.1,282.7 540.6,282.8 541.1,283.1 541.6,283.5 542.1,283.2 542.6,282.9 543.1,283.1 543.6,283.3 544.1,283.5 544.6,283.6 545.1,283.0 545.6,283.2 546.1,283.3 546.6,283.3 547.1,283.5 547.6,283.5 548.1,283.4 548.6,283.8 549.1,283.5 549.6,283.2 550.1,283.6 550.6,283.5 551.1,283.6 551.6,284.1 552.1,283.8 552.6,283.5 553.1,283.8 553.6,283.9 554.1,283.8 554.6,284.1 555.1,283.8 555.6,284.2 556.1,283.9 556.6,283.9 557.1,284.3 557.6,283.9 558.1,284.7 558.6,284.3 559.1,283.9 559.6,284.1 560.1,284.3 560.6,284.0 561.1,284.9 561.6,285.2 562.1,284.5 562.6,284.9 563.1,285.3 563.6,284.8 564.1,285.1 564.6,285.2 565.1,284.7 565.6,285.2 566.1,285.5 566.6,285.3 567.1,285.4 567.6,285.8 568.1,285.9 568.6,285.6 569.1,285.3 569.6,285.8 570.1,285.9 570.6,286.0 571.1,286.1 571.6,286.0 572.1,286.3 572.6,286.1 573.1,287.0 573.6,286.5 574.1,286.6 574.6,287.1 575.1,286.9 575.6,287.1 576.1,287.7 576.6,287.1 577.1,287.4 577.6,287.6 578.1,287.9 578.6,287.6 579.1,287.8 579.6,287.7 580.1,288.4 580.6,288.3 581.1,288.4 581.6,288.7 582.1,289.0 582.6,288.8 583.1,288.7 583.6,289.0 584.1,289.5 584.6,289.6 585.1,289.5 585.6,290.0 586.1,290.0 586.6,290.2 587.1,290.2 587.6,290.2 588.1,290.8 588.6,291.0 589.1,291.1 589.6,290.9 590.1,291.6 590.6,291.8 591.1,291.7 591.6,292.0 592.1,292.2 592.6,292.3 593.1,292.6 593.6,293.0 594.1,293.1 594.6,292.7 595.1,293.3 595.6,293.5 596.1,293.5 596.6,293.3 597.1,294.3 597.6,294.4 598.1,294.6 598.6,294.6 599.1,295.2 599.6,295.5 600.1,295.6 600.6,295.6 601.1,296.1 601.6,295.9 602.1,296.2 602.6,296.0 603.1,296.4 603.6,296.9 604.1,297.1 604.6,297.2 605.1,297.2 605.6,297.0 606.1,297.5 606.6,298.0 607.1,297.6 607.6,298.2 608.1,298.1 608.6,298.4 609.1,298.4 609.6,299.1 610.1,299.0 610.6,299.1 611.1,299.9 611.6,299.3 612.1,299.7 612.6,299.9 613.1,300.0 613.6,300.1 614.1,299.9 614.6,300.2 615.1,300.3 615.6,300.3 616.1,300.8 616.6,300.5 617.1,301.1 617.6,301.2 618.1,301.1 618.6,301.2 619.1,301.4 619.6,301.1 620.1,301.4 620.6,301.8 621.1,301.6 621.6,302.0 622.1,301.9 622.6,301.7 623.1,301.8 623.6,302.1 624.1,301.9 624.6,302.2 625.1,301.5 625.6,301.9 626.1,301.7 626.6,302.2 627.1,302.0 627.6,302.3 628.1,301.8 628.6,302.3 629.1,302.2 629.6,301.7 630.1,302.2 630.6,302.0 631.1,301.5 631.6,301.7 632.1,301.5 632.6,301.5 633.1,301.3 633.6,301.4 634.1,301.0 634.6,301.0 635.1,300.7 635.6,300.5 636.1,300.1 636.6,300.4 637.1,300.2 637.6,300.1 638.1,299.9 638.6,299.5 639.1,299.3 639.6,299.4 640.1,298.8 640.6,298.8 641.1,298.9 641.6,298.6 642.1,298.5 642.6,298.0 643.1,298.0 643.6,297.7 644.1,298.0 644.6,297.6 645.1,297.4 645.6,297.4 646.1,297.4 646.6,296.7 647.1,296.8 647.6,296.4 648.1,296.2 648.6,296.2 649.1,296.0 649.6,296.1 650.1,295.8 650.6,295.4 651.1,295.4 651.6,295.2 652.1,295.5 652.6,295.3 653.1,295.4 653.6,294.4 654.1,294.6 654.6,295.0 655.1,294.4 655.6,294.3 656.1,294.2 656.6,293.9 657.1,294.3 657.6,293.5 658.1,294.1 658.6,293.5 659.1,293.9 659.6,293.2 660.1,293.2 660.6,292.8 661.1,293.0 661.6,293.0 662.1,292.9 662.6,292.8 663.1,292.5 663.6,292.7 664.1,292.6 664.6,293.0 665.1,292.1 665.6,292.5 666.1,292.5 666.6,292.4 667.1,292.1 667.6,291.9 668.1,291.9 668.6,292.0 669.1,291.7 669.6,291.7 670.1,291.8 670.6,291.8 671.1,291.5 671.6,291.2 672.1,291.5 672.6,291.3 673.1,291.1 673.6,291.3 674.1,291.0 674.6,290.9 675.1,291.0 675.6,290.6 676.1,291.0 676.6,291.1 677.1,290.8" fill="none" stroke="#ff77db" stroke-width="1.05" stroke-linejoin="round" stroke-linecap="round"/>
<polyline points="424.6,280.8 425.1,280.8 425.6,281.2 426.1,281.6 426.6,280.9 427.1,280.8 427.6,281.5 428.1,281.0 428.6,281.2 429.1,281.7 429.6,281.6 430.1,281.5 430.6,282.0 431.1,281.5 431.6,282.4 432.1,281.9 432.6,282.3 433.1,282.3 433.6,282.9 434.1,282.4 434.6,282.6 435.1,283.2 435.6,283.5 436.1,283.3 436.6,283.6 437.1,283.9 437.6,283.9 438.1,284.3 438.6,283.9 439.1,284.4 439.6,285.0 440.1,285.1 440.6,285.1 441.1,285.5 441.6,286.2 442.1,285.9 442.6,286.4 443.1,287.3 443.6,287.5 444.1,287.6 444.6,288.1 445.1,288.6 445.6,288.6 446.1,289.8 446.6,289.7 447.1,290.4 447.6,291.1 448.1,291.4 448.6,292.5 449.1,292.7 449.6,293.3 450.1,294.4 450.6,294.5 451.1,295.2 451.6,296.3 452.1,296.5 452.6,297.5 453.1,298.5 453.6,299.2 454.1,300.2 454.6,300.8 455.1,301.8 455.6,302.3 456.1,303.2 456.6,305.0 457.1,305.4 457.6,306.8 458.1,307.1 458.6,308.3 459.1,309.5 459.6,311.0 460.1,311.8 460.6,312.3 461.1,313.9 461.6,314.8 462.1,315.8 462.6,317.2 463.1,317.8 463.6,318.8 464.1,319.4 464.6,321.1 465.1,321.6 465.6,323.2 466.1,323.5 466.6,324.7 467.1,326.2 467.6,326.7 468.1,327.5 468.6,328.7 469.1,328.8 469.6,330.3 470.1,330.8 470.6,331.6 471.1,331.9 471.6,332.5 472.1,332.7 472.6,334.1 473.1,334.0 473.6,334.0 474.1,334.5 474.6,334.4 475.1,334.5 475.6,334.9 476.1,334.9 476.6,334.9 477.1,335.4 477.6,334.7 478.1,334.8 478.6,334.2 479.1,334.1 479.6,333.2 480.1,333.0 480.6,332.1 481.1,332.0 481.6,330.8 482.1,329.6 482.6,329.0 483.1,328.0 483.6,326.3 484.1,324.8 484.6,323.5 485.1,321.9 485.6,319.9 486.1,318.2 486.6,317.5 487.1,314.7 487.6,313.2 488.1,311.1 488.6,309.0 489.1,307.6 489.6,305.6 490.1,303.8 490.6,302.6 491.1,300.6 491.6,299.0 492.1,296.9 492.6,296.1 493.1,294.7 493.6,293.2 494.1,292.1 494.6,291.3 495.1,289.9 495.6,289.3 496.1,288.0 496.6,287.6 497.1,286.9 497.6,286.5 498.1,286.7 498.6,286.4 499.1,284.9 499.6,285.3 500.1,284.9 500.6,284.8 501.1,284.5 501.6,284.1 502.1,284.1 502.6,284.2 503.1,283.6 503.6,283.8 504.1,283.9 504.6,284.2 505.1,284.0 505.6,283.5 506.1,283.8 506.6,283.7 507.1,283.7 507.6,283.8 508.1,283.7 508.6,284.0 509.1,284.0 509.6,283.9 510.1,284.0 510.6,283.7 511.1,284.1 511.6,284.1 512.1,283.9 512.6,284.1 513.1,283.8 513.6,284.1 514.1,283.9 514.6,284.6 515.1,284.0 515.6,284.3 516.1,284.2 516.6,284.5 517.1,284.1 517.6,284.3 518.1,284.2 518.6,284.3 519.1,284.5 519.6,285.0 520.1,284.8 520.6,284.2 521.1,284.5 521.6,284.8 522.1,284.9 522.6,284.8 523.1,284.6 523.6,284.7 524.1,284.8 524.6,284.6 525.1,284.9 525.6,284.9 526.1,284.8 526.6,284.4 527.1,284.9 527.6,284.7 528.1,285.0 528.6,284.8 529.1,285.0 529.6,284.9 530.1,285.3 530.6,284.8 531.1,285.4 531.6,285.2 532.1,285.0 532.6,285.4 533.1,285.8 533.6,285.0 534.1,285.1 534.6,285.3 535.1,285.5 535.6,285.4 536.1,285.6 536.6,285.3 537.1,285.8 537.6,285.5 538.1,286.1 538.6,285.4 539.1,285.6 539.6,285.7 540.1,285.6 540.6,286.0 541.1,285.4 541.6,285.6 542.1,286.3 542.6,285.8 543.1,285.9 543.6,286.3 544.1,285.8 544.6,285.6 545.1,286.0 545.6,285.8 546.1,286.6 546.6,286.3 547.1,286.1 547.6,286.5 548.1,286.6 548.6,286.1 549.1,286.5 549.6,286.3 550.1,286.8 550.6,286.9 551.1,286.9 551.6,286.8 552.1,286.7 552.6,287.2 553.1,286.8 553.6,287.5 554.1,286.9 554.6,287.1 555.1,286.8 555.6,287.5 556.1,287.2 556.6,287.3 557.1,287.4 557.6,287.7 558.1,287.3 558.6,287.4 559.1,287.7 559.6,287.9 560.1,287.9 560.6,287.9 561.1,288.7 561.6,288.0 562.1,288.2 562.6,288.5 563.1,288.8 563.6,288.7 564.1,288.0 564.6,289.2 565.1,288.8 565.6,289.0 566.1,289.0 566.6,289.1 567.1,289.6 567.6,289.6 568.1,289.7 568.6,289.7 569.1,290.0 569.6,290.2 570.1,290.1 570.6,290.0 571.1,290.9 571.6,290.8 572.1,290.5 572.6,291.0 573.1,291.2 573.6,291.5 574.1,291.6 574.6,291.5 575.1,291.8 575.6,292.4 576.1,292.1 576.6,292.5 577.1,292.8 577.6,292.8 578.1,292.7 578.6,292.8 579.1,293.4 579.6,293.5 580.1,293.6 580.6,293.5 581.1,293.8 581.6,294.3 582.1,294.9 582.6,294.6 583.1,294.9 583.6,295.0 584.1,295.9 584.6,296.0 585.1,295.7 585.6,296.1 586.1,296.2 586.6,296.7 587.1,296.9 587.6,297.6 588.1,297.2 588.6,297.6 589.1,298.0 589.6,298.2 590.1,298.6 590.6,298.9 591.1,299.3 591.6,299.0 592.1,299.7 592.6,300.0 593.1,300.8 593.6,300.6 594.1,300.5 594.6,301.2 595.1,301.2 595.6,301.8 596.1,301.8 596.6,302.5 597.1,302.6 597.6,302.6 598.1,303.1 598.6,303.9 599.1,303.4 599.6,304.0 600.1,304.5 600.6,304.9 601.1,304.8 601.6,305.4 602.1,305.8 602.6,305.8 603.1,306.4 603.6,306.1 604.1,307.0 604.6,307.1 605.1,307.0 605.6,307.2 606.1,308.2 606.6,307.9 607.1,308.8 607.6,308.8 608.1,309.0 608.6,309.2 609.1,309.6 609.6,309.7 610.1,309.6 610.6,310.2 611.1,310.5 611.6,310.6 612.1,310.6 612.6,310.8 613.1,311.1 613.6,311.5 614.1,311.5 614.6,312.2 615.1,312.0 615.6,312.3 616.1,312.2 616.6,312.7 617.1,312.8 617.6,313.0 618.1,312.8 618.6,313.4 619.1,313.2 619.6,313.6 620.1,313.5 620.6,313.6 621.1,314.0 621.6,313.9 622.1,314.0 622.6,313.8 623.1,314.3 623.6,314.3 624.1,314.5 624.6,314.4 625.1,314.5 625.6,314.5 626.1,314.4 626.6,314.2 627.1,314.2 627.6,314.2 628.1,314.1 628.6,314.0 629.1,314.3 629.6,313.5 630.1,314.2 630.6,313.7 631.1,313.8 631.6,313.5 632.1,313.3 632.6,312.7 633.1,312.8 633.6,312.8 634.1,312.6 634.6,312.6 635.1,312.2 635.6,312.3 636.1,312.2 636.6,311.4 637.1,311.0 637.6,311.0 638.1,311.0 638.6,310.9 639.1,310.3 639.6,310.2 640.1,309.8 640.6,309.0 641.1,309.0 641.6,309.0 642.1,309.2 642.6,308.3 643.1,308.2 643.6,308.0 644.1,307.7 644.6,307.5 645.1,307.7 645.6,306.6 646.1,306.9 646.6,306.5 647.1,306.2 647.6,305.8 648.1,305.6 648.6,305.9 649.1,305.6 649.6,304.9 650.1,304.6 650.6,304.6 651.1,304.4 651.6,304.2 652.1,303.7 652.6,303.3 653.1,303.1 653.6,303.1 654.1,303.3 654.6,302.7 655.1,302.7 655.6,302.3 656.1,302.3 656.6,302.3 657.1,302.1 657.6,301.7 658.1,301.6 658.6,301.1 659.1,300.8 659.6,301.1 660.1,300.7 660.6,300.7 661.1,300.5 661.6,300.4 662.1,300.7 662.6,300.3 663.1,300.5 663.6,300.0 664.1,299.8 664.6,299.6 665.1,300.1 665.6,299.6 666.1,299.7 666.6,299.6 667.1,299.2 667.6,299.0 668.1,298.7 668.6,298.8 669.1,299.0 669.6,298.8 670.1,298.4 670.6,298.3 671.1,298.4 671.6,298.4 672.1,298.5 672.6,298.7 673.1,297.7 673.6,297.7 674.1,297.6 674.6,298.0 675.1,298.0 675.6,297.8 676.1,297.7 676.6,297.4 677.1,297.5" fill="none" stroke="#fd6fc3" stroke-width="1.05" stroke-linejoin="round" stroke-linecap="round"/>
<polyline points="424.6,281.9 425.1,282.3 425.6,282.0 426.1,282.4 426.6,282.5 427.1,282.3 427.6,282.6 428.1,283.1 428.6,283.2 429.1,283.1 429.6,283.3 430.1,282.7 430.6,283.2 431.1,283.9 431.6,283.6 432.1,284.1 432.6,284.3 433.1,283.5 433.6,284.3 434.1,284.7 434.6,284.6 435.1,285.2 435.6,285.0 436.1,285.3 436.6,285.6 437.1,286.0 437.6,285.9 438.1,286.4 438.6,286.6 439.1,286.8 439.6,286.9 440.1,287.4 440.6,287.8 441.1,287.7 441.6,288.2 442.1,288.9 442.6,289.4 443.1,290.0 443.6,290.0 444.1,290.6 444.6,291.4 445.1,291.9 445.6,292.2 446.1,293.4 446.6,293.1 447.1,294.1 447.6,294.8 448.1,295.3 448.6,296.4 449.1,297.3 449.6,297.8 450.1,298.5 450.6,299.5 451.1,300.1 451.6,301.2 452.1,302.2 452.6,303.2 453.1,303.4 453.6,304.7 454.1,306.0 454.6,307.1 455.1,308.1 455.6,309.0 456.1,310.3 456.6,311.2 457.1,312.3 457.6,314.0 458.1,314.9 458.6,316.0 459.1,318.1 459.6,318.8 460.1,319.9 460.6,321.4 461.1,323.6 461.6,324.0 462.1,325.6 462.6,327.2 463.1,328.2 463.6,329.1 464.1,330.5 464.6,332.2 465.1,333.5 465.6,333.7 466.1,335.9 466.6,336.7 467.1,338.0 467.6,339.3 468.1,340.0 468.6,341.2 469.1,342.7 469.6,343.5 470.1,343.5 470.6,344.7 471.1,344.9 471.6,345.6 472.1,346.7 472.6,346.7 473.1,347.2 473.6,347.7 474.1,348.1 474.6,347.7 475.1,347.8 475.6,348.1 476.1,347.7 476.6,348.2 477.1,348.1 477.6,348.0 478.1,347.1 478.6,347.0 479.1,346.0 479.6,345.7 480.1,344.7 480.6,344.2 481.1,343.0 481.6,341.5 482.1,341.0 482.6,338.9 483.1,338.3 483.6,336.6 484.1,334.8 484.6,332.8 485.1,331.1 485.6,328.7 486.1,326.7 486.6,324.2 487.1,322.8 487.6,320.2 488.1,318.3 488.6,316.1 489.1,314.4 489.6,312.1 490.1,309.5 490.6,308.1 491.1,306.3 491.6,304.0 492.1,302.1 492.6,300.8 493.1,298.9 493.6,297.6 494.1,296.4 494.6,295.3 495.1,293.2 495.6,292.6 496.1,291.3 496.6,290.7 497.1,289.7 497.6,288.8 498.1,288.5 498.6,288.2 499.1,287.3 499.6,287.0 500.1,286.7 500.6,287.1 501.1,286.6 501.6,285.6 502.1,285.8 502.6,285.9 503.1,285.9 503.6,286.0 504.1,285.8 504.6,285.3 505.1,285.3 505.6,285.8 506.1,285.1 506.6,285.0 507.1,285.4 507.6,285.2 508.1,285.3 508.6,285.4 509.1,285.6 509.6,285.9 510.1,285.4 510.6,285.5 511.1,285.5 511.6,285.5 512.1,285.8 512.6,285.5 513.1,286.2 513.6,285.4 514.1,286.0 514.6,286.4 515.1,286.1 515.6,285.8 516.1,285.7 516.6,285.6 517.1,285.9 517.6,286.0 518.1,285.9 518.6,286.4 519.1,286.0 519.6,286.2 520.1,286.1 520.6,286.3 521.1,286.3 521.6,285.9 522.1,286.0 522.6,286.6 523.1,286.6 523.6,286.4 524.1,286.0 524.6,286.7 525.1,286.8 525.6,287.2 526.1,286.6 526.6,286.7 527.1,287.1 527.6,286.6 528.1,287.0 528.6,286.7 529.1,287.0 529.6,287.2 530.1,286.7 530.6,287.1 531.1,287.2 531.6,286.9 532.1,287.3 532.6,287.3 533.1,287.1 533.6,287.0 534.1,287.5 534.6,287.2 535.1,287.4 535.6,287.9 536.1,287.4 536.6,287.9 537.1,287.8 537.6,287.7 538.1,287.3 538.6,287.6 539.1,287.8 539.6,287.8 540.1,287.8 540.6,287.5 541.1,287.2 541.6,287.8 542.1,287.5 542.6,287.8 543.1,288.0 543.6,288.3 544.1,288.1 544.6,288.1 545.1,288.3 545.6,287.8 546.1,288.5 546.6,288.3 547.1,288.6 547.6,288.6 548.1,288.6 548.6,289.2 549.1,288.7 549.6,288.9 550.1,289.1 550.6,289.1 551.1,289.7 551.6,289.0 552.1,289.2 552.6,289.3 553.1,289.6 553.6,289.2 554.1,289.4 554.6,289.5 555.1,289.9 555.6,289.9 556.1,290.0 556.6,290.2 557.1,290.3 557.6,290.1 558.1,290.3 558.6,290.5 559.1,291.0 559.6,290.4 560.1,290.8 560.6,290.7 561.1,291.0 561.6,291.2 562.1,291.1 562.6,291.9 563.1,291.6 563.6,290.9 564.1,291.6 564.6,291.6 565.1,292.7 565.6,292.0 566.1,292.4 566.6,292.3 567.1,292.6 567.6,292.6 568.1,292.8 568.6,292.8 569.1,293.6 569.6,293.5 570.1,293.6 570.6,294.1 571.1,294.1 571.6,294.1 572.1,294.4 572.6,294.7 573.1,294.5 573.6,294.6 574.1,295.1 574.6,295.1 575.1,295.9 575.6,296.0 576.1,295.9 576.6,296.5 577.1,296.4 577.6,297.1 578.1,296.9 578.6,297.0 579.1,298.1 579.6,297.3 580.1,298.1 580.6,298.1 581.1,298.8 581.6,298.9 582.1,299.5 582.6,299.8 583.1,299.4 583.6,299.9 584.1,300.1 584.6,300.1 585.1,300.9 585.6,301.1 586.1,301.3 586.6,302.4 587.1,302.7 587.6,302.6 588.1,303.2 588.6,303.8 589.1,303.7 589.6,303.9 590.1,304.5 590.6,304.7 591.1,305.4 591.6,305.5 592.1,305.5 592.6,306.0 593.1,306.5 593.6,306.6 594.1,307.2 594.6,307.1 595.1,308.1 595.6,308.6 596.1,308.9 596.6,308.7 597.1,309.3 597.6,310.0 598.1,309.5 598.6,310.7 599.1,311.2 599.6,311.6 600.1,311.5 600.6,312.5 601.1,312.9 601.6,313.0 602.1,313.5 602.6,314.0 603.1,314.3 603.6,314.1 604.1,315.1 604.6,315.0 605.1,315.3 605.6,315.5 606.1,316.0 606.6,316.3 607.1,316.8 607.6,317.4 608.1,317.3 608.6,317.5 609.1,318.3 609.6,319.1 610.1,318.6 610.6,318.7 611.1,319.2 611.6,319.8 612.1,320.0 612.6,320.0 613.1,320.4 613.6,320.7 614.1,321.3 614.6,320.9 615.1,321.8 615.6,321.5 616.1,322.1 616.6,322.3 617.1,322.2 617.6,322.5 618.1,322.6 618.6,322.9 619.1,323.0 619.6,323.4 620.1,322.9 620.6,323.3 621.1,324.0 621.6,323.4 622.1,323.8 622.6,323.4 623.1,324.6 623.6,324.3 624.1,324.4 624.6,324.4 625.1,324.6 625.6,324.5 626.1,323.9 626.6,324.0 627.1,323.8 627.6,323.9 628.1,324.3 628.6,323.9 629.1,323.9 629.6,323.8 630.1,324.0 630.6,323.6 631.1,323.8 631.6,323.4 632.1,322.7 632.6,322.4 633.1,322.3 633.6,322.3 634.1,321.8 634.6,321.4 635.1,321.6 635.6,321.1 636.1,321.3 636.6,320.5 637.1,320.7 637.6,319.8 638.1,319.1 638.6,319.1 639.1,319.6 639.6,318.9 640.1,318.5 640.6,318.0 641.1,317.4 641.6,317.8 642.1,317.0 642.6,316.7 643.1,316.2 643.6,315.9 644.1,315.7 644.6,315.5 645.1,315.2 645.6,314.7 646.1,314.5 646.6,313.6 647.1,313.7 647.6,313.2 648.1,313.0 648.6,313.2 649.1,312.4 649.6,312.0 650.1,312.0 650.6,311.3 651.1,310.9 651.6,311.1 652.1,310.8 652.6,310.3 653.1,310.0 653.6,309.6 654.1,309.5 654.6,310.2 655.1,309.0 655.6,308.7 656.1,308.8 656.6,308.8 657.1,307.7 657.6,307.8 658.1,308.0 658.6,307.5 659.1,307.5 659.6,307.1 660.1,307.0 660.6,306.6 661.1,306.6 661.6,306.5 662.1,306.3 662.6,306.6 663.1,306.0 663.6,305.6 664.1,305.4 664.6,305.1 665.1,305.4 665.6,305.3 666.1,305.2 666.6,304.3 667.1,304.3 667.6,304.9 668.1,305.3 668.6,304.7 669.1,304.5 669.6,304.0 670.1,303.9 670.6,304.1 671.1,303.6 671.6,303.3 672.1,303.7 672.6,303.2 673.1,303.2 673.6,302.7 674.1,303.4 674.6,303.3 675.1,303.1 675.6,302.8 676.1,302.8 676.6,302.8 677.1,302.8" fill="none" stroke="#fc68b0" stroke-width="1.05" stroke-linejoin="round" stroke-linecap="round"/>
<polyline points="424.6,282.7 425.1,282.8 425.6,282.9 426.1,282.8 426.6,282.9 427.1,283.4 427.6,283.3 428.1,283.6 428.6,283.9 429.1,283.6 429.6,284.1 430.1,284.2 430.6,284.3 431.1,285.0 431.6,284.5 432.1,285.3 432.6,285.3 433.1,285.2 433.6,285.6 434.1,285.5 434.6,286.3 435.1,286.2 435.6,286.8 436.1,286.3 436.6,286.5 437.1,287.8 437.6,287.3 438.1,287.5 438.6,287.6 439.1,288.3 439.6,288.8 440.1,289.3 440.6,289.4 441.1,289.5 441.6,290.2 442.1,290.5 442.6,290.6 443.1,291.7 443.6,291.8 444.1,292.4 444.6,293.3 445.1,293.7 445.6,294.1 446.1,294.5 446.6,296.1 447.1,295.9 447.6,297.2 448.1,297.8 448.6,298.3 449.1,299.3 449.6,300.2 450.1,301.3 450.6,302.1 451.1,303.4 451.6,304.2 452.1,304.7 452.6,306.4 453.1,307.2 453.6,307.8 454.1,309.8 454.6,310.3 455.1,311.7 455.6,313.1 456.1,314.5 456.6,315.6 457.1,317.4 457.6,317.9 458.1,319.5 458.6,320.9 459.1,322.9 459.6,324.2 460.1,324.9 460.6,327.0 461.1,328.1 461.6,328.8 462.1,331.3 462.6,332.0 463.1,333.4 463.6,335.6 464.1,337.0 464.6,338.2 465.1,339.3 465.6,341.0 466.1,342.1 466.6,343.6 467.1,344.8 467.6,346.1 468.1,347.0 468.6,348.2 469.1,349.6 469.6,350.0 470.1,351.5 470.6,352.2 471.1,352.6 471.6,353.2 472.1,353.8 472.6,354.5 473.1,354.7 473.6,355.5 474.1,355.1 474.6,355.5 475.1,355.3 475.6,355.6 476.1,355.6 476.6,355.0 477.1,354.9 477.6,354.8 478.1,354.6 478.6,353.8 479.1,353.4 479.6,352.3 480.1,351.4 480.6,350.2 481.1,348.8 481.6,347.8 482.1,346.8 482.6,345.3 483.1,343.4 483.6,342.0 484.1,340.0 484.6,337.5 485.1,336.1 485.6,333.7 486.1,331.5 486.6,329.1 487.1,327.1 487.6,325.0 488.1,322.3 488.6,320.3 489.1,317.5 489.6,315.5 490.1,313.7 490.6,311.6 491.1,309.1 491.6,307.5 492.1,305.2 492.6,303.5 493.1,301.6 493.6,301.2 494.1,298.6 494.6,297.1 495.1,295.7 495.6,295.0 496.1,294.2 496.6,292.4 497.1,291.8 497.6,290.8 498.1,290.3 498.6,289.5 499.1,289.5 499.6,288.4 500.1,288.4 500.6,288.1 501.1,287.4 501.6,287.6 502.1,287.0 502.6,286.7 503.1,286.5 503.6,286.7 504.1,286.7 504.6,286.1 505.1,286.4 505.6,286.0 506.1,285.8 506.6,286.8 507.1,286.0 507.6,286.0 508.1,286.5 508.6,286.2 509.1,286.3 509.6,286.3 510.1,286.4 510.6,286.8 511.1,286.8 511.6,286.8 512.1,287.1 512.6,286.4 513.1,286.7 513.6,287.2 514.1,286.8 514.6,287.3 515.1,287.0 515.6,286.5 516.1,286.8 516.6,287.1 517.1,287.1 517.6,287.2 518.1,287.2 518.6,286.8 519.1,287.2 519.6,287.4 520.1,287.3 520.6,287.7 521.1,287.2 521.6,287.9 522.1,287.8 522.6,287.7 523.1,287.4 523.6,287.7 524.1,288.0 524.6,287.9 525.1,288.3 525.6,287.2 526.1,287.6 526.6,287.1 527.1,287.8 527.6,288.0 528.1,287.9 528.6,288.3 529.1,288.4 529.6,287.6 530.1,288.1 530.6,288.2 531.1,287.7 531.6,288.5 532.1,288.1 532.6,287.8 533.1,288.3 533.6,288.5 534.1,288.4 534.6,288.6 535.1,288.7 535.6,288.3 536.1,288.8 536.6,288.3 537.1,288.5 537.6,288.4 538.1,289.1 538.6,289.7 539.1,288.8 539.6,289.4 540.1,289.0 540.6,288.9 541.1,289.0 541.6,289.0 542.1,289.2 542.6,289.1 543.1,289.2 543.6,289.3 544.1,289.9 544.6,289.8 545.1,290.1 545.6,290.4 546.1,289.1 546.6,289.1 547.1,290.1 547.6,290.1 548.1,289.9 548.6,290.1 549.1,289.8 549.6,290.2 550.1,290.1 550.6,291.2 551.1,290.5 551.6,290.8 552.1,291.3 552.6,290.8 553.1,290.8 553.6,291.0 554.1,290.8 554.6,291.5 555.1,290.8 555.6,291.0 556.1,291.8 556.6,291.2 557.1,291.2 557.6,291.6 558.1,291.8 558.6,292.1 559.1,292.1 559.6,292.3 560.1,292.7 560.6,292.2 561.1,292.8 561.6,293.3 562.1,293.0 562.6,293.2 563.1,293.2 563.6,293.3 564.1,293.2 564.6,293.3 565.1,294.1 565.6,294.0 566.1,294.3 566.6,294.1 567.1,294.6 567.6,294.8 568.1,294.8 568.6,295.2 569.1,294.8 569.6,295.5 570.1,295.1 570.6,295.7 571.1,296.1 571.6,296.6 572.1,296.8 572.6,296.7 573.1,296.8 573.6,297.3 574.1,297.7 574.6,297.9 575.1,298.0 575.6,298.1 576.1,298.2 576.6,298.5 577.1,299.0 577.6,299.4 578.1,298.9 578.6,299.9 579.1,300.1 579.6,300.6 580.1,300.7 580.6,301.3 581.1,301.2 581.6,301.5 582.1,302.2 582.6,302.2 583.1,302.5 583.6,302.3 584.1,303.0 584.6,304.3 585.1,304.1 585.6,304.4 586.1,304.5 586.6,305.1 587.1,305.4 587.6,306.1 588.1,306.4 588.6,306.4 589.1,306.7 589.6,307.2 590.1,308.1 590.6,308.0 591.1,308.7 591.6,309.3 592.1,309.1 592.6,309.4 593.1,309.9 593.6,310.5 594.1,311.5 594.6,311.3 595.1,312.0 595.6,312.5 596.1,312.9 596.6,312.8 597.1,313.6 597.6,313.7 598.1,314.1 598.6,314.5 599.1,315.1 599.6,315.6 600.1,316.7 600.6,317.0 601.1,316.4 601.6,317.3 602.1,318.0 602.6,318.5 603.1,319.2 603.6,319.1 604.1,319.7 604.6,320.0 605.1,320.5 605.6,320.4 606.1,320.6 606.6,321.9 607.1,321.4 607.6,322.2 608.1,322.3 608.6,322.9 609.1,323.1 609.6,323.9 610.1,323.7 610.6,324.1 611.1,324.5 611.6,324.7 612.1,325.0 612.6,325.6 613.1,326.0 613.6,326.6 614.1,326.2 614.6,327.0 615.1,327.1 615.6,327.4 616.1,327.7 616.6,327.8 617.1,328.0 617.6,328.6 618.1,328.3 618.6,328.5 619.1,328.6 619.6,329.1 620.1,329.5 620.6,328.7 621.1,329.7 621.6,329.6 622.1,330.1 622.6,329.6 623.1,329.4 623.6,330.1 624.1,329.8 624.6,330.0 625.1,330.2 625.6,330.5 626.1,329.8 626.6,329.3 627.1,330.2 627.6,329.7 628.1,329.7 628.6,329.7 629.1,329.3 629.6,329.5 630.1,329.2 630.6,329.1 631.1,328.2 631.6,328.3 632.1,329.1 632.6,327.7 633.1,328.3 633.6,327.9 634.1,327.2 634.6,327.0 635.1,326.6 635.6,325.8 636.1,325.4 636.6,326.0 637.1,325.2 637.6,324.8 638.1,324.4 638.6,324.5 639.1,324.0 639.6,323.6 640.1,323.2 640.6,322.8 641.1,322.1 641.6,322.1 642.1,322.0 642.6,321.1 643.1,321.0 643.6,320.5 644.1,320.2 644.6,320.0 645.1,319.4 645.6,318.7 646.1,319.0 646.6,318.0 647.1,317.8 647.6,317.6 648.1,317.4 648.6,316.9 649.1,316.8 649.6,316.5 650.1,315.8 650.6,315.4 651.1,315.2 651.6,314.8 652.1,314.7 652.6,315.0 653.1,314.1 653.6,313.5 654.1,313.9 654.6,313.5 655.1,313.3 655.6,312.3 656.1,312.4 656.6,312.1 657.1,312.2 657.6,311.3 658.1,311.8 658.6,311.0 659.1,311.5 659.6,310.7 660.1,310.8 660.6,310.5 661.1,310.0 661.6,309.6 662.1,309.8 662.6,309.6 663.1,309.4 663.6,308.9 664.1,308.8 664.6,308.4 665.1,308.7 665.6,308.8 666.1,308.4 666.6,307.9 667.1,308.0 667.6,308.0 668.1,308.2 668.6,307.3 669.1,307.7 669.6,307.3 670.1,307.1 670.6,307.4 671.1,307.1 671.6,306.7 672.1,306.6 672.6,307.3 673.1,306.4 673.6,306.4 674.1,307.1 674.6,306.2 675.1,306.3 675.6,306.3 676.1,306.2 676.6,305.9 677.1,306.5" fill="none" stroke="#fb64a4" stroke-width="1.05" stroke-linejoin="round" stroke-linecap="round"/>
<polyline points="424.6,283.5 425.1,283.3 425.6,284.7 426.1,283.9 426.6,283.9 427.1,284.7 427.6,284.8 428.1,284.8 428.6,284.9 429.1,284.7 429.6,285.4 430.1,285.4 430.6,285.1 431.1,285.5 431.6,285.7 432.1,285.9 432.6,285.7 433.1,285.9 433.6,286.6 434.1,287.0 434.6,287.0 435.1,287.7 435.6,287.1 436.1,287.8 436.6,288.4 437.1,288.4 437.6,288.4 438.1,289.4 438.6,289.5 439.1,289.8 439.6,290.7 440.1,290.2 440.6,290.9 441.1,291.4 441.6,292.2 442.1,292.2 442.6,293.0 443.1,293.0 443.6,294.1 444.1,294.4 444.6,294.9 445.1,295.9 445.6,296.4 446.1,297.2 446.6,298.0 447.1,298.9 447.6,299.6 448.1,300.2 448.6,301.3 449.1,301.8 449.6,302.9 450.1,304.0 450.6,305.3 451.1,306.7 451.6,308.0 452.1,308.4 452.6,309.1 453.1,310.7 453.6,312.5 454.1,313.6 454.6,314.8 455.1,316.0 455.6,317.5 456.1,318.3 456.6,319.8 457.1,321.7 457.6,323.0 458.1,324.5 458.6,326.3 459.1,327.5 459.6,329.5 460.1,330.9 460.6,332.6 461.1,334.4 461.6,335.8 462.1,337.5 462.6,338.9 463.1,340.3 463.6,342.1 464.1,344.0 464.6,345.4 465.1,347.2 465.6,349.3 466.1,350.0 466.6,351.6 467.1,352.8 467.6,354.4 468.1,355.5 468.6,356.4 469.1,357.8 469.6,358.9 470.1,359.7 470.6,360.6 471.1,361.3 471.6,362.1 472.1,362.4 472.6,363.2 473.1,363.4 473.6,363.2 474.1,363.3 474.6,363.7 475.1,363.6 475.6,363.7 476.1,363.4 476.6,363.1 477.1,362.4 477.6,362.1 478.1,362.0 478.6,361.2 479.1,360.4 479.6,359.7 480.1,358.3 480.6,357.1 481.1,355.7 481.6,354.7 482.1,353.0 482.6,350.9 483.1,350.2 483.6,347.8 484.1,345.9 484.6,343.5 485.1,341.6 485.6,338.7 486.1,336.2 486.6,334.1 487.1,331.6 487.6,329.4 488.1,327.1 488.6,324.3 489.1,322.0 489.6,319.4 490.1,317.2 490.6,315.2 491.1,312.9 491.6,310.8 492.1,309.2 492.6,306.6 493.1,304.8 493.6,303.1 494.1,301.2 494.6,299.8 495.1,297.9 495.6,296.6 496.1,295.8 496.6,294.7 497.1,293.7 497.6,293.0 498.1,292.2 498.6,291.5 499.1,290.7 499.6,290.0 500.1,289.6 500.6,288.7 501.1,288.7 501.6,288.5 502.1,287.9 502.6,287.9 503.1,287.7 503.6,287.3 504.1,287.8 504.6,287.5 505.1,287.9 505.6,287.3 506.1,287.8 506.6,287.3 507.1,287.4 507.6,287.0 508.1,286.9 508.6,287.7 509.1,287.4 509.6,287.3 510.1,287.7 510.6,287.2 511.1,287.8 511.6,287.7 512.1,287.8 512.6,287.5 513.1,287.4 513.6,288.0 514.1,288.2 514.6,288.1 515.1,288.2 515.6,288.1 516.1,287.9 516.6,288.5 517.1,288.3 517.6,288.6 518.1,288.1 518.6,288.3 519.1,288.6 519.6,288.1 520.1,288.6 520.6,288.4 521.1,288.1 521.6,288.0 522.1,288.8 522.6,288.3 523.1,289.0 523.6,288.8 524.1,288.7 524.6,289.1 525.1,289.1 525.6,288.9 526.1,288.7 526.6,288.5 527.1,289.1 527.6,288.9 528.1,288.8 528.6,289.2 529.1,289.0 529.6,289.8 530.1,288.7 530.6,289.7 531.1,289.3 531.6,288.8 532.1,289.9 532.6,289.3 533.1,290.4 533.6,289.3 534.1,289.6 534.6,290.1 535.1,289.7 535.6,290.7 536.1,290.1 536.6,289.6 537.1,290.1 537.6,289.8 538.1,290.6 538.6,290.6 539.1,290.5 539.6,290.1 540.1,290.4 540.6,290.9 541.1,290.4 541.6,290.3 542.1,290.4 542.6,291.1 543.1,291.2 543.6,290.5 544.1,290.6 544.6,290.6 545.1,291.3 545.6,291.0 546.1,291.5 546.6,291.5 547.1,291.4 547.6,292.0 548.1,291.4 548.6,291.9 549.1,291.6 549.6,291.7 550.1,291.7 550.6,292.4 551.1,292.3 551.6,292.4 552.1,292.4 552.6,292.3 553.1,292.8 553.6,292.8 554.1,292.7 554.6,293.7 555.1,293.0 555.6,292.7 556.1,292.9 556.6,293.5 557.1,293.8 557.6,294.0 558.1,294.0 558.6,293.6 559.1,293.9 559.6,294.5 560.1,294.1 560.6,294.7 561.1,295.0 561.6,295.0 562.1,295.2 562.6,295.0 563.1,295.4 563.6,294.5 564.1,295.8 564.6,296.0 565.1,295.8 565.6,296.3 566.1,296.6 566.6,296.5 567.1,296.7 567.6,296.6 568.1,297.0 568.6,297.1 569.1,297.4 569.6,297.4 570.1,298.2 570.6,298.3 571.1,298.1 571.6,298.6 572.1,299.0 572.6,299.2 573.1,299.2 573.6,299.6 574.1,300.0 574.6,300.1 575.1,300.2 575.6,300.6 576.1,301.3 576.6,301.4 577.1,301.8 577.6,302.2 578.1,302.3 578.6,302.7 579.1,302.7 579.6,302.8 580.1,304.0 580.6,303.6 581.1,304.1 581.6,304.7 582.1,305.3 582.6,305.4 583.1,305.8 583.6,306.2 584.1,306.3 584.6,307.3 585.1,307.9 585.6,307.8 586.1,308.2 586.6,308.8 587.1,309.1 587.6,309.3 588.1,309.9 588.6,310.4 589.1,311.0 589.6,310.7 590.1,311.5 590.6,312.1 591.1,312.4 591.6,313.3 592.1,313.6 592.6,313.5 593.1,314.7 593.6,314.5 594.1,315.4 594.6,315.8 595.1,316.4 595.6,316.6 596.1,317.0 596.6,317.8 597.1,317.9 597.6,318.4 598.1,319.3 598.6,319.0 599.1,320.4 599.6,320.2 600.1,321.3 600.6,321.4 601.1,321.8 601.6,322.0 602.1,323.1 602.6,322.8 603.1,323.5 603.6,324.1 604.1,324.0 604.6,325.4 605.1,325.9 605.6,326.1 606.1,326.3 606.6,327.4 607.1,327.4 607.6,327.8 608.1,328.2 608.6,328.4 609.1,329.0 609.6,328.8 610.1,329.8 610.6,329.8 611.1,330.8 611.6,330.9 612.1,331.3 612.6,331.3 613.1,332.1 613.6,332.2 614.1,332.4 614.6,332.9 615.1,332.8 615.6,333.9 616.1,333.2 616.6,333.9 617.1,334.3 617.6,334.8 618.1,334.2 618.6,334.3 619.1,334.8 619.6,335.5 620.1,335.2 620.6,335.5 621.1,335.6 621.6,335.8 622.1,335.8 622.6,336.2 623.1,335.9 623.6,336.8 624.1,335.9 624.6,336.3 625.1,336.4 625.6,336.3 626.1,336.2 626.6,336.8 627.1,335.9 627.6,335.3 628.1,336.5 628.6,335.9 629.1,336.1 629.6,336.0 630.1,335.8 630.6,335.1 631.1,334.6 631.6,334.7 632.1,334.8 632.6,334.6 633.1,333.3 633.6,333.8 634.1,333.8 634.6,333.6 635.1,333.2 635.6,332.0 636.1,331.5 636.6,331.5 637.1,331.2 637.6,330.6 638.1,330.1 638.6,330.0 639.1,329.4 639.6,329.1 640.1,329.1 640.6,328.4 641.1,327.5 641.6,328.0 642.1,327.0 642.6,326.8 643.1,325.9 643.6,325.3 644.1,325.6 644.6,324.6 645.1,324.3 645.6,323.9 646.1,323.8 646.6,323.3 647.1,322.6 647.6,322.1 648.1,321.8 648.6,322.4 649.1,321.5 649.6,320.7 650.1,320.5 650.6,320.1 651.1,319.8 651.6,319.6 652.1,319.0 652.6,318.4 653.1,318.5 653.6,318.7 654.1,318.1 654.6,317.8 655.1,317.3 655.6,317.0 656.1,316.6 656.6,316.6 657.1,316.2 657.6,315.7 658.1,315.4 658.6,315.2 659.1,315.0 659.6,314.9 660.1,314.3 660.6,314.6 661.1,314.5 661.6,313.9 662.1,314.2 662.6,313.1 663.1,312.5 663.6,312.8 664.1,312.7 664.6,312.1 665.1,312.8 665.6,311.9 666.1,311.3 666.6,312.4 667.1,311.4 667.6,311.5 668.1,311.5 668.6,310.8 669.1,311.0 669.6,310.3 670.1,310.7 670.6,310.7 671.1,310.4 671.6,310.4 672.1,309.9 672.6,309.7 673.1,310.2 673.6,310.1 674.1,309.9 674.6,309.5 675.1,309.4 675.6,309.6 676.1,309.5 676.6,309.1 677.1,308.8" fill="none" stroke="#f96097" stroke-width="1.05" stroke-linejoin="round" stroke-linecap="round"/>
<polyline points="424.6,284.7 425.1,285.1 425.6,285.3 426.1,284.9 426.6,284.8 427.1,285.2 427.6,284.8 428.1,285.6 428.6,285.5 429.1,285.7 429.6,285.8 430.1,286.6 430.6,285.9 431.1,286.7 431.6,286.6 432.1,286.9 432.6,287.5 433.1,287.6 433.6,287.6 434.1,288.3 434.6,288.3 435.1,288.7 435.6,288.9 436.1,289.1 436.6,289.5 437.1,289.8 437.6,290.2 438.1,290.4 438.6,291.3 439.1,291.6 439.6,291.7 440.1,292.5 440.6,292.6 441.1,292.9 441.6,293.7 442.1,294.2 442.6,294.6 443.1,295.4 443.6,296.0 444.1,296.3 444.6,297.1 445.1,298.6 445.6,298.7 446.1,299.6 446.6,300.0 447.1,301.5 447.6,301.9 448.1,302.7 448.6,303.7 449.1,305.1 449.6,305.7 450.1,306.5 450.6,308.4 451.1,309.1 451.6,309.8 452.1,311.8 452.6,312.8 453.1,314.0 453.6,315.2 454.1,317.1 454.6,318.6 455.1,319.7 455.6,321.5 456.1,323.2 456.6,324.7 457.1,326.2 457.6,327.3 458.1,329.4 458.6,330.8 459.1,333.0 459.6,334.8 460.1,336.2 460.6,338.3 461.1,340.4 461.6,341.5 462.1,343.4 462.6,345.0 463.1,347.2 463.6,348.4 464.1,349.9 464.6,352.5 465.1,353.6 465.6,355.8 466.1,357.1 466.6,358.7 467.1,360.6 467.6,361.4 468.1,363.3 468.6,364.7 469.1,365.0 469.6,367.1 470.1,367.5 470.6,368.6 471.1,368.5 471.6,369.3 472.1,370.2 472.6,369.9 473.1,370.4 473.6,370.6 474.1,371.8 474.6,370.7 475.1,370.5 475.6,370.0 476.1,370.2 476.6,369.9 477.1,369.1 477.6,369.4 478.1,368.8 478.6,367.6 479.1,366.9 479.6,366.7 480.1,364.3 480.6,363.9 481.1,361.8 481.6,360.1 482.1,358.0 482.6,357.1 483.1,354.5 483.6,352.7 484.1,350.6 484.6,348.0 485.1,345.7 485.6,343.0 486.1,341.7 486.6,338.2 487.1,336.1 487.6,333.4 488.1,330.8 488.6,328.7 489.1,325.2 489.6,322.8 490.1,320.2 490.6,318.7 491.1,315.5 491.6,313.5 492.1,311.8 492.6,309.0 493.1,307.3 493.6,305.4 494.1,303.1 494.6,302.3 495.1,300.6 495.6,298.8 496.1,297.8 496.6,296.3 497.1,295.8 497.6,294.8 498.1,293.4 498.6,292.1 499.1,292.3 499.6,291.9 500.1,291.1 500.6,290.8 501.1,290.2 501.6,289.6 502.1,289.3 502.6,289.3 503.1,289.4 503.6,289.1 504.1,288.9 504.6,289.0 505.1,288.6 505.6,288.7 506.1,289.0 506.6,288.3 507.1,288.3 507.6,288.7 508.1,288.3 508.6,288.1 509.1,288.5 509.6,289.0 510.1,288.2 510.6,288.3 511.1,288.7 511.6,288.8 512.1,288.6 512.6,288.8 513.1,288.5 513.6,289.5 514.1,289.0 514.6,288.6 515.1,289.6 515.6,289.4 516.1,289.1 516.6,289.4 517.1,289.5 517.6,289.1 518.1,289.3 518.6,289.6 519.1,289.1 519.6,289.2 520.1,289.2 520.6,289.6 521.1,289.3 521.6,289.6 522.1,289.7 522.6,290.0 523.1,289.1 523.6,290.3 524.1,290.4 524.6,290.2 525.1,289.4 525.6,290.2 526.1,290.1 526.6,289.4 527.1,289.9 527.6,290.3 528.1,289.5 528.6,290.6 529.1,290.3 529.6,291.0 530.1,290.6 530.6,290.3 531.1,290.8 531.6,290.3 532.1,290.4 532.6,291.2 533.1,291.0 533.6,290.9 534.1,290.8 534.6,291.5 535.1,290.8 535.6,291.3 536.1,291.3 536.6,292.1 537.1,291.2 537.6,292.1 538.1,292.0 538.6,291.3 539.1,291.5 539.6,291.7 540.1,291.6 540.6,291.7 541.1,292.0 541.6,291.3 542.1,291.5 542.6,292.4 543.1,292.7 543.6,291.9 544.1,292.2 544.6,292.3 545.1,292.1 545.6,292.9 546.1,293.3 546.6,292.6 547.1,292.9 547.6,292.8 548.1,293.0 548.6,292.5 549.1,293.6 549.6,293.3 550.1,293.5 550.6,293.5 551.1,294.1 551.6,293.3 552.1,293.4 552.6,293.5 553.1,294.2 553.6,294.6 554.1,294.7 554.6,294.7 555.1,293.8 555.6,295.0 556.1,295.1 556.6,294.9 557.1,294.7 557.6,294.7 558.1,295.4 558.6,295.4 559.1,295.1 559.6,295.8 560.1,296.2 560.6,295.6 561.1,296.0 561.6,296.0 562.1,296.6 562.6,296.5 563.1,296.8 563.6,296.9 564.1,297.4 564.6,297.7 565.1,298.0 565.6,297.8 566.1,298.1 566.6,298.2 567.1,298.4 567.6,298.7 568.1,298.5 568.6,298.8 569.1,299.5 569.6,299.0 570.1,299.6 570.6,300.4 571.1,300.5 571.6,300.9 572.1,300.8 572.6,301.4 573.1,301.3 573.6,302.0 574.1,302.3 574.6,302.3 575.1,302.4 575.6,302.8 576.1,303.5 576.6,303.9 577.1,304.1 577.6,304.3 578.1,304.7 578.6,304.9 579.1,305.0 579.6,306.2 580.1,306.5 580.6,307.0 581.1,306.8 581.6,308.0 582.1,307.9 582.6,308.5 583.1,308.5 583.6,308.9 584.1,309.7 584.6,310.0 585.1,310.3 585.6,311.1 586.1,310.9 586.6,311.7 587.1,312.6 587.6,312.9 588.1,313.5 588.6,313.6 589.1,314.4 589.6,314.9 590.1,314.9 590.6,315.7 591.1,316.4 591.6,316.9 592.1,317.4 592.6,316.9 593.1,318.2 593.6,318.9 594.1,318.7 594.6,319.7 595.1,320.4 595.6,321.1 596.1,321.2 596.6,321.8 597.1,322.5 597.6,322.7 598.1,323.6 598.6,324.0 599.1,324.5 599.6,324.8 600.1,325.5 600.6,325.9 601.1,326.8 601.6,326.7 602.1,327.1 602.6,327.7 603.1,328.9 603.6,329.2 604.1,329.7 604.6,329.8 605.1,330.7 605.6,331.1 606.1,331.0 606.6,331.8 607.1,332.5 607.6,333.0 608.1,333.0 608.6,333.2 609.1,334.2 609.6,335.0 610.1,334.9 610.6,335.5 611.1,336.2 611.6,335.9 612.1,336.5 612.6,337.1 613.1,337.4 613.6,337.5 614.1,338.0 614.6,338.3 615.1,338.1 615.6,338.7 616.1,339.7 616.6,339.5 617.1,339.5 617.6,339.8 618.1,340.5 618.6,340.6 619.1,340.6 619.6,341.0 620.1,341.0 620.6,341.5 621.1,341.6 621.6,341.5 622.1,342.1 622.6,341.5 623.1,342.1 623.6,342.4 624.1,341.9 624.6,341.8 625.1,341.7 625.6,341.8 626.1,341.9 626.6,341.8 627.1,341.8 627.6,342.4 628.1,341.5 628.6,341.7 629.1,341.7 629.6,341.2 630.1,340.9 630.6,341.0 631.1,340.9 631.6,340.0 632.1,339.7 632.6,340.2 633.1,339.3 633.6,339.5 634.1,338.4 634.6,338.2 635.1,337.5 635.6,337.1 636.1,336.9 636.6,336.2 637.1,336.5 637.6,336.3 638.1,335.2 638.6,334.8 639.1,334.5 639.6,333.6 640.1,333.2 640.6,333.2 641.1,332.1 641.6,332.5 642.1,331.7 642.6,330.6 643.1,331.1 643.6,330.3 644.1,329.3 644.6,329.1 645.1,328.6 645.6,327.4 646.1,328.4 646.6,327.4 647.1,327.4 647.6,326.5 648.1,326.1 648.6,325.7 649.1,325.4 649.6,325.3 650.1,324.4 650.6,324.1 651.1,323.2 651.6,322.8 652.1,323.4 652.6,322.6 653.1,321.8 653.6,322.1 654.1,321.7 654.6,321.3 655.1,320.7 655.6,320.4 656.1,320.2 656.6,320.9 657.1,319.5 657.6,319.1 658.1,319.4 658.6,319.2 659.1,318.7 659.6,318.1 660.1,318.0 660.6,317.6 661.1,317.2 661.6,317.4 662.1,317.4 662.6,316.7 663.1,316.8 663.6,316.5 664.1,316.1 664.6,316.3 665.1,316.0 665.6,315.2 666.1,315.6 666.6,315.3 667.1,315.2 667.6,314.3 668.1,314.2 668.6,314.2 669.1,314.6 669.6,314.4 670.1,313.5 670.6,314.1 671.1,313.9 671.6,313.5 672.1,314.3 672.6,312.9 673.1,312.9 673.6,312.9 674.1,313.1 674.6,312.3 675.1,312.4 675.6,312.7 676.1,312.0 676.6,312.3 677.1,312.7" fill="none" stroke="#f85c8c" stroke-width="1.05" stroke-linejoin="round" stroke-linecap="round"/>
<polyline points="424.6,285.3 425.1,285.6 425.6,286.3 426.1,286.7 426.6,286.9 427.1,286.3 427.6,287.3 428.1,287.3 428.6,287.0 429.1,287.4 429.6,287.7 430.1,287.5 430.6,288.2 431.1,288.2 431.6,288.7 432.1,288.9 432.6,289.0 433.1,289.3 433.6,290.0 434.1,290.0 434.6,290.1 435.1,290.7 435.6,290.6 436.1,291.3 436.6,291.9 437.1,292.4 437.6,292.2 438.1,292.8 438.6,293.4 439.1,292.8 439.6,293.4 440.1,294.3 440.6,294.9 441.1,296.1 441.6,296.8 442.1,296.8 442.6,297.4 443.1,297.9 443.6,298.8 444.1,299.1 444.6,300.1 445.1,301.1 445.6,301.4 446.1,302.5 446.6,303.3 447.1,304.4 447.6,305.5 448.1,306.7 448.6,307.7 449.1,308.3 449.6,309.7 450.1,311.0 450.6,312.2 451.1,313.5 451.6,314.5 452.1,316.1 452.6,316.9 453.1,319.1 453.6,320.5 454.1,321.9 454.6,323.8 455.1,325.0 455.6,326.8 456.1,328.9 456.6,330.6 457.1,332.2 457.6,333.8 458.1,336.1 458.6,337.8 459.1,339.0 459.6,340.7 460.1,343.4 460.6,346.0 461.1,347.6 461.6,348.5 462.1,351.0 462.6,353.2 463.1,354.8 463.6,357.8 464.1,359.2 464.6,361.1 465.1,363.2 465.6,364.8 466.1,366.2 466.6,368.1 467.1,369.9 467.6,371.5 468.1,372.6 468.6,374.6 469.1,376.1 469.6,376.5 470.1,377.5 470.6,378.3 471.1,379.2 471.6,379.6 472.1,379.1 472.6,380.9 473.1,380.4 473.6,379.3 474.1,379.7 474.6,379.6 475.1,380.8 475.6,379.6 476.1,379.5 476.6,379.3 477.1,378.2 477.6,378.0 478.1,376.9 478.6,376.2 479.1,375.1 479.6,374.3 480.1,372.2 480.6,371.4 481.1,369.7 481.6,368.0 482.1,365.7 482.6,363.6 483.1,361.6 483.6,359.2 484.1,357.2 484.6,354.2 485.1,352.3 485.6,349.5 486.1,346.3 486.6,344.3 487.1,341.7 487.6,338.5 488.1,335.4 488.6,332.6 489.1,330.2 489.6,327.7 490.1,325.0 490.6,322.4 491.1,319.5 491.6,317.4 492.1,314.9 492.6,312.6 493.1,310.7 493.6,309.7 494.1,306.4 494.6,305.2 495.1,303.6 495.6,301.6 496.1,301.1 496.6,299.1 497.1,297.9 497.6,296.8 498.1,296.0 498.6,295.1 499.1,293.8 499.6,293.9 500.1,293.0 500.6,292.9 501.1,292.4 501.6,291.3 502.1,290.9 502.6,291.3 503.1,290.5 503.6,290.2 504.1,290.0 504.6,290.0 505.1,289.6 505.6,289.7 506.1,290.1 506.6,290.3 507.1,289.5 507.6,290.1 508.1,290.0 508.6,289.8 509.1,290.4 509.6,290.4 510.1,290.1 510.6,289.5 511.1,289.6 511.6,290.5 512.1,290.1 512.6,290.3 513.1,290.8 513.6,290.6 514.1,290.4 514.6,290.8 515.1,290.7 515.6,290.5 516.1,290.1 516.6,291.1 517.1,290.3 517.6,290.6 518.1,291.0 518.6,291.1 519.1,291.2 519.6,290.7 520.1,290.9 520.6,291.0 521.1,290.5 521.6,290.8 522.1,290.8 522.6,291.0 523.1,291.3 523.6,291.2 524.1,291.3 524.6,291.1 525.1,291.3 525.6,291.3 526.1,291.6 526.6,292.0 527.1,291.4 527.6,291.5 528.1,291.8 528.6,291.6 529.1,292.1 529.6,292.5 530.1,292.1 530.6,292.5 531.1,292.9 531.6,292.7 532.1,291.9 532.6,292.5 533.1,292.6 533.6,292.5 534.1,292.7 534.6,292.5 535.1,292.2 535.6,292.3 536.1,292.2 536.6,293.1 537.1,292.6 537.6,293.4 538.1,293.0 538.6,293.3 539.1,294.0 539.6,292.9 540.1,293.6 540.6,293.4 541.1,293.6 541.6,293.6 542.1,294.0 542.6,293.9 543.1,294.2 543.6,293.6 544.1,294.5 544.6,294.1 545.1,293.9 545.6,294.4 546.1,294.8 546.6,294.7 547.1,294.7 547.6,294.9 548.1,295.1 548.6,294.7 549.1,295.2 549.6,294.9 550.1,295.6 550.6,295.1 551.1,295.9 551.6,295.5 552.1,295.6 552.6,295.6 553.1,295.4 553.6,295.7 554.1,296.7 554.6,296.1 555.1,296.6 555.6,296.5 556.1,296.4 556.6,296.3 557.1,297.1 557.6,297.4 558.1,297.0 558.6,296.9 559.1,298.5 559.6,297.7 560.1,297.7 560.6,298.1 561.1,298.5 561.6,298.9 562.1,299.5 562.6,299.1 563.1,298.9 563.6,299.5 564.1,300.1 564.6,299.7 565.1,300.4 565.6,299.9 566.1,300.8 566.6,301.0 567.1,301.6 567.6,301.2 568.1,301.7 568.6,302.5 569.1,302.5 569.6,302.3 570.1,302.5 570.6,302.9 571.1,303.3 571.6,303.5 572.1,304.3 572.6,304.3 573.1,305.2 573.6,304.7 574.1,305.6 574.6,305.9 575.1,306.1 575.6,306.3 576.1,307.2 576.6,306.6 577.1,307.1 577.6,308.0 578.1,309.3 578.6,309.1 579.1,308.8 579.6,310.1 580.1,310.2 580.6,310.1 581.1,310.3 581.6,311.3 582.1,311.6 582.6,312.5 583.1,312.3 583.6,313.3 584.1,314.0 584.6,313.9 585.1,314.3 585.6,315.5 586.1,315.4 586.6,316.4 587.1,317.3 587.6,317.2 588.1,318.0 588.6,318.4 589.1,318.8 589.6,319.7 590.1,320.5 590.6,320.6 591.1,321.3 591.6,321.5 592.1,322.2 592.6,322.9 593.1,323.4 593.6,323.9 594.1,324.2 594.6,325.2 595.1,325.8 595.6,326.6 596.1,326.6 596.6,327.2 597.1,328.1 597.6,328.5 598.1,329.2 598.6,329.7 599.1,329.9 599.6,330.8 600.1,331.2 600.6,332.1 601.1,332.3 601.6,333.4 602.1,333.4 602.6,334.6 603.1,334.8 603.6,335.5 604.1,335.7 604.6,336.4 605.1,336.3 605.6,337.7 606.1,338.4 606.6,338.6 607.1,338.5 607.6,339.4 608.1,340.6 608.6,340.9 609.1,341.0 609.6,341.1 610.1,342.5 610.6,342.8 611.1,342.5 611.6,343.5 612.1,344.0 612.6,344.5 613.1,344.6 613.6,345.0 614.1,345.9 614.6,346.0 615.1,345.6 615.6,346.3 616.1,346.9 616.6,346.9 617.1,347.0 617.6,347.4 618.1,347.7 618.6,348.0 619.1,348.1 619.6,347.9 620.1,349.2 620.6,348.9 621.1,349.1 621.6,349.1 622.1,348.7 622.6,349.4 623.1,349.6 623.6,349.8 624.1,350.2 624.6,349.7 625.1,350.4 625.6,349.6 626.1,350.0 626.6,349.0 627.1,350.2 627.6,349.5 628.1,349.1 628.6,349.1 629.1,349.0 629.6,349.5 630.1,348.6 630.6,348.1 631.1,348.3 631.6,347.5 632.1,347.2 632.6,347.2 633.1,346.4 633.6,346.1 634.1,345.9 634.6,345.0 635.1,345.0 635.6,344.5 636.1,343.7 636.6,343.3 637.1,342.9 637.6,342.0 638.1,341.7 638.6,341.5 639.1,341.1 639.6,340.1 640.1,340.0 640.6,339.3 641.1,338.5 641.6,338.4 642.1,337.5 642.6,338.0 643.1,336.7 643.6,336.3 644.1,335.3 644.6,335.1 645.1,334.8 645.6,334.7 646.1,333.6 646.6,333.6 647.1,332.2 647.6,332.2 648.1,331.9 648.6,331.3 649.1,330.8 649.6,330.6 650.1,329.4 650.6,329.2 651.1,329.8 651.6,329.2 652.1,328.5 652.6,327.3 653.1,327.7 653.6,326.6 654.1,326.9 654.6,326.4 655.1,325.7 655.6,326.2 656.1,325.4 656.6,325.1 657.1,324.6 657.6,323.9 658.1,323.6 658.6,323.7 659.1,323.5 659.6,323.4 660.1,323.0 660.6,322.4 661.1,321.6 661.6,322.0 662.1,321.5 662.6,321.2 663.1,321.3 663.6,321.0 664.1,321.0 664.6,320.4 665.1,320.4 665.6,320.6 666.1,320.3 666.6,319.4 667.1,319.3 667.6,318.7 668.1,318.9 668.6,318.1 669.1,318.0 669.6,318.5 670.1,318.5 670.6,318.5 671.1,317.9 671.6,317.8 672.1,317.9 672.6,318.1 673.1,317.0 673.6,316.8 674.1,317.0 674.6,316.3 675.1,316.8 675.6,316.8 676.1,316.5 676.6,316.4 677.1,316.3" fill="none" stroke="#f7567f" stroke-width="1.05" stroke-linejoin="round" stroke-linecap="round"/>
<polyline points="424.6,286.8 425.1,287.1 425.6,287.0 426.1,287.3 426.6,287.6 427.1,288.1 427.6,287.8 428.1,288.1 428.6,289.2 429.1,288.4 429.6,288.5 430.1,289.2 430.6,289.8 431.1,289.4 431.6,290.1 432.1,290.1 432.6,290.5 433.1,290.0 433.6,291.2 434.1,291.9 434.6,291.9 435.1,291.8 435.6,292.7 436.1,292.5 436.6,293.0 437.1,293.7 437.6,294.1 438.1,294.4 438.6,295.4 439.1,295.5 439.6,295.3 440.1,297.0 440.6,297.2 441.1,297.3 441.6,297.6 442.1,298.9 442.6,299.8 443.1,300.7 443.6,301.2 444.1,301.4 444.6,302.1 445.1,303.5 445.6,304.6 446.1,305.1 446.6,306.3 447.1,307.7 447.6,307.9 448.1,309.2 448.6,311.1 449.1,311.7 449.6,312.8 450.1,313.9 450.6,315.0 451.1,316.2 451.6,317.8 452.1,319.7 452.6,321.4 453.1,322.4 453.6,324.3 454.1,326.0 454.6,327.3 455.1,329.2 455.6,331.5 456.1,333.0 456.6,334.6 457.1,337.1 457.6,338.7 458.1,340.6 458.6,342.8 459.1,345.0 459.6,346.7 460.1,349.6 460.6,351.3 461.1,353.2 461.6,355.7 462.1,358.5 462.6,359.7 463.1,362.3 463.6,364.3 464.1,366.0 464.6,368.2 465.1,370.3 465.6,372.1 466.1,374.0 466.6,376.2 467.1,378.0 467.6,378.7 468.1,380.7 468.6,382.8 469.1,383.2 469.6,384.5 470.1,385.3 470.6,386.6 471.1,387.2 471.6,387.5 472.1,387.9 472.6,388.1 473.1,387.9 473.6,387.7 474.1,387.4 474.6,387.2 475.1,386.9 475.6,387.2 476.1,386.5 476.6,386.2 477.1,385.6 477.6,385.5 478.1,383.7 478.6,382.5 479.1,381.6 479.6,380.1 480.1,378.7 480.6,376.8 481.1,375.8 481.6,373.5 482.1,371.4 482.6,369.2 483.1,366.7 483.6,364.1 484.1,361.6 484.6,359.2 485.1,357.1 485.6,354.3 486.1,350.7 486.6,348.7 487.1,346.2 487.6,342.5 488.1,339.8 488.6,337.1 489.1,334.2 489.6,331.0 490.1,328.4 490.6,325.9 491.1,323.1 491.6,320.5 492.1,318.4 492.6,316.3 493.1,312.8 493.6,311.4 494.1,309.6 494.6,307.9 495.1,305.8 495.6,303.9 496.1,303.1 496.6,301.5 497.1,300.1 497.6,299.0 498.1,297.8 498.6,297.5 499.1,296.2 499.6,294.8 500.1,294.9 500.6,293.6 501.1,293.4 501.6,293.0 502.1,292.1 502.6,291.9 503.1,292.3 503.6,291.7 504.1,292.0 504.6,290.7 505.1,291.5 505.6,291.0 506.1,291.3 506.6,291.0 507.1,290.6 507.6,290.5 508.1,291.3 508.6,290.3 509.1,290.4 509.6,291.3 510.1,291.4 510.6,291.0 511.1,290.5 511.6,291.6 512.1,290.7 512.6,291.4 513.1,291.7 513.6,290.8 514.1,290.9 514.6,291.1 515.1,291.3 515.6,292.0 516.1,291.4 516.6,291.8 517.1,292.4 517.6,291.2 518.1,291.3 518.6,291.6 519.1,291.7 519.6,292.1 520.1,291.7 520.6,292.2 521.1,292.4 521.6,292.1 522.1,292.3 522.6,292.3 523.1,292.0 523.6,292.8 524.1,293.0 524.6,293.0 525.1,292.5 525.6,292.5 526.1,292.8 526.6,292.5 527.1,292.8 527.6,292.8 528.1,293.1 528.6,292.7 529.1,293.4 529.6,293.2 530.1,293.0 530.6,293.7 531.1,293.4 531.6,293.3 532.1,293.3 532.6,293.8 533.1,293.3 533.6,294.1 534.1,294.3 534.6,294.2 535.1,294.0 535.6,293.7 536.1,294.3 536.6,294.1 537.1,293.9 537.6,294.8 538.1,294.3 538.6,294.5 539.1,294.7 539.6,295.3 540.1,294.7 540.6,294.3 541.1,294.7 541.6,294.8 542.1,294.5 542.6,295.5 543.1,296.1 543.6,295.7 544.1,295.2 544.6,295.8 545.1,295.3 545.6,296.2 546.1,295.6 546.6,295.7 547.1,296.3 547.6,296.3 548.1,296.5 548.6,296.7 549.1,296.9 549.6,296.6 550.1,296.4 550.6,296.4 551.1,297.1 551.6,297.8 552.1,297.6 552.6,297.5 553.1,297.8 553.6,298.1 554.1,297.5 554.6,298.4 555.1,298.3 555.6,298.1 556.1,298.3 556.6,298.4 557.1,299.0 557.6,299.8 558.1,298.7 558.6,299.2 559.1,299.0 559.6,299.5 560.1,299.4 560.6,300.3 561.1,300.3 561.6,300.3 562.1,300.6 562.6,301.3 563.1,301.3 563.6,301.0 564.1,301.5 564.6,301.2 565.1,302.0 565.6,301.8 566.1,302.3 566.6,303.1 567.1,303.0 567.6,303.2 568.1,303.7 568.6,303.9 569.1,304.2 569.6,304.1 570.1,305.3 570.6,305.5 571.1,305.7 571.6,305.8 572.1,305.8 572.6,307.2 573.1,307.1 573.6,306.6 574.1,307.8 574.6,307.7 575.1,308.6 575.6,308.0 576.1,309.1 576.6,309.3 577.1,310.3 577.6,310.8 578.1,310.8 578.6,311.9 579.1,312.1 579.6,312.8 580.1,312.4 580.6,313.1 581.1,313.2 581.6,314.1 582.1,314.9 582.6,315.4 583.1,316.1 583.6,316.7 584.1,316.6 584.6,317.5 585.1,318.1 585.6,319.0 586.1,318.9 586.6,319.2 587.1,320.0 587.6,320.4 588.1,321.3 588.6,322.0 589.1,323.3 589.6,323.0 590.1,323.8 590.6,323.6 591.1,325.1 591.6,325.4 592.1,325.9 592.6,326.2 593.1,327.5 593.6,327.4 594.1,328.6 594.6,329.3 595.1,329.6 595.6,331.1 596.1,331.2 596.6,331.3 597.1,333.0 597.6,333.9 598.1,333.2 598.6,334.3 599.1,335.1 599.6,335.6 600.1,336.6 600.6,336.9 601.1,337.6 601.6,338.4 602.1,338.3 602.6,339.3 603.1,339.2 603.6,340.2 604.1,340.8 604.6,341.5 605.1,342.5 605.6,342.7 606.1,343.6 606.6,343.8 607.1,343.8 607.6,344.8 608.1,345.4 608.6,346.0 609.1,346.9 609.6,347.2 610.1,347.8 610.6,347.7 611.1,348.9 611.6,349.7 612.1,349.5 612.6,350.3 613.1,350.4 613.6,350.8 614.1,351.2 614.6,351.8 615.1,351.6 615.6,352.5 616.1,352.5 616.6,353.4 617.1,353.1 617.6,353.6 618.1,353.6 618.6,354.3 619.1,354.8 619.6,353.8 620.1,354.9 620.6,354.9 621.1,355.2 621.6,355.2 622.1,355.2 622.6,356.0 623.1,355.7 623.6,355.5 624.1,355.6 624.6,355.5 625.1,356.3 625.6,356.1 626.1,355.3 626.6,355.5 627.1,355.7 627.6,355.6 628.1,355.3 628.6,354.9 629.1,355.0 629.6,354.7 630.1,354.1 630.6,354.2 631.1,353.4 631.6,352.9 632.1,352.7 632.6,353.2 633.1,351.9 633.6,351.6 634.1,350.9 634.6,350.9 635.1,349.9 635.6,349.3 636.1,349.0 636.6,348.1 637.1,347.7 637.6,348.0 638.1,347.3 638.6,346.7 639.1,345.9 639.6,345.6 640.1,344.4 640.6,344.4 641.1,343.8 641.6,342.8 642.1,342.4 642.6,341.8 643.1,342.0 643.6,340.7 644.1,340.0 644.6,340.3 645.1,339.6 645.6,338.4 646.1,338.5 646.6,337.9 647.1,337.5 647.6,336.5 648.1,336.3 648.6,335.5 649.1,335.8 649.6,334.2 650.1,333.9 650.6,333.7 651.1,333.1 651.6,332.7 652.1,332.7 652.6,332.0 653.1,331.6 653.6,331.7 654.1,330.3 654.6,331.0 655.1,329.5 655.6,329.3 656.1,329.3 656.6,329.1 657.1,328.4 657.6,328.7 658.1,326.7 658.6,327.6 659.1,327.4 659.6,327.4 660.1,326.8 660.6,326.4 661.1,326.3 661.6,325.3 662.1,324.9 662.6,325.0 663.1,324.6 663.6,323.8 664.1,324.1 664.6,324.1 665.1,324.0 665.6,323.8 666.1,323.2 666.6,323.0 667.1,322.5 667.6,322.6 668.1,321.6 668.6,322.5 669.1,321.8 669.6,321.9 670.1,321.8 670.6,321.7 671.1,321.4 671.6,321.8 672.1,320.6 672.6,320.5 673.1,320.6 673.6,320.5 674.1,320.3 674.6,320.3 675.1,319.8 675.6,320.9 676.1,320.2 676.6,319.5 677.1,319.6" fill="none" stroke="#f65275" stroke-width="1.05" stroke-linejoin="round" stroke-linecap="round"/>
<polyline points="424.6,288.1 425.1,288.0 425.6,288.8 426.1,288.2 426.6,289.3 427.1,289.2 427.6,289.3 428.1,290.1 428.6,289.5 429.1,290.5 429.6,290.4 430.1,291.0 430.6,291.1 431.1,291.4 431.6,291.7 432.1,292.3 432.6,291.9 433.1,292.4 433.6,293.2 434.1,293.4 434.6,293.6 435.1,293.8 435.6,294.3 436.1,294.2 436.6,295.3 437.1,296.0 437.6,296.1 438.1,296.8 438.6,297.2 439.1,297.8 439.6,298.5 440.1,298.4 440.6,299.1 441.1,300.3 441.6,300.3 442.1,301.8 442.6,301.9 443.1,303.2 443.6,304.0 444.1,304.4 444.6,305.4 445.1,305.7 445.6,307.7 446.1,308.1 446.6,308.9 447.1,311.0 447.6,311.4 448.1,313.1 448.6,314.0 449.1,315.3 449.6,316.7 450.1,317.2 450.6,319.4 451.1,321.3 451.6,321.9 452.1,324.1 452.6,325.8 453.1,327.0 453.6,328.6 454.1,331.2 454.6,332.9 455.1,335.3 455.6,336.7 456.1,338.8 456.6,341.0 457.1,343.4 457.6,345.4 458.1,348.1 458.6,349.9 459.1,352.4 459.6,354.4 460.1,356.5 460.6,359.0 461.1,361.7 461.6,363.0 462.1,366.6 462.6,368.1 463.1,370.8 463.6,372.5 464.1,375.6 464.6,377.9 465.1,379.8 465.6,381.7 466.1,383.9 466.6,385.7 467.1,387.6 467.6,389.6 468.1,391.0 468.6,392.8 469.1,393.6 469.6,394.6 470.1,395.2 470.6,396.0 471.1,396.7 471.6,396.3 472.1,397.3 472.6,396.9 473.1,397.4 473.6,397.1 474.1,397.2 474.6,396.3 475.1,396.5 475.6,395.9 476.1,394.5 476.6,394.1 477.1,393.9 477.6,392.6 478.1,391.8 478.6,389.9 479.1,389.6 479.6,387.9 480.1,386.4 480.6,384.0 481.1,382.3 481.6,380.2 482.1,378.3 482.6,375.8 483.1,372.9 483.6,371.7 484.1,368.4 484.6,365.9 485.1,362.5 485.6,359.6 486.1,356.2 486.6,353.2 487.1,350.6 487.6,347.2 488.1,345.1 488.6,341.8 489.1,338.7 489.6,336.1 490.1,332.8 490.6,329.4 491.1,327.6 491.6,325.2 492.1,322.1 492.6,319.5 493.1,316.9 493.6,315.7 494.1,312.6 494.6,311.4 495.1,308.6 495.6,307.0 496.1,305.6 496.6,304.4 497.1,303.2 497.6,301.7 498.1,299.9 498.6,298.7 499.1,298.5 499.6,297.8 500.1,296.5 500.6,295.6 501.1,295.5 501.6,294.2 502.1,293.9 502.6,293.6 503.1,293.0 503.6,293.0 504.1,293.2 504.6,293.2 505.1,292.8 505.6,292.4 506.1,292.6 506.6,292.1 507.1,292.4 507.6,292.5 508.1,292.7 508.6,292.4 509.1,292.0 509.6,292.6 510.1,292.4 510.6,292.7 511.1,292.3 511.6,292.0 512.1,292.3 512.6,292.5 513.1,292.6 513.6,292.0 514.1,293.2 514.6,292.6 515.1,292.6 515.6,292.5 516.1,292.7 516.6,293.3 517.1,293.9 517.6,292.9 518.1,293.7 518.6,293.0 519.1,293.5 519.6,293.4 520.1,294.1 520.6,293.1 521.1,292.9 521.6,293.8 522.1,294.1 522.6,293.8 523.1,293.6 523.6,293.9 524.1,294.2 524.6,293.7 525.1,294.3 525.6,294.4 526.1,294.9 526.6,294.5 527.1,294.9 527.6,294.1 528.1,294.7 528.6,295.0 529.1,294.8 529.6,295.3 530.1,295.6 530.6,294.7 531.1,295.4 531.6,294.8 532.1,295.2 532.6,295.5 533.1,295.7 533.6,295.5 534.1,295.6 534.6,295.2 535.1,295.4 535.6,296.0 536.1,295.9 536.6,295.9 537.1,295.4 537.6,296.3 538.1,295.6 538.6,296.8 539.1,297.1 539.6,296.1 540.1,296.4 540.6,296.7 541.1,296.1 541.6,297.1 542.1,296.1 542.6,297.0 543.1,296.9 543.6,297.4 544.1,296.9 544.6,297.2 545.1,298.3 545.6,297.5 546.1,297.9 546.6,297.4 547.1,297.8 547.6,297.8 548.1,298.0 548.6,298.5 549.1,298.4 549.6,298.6 550.1,299.1 550.6,299.0 551.1,299.0 551.6,299.2 552.1,299.7 552.6,299.2 553.1,299.3 553.6,300.0 554.1,300.2 554.6,300.3 555.1,300.4 555.6,300.6 556.1,301.1 556.6,300.4 557.1,300.7 557.6,301.1 558.1,301.5 558.6,301.9 559.1,301.7 559.6,302.0 560.1,302.1 560.6,302.6 561.1,302.9 561.6,303.1 562.1,303.5 562.6,303.8 563.1,303.5 563.6,304.2 564.1,303.4 564.6,304.2 565.1,304.8 565.6,305.4 566.1,305.3 566.6,305.7 567.1,305.7 567.6,306.6 568.1,306.2 568.6,306.4 569.1,306.8 569.6,307.0 570.1,308.2 570.6,308.8 571.1,308.9 571.6,308.9 572.1,309.0 572.6,309.8 573.1,310.3 573.6,309.8 574.1,311.2 574.6,311.1 575.1,311.6 575.6,311.8 576.1,313.1 576.6,313.5 577.1,313.5 577.6,313.9 578.1,315.2 578.6,314.5 579.1,315.4 579.6,315.5 580.1,316.9 580.6,316.4 581.1,317.7 581.6,318.5 582.1,318.0 582.6,319.3 583.1,320.0 583.6,320.6 584.1,321.0 584.6,321.8 585.1,321.8 585.6,323.4 586.1,323.5 586.6,323.9 587.1,324.5 587.6,325.4 588.1,325.9 588.6,327.0 589.1,327.0 589.6,327.7 590.1,328.8 590.6,329.3 591.1,330.2 591.6,330.7 592.1,331.0 592.6,331.4 593.1,332.8 593.6,333.4 594.1,334.3 594.6,334.4 595.1,335.6 595.6,336.2 596.1,336.6 596.6,337.6 597.1,337.6 597.6,339.6 598.1,339.2 598.6,339.9 599.1,341.5 599.6,341.7 600.1,342.7 600.6,342.8 601.1,343.5 601.6,344.8 602.1,345.0 602.6,345.9 603.1,346.4 603.6,348.0 604.1,348.0 604.6,349.1 605.1,349.4 605.6,349.3 606.1,350.5 606.6,351.1 607.1,352.1 607.6,352.5 608.1,352.9 608.6,353.0 609.1,353.8 609.6,354.7 610.1,354.8 610.6,355.3 611.1,355.6 611.6,356.1 612.1,356.9 612.6,357.3 613.1,357.8 613.6,358.4 614.1,358.5 614.6,358.7 615.1,359.4 615.6,360.1 616.1,360.0 616.6,360.8 617.1,360.4 617.6,361.3 618.1,361.2 618.6,361.7 619.1,362.0 619.6,362.8 620.1,362.3 620.6,363.0 621.1,363.0 621.6,363.4 622.1,363.2 622.6,363.8 623.1,363.0 623.6,363.8 624.1,363.8 624.6,363.7 625.1,364.1 625.6,363.5 626.1,364.0 626.6,363.6 627.1,363.0 627.6,363.3 628.1,363.3 628.6,363.3 629.1,362.9 629.6,362.3 630.1,361.6 630.6,361.4 631.1,360.5 631.6,361.2 632.1,360.8 632.6,360.1 633.1,359.2 633.6,359.1 634.1,357.8 634.6,358.2 635.1,357.3 635.6,356.8 636.1,355.6 636.6,355.7 637.1,354.3 637.6,353.9 638.1,354.0 638.6,353.3 639.1,351.9 639.6,351.8 640.1,350.9 640.6,350.5 641.1,350.1 641.6,349.9 642.1,348.6 642.6,347.9 643.1,347.7 643.6,346.9 644.1,346.6 644.6,345.3 645.1,345.1 645.6,345.0 646.1,343.7 646.6,342.9 647.1,343.2 647.6,342.0 648.1,342.0 648.6,340.8 649.1,340.4 649.6,340.4 650.1,339.4 650.6,338.4 651.1,337.9 651.6,337.9 652.1,337.2 652.6,336.9 653.1,336.7 653.6,336.4 654.1,336.0 654.6,334.9 655.1,334.7 655.6,334.2 656.1,333.8 656.6,333.0 657.1,333.1 657.6,333.4 658.1,332.0 658.6,331.7 659.1,331.7 659.6,331.3 660.1,330.5 660.6,331.1 661.1,330.8 661.6,330.0 662.1,330.1 662.6,329.1 663.1,329.4 663.6,328.1 664.1,328.4 664.6,328.1 665.1,327.7 665.6,327.9 666.1,327.6 666.6,327.9 667.1,327.3 667.6,326.1 668.1,326.5 668.6,326.1 669.1,326.2 669.6,326.4 670.1,326.0 670.6,325.7 671.1,325.6 671.6,325.4 672.1,325.3 672.6,325.1 673.1,324.6 673.6,324.5 674.1,324.2 674.6,324.4 675.1,324.2 675.6,324.3 676.1,324.2 676.6,324.5 677.1,323.8" fill="none" stroke="#f54d69" stroke-width="1.05" stroke-linejoin="round" stroke-linecap="round"/>
<polyline points="424.6,289.2 425.1,288.6 425.6,290.2 426.1,289.8 426.6,290.5 427.1,290.9 427.6,290.5 428.1,291.4 428.6,290.6 429.1,291.9 429.6,291.9 430.1,291.8 430.6,292.9 431.1,293.2 431.6,293.7 432.1,293.2 432.6,294.4 433.1,293.6 433.6,294.7 434.1,295.0 434.6,295.2 435.1,296.1 435.6,296.6 436.1,296.2 436.6,297.3 437.1,297.5 437.6,298.5 438.1,298.6 438.6,299.8 439.1,299.4 439.6,301.0 440.1,301.7 440.6,301.8 441.1,302.6 441.6,302.7 442.1,304.2 442.6,304.7 443.1,305.4 443.6,306.6 444.1,307.7 444.6,308.2 445.1,309.5 445.6,310.3 446.1,311.9 446.6,312.1 447.1,313.7 447.6,314.2 448.1,316.4 448.6,317.7 449.1,319.4 449.6,320.0 450.1,321.6 450.6,323.0 451.1,325.4 451.6,327.4 452.1,328.0 452.6,330.0 453.1,331.8 453.6,333.6 454.1,336.1 454.6,337.9 455.1,339.9 455.6,342.3 456.1,344.5 456.6,345.9 457.1,349.2 457.6,350.5 458.1,353.8 458.6,355.7 459.1,358.7 459.6,360.6 460.1,363.7 460.6,366.4 461.1,369.1 461.6,370.9 462.1,373.8 462.6,376.1 463.1,379.0 463.6,381.4 464.1,383.3 464.6,386.6 465.1,388.8 465.6,390.6 466.1,392.8 466.6,394.7 467.1,396.4 467.6,398.6 468.1,400.0 468.6,401.3 469.1,402.9 469.6,403.6 470.1,404.6 470.6,404.7 471.1,405.5 471.6,404.5 472.1,404.9 472.6,405.5 473.1,405.2 473.6,404.9 474.1,404.6 474.6,404.2 475.1,404.3 475.6,403.4 476.1,402.4 476.6,402.2 477.1,401.4 477.6,400.3 478.1,399.1 478.6,397.8 479.1,395.9 479.6,394.2 480.1,392.9 480.6,391.2 481.1,388.3 481.6,386.6 482.1,384.1 482.6,380.7 483.1,378.3 483.6,375.8 484.1,372.9 484.6,371.0 485.1,367.2 485.6,364.6 486.1,361.4 486.6,358.7 487.1,354.7 487.6,352.5 488.1,348.6 488.6,345.5 489.1,342.8 489.6,340.1 490.1,336.5 490.6,334.2 491.1,331.0 491.6,328.0 492.1,325.3 492.6,322.9 493.1,321.1 493.6,317.4 494.1,316.2 494.6,313.7 495.1,311.6 495.6,310.0 496.1,308.5 496.6,306.0 497.1,305.5 497.6,304.1 498.1,303.2 498.6,300.8 499.1,300.9 499.6,299.2 500.1,298.1 500.6,298.1 501.1,297.3 501.6,295.9 502.1,295.2 502.6,295.0 503.1,295.1 503.6,295.3 504.1,294.8 504.6,294.2 505.1,293.9 505.6,294.1 506.1,293.6 506.6,293.6 507.1,294.0 507.6,293.3 508.1,294.0 508.6,293.5 509.1,294.1 509.6,293.8 510.1,293.8 510.6,293.5 511.1,293.3 511.6,293.4 512.1,294.0 512.6,293.8 513.1,294.2 513.6,294.1 514.1,294.0 514.6,293.7 515.1,293.7 515.6,294.1 516.1,294.1 516.6,294.5 517.1,294.4 517.6,294.3 518.1,293.9 518.6,294.2 519.1,295.4 519.6,294.9 520.1,294.8 520.6,294.9 521.1,294.7 521.6,295.0 522.1,294.6 522.6,295.2 523.1,295.7 523.6,295.4 524.1,294.8 524.6,295.7 525.1,295.6 525.6,295.6 526.1,295.8 526.6,295.3 527.1,296.3 527.6,295.6 528.1,296.1 528.6,296.2 529.1,295.7 529.6,296.2 530.1,295.7 530.6,295.8 531.1,296.3 531.6,297.1 532.1,296.8 532.6,296.3 533.1,296.9 533.6,297.5 534.1,296.5 534.6,297.0 535.1,297.0 535.6,297.2 536.1,297.4 536.6,297.3 537.1,297.4 537.6,297.7 538.1,297.9 538.6,298.0 539.1,297.9 539.6,298.1 540.1,298.6 540.6,298.4 541.1,298.0 541.6,298.0 542.1,298.3 542.6,298.9 543.1,298.9 543.6,298.7 544.1,298.8 544.6,299.0 545.1,298.8 545.6,298.8 546.1,299.1 546.6,298.8 547.1,299.4 547.6,299.6 548.1,299.9 548.6,300.0 549.1,300.3 549.6,300.5 550.1,300.1 550.6,300.3 551.1,300.7 551.6,300.7 552.1,301.3 552.6,301.5 553.1,300.9 553.6,301.8 554.1,301.2 554.6,301.7 555.1,302.2 555.6,302.7 556.1,302.9 556.6,302.1 557.1,302.6 557.6,303.4 558.1,303.4 558.6,303.7 559.1,303.5 559.6,304.5 560.1,304.7 560.6,304.4 561.1,305.1 561.6,304.9 562.1,304.9 562.6,305.5 563.1,305.8 563.6,306.2 564.1,306.3 564.6,306.5 565.1,307.1 565.6,307.1 566.1,307.4 566.6,307.7 567.1,307.9 567.6,308.5 568.1,308.3 568.6,309.1 569.1,310.0 569.6,309.8 570.1,310.5 570.6,310.3 571.1,311.3 571.6,311.9 572.1,312.2 572.6,311.8 573.1,312.5 573.6,313.4 574.1,313.6 574.6,314.4 575.1,314.3 575.6,315.5 576.1,315.5 576.6,315.6 577.1,316.9 577.6,316.6 578.1,317.7 578.6,317.7 579.1,318.8 579.6,319.1 580.1,319.9 580.6,321.3 581.1,321.1 581.6,321.4 582.1,322.2 582.6,322.4 583.1,323.2 583.6,324.2 584.1,325.0 584.6,325.1 585.1,326.8 585.6,326.4 586.1,327.5 586.6,327.9 587.1,328.8 587.6,329.3 588.1,330.1 588.6,330.9 589.1,331.5 589.6,332.3 590.1,332.8 590.6,333.5 591.1,334.3 591.6,335.1 592.1,335.9 592.6,336.8 593.1,337.2 593.6,338.8 594.1,338.8 594.6,339.5 595.1,339.9 595.6,340.7 596.1,341.7 596.6,343.2 597.1,343.2 597.6,343.9 598.1,345.2 598.6,345.6 599.1,346.9 599.6,346.5 600.1,348.1 600.6,348.8 601.1,348.9 601.6,350.1 602.1,350.4 602.6,351.6 603.1,352.5 603.6,352.7 604.1,353.1 604.6,353.3 605.1,354.4 605.6,355.6 606.1,356.4 606.6,356.4 607.1,357.8 607.6,359.3 608.1,359.5 608.6,360.4 609.1,360.6 609.6,361.4 610.1,361.2 610.6,362.3 611.1,362.3 611.6,362.3 612.1,363.5 612.6,363.9 613.1,364.5 613.6,365.1 614.1,365.3 614.6,365.9 615.1,365.7 615.6,366.5 616.1,366.8 616.6,367.3 617.1,368.1 617.6,367.7 618.1,368.8 618.6,369.1 619.1,368.3 619.6,369.1 620.1,369.8 620.6,369.7 621.1,369.8 621.6,369.7 622.1,369.9 622.6,370.5 623.1,370.5 623.6,370.6 624.1,370.6 624.6,370.3 625.1,371.2 625.6,370.3 626.1,370.8 626.6,370.3 627.1,370.7 627.6,370.0 628.1,369.2 628.6,369.5 629.1,369.1 629.6,369.3 630.1,367.8 630.6,367.5 631.1,367.1 631.6,367.5 632.1,366.2 632.6,366.4 633.1,365.7 633.6,364.3 634.1,364.7 634.6,364.2 635.1,362.6 635.6,362.3 636.1,362.1 636.6,361.4 637.1,360.7 637.6,360.2 638.1,359.7 638.6,358.4 639.1,357.8 639.6,358.0 640.1,357.0 640.6,355.7 641.1,356.5 641.6,355.1 642.1,353.6 642.6,353.0 643.1,353.1 643.6,352.7 644.1,351.3 644.6,350.8 645.1,350.2 645.6,348.9 646.1,349.3 646.6,348.7 647.1,348.2 647.6,347.0 648.1,346.2 648.6,346.1 649.1,346.0 649.6,344.8 650.1,344.4 650.6,343.8 651.1,342.5 651.6,342.9 652.1,342.5 652.6,341.3 653.1,340.3 653.6,340.5 654.1,340.4 654.6,339.9 655.1,339.6 655.6,338.4 656.1,338.6 656.6,337.7 657.1,337.2 657.6,336.5 658.1,337.2 658.6,336.1 659.1,335.8 659.6,334.9 660.1,335.5 660.6,334.9 661.1,334.4 661.6,334.5 662.1,333.6 662.6,333.4 663.1,332.9 663.6,332.7 664.1,332.7 664.6,332.0 665.1,332.9 665.6,331.6 666.1,330.8 666.6,331.4 667.1,330.7 667.6,330.7 668.1,330.7 668.6,329.9 669.1,330.2 669.6,329.1 670.1,330.4 670.6,329.7 671.1,329.3 671.6,328.8 672.1,328.6 672.6,329.0 673.1,328.4 673.6,328.0 674.1,327.9 674.6,327.8 675.1,327.8 675.6,328.1 676.1,327.6 676.6,327.3 677.1,327.3" fill="none" stroke="#f4485e" stroke-width="1.05" stroke-linejoin="round" stroke-linecap="round"/>
<polyline points="424.6,290.1 425.1,290.3 425.6,290.4 426.1,291.1 426.6,291.6 427.1,292.0 427.6,292.3 428.1,292.9 428.6,292.4 429.1,293.4 429.6,294.1 430.1,294.3 430.6,294.3 431.1,294.9 431.6,295.5 432.1,295.0 432.6,295.6 433.1,295.9 433.6,295.7 434.1,296.4 434.6,297.6 435.1,297.8 435.6,298.2 436.1,298.4 436.6,298.9 437.1,300.5 437.6,300.4 438.1,300.7 438.6,301.8 439.1,302.5 439.6,302.4 440.1,302.8 440.6,304.1 441.1,305.0 441.6,305.9 442.1,306.5 442.6,307.0 443.1,308.4 443.6,309.2 444.1,310.3 444.6,310.8 445.1,312.5 445.6,313.0 446.1,314.7 446.6,315.5 447.1,316.9 447.6,317.9 448.1,319.7 448.6,321.3 449.1,321.8 449.6,324.1 450.1,325.1 450.6,327.3 451.1,328.7 451.6,330.2 452.1,332.3 452.6,334.4 453.1,336.6 453.6,337.9 454.1,340.2 454.6,343.3 455.1,344.8 455.6,347.4 456.1,348.9 456.6,352.6 457.1,354.0 457.6,356.7 458.1,359.9 458.6,362.7 459.1,364.7 459.6,367.9 460.1,370.1 460.6,373.2 461.1,375.9 461.6,378.4 462.1,381.3 462.6,384.2 463.1,386.5 463.6,389.1 464.1,392.6 464.6,395.2 465.1,397.3 465.6,399.7 466.1,401.9 466.6,404.0 467.1,405.3 467.6,407.2 468.1,409.2 468.6,410.2 469.1,411.5 469.6,412.7 470.1,411.9 470.6,412.7 471.1,412.4 471.6,413.1 472.1,413.6 472.6,412.9 473.1,412.9 473.6,412.9 474.1,411.9 474.6,412.3 475.1,411.1 475.6,410.1 476.1,410.1 476.6,409.8 477.1,407.6 477.6,406.9 478.1,405.0 478.6,404.4 479.1,402.0 479.6,400.7 480.1,398.5 480.6,396.4 481.1,394.4 481.6,391.7 482.1,389.4 482.6,386.3 483.1,383.7 483.6,380.9 484.1,378.4 484.6,374.2 485.1,372.0 485.6,368.3 486.1,366.2 486.6,362.4 487.1,359.3 487.6,356.2 488.1,353.4 488.6,349.5 489.1,346.4 489.6,343.3 490.1,340.3 490.6,337.5 491.1,334.6 491.6,331.6 492.1,328.5 492.6,326.3 493.1,323.9 493.6,320.9 494.1,318.9 494.6,316.6 495.1,314.3 495.6,312.7 496.1,311.4 496.6,309.2 497.1,308.1 497.6,305.6 498.1,305.0 498.6,303.6 499.1,301.9 499.6,300.8 500.1,300.5 500.6,299.4 501.1,298.7 501.6,298.8 502.1,297.7 502.6,296.6 503.1,297.4 503.6,297.0 504.1,295.8 504.6,295.6 505.1,295.5 505.6,295.4 506.1,294.7 506.6,295.8 507.1,295.3 507.6,295.1 508.1,294.7 508.6,294.6 509.1,295.6 509.6,295.0 510.1,295.2 510.6,294.3 511.1,294.9 511.6,294.4 512.1,294.9 512.6,295.3 513.1,294.5 513.6,295.0 514.1,295.6 514.6,295.4 515.1,295.5 515.6,295.0 516.1,295.3 516.6,295.8 517.1,294.8 517.6,295.8 518.1,295.5 518.6,295.6 519.1,296.7 519.6,296.2 520.1,295.9 520.6,296.5 521.1,295.9 521.6,296.4 522.1,296.6 522.6,296.0 523.1,296.7 523.6,296.1 524.1,296.3 524.6,297.2 525.1,296.2 525.6,297.1 526.1,297.4 526.6,297.8 527.1,297.3 527.6,297.8 528.1,296.9 528.6,297.7 529.1,297.3 529.6,297.8 530.1,297.6 530.6,297.8 531.1,297.8 531.6,297.4 532.1,297.6 532.6,297.8 533.1,297.3 533.6,297.4 534.1,299.1 534.6,297.7 535.1,298.4 535.6,298.7 536.1,299.0 536.6,299.2 537.1,298.9 537.6,298.7 538.1,299.3 538.6,299.9 539.1,299.3 539.6,299.7 540.1,300.0 540.6,299.3 541.1,299.7 541.6,300.0 542.1,300.5 542.6,300.0 543.1,300.2 543.6,299.9 544.1,300.2 544.6,300.8 545.1,300.8 545.6,300.3 546.1,301.3 546.6,301.2 547.1,301.3 547.6,301.4 548.1,301.4 548.6,301.5 549.1,302.2 549.6,302.4 550.1,302.3 550.6,302.4 551.1,302.7 551.6,302.2 552.1,302.4 552.6,303.0 553.1,303.1 553.6,302.6 554.1,303.4 554.6,303.7 555.1,304.9 555.6,303.6 556.1,303.8 556.6,304.7 557.1,304.5 557.6,305.4 558.1,304.6 558.6,305.6 559.1,305.5 559.6,305.5 560.1,306.5 560.6,306.8 561.1,307.1 561.6,307.3 562.1,307.0 562.6,307.5 563.1,307.9 563.6,308.5 564.1,308.9 564.6,309.1 565.1,309.3 565.6,308.7 566.1,309.7 566.6,310.4 567.1,310.6 567.6,310.9 568.1,311.8 568.6,311.9 569.1,312.0 569.6,313.2 570.1,312.4 570.6,313.4 571.1,313.9 571.6,313.3 572.1,314.6 572.6,314.9 573.1,315.3 573.6,316.4 574.1,316.3 574.6,317.0 575.1,317.4 575.6,317.4 576.1,319.3 576.6,319.2 577.1,320.0 577.6,320.6 578.1,321.0 578.6,322.3 579.1,322.0 579.6,322.6 580.1,323.3 580.6,323.3 581.1,324.3 581.6,325.2 582.1,325.2 582.6,326.7 583.1,327.0 583.6,327.3 584.1,328.0 584.6,329.3 585.1,329.7 585.6,331.1 586.1,330.7 586.6,331.7 587.1,332.7 587.6,333.2 588.1,334.3 588.6,335.0 589.1,336.6 589.6,337.0 590.1,337.3 590.6,337.9 591.1,338.9 591.6,339.3 592.1,340.5 592.6,341.0 593.1,342.2 593.6,342.6 594.1,343.2 594.6,344.6 595.1,345.0 595.6,346.2 596.1,347.1 596.6,347.6 597.1,348.3 597.6,349.0 598.1,349.7 598.6,351.0 599.1,350.8 599.6,352.3 600.1,353.7 600.6,354.4 601.1,355.1 601.6,356.3 602.1,356.6 602.6,357.3 603.1,357.7 603.6,359.1 604.1,359.2 604.6,360.3 605.1,361.3 605.6,361.9 606.1,362.9 606.6,363.0 607.1,362.9 607.6,364.3 608.1,365.2 608.6,365.8 609.1,366.1 609.6,366.9 610.1,367.4 610.6,368.6 611.1,368.4 611.6,369.1 612.1,369.4 612.6,370.3 613.1,370.8 613.6,372.1 614.1,371.9 614.6,372.8 615.1,373.4 615.6,372.6 616.1,373.3 616.6,373.6 617.1,374.6 617.6,374.9 618.1,374.5 618.6,374.7 619.1,375.9 619.6,375.8 620.1,375.8 620.6,376.2 621.1,376.6 621.6,377.0 622.1,377.9 622.6,376.7 623.1,377.2 623.6,378.0 624.1,377.7 624.6,377.7 625.1,377.0 625.6,377.4 626.1,376.7 626.6,377.2 627.1,376.7 627.6,376.6 628.1,376.2 628.6,376.0 629.1,376.1 629.6,375.4 630.1,375.2 630.6,375.4 631.1,374.0 631.6,373.6 632.1,372.8 632.6,372.2 633.1,370.9 633.6,371.4 634.1,370.9 634.6,370.0 635.1,369.4 635.6,368.7 636.1,367.6 636.6,368.2 637.1,366.5 637.6,365.8 638.1,364.9 638.6,364.3 639.1,364.3 639.6,363.4 640.1,361.9 640.6,361.7 641.1,361.0 641.6,361.5 642.1,358.9 642.6,358.6 643.1,358.2 643.6,357.0 644.1,356.6 644.6,355.8 645.1,355.6 645.6,354.6 646.1,354.3 646.6,353.4 647.1,352.7 647.6,352.5 648.1,351.0 648.6,351.0 649.1,350.2 649.6,348.9 650.1,349.0 650.6,348.6 651.1,347.7 651.6,347.7 652.1,346.0 652.6,346.2 653.1,345.7 653.6,345.5 654.1,344.2 654.6,343.6 655.1,343.5 655.6,342.5 656.1,342.6 656.6,342.5 657.1,342.1 657.6,341.3 658.1,340.4 658.6,340.0 659.1,340.4 659.6,339.8 660.1,339.1 660.6,338.7 661.1,338.0 661.6,337.9 662.1,337.3 662.6,338.3 663.1,336.9 663.6,336.8 664.1,335.6 664.6,336.5 665.1,335.7 665.6,335.1 666.1,335.0 666.6,335.2 667.1,334.9 667.6,334.1 668.1,333.9 668.6,333.9 669.1,333.5 669.6,333.5 670.1,333.3 670.6,333.1 671.1,331.8 671.6,332.6 672.1,332.6 672.6,331.7 673.1,332.0 673.6,331.3 674.1,331.6 674.6,331.4 675.1,332.2 675.6,331.9 676.1,331.1 676.6,330.9 677.1,330.9" fill="none" stroke="#f34353" stroke-width="1.05" stroke-linejoin="round" stroke-linecap="round"/>
<polyline points="424.6,292.0 425.1,293.2 425.6,293.4 426.1,292.0 426.6,293.2 427.1,292.7 427.6,294.3 428.1,293.8 428.6,294.5 429.1,294.4 429.6,295.2 430.1,295.6 430.6,296.0 431.1,296.5 431.6,296.5 432.1,297.0 432.6,298.0 433.1,297.9 433.6,297.9 434.1,299.1 434.6,299.0 435.1,299.7 435.6,301.2 436.1,301.6 436.6,301.5 437.1,301.8 437.6,303.5 438.1,302.3 438.6,303.5 439.1,304.5 439.6,305.7 440.1,305.3 440.6,306.8 441.1,307.6 441.6,309.2 442.1,309.0 442.6,311.8 443.1,312.0 443.6,312.2 444.1,313.5 444.6,314.4 445.1,315.7 445.6,316.3 446.1,318.4 446.6,319.6 447.1,320.7 447.6,322.6 448.1,323.0 448.6,324.6 449.1,327.1 449.6,328.2 450.1,329.4 450.6,332.1 451.1,333.0 451.6,336.0 452.1,337.7 452.6,339.4 453.1,341.9 453.6,343.3 454.1,345.7 454.6,348.6 455.1,350.5 455.6,353.5 456.1,356.0 456.6,358.2 457.1,360.1 457.6,363.8 458.1,367.0 458.6,369.0 459.1,372.7 459.6,375.2 460.1,377.9 460.6,381.3 461.1,383.7 461.6,387.7 462.1,391.3 462.6,393.7 463.1,396.4 463.6,398.9 464.1,401.9 464.6,405.1 465.1,407.6 465.6,409.8 466.1,412.4 466.6,414.6 467.1,415.5 467.6,417.8 468.1,418.5 468.6,420.1 469.1,421.3 469.6,422.2 470.1,421.8 470.6,421.8 471.1,421.9 471.6,422.3 472.1,421.9 472.6,421.7 473.1,422.0 473.6,421.0 474.1,421.5 474.6,420.3 475.1,419.0 475.6,419.3 476.1,418.2 476.6,416.9 477.1,415.7 477.6,414.3 478.1,412.2 478.6,410.4 479.1,409.2 479.6,407.5 480.1,404.7 480.6,403.0 481.1,400.5 481.6,397.5 482.1,395.0 482.6,392.3 483.1,389.2 483.6,386.7 484.1,383.2 484.6,380.9 485.1,377.3 485.6,374.1 486.1,371.6 486.6,367.1 487.1,364.4 487.6,360.4 488.1,357.4 488.6,353.8 489.1,350.7 489.6,348.1 490.1,344.3 490.6,340.9 491.1,338.2 491.6,335.5 492.1,332.7 492.6,329.9 493.1,326.3 493.6,324.7 494.1,323.4 494.6,320.0 495.1,317.8 495.6,316.0 496.1,313.1 496.6,311.8 497.1,310.9 497.6,309.0 498.1,307.1 498.6,306.0 499.1,304.6 499.6,304.1 500.1,303.2 500.6,301.3 501.1,301.5 501.6,300.2 502.1,300.0 502.6,299.6 503.1,298.6 503.6,298.6 504.1,297.7 504.6,297.8 505.1,297.0 505.6,297.1 506.1,296.9 506.6,296.4 507.1,296.0 507.6,296.0 508.1,296.7 508.6,296.0 509.1,296.2 509.6,297.0 510.1,295.6 510.6,295.8 511.1,296.1 511.6,296.3 512.1,296.1 512.6,297.0 513.1,296.1 513.6,296.1 514.1,296.6 514.6,296.5 515.1,296.6 515.6,296.7 516.1,296.7 516.6,297.2 517.1,296.3 517.6,297.9 518.1,297.5 518.6,297.4 519.1,297.8 519.6,297.1 520.1,297.4 520.6,298.0 521.1,297.7 521.6,297.7 522.1,298.1 522.6,297.7 523.1,297.5 523.6,297.5 524.1,298.1 524.6,298.4 525.1,297.7 525.6,298.6 526.1,298.8 526.6,299.2 527.1,298.5 527.6,298.1 528.1,298.6 528.6,298.3 529.1,298.6 529.6,298.7 530.1,299.8 530.6,298.9 531.1,299.4 531.6,299.7 532.1,299.1 532.6,300.7 533.1,299.5 533.6,299.1 534.1,299.8 534.6,299.6 535.1,300.0 535.6,300.1 536.1,300.7 536.6,300.6 537.1,301.6 537.6,300.2 538.1,301.4 538.6,301.7 539.1,300.9 539.6,302.1 540.1,301.6 540.6,301.5 541.1,302.3 541.6,301.8 542.1,301.5 542.6,302.3 543.1,301.9 543.6,302.4 544.1,302.6 544.6,302.0 545.1,302.6 545.6,302.9 546.1,302.4 546.6,302.2 547.1,302.8 547.6,303.4 548.1,303.7 548.6,303.5 549.1,303.9 549.6,304.2 550.1,303.8 550.6,304.2 551.1,304.2 551.6,304.8 552.1,305.2 552.6,305.3 553.1,305.0 553.6,305.6 554.1,305.9 554.6,305.3 555.1,306.0 555.6,306.0 556.1,306.6 556.6,307.2 557.1,306.6 557.6,306.8 558.1,306.8 558.6,307.5 559.1,308.0 559.6,309.0 560.1,308.0 560.6,308.8 561.1,309.4 561.6,309.8 562.1,309.4 562.6,310.2 563.1,309.7 563.6,310.5 564.1,311.2 564.6,311.1 565.1,311.6 565.6,312.5 566.1,312.1 566.6,312.4 567.1,312.9 567.6,313.9 568.1,314.3 568.6,314.0 569.1,314.7 569.6,315.3 570.1,316.0 570.6,316.5 571.1,316.7 571.6,317.1 572.1,317.3 572.6,318.3 573.1,319.1 573.6,319.3 574.1,319.6 574.6,320.8 575.1,321.0 575.6,320.7 576.1,320.6 576.6,322.2 577.1,323.0 577.6,324.1 578.1,324.6 578.6,324.8 579.1,325.4 579.6,326.5 580.1,326.5 580.6,327.6 581.1,328.7 581.6,329.0 582.1,329.2 582.6,330.0 583.1,330.8 583.6,331.7 584.1,331.9 584.6,333.3 585.1,334.0 585.6,335.5 586.1,335.8 586.6,335.7 587.1,337.5 587.6,338.3 588.1,338.1 588.6,339.9 589.1,340.5 589.6,341.4 590.1,341.6 590.6,342.7 591.1,344.3 591.6,345.1 592.1,345.8 592.6,346.2 593.1,347.8 593.6,347.6 594.1,348.7 594.6,350.1 595.1,350.3 595.6,351.6 596.1,351.9 596.6,352.7 597.1,354.5 597.6,354.6 598.1,355.5 598.6,357.0 599.1,357.7 599.6,358.9 600.1,359.7 600.6,360.2 601.1,360.8 601.6,361.8 602.1,362.7 602.6,363.9 603.1,364.3 603.6,365.2 604.1,366.3 604.6,366.9 605.1,367.5 605.6,368.2 606.1,370.1 606.6,370.2 607.1,370.1 607.6,371.5 608.1,372.2 608.6,373.2 609.1,373.5 609.6,373.8 610.1,374.4 610.6,375.5 611.1,375.9 611.6,376.5 612.1,377.6 612.6,377.8 613.1,378.6 613.6,379.1 614.1,379.7 614.6,380.2 615.1,381.0 615.6,380.3 616.1,380.8 616.6,381.9 617.1,382.4 617.6,383.0 618.1,382.6 618.6,382.5 619.1,383.3 619.6,383.5 620.1,383.7 620.6,384.2 621.1,384.2 621.6,384.6 622.1,384.5 622.6,385.2 623.1,385.8 623.6,385.0 624.1,385.0 624.6,385.4 625.1,384.5 625.6,384.4 626.1,385.4 626.6,383.9 627.1,383.8 627.6,384.5 628.1,384.3 628.6,382.8 629.1,382.9 629.6,382.6 630.1,381.5 630.6,381.7 631.1,381.0 631.6,381.3 632.1,379.5 632.6,379.3 633.1,378.7 633.6,377.9 634.1,377.4 634.6,376.8 635.1,375.9 635.6,375.6 636.1,374.5 636.6,373.4 637.1,372.7 637.6,373.1 638.1,372.1 638.6,370.7 639.1,370.1 639.6,369.2 640.1,368.6 640.6,368.2 641.1,366.6 641.6,366.9 642.1,365.3 642.6,364.6 643.1,363.7 643.6,363.7 644.1,362.1 644.6,362.0 645.1,361.5 645.6,359.8 646.1,359.1 646.6,359.3 647.1,358.1 647.6,356.9 648.1,357.2 648.6,356.7 649.1,355.6 649.6,355.0 650.1,354.8 650.6,353.7 651.1,352.5 651.6,352.1 652.1,352.1 652.6,350.9 653.1,350.2 653.6,349.9 654.1,349.7 654.6,348.9 655.1,348.4 655.6,348.3 656.1,347.0 656.6,346.8 657.1,346.1 657.6,345.4 658.1,345.3 658.6,345.1 659.1,344.8 659.6,344.1 660.1,343.7 660.6,343.2 661.1,343.2 661.6,342.7 662.1,342.5 662.6,341.9 663.1,341.6 663.6,341.3 664.1,340.5 664.6,340.3 665.1,340.6 665.6,339.4 666.1,339.1 666.6,338.4 667.1,338.2 667.6,339.1 668.1,338.1 668.6,337.8 669.1,337.4 669.6,338.0 670.1,337.7 670.6,337.5 671.1,336.5 671.6,337.2 672.1,336.6 672.6,335.8 673.1,337.0 673.6,336.4 674.1,335.8 674.6,334.7 675.1,335.3 675.6,335.0 676.1,336.1 676.6,335.3 677.1,335.1" fill="none" stroke="#f23d47" stroke-width="1.05" stroke-linejoin="round" stroke-linecap="round"/>
<polyline points="424.6,294.0 425.1,294.1 425.6,294.2 426.1,294.6 426.6,295.1 427.1,295.3 427.6,295.8 428.1,296.0 428.6,295.7 429.1,297.1 429.6,297.1 430.1,297.2 430.6,298.1 431.1,298.4 431.6,298.9 432.1,299.1 432.6,299.8 433.1,300.2 433.6,301.1 434.1,301.2 434.6,301.9 435.1,302.1 435.6,302.9 436.1,302.8 436.6,304.5 437.1,305.0 437.6,305.3 438.1,305.7 438.6,306.3 439.1,307.6 439.6,308.7 440.1,308.3 440.6,309.5 441.1,310.7 441.6,312.1 442.1,312.3 442.6,312.9 443.1,314.5 443.6,315.9 444.1,316.9 444.6,317.6 445.1,318.8 445.6,321.1 446.1,321.3 446.6,323.2 447.1,324.9 447.6,325.6 448.1,327.8 448.6,329.6 449.1,330.8 449.6,332.3 450.1,334.7 450.6,336.2 451.1,337.4 451.6,340.2 452.1,342.1 452.6,345.1 453.1,347.4 453.6,349.3 454.1,352.0 454.6,353.3 455.1,356.9 455.6,359.2 456.1,362.2 456.6,365.8 457.1,367.9 457.6,371.0 458.1,373.2 458.6,376.5 459.1,380.2 459.6,382.9 460.1,386.8 460.6,389.1 461.1,393.5 461.6,396.4 462.1,399.7 462.6,403.3 463.1,406.4 463.6,408.5 464.1,412.3 464.6,414.7 465.1,417.8 465.6,420.0 466.1,422.6 466.6,424.6 467.1,426.8 467.6,427.5 468.1,428.1 468.6,429.6 469.1,429.6 469.6,430.5 470.1,429.8 470.6,430.6 471.1,430.9 471.6,431.0 472.1,430.3 472.6,429.9 473.1,429.9 473.6,429.3 474.1,428.2 474.6,428.0 475.1,427.6 475.6,426.6 476.1,425.8 476.6,424.2 477.1,422.9 477.6,421.9 478.1,419.4 478.6,417.6 479.1,416.0 479.6,413.7 480.1,411.9 480.6,409.3 481.1,406.4 481.6,403.4 482.1,400.5 482.6,397.7 483.1,395.5 483.6,392.1 484.1,388.4 484.6,386.2 485.1,382.7 485.6,378.9 486.1,376.6 486.6,371.2 487.1,369.2 487.6,364.8 488.1,362.3 488.6,359.0 489.1,355.2 489.6,351.4 490.1,348.9 490.6,345.2 491.1,342.9 491.6,339.4 492.1,336.6 492.6,333.7 493.1,331.7 493.6,328.2 494.1,325.4 494.6,323.7 495.1,320.0 495.6,318.4 496.1,317.8 496.6,315.3 497.1,313.2 497.6,312.4 498.1,310.7 498.6,308.6 499.1,307.4 499.6,307.0 500.1,305.4 500.6,304.1 501.1,302.9 501.6,302.5 502.1,301.4 502.6,301.4 503.1,300.1 503.6,299.7 504.1,299.1 504.6,299.4 505.1,298.9 505.6,298.8 506.1,298.6 506.6,298.3 507.1,298.0 507.6,297.3 508.1,298.0 508.6,297.8 509.1,298.2 509.6,297.4 510.1,298.0 510.6,297.1 511.1,297.4 511.6,297.8 512.1,298.0 512.6,298.5 513.1,298.1 513.6,297.5 514.1,298.6 514.6,298.1 515.1,298.3 515.6,298.2 516.1,298.3 516.6,297.8 517.1,298.5 517.6,298.6 518.1,298.6 518.6,298.5 519.1,299.3 519.6,298.2 520.1,299.2 520.6,299.8 521.1,299.1 521.6,299.5 522.1,299.3 522.6,299.7 523.1,299.3 523.6,299.2 524.1,298.8 524.6,299.4 525.1,299.9 525.6,299.9 526.1,299.5 526.6,299.9 527.1,300.6 527.6,301.1 528.1,300.3 528.6,299.5 529.1,300.5 529.6,301.0 530.1,301.1 530.6,300.8 531.1,301.2 531.6,301.0 532.1,302.0 532.6,300.5 533.1,301.3 533.6,301.1 534.1,301.1 534.6,301.3 535.1,301.3 535.6,300.4 536.1,303.0 536.6,301.3 537.1,301.9 537.6,301.9 538.1,301.9 538.6,302.5 539.1,302.5 539.6,303.2 540.1,302.5 540.6,303.1 541.1,302.3 541.6,303.4 542.1,303.9 542.6,303.7 543.1,304.4 543.6,303.7 544.1,303.9 544.6,303.9 545.1,304.1 545.6,304.2 546.1,305.0 546.6,305.5 547.1,304.8 547.6,304.8 548.1,305.8 548.6,305.9 549.1,306.0 549.6,305.7 550.1,305.6 550.6,306.5 551.1,307.1 551.6,306.5 552.1,307.3 552.6,307.5 553.1,307.8 553.6,307.4 554.1,308.0 554.6,308.4 555.1,308.4 555.6,308.8 556.1,308.5 556.6,308.6 557.1,307.8 557.6,309.7 558.1,309.8 558.6,310.3 559.1,309.9 559.6,310.8 560.1,311.0 560.6,311.0 561.1,311.2 561.6,311.2 562.1,311.9 562.6,312.2 563.1,311.9 563.6,312.4 564.1,313.3 564.6,314.6 565.1,314.5 565.6,314.0 566.1,314.7 566.6,315.8 567.1,316.2 567.6,316.3 568.1,316.8 568.6,316.9 569.1,318.1 569.6,318.8 570.1,318.5 570.6,319.2 571.1,319.8 571.6,320.5 572.1,321.3 572.6,321.7 573.1,322.0 573.6,321.9 574.1,322.7 574.6,323.3 575.1,324.0 575.6,325.0 576.1,324.8 576.6,325.7 577.1,326.6 577.6,328.2 578.1,328.6 578.6,328.7 579.1,329.4 579.6,330.2 580.1,330.8 580.6,331.3 581.1,332.2 581.6,333.0 582.1,333.6 582.6,334.9 583.1,334.9 583.6,336.2 584.1,336.3 584.6,337.8 585.1,338.1 585.6,339.4 586.1,340.2 586.6,341.3 587.1,342.1 587.6,342.8 588.1,343.9 588.6,344.2 589.1,346.1 589.6,345.8 590.1,347.1 590.6,348.1 591.1,348.7 591.6,350.2 592.1,350.5 592.6,351.5 593.1,352.6 593.6,353.3 594.1,354.4 594.6,355.3 595.1,356.7 595.6,357.4 596.1,358.0 596.6,359.2 597.1,360.4 597.6,360.4 598.1,362.1 598.6,363.2 599.1,363.3 599.6,364.0 600.1,365.1 600.6,366.2 601.1,366.7 601.6,368.5 602.1,368.9 602.6,369.7 603.1,371.0 603.6,371.9 604.1,372.7 604.6,373.6 605.1,374.9 605.6,375.8 606.1,376.4 606.6,377.5 607.1,378.0 607.6,378.7 608.1,379.0 608.6,380.2 609.1,380.1 609.6,381.5 610.1,382.1 610.6,382.5 611.1,383.5 611.6,384.1 612.1,384.3 612.6,385.0 613.1,385.1 613.6,386.3 614.1,387.3 614.6,387.1 615.1,388.0 615.6,388.1 616.1,388.3 616.6,389.6 617.1,389.7 617.6,389.4 618.1,390.7 618.6,390.7 619.1,390.4 619.6,392.2 620.1,391.2 620.6,392.2 621.1,392.4 621.6,392.6 622.1,391.8 622.6,392.8 623.1,393.4 623.6,392.3 624.1,393.2 624.6,393.0 625.1,392.6 625.6,392.2 626.1,392.3 626.6,392.7 627.1,391.8 627.6,391.7 628.1,391.0 628.6,390.0 629.1,389.4 629.6,390.6 630.1,390.1 630.6,389.2 631.1,388.2 631.6,387.4 632.1,387.6 632.6,386.4 633.1,386.1 633.6,385.3 634.1,383.3 634.6,382.8 635.1,383.1 635.6,382.0 636.1,380.6 636.6,380.7 637.1,379.8 637.6,378.6 638.1,378.2 638.6,377.1 639.1,376.5 639.6,375.8 640.1,375.3 640.6,373.8 641.1,373.2 641.6,372.2 642.1,371.0 642.6,369.9 643.1,369.4 643.6,368.9 644.1,368.1 644.6,366.8 645.1,366.5 645.6,365.9 646.1,364.9 646.6,364.8 647.1,363.2 647.6,363.6 648.1,361.8 648.6,362.3 649.1,360.9 649.6,360.2 650.1,359.5 650.6,359.0 651.1,357.7 651.6,357.0 652.1,356.3 652.6,356.2 653.1,355.5 653.6,355.3 654.1,353.5 654.6,353.7 655.1,352.8 655.6,353.4 656.1,352.2 656.6,350.8 657.1,350.6 657.6,349.5 658.1,350.7 658.6,349.5 659.1,348.7 659.6,348.9 660.1,348.2 660.6,347.8 661.1,346.9 661.6,346.8 662.1,345.9 662.6,346.4 663.1,345.9 663.6,345.2 664.1,344.5 664.6,344.8 665.1,344.8 665.6,344.5 666.1,343.5 666.6,342.9 667.1,342.9 667.6,342.6 668.1,342.9 668.6,342.4 669.1,342.5 669.6,341.9 670.1,341.6 670.6,341.6 671.1,341.3 671.6,340.7 672.1,340.8 672.6,339.8 673.1,340.2 673.6,339.4 674.1,340.2 674.6,339.2 675.1,339.7 675.6,339.3 676.1,339.2 676.6,338.3 677.1,338.6" fill="none" stroke="#f0353e" stroke-width="1.05" stroke-linejoin="round" stroke-linecap="round"/>
<polyline points="424.6,295.1 425.1,294.9 425.6,295.2 426.1,295.5 426.6,296.0 427.1,297.1 427.6,297.7 428.1,297.3 428.6,297.7 429.1,298.3 429.6,298.7 430.1,298.6 430.6,299.4 431.1,300.1 431.6,300.3 432.1,301.2 432.6,301.9 433.1,301.6 433.6,302.2 434.1,303.1 434.6,303.1 435.1,304.9 435.6,305.0 436.1,305.7 436.6,306.6 437.1,306.0 437.6,307.7 438.1,307.9 438.6,309.2 439.1,309.9 439.6,310.4 440.1,311.6 440.6,312.9 441.1,313.9 441.6,314.5 442.1,314.8 442.6,316.6 443.1,317.2 443.6,318.3 444.1,320.0 444.6,321.1 445.1,322.4 445.6,323.8 446.1,324.9 446.6,326.8 447.1,327.8 447.6,328.7 448.1,331.4 448.6,332.2 449.1,334.4 449.6,336.6 450.1,338.9 450.6,340.0 451.1,341.9 451.6,344.2 452.1,347.3 452.6,349.0 453.1,351.4 453.6,354.0 454.1,356.6 454.6,358.5 455.1,361.9 455.6,365.1 456.1,367.6 456.6,370.8 457.1,373.9 457.6,377.0 458.1,379.9 458.6,383.5 459.1,386.8 459.6,390.8 460.1,394.7 460.6,396.8 461.1,400.9 461.6,404.4 462.1,407.6 462.6,412.2 463.1,414.6 463.6,417.3 464.1,420.7 464.6,424.6 465.1,426.3 465.6,429.0 466.1,431.0 466.6,432.8 467.1,435.2 467.6,436.8 468.1,436.8 468.6,438.9 469.1,438.4 469.6,437.8 470.1,438.7 470.6,438.5 471.1,438.3 471.6,438.4 472.1,437.9 472.6,437.8 473.1,437.5 473.6,436.3 474.1,436.8 474.6,435.4 475.1,434.0 475.6,432.9 476.1,432.3 476.6,430.7 477.1,429.0 477.6,427.2 478.1,425.7 478.6,423.8 479.1,421.8 479.6,420.0 480.1,416.8 480.6,414.5 481.1,411.6 481.6,408.2 482.1,405.9 482.6,403.0 483.1,400.6 483.6,397.1 484.1,392.8 484.6,391.4 485.1,387.4 485.6,383.0 486.1,379.8 486.6,376.8 487.1,373.0 487.6,369.5 488.1,365.9 488.6,362.9 489.1,359.1 489.6,356.3 490.1,352.1 490.6,349.0 491.1,346.4 491.6,342.6 492.1,339.6 492.6,336.9 493.1,333.7 493.6,331.2 494.1,328.7 494.6,326.4 495.1,323.3 495.6,321.3 496.1,319.8 496.6,318.1 497.1,315.9 497.6,314.1 498.1,312.4 498.6,310.9 499.1,310.0 499.6,308.5 500.1,307.1 500.6,305.7 501.1,305.3 501.6,304.0 502.1,304.1 502.6,302.6 503.1,301.4 503.6,301.9 504.1,301.2 504.6,300.9 505.1,300.4 505.6,300.1 506.1,300.2 506.6,299.4 507.1,299.0 507.6,298.7 508.1,299.3 508.6,300.0 509.1,298.8 509.6,299.1 510.1,300.0 510.6,298.7 511.1,298.3 511.6,298.8 512.1,298.8 512.6,298.8 513.1,299.0 513.6,299.3 514.1,299.1 514.6,299.8 515.1,299.6 515.6,299.2 516.1,299.6 516.6,298.7 517.1,299.9 517.6,300.0 518.1,300.4 518.6,299.3 519.1,300.0 519.6,299.9 520.1,299.6 520.6,300.5 521.1,300.1 521.6,301.1 522.1,300.6 522.6,301.0 523.1,300.8 523.6,301.0 524.1,300.5 524.6,300.7 525.1,301.1 525.6,301.4 526.1,300.9 526.6,301.2 527.1,301.2 527.6,301.2 528.1,301.6 528.6,301.4 529.1,301.6 529.6,302.5 530.1,302.4 530.6,301.1 531.1,302.7 531.6,303.3 532.1,302.6 532.6,302.5 533.1,302.6 533.6,302.1 534.1,303.1 534.6,302.7 535.1,302.9 535.6,303.6 536.1,303.3 536.6,304.0 537.1,304.0 537.6,303.1 538.1,304.3 538.6,304.2 539.1,303.8 539.6,303.8 540.1,304.7 540.6,304.5 541.1,304.2 541.6,304.3 542.1,304.6 542.6,305.7 543.1,305.5 543.6,305.1 544.1,305.8 544.6,305.9 545.1,306.0 545.6,306.0 546.1,306.3 546.6,306.6 547.1,305.6 547.6,306.4 548.1,306.5 548.6,307.2 549.1,307.3 549.6,307.3 550.1,308.0 550.6,307.7 551.1,307.8 551.6,308.1 552.1,308.5 552.6,307.7 553.1,309.8 553.6,309.2 554.1,309.4 554.6,309.4 555.1,310.2 555.6,310.5 556.1,310.4 556.6,310.7 557.1,311.5 557.6,311.7 558.1,311.8 558.6,311.4 559.1,312.0 559.6,312.4 560.1,311.7 560.6,312.1 561.1,312.5 561.6,314.3 562.1,314.4 562.6,314.4 563.1,314.8 563.6,315.6 564.1,316.3 564.6,316.2 565.1,316.0 565.6,317.1 566.1,317.6 566.6,318.0 567.1,317.6 567.6,318.8 568.1,318.9 568.6,319.2 569.1,319.7 569.6,320.8 570.1,321.4 570.6,321.9 571.1,322.4 571.6,322.6 572.1,322.7 572.6,324.4 573.1,324.9 573.6,324.8 574.1,326.3 574.6,326.5 575.1,327.2 575.6,326.9 576.1,328.1 576.6,329.0 577.1,329.5 577.6,330.6 578.1,331.6 578.6,332.7 579.1,333.2 579.6,332.6 580.1,334.6 580.6,334.5 581.1,335.3 581.6,336.9 582.1,337.2 582.6,338.1 583.1,338.4 583.6,339.6 584.1,340.6 584.6,341.8 585.1,342.7 585.6,343.6 586.1,343.1 586.6,344.9 587.1,345.7 587.6,346.5 588.1,347.8 588.6,348.6 589.1,349.2 589.6,350.1 590.1,351.5 590.6,353.8 591.1,354.0 591.6,353.8 592.1,355.3 592.6,356.4 593.1,357.2 593.6,358.9 594.1,359.0 594.6,360.2 595.1,361.6 595.6,362.4 596.1,363.5 596.6,363.9 597.1,365.0 597.6,366.6 598.1,367.3 598.6,369.0 599.1,368.4 599.6,369.7 600.1,371.5 600.6,372.6 601.1,373.4 601.6,374.2 602.1,374.7 602.6,375.7 603.1,376.4 603.6,377.6 604.1,378.1 604.6,379.5 605.1,380.2 605.6,381.2 606.1,381.8 606.6,383.3 607.1,384.0 607.6,384.3 608.1,385.7 608.6,386.2 609.1,386.7 609.6,387.1 610.1,389.0 610.6,388.9 611.1,390.2 611.6,390.8 612.1,391.0 612.6,391.9 613.1,392.1 613.6,393.0 614.1,393.3 614.6,393.8 615.1,395.2 615.6,395.3 616.1,395.5 616.6,396.0 617.1,396.8 617.6,396.5 618.1,397.2 618.6,397.5 619.1,397.3 619.6,398.4 620.1,398.1 620.6,397.7 621.1,398.9 621.6,398.8 622.1,398.3 622.6,399.1 623.1,399.9 623.6,399.5 624.1,399.0 624.6,399.6 625.1,399.3 625.6,399.2 626.1,399.0 626.6,398.2 627.1,398.0 627.6,398.7 628.1,398.0 628.6,397.6 629.1,396.5 629.6,396.0 630.1,395.8 630.6,395.4 631.1,394.1 631.6,394.5 632.1,392.4 632.6,392.4 633.1,391.4 633.6,389.9 634.1,390.1 634.6,389.2 635.1,387.9 635.6,387.5 636.1,387.0 636.6,386.4 637.1,384.8 637.6,384.4 638.1,382.8 638.6,382.6 639.1,381.4 639.6,380.8 640.1,380.5 640.6,379.4 641.1,377.5 641.6,377.3 642.1,375.9 642.6,375.4 643.1,375.1 643.6,373.3 644.1,373.5 644.6,372.4 645.1,370.9 645.6,370.7 646.1,369.5 646.6,368.8 647.1,368.0 647.6,368.1 648.1,366.8 648.6,366.0 649.1,365.5 649.6,364.2 650.1,364.1 650.6,363.1 651.1,361.9 651.6,361.5 652.1,361.1 652.6,360.4 653.1,360.3 653.6,359.5 654.1,358.6 654.6,357.7 655.1,357.5 655.6,356.8 656.1,356.2 656.6,355.2 657.1,354.7 657.6,354.3 658.1,353.4 658.6,353.2 659.1,352.8 659.6,352.9 660.1,352.0 660.6,352.5 661.1,352.1 661.6,350.9 662.1,350.6 662.6,350.0 663.1,349.7 663.6,349.4 664.1,349.2 664.6,348.4 665.1,347.8 665.6,348.3 666.1,347.0 666.6,347.6 667.1,347.9 667.6,346.6 668.1,346.4 668.6,345.9 669.1,345.2 669.6,345.3 670.1,344.6 670.6,345.2 671.1,344.6 671.6,344.8 672.1,344.1 672.6,343.8 673.1,344.2 673.6,344.1 674.1,343.1 674.6,343.5 675.1,343.9 675.6,342.4 676.1,342.9 676.6,342.4 677.1,342.6" fill="none" stroke="#ee2d36" stroke-width="1.05" stroke-linejoin="round" stroke-linecap="round"/>
<polyline points="424.6,296.3 425.1,296.3 425.6,296.1 426.1,297.4 426.6,297.4 427.1,298.6 427.6,298.5 428.1,298.7 428.6,299.4 429.1,300.0 429.6,299.5 430.1,300.2 430.6,301.2 431.1,301.7 431.6,301.8 432.1,302.6 432.6,303.4 433.1,303.7 433.6,303.8 434.1,303.7 434.6,305.2 435.1,306.0 435.6,306.4 436.1,307.6 436.6,308.2 437.1,308.2 437.6,309.7 438.1,310.6 438.6,311.5 439.1,312.0 439.6,312.9 440.1,313.5 440.6,315.3 441.1,315.9 441.6,316.8 442.1,317.9 442.6,319.2 443.1,319.7 443.6,320.3 444.1,321.8 444.6,324.2 445.1,324.6 445.6,326.4 446.1,327.8 446.6,329.7 447.1,330.7 447.6,332.7 448.1,334.5 448.6,335.5 449.1,337.5 449.6,339.5 450.1,341.2 450.6,343.6 451.1,345.7 451.6,348.6 452.1,350.5 452.6,353.1 453.1,355.8 453.6,358.6 454.1,360.3 454.6,364.0 455.1,367.0 455.6,369.1 456.1,371.7 456.6,375.8 457.1,377.9 457.6,382.4 458.1,385.6 458.6,389.5 459.1,392.5 459.6,396.5 460.1,400.1 460.6,403.5 461.1,407.9 461.6,411.5 462.1,415.4 462.6,418.1 463.1,422.0 463.6,424.2 464.1,428.2 464.6,431.3 465.1,434.5 465.6,436.8 466.1,439.8 466.6,440.5 467.1,442.0 467.6,443.3 468.1,444.7 468.6,444.2 469.1,444.6 469.6,444.8 470.1,444.6 470.6,444.0 471.1,444.4 471.6,444.0 472.1,443.4 472.6,443.6 473.1,443.1 473.6,442.8 474.1,441.3 474.6,440.4 475.1,440.1 475.6,438.6 476.1,436.9 476.6,435.4 477.1,434.3 477.6,431.7 478.1,430.8 478.6,428.2 479.1,425.9 479.6,424.8 480.1,422.1 480.6,417.9 481.1,415.4 481.6,413.2 482.1,410.5 482.6,407.0 483.1,403.5 483.6,400.5 484.1,397.3 484.6,393.3 485.1,389.7 485.6,386.1 486.1,383.8 486.6,380.0 487.1,376.4 487.6,372.5 488.1,369.5 488.6,365.5 489.1,362.4 489.6,358.1 490.1,355.4 490.6,352.1 491.1,348.8 491.6,345.3 492.1,342.0 492.6,339.6 493.1,336.7 493.6,334.0 494.1,331.1 494.6,328.6 495.1,325.7 495.6,323.7 496.1,322.7 496.6,319.8 497.1,317.8 497.6,316.3 498.1,314.8 498.6,312.5 499.1,311.6 499.6,310.2 500.1,309.0 500.6,307.9 501.1,305.9 501.6,305.6 502.1,305.1 502.6,304.4 503.1,304.4 503.6,303.3 504.1,303.4 504.6,301.5 505.1,302.0 505.6,302.2 506.1,301.5 506.6,301.1 507.1,300.7 507.6,300.9 508.1,300.1 508.6,299.5 509.1,299.5 509.6,298.8 510.1,299.8 510.6,299.9 511.1,298.9 511.6,300.4 512.1,299.9 512.6,299.5 513.1,299.5 513.6,299.8 514.1,300.5 514.6,300.4 515.1,300.2 515.6,300.4 516.1,300.2 516.6,300.2 517.1,300.8 517.6,300.7 518.1,300.9 518.6,300.8 519.1,301.4 519.6,301.3 520.1,301.0 520.6,301.8 521.1,300.8 521.6,300.6 522.1,300.5 522.6,301.8 523.1,301.8 523.6,301.8 524.1,302.8 524.6,302.0 525.1,301.6 525.6,302.7 526.1,301.8 526.6,302.0 527.1,303.7 527.6,302.8 528.1,302.7 528.6,303.1 529.1,302.5 529.6,303.7 530.1,302.7 530.6,303.4 531.1,302.6 531.6,303.6 532.1,303.9 532.6,304.5 533.1,304.3 533.6,303.8 534.1,304.1 534.6,304.3 535.1,304.2 535.6,304.1 536.1,304.6 536.6,305.3 537.1,304.2 537.6,305.0 538.1,305.7 538.6,304.8 539.1,304.4 539.6,305.6 540.1,304.8 540.6,306.0 541.1,305.7 541.6,306.2 542.1,305.6 542.6,305.7 543.1,307.2 543.6,307.3 544.1,307.1 544.6,306.9 545.1,307.0 545.6,306.8 546.1,307.4 546.6,308.3 547.1,307.7 547.6,308.3 548.1,308.5 548.6,308.3 549.1,308.3 549.6,308.4 550.1,309.4 550.6,308.2 551.1,309.8 551.6,309.5 552.1,309.6 552.6,310.5 553.1,309.9 553.6,310.7 554.1,311.5 554.6,310.9 555.1,310.8 555.6,311.5 556.1,312.2 556.6,311.9 557.1,312.9 557.6,312.0 558.1,313.4 558.6,314.0 559.1,313.3 559.6,314.2 560.1,313.9 560.6,314.0 561.1,315.7 561.6,315.1 562.1,315.2 562.6,316.4 563.1,316.7 563.6,316.9 564.1,317.7 564.6,318.3 565.1,318.3 565.6,318.6 566.1,319.5 566.6,319.6 567.1,319.0 567.6,320.5 568.1,321.1 568.6,322.5 569.1,321.5 569.6,323.2 570.1,322.7 570.6,324.4 571.1,324.1 571.6,325.6 572.1,326.7 572.6,325.8 573.1,326.5 573.6,327.1 574.1,328.3 574.6,329.3 575.1,329.5 575.6,329.8 576.1,330.5 576.6,331.2 577.1,332.1 577.6,332.2 578.1,334.2 578.6,334.0 579.1,335.3 579.6,337.0 580.1,337.0 580.6,337.1 581.1,338.9 581.6,339.3 582.1,339.7 582.6,341.4 583.1,342.1 583.6,343.2 584.1,344.3 584.6,343.8 585.1,345.7 585.6,346.0 586.1,347.9 586.6,347.4 587.1,349.4 587.6,350.5 588.1,351.9 588.6,352.4 589.1,353.9 589.6,354.1 590.1,354.8 590.6,355.9 591.1,356.9 591.6,358.2 592.1,358.6 592.6,360.1 593.1,361.4 593.6,363.3 594.1,362.7 594.6,364.4 595.1,365.7 595.6,366.2 596.1,367.9 596.6,368.3 597.1,369.4 597.6,371.0 598.1,371.8 598.6,371.4 599.1,373.3 599.6,374.7 600.1,374.7 600.6,377.1 601.1,378.4 601.6,379.3 602.1,379.3 602.6,380.1 603.1,381.2 603.6,382.0 604.1,383.0 604.6,384.4 605.1,384.7 605.6,386.2 606.1,387.0 606.6,387.9 607.1,388.8 607.6,389.6 608.1,390.1 608.6,391.1 609.1,391.9 609.6,393.0 610.1,393.7 610.6,394.6 611.1,394.6 611.6,395.7 612.1,396.6 612.6,396.9 613.1,397.7 613.6,398.9 614.1,399.4 614.6,399.2 615.1,400.1 615.6,400.1 616.1,400.9 616.6,400.6 617.1,401.9 617.6,402.0 618.1,402.7 618.6,403.5 619.1,403.2 619.6,403.7 620.1,403.6 620.6,404.4 621.1,404.2 621.6,405.4 622.1,405.3 622.6,404.4 623.1,405.3 623.6,404.5 624.1,405.1 624.6,405.5 625.1,404.6 625.6,403.6 626.1,404.0 626.6,403.5 627.1,403.3 627.6,403.5 628.1,403.5 628.6,402.8 629.1,401.6 629.6,401.6 630.1,399.8 630.6,400.9 631.1,399.6 631.6,398.7 632.1,398.0 632.6,398.3 633.1,396.7 633.6,395.4 634.1,394.8 634.6,393.5 635.1,393.5 635.6,392.7 636.1,391.0 636.6,390.7 637.1,389.6 637.6,389.1 638.1,388.2 638.6,387.5 639.1,386.0 639.6,384.4 640.1,383.8 640.6,383.0 641.1,381.9 641.6,381.6 642.1,380.3 642.6,379.8 643.1,378.4 643.6,377.8 644.1,377.3 644.6,376.9 645.1,375.6 645.6,374.5 646.1,373.3 646.6,372.4 647.1,372.3 647.6,371.2 648.1,370.7 648.6,369.5 649.1,368.7 649.6,367.5 650.1,367.0 650.6,366.7 651.1,366.7 651.6,365.9 652.1,364.3 652.6,363.9 653.1,362.7 653.6,362.0 654.1,360.9 654.6,361.5 655.1,360.6 655.6,358.8 656.1,359.3 656.6,359.7 657.1,358.5 657.6,357.2 658.1,357.5 658.6,357.0 659.1,355.9 659.6,355.2 660.1,355.2 660.6,354.7 661.1,354.7 661.6,353.5 662.1,353.3 662.6,353.3 663.1,353.2 663.6,352.2 664.1,352.1 664.6,352.3 665.1,351.5 665.6,351.2 666.1,350.0 666.6,350.3 667.1,349.4 667.6,349.2 668.1,349.7 668.6,348.6 669.1,348.8 669.6,348.5 670.1,347.8 670.6,347.2 671.1,346.6 671.6,347.1 672.1,347.2 672.6,346.6 673.1,347.0 673.6,346.1 674.1,347.4 674.6,345.7 675.1,346.2 675.6,345.8 676.1,345.5 676.6,345.2 677.1,344.4" fill="none" stroke="#ed272f" stroke-width="1.05" stroke-linejoin="round" stroke-linecap="round"/>
<polyline points="424.6,296.5 425.1,297.1 425.6,297.0 426.1,298.6 426.6,298.1 427.1,299.3 427.6,299.4 428.1,299.6 428.6,301.0 429.1,301.7 429.6,301.2 430.1,302.3 430.6,302.5 431.1,303.1 431.6,303.8 432.1,303.2 432.6,304.4 433.1,305.0 433.6,305.9 434.1,306.9 434.6,306.5 435.1,308.3 435.6,308.8 436.1,309.5 436.6,309.8 437.1,311.1 437.6,312.0 438.1,312.7 438.6,313.9 439.1,314.7 439.6,314.9 440.1,316.2 440.6,317.2 441.1,318.2 441.6,318.5 442.1,319.7 442.6,321.7 443.1,322.9 443.6,323.8 444.1,324.3 444.6,326.3 445.1,327.3 445.6,330.0 446.1,330.8 446.6,332.2 447.1,335.1 447.6,335.3 448.1,337.5 448.6,339.7 449.1,341.6 449.6,342.9 450.1,345.0 450.6,347.7 451.1,349.5 451.6,352.5 452.1,354.6 452.6,357.2 453.1,359.6 453.6,362.3 454.1,365.4 454.6,368.7 455.1,371.6 455.6,374.2 456.1,377.8 456.6,380.7 457.1,384.2 457.6,387.8 458.1,392.3 458.6,396.6 459.1,400.1 459.6,403.6 460.1,406.9 460.6,410.9 461.1,415.8 461.6,420.3 462.1,423.4 462.6,426.3 463.1,430.4 463.6,434.9 464.1,437.1 464.6,439.7 465.1,442.6 465.6,445.4 466.1,446.9 466.6,448.0 467.1,449.7 467.6,450.9 468.1,450.9 468.6,450.3 469.1,451.5 469.6,451.5 470.1,450.5 470.6,450.3 471.1,451.6 471.6,451.1 472.1,450.6 472.6,450.6 473.1,449.4 473.6,447.7 474.1,448.0 474.6,446.4 475.1,446.0 475.6,444.9 476.1,442.7 476.6,441.5 477.1,440.1 477.6,437.6 478.1,435.2 478.6,433.3 479.1,430.7 479.6,429.5 480.1,426.5 480.6,423.2 481.1,420.9 481.6,418.6 482.1,414.6 482.6,412.1 483.1,407.3 483.6,404.2 484.1,401.1 484.6,398.1 485.1,394.1 485.6,389.9 486.1,386.9 486.6,383.7 487.1,380.1 487.6,375.6 488.1,372.2 488.6,368.8 489.1,365.4 489.6,362.1 490.1,358.7 490.6,354.1 491.1,352.0 491.6,348.2 492.1,345.5 492.6,342.1 493.1,340.2 493.6,336.2 494.1,333.6 494.6,330.7 495.1,328.4 495.6,326.5 496.1,324.9 496.6,321.8 497.1,320.4 497.6,318.5 498.1,317.7 498.6,314.3 499.1,314.1 499.6,313.1 500.1,311.1 500.6,309.3 501.1,309.5 501.6,307.5 502.1,306.3 502.6,306.7 503.1,305.0 503.6,305.1 504.1,304.3 504.6,303.6 505.1,303.2 505.6,303.0 506.1,301.5 506.6,301.3 507.1,301.7 507.6,302.3 508.1,301.6 508.6,301.3 509.1,301.3 509.6,300.8 510.1,301.1 510.6,301.3 511.1,301.4 511.6,301.7 512.1,300.7 512.6,300.8 513.1,301.4 513.6,301.9 514.1,300.9 514.6,302.1 515.1,301.1 515.6,301.3 516.1,302.1 516.6,301.6 517.1,301.7 517.6,301.3 518.1,301.8 518.6,302.8 519.1,301.9 519.6,302.2 520.1,301.5 520.6,302.3 521.1,302.4 521.6,302.3 522.1,302.6 522.6,302.7 523.1,302.9 523.6,302.8 524.1,302.9 524.6,303.1 525.1,302.9 525.6,303.1 526.1,303.6 526.6,303.4 527.1,304.0 527.6,303.6 528.1,304.5 528.6,304.3 529.1,305.0 529.6,303.6 530.1,303.5 530.6,305.4 531.1,304.3 531.6,304.2 532.1,305.3 532.6,305.8 533.1,306.3 533.6,306.0 534.1,305.0 534.6,305.2 535.1,305.8 535.6,305.3 536.1,306.1 536.6,305.8 537.1,306.4 537.6,306.0 538.1,305.4 538.6,306.3 539.1,306.3 539.6,306.7 540.1,307.1 540.6,306.9 541.1,307.4 541.6,307.3 542.1,308.0 542.6,307.1 543.1,308.2 543.6,308.3 544.1,307.8 544.6,309.1 545.1,309.1 545.6,309.1 546.1,309.0 546.6,309.3 547.1,309.1 547.6,309.6 548.1,310.2 548.6,309.5 549.1,309.6 549.6,310.6 550.1,311.0 550.6,310.8 551.1,311.8 551.6,312.2 552.1,310.7 552.6,311.4 553.1,311.3 553.6,312.9 554.1,311.6 554.6,312.9 555.1,312.6 555.6,312.6 556.1,314.2 556.6,314.0 557.1,314.1 557.6,314.4 558.1,315.1 558.6,316.0 559.1,315.7 559.6,316.3 560.1,316.0 560.6,316.7 561.1,317.1 561.6,316.8 562.1,318.5 562.6,318.0 563.1,318.9 563.6,319.2 564.1,320.2 564.6,319.5 565.1,320.5 565.6,321.1 566.1,321.3 566.6,322.4 567.1,321.8 567.6,323.2 568.1,323.3 568.6,324.1 569.1,324.1 569.6,325.5 570.1,326.6 570.6,326.3 571.1,326.7 571.6,327.0 572.1,328.0 572.6,329.1 573.1,328.8 573.6,329.8 574.1,331.1 574.6,332.2 575.1,333.7 575.6,333.2 576.1,334.0 576.6,335.0 577.1,334.5 577.6,336.3 578.1,336.6 578.6,337.3 579.1,338.3 579.6,339.0 580.1,338.7 580.6,340.7 581.1,342.2 581.6,342.4 582.1,343.9 582.6,344.4 583.1,345.4 583.6,346.3 584.1,347.2 584.6,347.8 585.1,349.0 585.6,350.8 586.1,350.1 586.6,352.2 587.1,353.6 587.6,353.4 588.1,355.7 588.6,355.9 589.1,357.1 589.6,357.6 590.1,360.0 590.6,360.6 591.1,361.9 591.6,362.8 592.1,363.6 592.6,365.0 593.1,365.3 593.6,366.6 594.1,368.1 594.6,369.3 595.1,370.0 595.6,371.1 596.1,371.7 596.6,374.1 597.1,374.4 597.6,375.4 598.1,377.0 598.6,377.4 599.1,379.0 599.6,378.7 600.1,380.9 600.6,381.9 601.1,382.9 601.6,384.5 602.1,385.4 602.6,386.0 603.1,387.0 603.6,387.8 604.1,388.8 604.6,389.8 605.1,390.8 605.6,391.2 606.1,392.9 606.6,392.9 607.1,394.8 607.6,395.1 608.1,395.7 608.6,397.4 609.1,398.2 609.6,398.5 610.1,399.7 610.6,400.0 611.1,401.6 611.6,402.2 612.1,402.4 612.6,403.4 613.1,404.0 613.6,404.2 614.1,404.8 614.6,405.6 615.1,406.7 615.6,405.1 616.1,406.7 616.6,407.8 617.1,408.0 617.6,408.5 618.1,408.5 618.6,408.8 619.1,409.7 619.6,409.1 620.1,410.0 620.6,410.9 621.1,409.6 621.6,410.8 622.1,410.2 622.6,410.8 623.1,410.5 623.6,411.2 624.1,410.9 624.6,411.1 625.1,410.8 625.6,410.7 626.1,410.2 626.6,409.0 627.1,409.0 627.6,408.5 628.1,408.8 628.6,409.0 629.1,406.7 629.6,407.3 630.1,406.1 630.6,405.4 631.1,404.7 631.6,404.0 632.1,403.9 632.6,402.8 633.1,401.8 633.6,400.8 634.1,399.4 634.6,399.0 635.1,397.9 635.6,396.9 636.1,396.5 636.6,395.4 637.1,394.8 637.6,393.7 638.1,392.9 638.6,391.6 639.1,391.0 639.6,389.7 640.1,388.0 640.6,387.6 641.1,387.2 641.6,385.6 642.1,385.8 642.6,385.3 643.1,383.0 643.6,383.1 644.1,380.9 644.6,381.3 645.1,379.9 645.6,379.3 646.1,378.6 646.6,377.1 647.1,376.6 647.6,374.7 648.1,374.2 648.6,373.3 649.1,372.6 649.6,372.0 650.1,371.2 650.6,370.3 651.1,370.0 651.6,369.3 652.1,368.4 652.6,367.7 653.1,367.1 653.6,365.3 654.1,365.1 654.6,366.0 655.1,363.4 655.6,363.7 656.1,362.4 656.6,361.5 657.1,362.1 657.6,361.2 658.1,360.4 658.6,359.8 659.1,359.5 659.6,359.5 660.1,359.0 660.6,358.3 661.1,359.0 661.6,357.5 662.1,357.1 662.6,356.8 663.1,355.1 663.6,355.5 664.1,354.9 664.6,354.7 665.1,354.0 665.6,354.2 666.1,353.8 666.6,353.9 667.1,352.6 667.6,353.0 668.1,351.9 668.6,352.5 669.1,352.0 669.6,352.1 670.1,351.7 670.6,351.7 671.1,351.5 671.6,350.4 672.1,350.0 672.6,350.4 673.1,349.9 673.6,350.1 674.1,349.7 674.6,349.1 675.1,349.0 675.6,348.5 676.1,348.7 676.6,348.3 677.1,348.5" fill="none" stroke="#eb2028" stroke-width="1.05" stroke-linejoin="round" stroke-linecap="round"/>
</g>
<path d="M424.6,256.1 L677.5,256.1 L677.5,455.7" fill="none" stroke="#333" stroke-width="1.3"/>
<path d="M424.6,256.1 L424.6,455.7 L677.5,455.7" fill="none" stroke="#555" stroke-width="1.3"/>
<line x1="451.6" y1="455.7" x2="451.6" y2="451.7" stroke="#444" stroke-width="1.1"/>
<text x="451.6" y="472.5" font-family='"Liberation Serif", serif' font-size="16" text-anchor="middle" fill="#000">0.79</text>
<line x1="541.6" y1="455.7" x2="541.6" y2="451.7" stroke="#444" stroke-width="1.1"/>
<text x="541.6" y="472.5" font-family='"Liberation Serif", serif' font-size="16" text-anchor="middle" fill="#000">0.80</text>
<line x1="631.6" y1="455.7" x2="631.6" y2="451.7" stroke="#444" stroke-width="1.1"/>
<text x="631.6" y="472.5" font-family='"Liberation Serif", serif' font-size="16" text-anchor="middle" fill="#000">0.81</text>
<line x1="496.6" y1="455.7" x2="496.6" y2="453.7" stroke="#444" stroke-width="1.1"/>
<line x1="586.6" y1="455.7" x2="586.6" y2="453.7" stroke="#444" stroke-width="1.1"/>
<line x1="424.6" y1="277.7" x2="428.6" y2="277.7" stroke="#444" stroke-width="1.1"/>
<text x="419.5" y="283.2" font-family='"Liberation Serif", serif' font-size="16" text-anchor="end" fill="#000">0</text>
<line x1="424.6" y1="349.55" x2="428.6" y2="349.55" stroke="#444" stroke-width="1.1"/>
<text x="419.5" y="355.05" font-family='"Liberation Serif", serif' font-size="16" text-anchor="end" fill="#000">-50</text>
<line x1="424.6" y1="421.4" x2="428.6" y2="421.4" stroke="#444" stroke-width="1.1"/>
<text x="419.5" y="426.9" font-family='"Liberation Serif", serif' font-size="16" text-anchor="end" fill="#000">-100</text>
<line x1="424.6" y1="313.62" x2="426.6" y2="313.62" stroke="#444" stroke-width="1.1"/>
<line x1="424.6" y1="385.48" x2="426.6" y2="385.48" stroke="#444" stroke-width="1.1"/>
<text x="401" y="258.8" font-family='"Liberation Serif", serif' font-size="16" text-anchor="middle" fill="#000">(d)</text>
<text x="381.5" y="349.5" font-family='"Liberation Serif", serif' font-size="20.8" text-anchor="middle" fill="#000" transform="rotate(-90 381.5 349.5)"><tspan dy="0" font-size="20.8">Δα</tspan><tspan dy="6.24" font-size="12.9">NDD</tspan><tspan dy="-6.24" font-size="20.8"> (+</tspan><tspan dy="0" font-size="20.8" font-style="italic">k</tspan><tspan dy="0" font-size="20.8">, ±</tspan><tspan dy="0" font-size="20.8" font-style="italic">H</tspan><tspan dy="0" font-size="20.8">) (cm</tspan><tspan dy="-8.74" font-size="12.9">-1</tspan><tspan dy="8.74" font-size="20.8">)</tspan></text>
<text x="556.1" y="494" font-family='"Liberation Serif", serif' font-size="20.8" text-anchor="middle" fill="#000">Energy (eV)</text>
<text x="476.9" y="274.4" font-family='"Liberation Serif", serif' font-size="16.6" text-anchor="middle" fill="#ff80ff">0 T</text>
<text x="619.3" y="430" font-family='"Liberation Serif", serif' font-size="16.7" text-anchor="middle" fill="#e0101c">60 T</text>
<text x="572.9" y="449.9" font-family='"Liberation Serif", serif' font-size="15" text-anchor="middle" fill="#000"><tspan dy="0" font-size="15">Δα(+</tspan><tspan dy="0" font-size="15" font-style="italic">k</tspan><tspan dy="0" font-size="15">, +</tspan><tspan dy="0" font-size="15" font-style="italic">H</tspan><tspan dy="0" font-size="15">) - Δα(+</tspan><tspan dy="0" font-size="15" font-style="italic">k</tspan><tspan dy="0" font-size="15">, -</tspan><tspan dy="0" font-size="15" font-style="italic">H</tspan><tspan dy="0" font-size="15">)</tspan></text>
</g></svg></body></html>
